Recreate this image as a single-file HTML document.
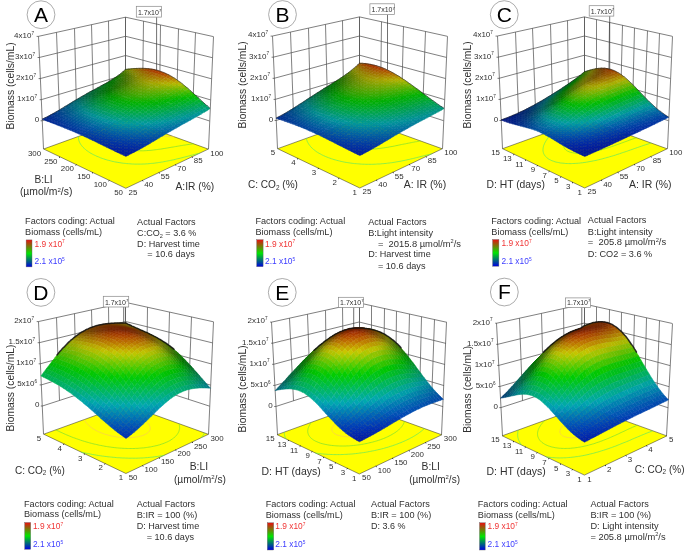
<!DOCTYPE html><html><head><meta charset="utf-8"><style>html,body{margin:0;padding:0;background:#fff;width:685px;height:553px;overflow:hidden}
svg{position:absolute;left:0;top:0;will-change:transform;font-family:"Liberation Sans",sans-serif;fill:#303030}
.s path{fill:currentColor;stroke:currentColor;stroke-width:.5;stroke-linejoin:round}
.g{stroke:#555;stroke-width:.75;fill:none}
.fl{fill:#ff0;stroke:#222;stroke-width:.5}
</style></head><body><svg width="685" height="553" viewBox="0 0 685 553"><defs><linearGradient id="cb" x1="0" y1="0" x2="0" y2="1"><stop offset="0" stop-color="#e81010"/><stop offset=".5" stop-color="#00e600"/><stop offset="1" stop-color="#0000e0"/></linearGradient></defs><path class="g" d="M43.5 149L38.5 36.4M59.5 115.2L56.5 32.4M76.5 109.7L74.5 28.5M93.5 104.3L91.5 24.7M109.5 99L108.5 20.9M125.5 93.8L125.5 17.2M42.2 120.8L125.7 93.8M41.2 99.7L125.7 74.6M40.2 78.6L125.6 55.5M39.2 57.5L125.6 36.3M38.2 36.4L125.5 17.2M208.5 149.1L213.5 36.6M192.5 115.5L195.5 32.7M176.5 110.1L178.5 28.8M159.5 104.7L160.5 25M142.5 99.2L143.5 21.1M125.5 93.8L125.5 17.2M209.6 121L125.7 93.8M210.5 99.9L125.7 74.6M211.5 78.8L125.6 55.5M212.4 57.7L125.6 36.3M213.4 36.6L125.5 17.2"/><path class="fl" d="M125.8 188.3L208.3 149.1L125.8 119.3L43.6 149Z"/><path d="M199.7 153.2 198.3 153.5 197.1 153.8 195.5 154.2 194.4 154.5 192.8 155.0 191.7 155.2 190.0 155.7 188.9 156.0 187.3 156.4 186.1 156.7 184.5 157.1 183.3 157.4 181.8 157.8 180.6 158.1 179.0 158.5 177.9 158.7 176.2 159.1 175.3 159.4 173.4 159.8 172.4 160.0 170.5 160.4 169.5 160.6 168.1 160.9 166.6 161.2 165.6 161.4 163.8 161.7 162.5 162.0 161.5 162.1 159.7 162.4 158.3 162.6 157.2 162.8 156.0 162.9 154.2 163.2 152.8 163.3 151.6 163.4 150.5 163.5 149.1 163.7 147.5 163.8 146.0 163.9 144.5 164.0 143.1 164.0 141.7 164.1 140.4 164.1 139.0 164.1 137.6 164.1 136.2 164.1 134.8 164.1 133.6 164.0 132.3 164.0 131.1 163.9 129.9 163.8 128.4 163.7 126.7 163.6 125.3 163.4 124.2 163.3 123.1 163.2 121.1 162.9 120.0 162.7 119.0 162.6 117.0 162.2 116.0 162.1 114.5 161.8 113.2 161.5 111.8 161.2 110.4 160.8 108.8 160.4 107.8 160.2 106.2 159.7 105.0 159.3 103.7 158.9 102.2 158.4 100.6 157.8 99.2 157.2 98.2 156.8 97.0 156.4 95.7 155.7 94.8 155.3 93.7 154.8 92.4 154.1 91.2 153.4 90.0 152.8 89.3 152.3 88.4 151.7 87.3 150.9 86.8 150.6 85.8 149.8 85.3 149.3 84.4 148.6 84.0 148.2 83.2 147.4 82.8 147.0 82.1 146.2 81.7 145.7 81.4 145.3 80.8 144.5 80.5 143.9 80.2 143.5 79.9 143.0 79.6 142.3 79.3 141.6 79.1 141.1 78.9 140.6 78.8 140.1 78.7 139.6 78.6 139.1 78.5 138.5 78.5 138.0 78.5 137.4 78.5 136.9 78.5 136.4" fill="none" stroke="#5ee860" stroke-width=".7"/><path d="M193.6 143.8 192.4 143.9 190.8 144.2 189.1 144.4 188.0 144.6 186.9 144.7 185.2 145.0 183.7 145.2 182.7 145.4 181.3 145.6 179.5 145.9 178.5 146.1 177.3 146.3 175.4 146.6 174.3 146.8 173.2 147.0 171.2 147.3 170.2 147.5 169.0 147.7 167.2 148.0 166.1 148.2 164.8 148.4 163.0 148.7 162.0 148.9 160.8 149.1 158.8 149.3 157.8 149.5 156.7 149.6 155.1 149.8 153.4 150.0 152.2 150.2 151.1 150.3 149.9 150.4 148.2 150.5 146.7 150.6 145.2 150.7 143.7 150.8 142.4 150.8 141.0 150.8 139.6 150.8 138.3 150.8 137.1 150.7 135.9 150.6 134.8 150.6 133.1 150.4 131.5 150.2 130.5 150.1 128.9 149.8 127.6 149.6 126.2 149.3 124.9 149.0 123.3 148.5 121.8 148.0 120.4 147.4 120.4 147.4 119.1 146.8 117.8 146.2 116.7 145.5 116.1 145.1 115.2 144.4 114.7 143.9 114.0 143.3 113.6 142.8 113.1 142.2 112.7 141.5 112.5 141.1 112.3 140.6 112.1 140.1 111.9 139.5 111.8 138.9 111.7 138.3 111.7 137.7 111.7 137.2 111.7 136.7 111.8 136.2 111.8 135.7 111.9 135.2 112.1 134.7 112.2 134.1 112.4 133.5 112.6 132.9 112.8 132.3 112.9 131.8 113.1 131.4 113.3 130.9 113.5 130.5 113.7 129.9 113.9 129.3 114.1 128.7 114.3 128.2 114.5 127.7 114.6 127.3 114.7 126.8 114.9 126.3 115.0 125.7 115.2 125.2 115.3 124.6 115.4 124.1 115.4 123.6 115.5 123.0" fill="none" stroke="#78e030" stroke-width=".7"/><path d="M174.3 136.8 172.7 136.8 171.3 136.7 170.2 136.7 169.0 136.6 167.4 136.5 165.8 136.4 164.7 136.3 163.5 136.1 161.7 135.9 160.7 135.8 158.9 135.5 157.9 135.3 156.1 135.0 155.3 134.8 153.7 134.4 152.2 133.9 150.8 133.4 149.5 132.9 148.2 132.3 147.1 131.7 146.5 131.4 145.5 130.8 144.8 130.3 144.0 129.8 143.4 129.3 142.7 128.7 142.2 128.3 141.4 127.7 141.0 127.3 140.3 126.6 139.9 126.2 139.4 125.8 138.8 125.1 138.4 124.7 137.9 124.2 137.3 123.6 137.1 123.4" fill="none" stroke="#f8cc50" stroke-width=".7"/><path d="M142.3 180.5l.9 .6M158.8 172.6l.9 .6M175.3 164.8l.9 .6M191.8 156.9l.9 .6M109.4 180.4l-.9 .6M92.9 172.6l-.9 .6M76.5 164.7l-.9 .6M60.0 156.9l-.9 .6" stroke="#111" stroke-width="1"/><g class="s"><path color="#5d8200" d="M125.7 71.7l2.8-2.6-2.8 .3-2.8 2.5z"/><path color="#3e7800" d="M122.9 74l2.8-2.3-2.8 .3-2.8 2.3z"/><path color="#728500" d="M128.5 71.4l2.8-2.6-2.8 .3-2.8 2.6z"/><path color="#287300" d="M120 76.1l2.8-2.1-2.8 .3-2.8 2.1z"/><path color="#517b00" d="M125.7 73.7l2.8-2.3-2.8 .3-2.8 2.3z"/><path color="#888900" d="M131.3 71.2l2.8-2.6-2.8 .2-2.8 2.6z"/><path color="#177300" d="M117.2 78l2.8-1.9-2.8 .2-2.8 1.9z"/><path color="#387300" d="M122.9 75.8l2.8-2.1-2.8 .2-2.8 2.1z"/><path color="#647f00" d="M128.5 73.5l2.8-2.3-2.8 .2-2.8 2.3z"/><path color="#8d7c00" d="M134.2 71l2.8-2.6-2.8 .2-2.8 2.6z"/><path color="#097300" d="M114.4 79.8l2.8-1.8-2.8 .2-2.8 1.8z"/><path color="#277300" d="M120.1 77.8l2.8-2-2.8 .2-2.8 1.9z"/><path color="#487500" d="M125.7 75.7l2.8-2.1-2.8 .2-2.8 2.1z"/><path color="#788300" d="M131.4 73.4l2.8-2.4-2.8 .2-2.8 2.3z"/><path color="#917000" d="M137 71l2.8-2.6-2.9 .1-2.8 2.6z"/><path color="#007203" d="M111.6 81.5l2.8-1.7-2.8 .2-2.8 1.7z"/><path color="#187300" d="M117.2 79.6l2.8-1.8-2.8 .2-2.8 1.8z"/><path color="#367300" d="M122.9 77.6l2.8-2-2.8 .2-2.8 2z"/><path color="#5a7a00" d="M128.5 75.5l2.8-2.1-2.8 .1-2.8 2.1z"/><path color="#888300" d="M134.2 73.3l2.8-2.4-2.8 .1-2.8 2.4z"/><path color="#956400" d="M139.9 71l2.8-2.6-2.9-0-2.8 2.6z"/><path color="#00700c" d="M108.8 83.2l2.8-1.6-2.8 .2-2.8 1.6z"/><path color="#0b7300" d="M114.4 81.3l2.8-1.7-2.8 .2-2.8 1.7z"/><path color="#277300" d="M120.1 79.5l2.8-1.8-2.8 .2-2.8 1.8z"/><path color="#447300" d="M125.7 77.5l2.8-2-2.8 .1-2.8 2z"/><path color="#6d7f00" d="M131.4 75.5l2.8-2.2-2.8 .1-2.8 2.1z"/><path color="#8c7a00" d="M137 73.3l2.8-2.4-2.8-0-2.8 2.4z"/><path color="#995900" d="M142.7 71.1l2.8-2.6-2.9-.1-2.8 2.6z"/><path color="#006f14" d="M106 84.7l2.8-1.6-2.8 .2-2.8 1.6z"/><path color="#007301" d="M111.6 83l2.8-1.7-2.8 .2-2.8 1.6z"/><path color="#1a7300" d="M117.3 81.2l2.8-1.7-2.8 .2-2.8 1.7z"/><path color="#357300" d="M122.9 79.4l2.8-1.8-2.8 .1-2.8 1.8z"/><path color="#547600" d="M128.5 77.5l2.8-2-2.8 .1-2.8 2z"/><path color="#7f8400" d="M134.2 75.5l2.8-2.2-2.8-0-2.8 2.2z"/><path color="#917100" d="M139.9 73.5l2.8-2.4-2.9-.1-2.8 2.4z"/><path color="#9d4f00" d="M145.6 71.3l2.9-2.6-2.9-.2-2.8 2.6z"/><path color="#006d1c" d="M103.2 86.3l2.8-1.6-2.8 .1-2.8 1.5z"/><path color="#007109" d="M108.8 84.6l2.8-1.6-2.8 .1-2.8 1.6z"/><path color="#0e7300" d="M114.4 82.9l2.8-1.7-2.8 .1-2.8 1.7z"/><path color="#287300" d="M120.1 81.1l2.8-1.8-2.8 .1-2.8 1.7z"/><path color="#437300" d="M125.7 79.3l2.8-1.9-2.8 .1-2.8 1.8z"/><path color="#657c00" d="M131.4 77.5l2.8-2-2.8-0-2.8 2z"/><path color="#8a8200" d="M137.1 75.6l2.8-2.2-2.8-.1-2.8 2.2z"/><path color="#966900" d="M142.7 73.7l2.8-2.4-2.9-.2-2.8 2.4z"/><path color="#a14800" d="M148.4 71.7l2.9-2.6-2.9-.4-2.9 2.6z"/><path color="#006c23" d="M100.4 87.8l2.8-1.5-2.8 .1-2.8 1.5z"/><path color="#007011" d="M106 86.2l2.8-1.6-2.8 .1-2.8 1.6z"/><path color="#037300" d="M111.6 84.5l2.8-1.6-2.8 .1-2.8 1.6z"/><path color="#1c7300" d="M117.3 82.8l2.8-1.7-2.8 .1-2.8 1.7z"/><path color="#357300" d="M122.9 81.1l2.8-1.8-2.8 0-2.8 1.8z"/><path color="#507500" d="M128.6 79.4l2.8-1.9-2.8-0-2.8 1.9z"/><path color="#778200" d="M134.2 77.6l2.8-2-2.8-.1-2.8 2z"/><path color="#8f7c00" d="M139.9 75.9l2.8-2.2-2.8-.2-2.8 2.2z"/><path color="#9b6300" d="M145.6 74.1l2.8-2.4-2.9-.4-2.8 2.4z"/><path color="#a54300" d="M151.3 72.2l2.9-2.6-2.9-.5-2.9 2.6z"/><path color="#006b2a" d="M97.6 89.4l2.8-1.5-2.8 .1-2.8 1.5z"/><path color="#006e18" d="M103.2 87.7l2.8-1.6-2.8 .1-2.8 1.5z"/><path color="#007205" d="M108.8 86.1l2.8-1.6-2.8 .1-2.8 1.6z"/><path color="#117300" d="M114.5 84.4l2.8-1.6-2.8 .1-2.8 1.6z"/><path color="#297300" d="M120.1 82.8l2.8-1.7-2.8 0-2.8 1.7z"/><path color="#427300" d="M125.7 81.1l2.8-1.8-2.8-0-2.8 1.8z"/><path color="#617c00" d="M131.4 79.5l2.8-1.9-2.8-.1-2.8 1.9z"/><path color="#878800" d="M137.1 77.9l2.8-2-2.8-.2-2.8 2z"/><path color="#947700" d="M142.7 76.2l2.8-2.2-2.8-.4-2.8 2.2z"/><path color="#9f5f00" d="M148.4 74.6l2.9-2.4-2.9-.5-2.8 2.4z"/><path color="#a94000" d="M154.1 72.9l2.9-2.6-2.9-.7-2.9 2.6z"/><path color="#006931" d="M94.8 90.9l2.8-1.5-2.8 .1-2.8 1.5z"/><path color="#006d1f" d="M100.4 89.3l2.8-1.6-2.8 .1-2.8 1.5z"/><path color="#00700d" d="M106 87.7l2.8-1.6-2.8 .1-2.8 1.6z"/><path color="#077300" d="M111.6 86l2.8-1.6-2.8 .1-2.8 1.6z"/><path color="#1f7300" d="M117.3 84.4l2.8-1.6-2.8 0-2.8 1.6z"/><path color="#367300" d="M122.9 82.8l2.8-1.7-2.8-0-2.8 1.7z"/><path color="#4f7600" d="M128.6 81.3l2.8-1.8-2.8-.1-2.8 1.8z"/><path color="#718300" d="M134.2 79.7l2.8-1.9-2.8-.2-2.8 1.9z"/><path color="#8e8600" d="M139.9 78.2l2.8-2-2.8-.4-2.8 2z"/><path color="#997400" d="M145.6 76.7l2.8-2.1-2.8-.5-2.8 2.2z"/><path color="#a35d00" d="M151.3 75.3l2.9-2.3-2.9-.7-2.9 2.4z"/><path color="#ac4100" d="M157 73.8l2.9-2.6-2.9-.9-2.9 2.6z"/><path color="#006839" d="M92 92.4l2.8-1.6-2.8 0-2.8 1.5z"/><path color="#006b27" d="M97.6 90.9l2.8-1.6-2.8 .1-2.8 1.5z"/><path color="#006f14" d="M103.2 89.2l2.8-1.6-2.8 .1-2.8 1.6z"/><path color="#007202" d="M108.8 87.6l2.8-1.6-2.8 .1-2.8 1.6z"/><path color="#147300" d="M114.5 86l2.8-1.6-2.8 0-2.8 1.6z"/><path color="#2b7300" d="M120.1 84.5l2.8-1.7-2.8-0-2.8 1.6z"/><path color="#417300" d="M125.7 83l2.8-1.7-2.8-.1-2.8 1.7z"/><path color="#5f7e00" d="M131.4 81.5l2.8-1.8-2.8-.2-2.8 1.8z"/><path color="#808900" d="M137.1 80.1l2.8-1.9-2.8-.4-2.8 1.9z"/><path color="#948400" d="M142.8 78.7l2.8-2-2.8-.5-2.8 2z"/><path color="#9e7300" d="M148.4 77.4l2.8-2.1-2.8-.7-2.8 2.1z"/><path color="#a75e00" d="M154.1 76.1l2.9-2.3-2.8-.8-2.9 2.3z"/><path color="#af4500" d="M159.8 74.8l2.9-2.5-2.8-1-2.9 2.6z"/><path color="#006640" d="M89.2 94l2.8-1.6-2.8-0-2.8 1.5z"/><path color="#006a2e" d="M94.8 92.5l2.8-1.6-2.8 0-2.8 1.6z"/><path color="#006d1c" d="M100.4 90.8l2.8-1.6-2.8 0-2.8 1.6z"/><path color="#00710a" d="M106 89.2l2.8-1.6-2.8 0-2.8 1.6z"/><path color="#0a7300" d="M111.7 87.6l2.8-1.6-2.8-0-2.8 1.6z"/><path color="#207300" d="M117.3 86.1l2.8-1.6-2.8-.1-2.8 1.6z"/><path color="#367300" d="M122.9 84.6l2.8-1.7-2.8-.1-2.8 1.7z"/><path color="#507a00" d="M128.6 83.2l2.8-1.7-2.8-.2-2.8 1.7z"/><path color="#6d8500" d="M134.2 81.9l2.8-1.8-2.8-.4-2.8 1.8z"/><path color="#8d9000" d="M139.9 80.6l2.8-1.9-2.8-.5-2.8 1.9z"/><path color="#998400" d="M145.6 79.4l2.8-2-2.8-.7-2.8 2z"/><path color="#a37400" d="M151.3 78.2l2.8-2.1-2.8-.8-2.8 2.1z"/><path color="#ab6200" d="M157 77.1l2.9-2.3-2.8-1-2.9 2.3z"/><path color="#b24c00" d="M162.7 76l2.9-2.5-2.8-1.2-2.9 2.5z"/><path color="#006547" d="M86.5 95.6l2.8-1.6-2.8-0-2.8 1.6z"/><path color="#006836" d="M92 94.1l2.8-1.6-2.8-0-2.8 1.6z"/><path color="#006c24" d="M97.6 92.5l2.8-1.6-2.8 0-2.8 1.6z"/><path color="#006f12" d="M103.2 90.9l2.8-1.6-2.8 0-2.8 1.6z"/><path color="#007300" d="M108.8 89.3l2.8-1.6-2.8-0-2.8 1.6z"/><path color="#167300" d="M114.5 87.7l2.8-1.6-2.8-.1-2.8 1.6z"/><path color="#2c7300" d="M120.1 86.3l2.8-1.6-2.8-.1-2.8 1.6z"/><path color="#437800" d="M125.8 84.9l2.8-1.7-2.8-.2-2.8 1.7z"/><path color="#5e8200" d="M131.4 83.6l2.8-1.7-2.8-.4-2.8 1.7z"/><path color="#7a8c00" d="M137.1 82.3l2.8-1.8-2.8-.5-2.8 1.8z"/><path color="#959200" d="M142.8 81.2l2.8-1.9-2.8-.6-2.8 1.9z"/><path color="#9e8600" d="M148.4 80.2l2.8-2-2.8-.8-2.8 2z"/><path color="#a77800" d="M154.1 79.2l2.9-2.1-2.8-1-2.8 2.1z"/><path color="#ae6900" d="M159.8 78.2l2.9-2.3-2.8-1.2-2.9 2.3z"/><path color="#b45700" d="M165.5 77.3l2.9-2.5-2.8-1.4-2.9 2.5z"/><path color="#00634f" d="M83.7 97.3l2.8-1.6-2.8-.1-2.8 1.6z"/><path color="#00673e" d="M89.3 95.7l2.8-1.7-2.8-0-2.8 1.6z"/><path color="#006a2c" d="M94.8 94.1l2.8-1.7-2.8-0-2.8 1.6z"/><path color="#006e1a" d="M100.4 92.5l2.8-1.7-2.8-0-2.8 1.6z"/><path color="#007108" d="M106 90.9l2.8-1.6-2.8-0-2.8 1.6z"/><path color="#0c7300" d="M111.7 89.4l2.8-1.6-2.8-.1-2.8 1.6z"/><path color="#217300" d="M117.3 87.9l2.8-1.6-2.8-.2-2.8 1.6z"/><path color="#387800" d="M122.9 86.5l2.8-1.6-2.8-.2-2.8 1.6z"/><path color="#508000" d="M128.6 85.2l2.8-1.7-2.8-.4-2.8 1.7z"/><path color="#6a8900" d="M134.3 84.1l2.8-1.7-2.8-.5-2.8 1.7z"/><path color="#859200" d="M139.9 83l2.8-1.8-2.8-.6-2.8 1.8z"/><path color="#9b9500" d="M145.6 82l2.8-1.8-2.8-.8-2.8 1.9z"/><path color="#a38b00" d="M151.3 81.1l2.8-2-2.8-1-2.8 2z"/><path color="#aa8000" d="M157 80.3l2.9-2.1-2.8-1.2-2.9 2.1z"/><path color="#b07300" d="M162.6 79.6l2.9-2.3-2.8-1.4-2.9 2.3z"/><path color="#b66600" d="M168.3 78.8l2.9-2.4-2.8-1.6-2.9 2.5z"/><path color="#006257" d="M80.9 99l2.8-1.7-2.8-.1-2.8 1.6z"/><path color="#006546" d="M86.5 97.4l2.8-1.7-2.8-.1-2.8 1.6z"/><path color="#006934" d="M92 95.8l2.8-1.7-2.8-.1-2.8 1.7z"/><path color="#006c22" d="M97.6 94.2l2.8-1.7-2.8-0-2.8 1.7z"/><path color="#007010" d="M103.2 92.6l2.8-1.7-2.8-.1-2.8 1.7z"/><path color="#027300" d="M108.9 91l2.8-1.7-2.8-.1-2.8 1.6z"/><path color="#177300" d="M114.5 89.6l2.8-1.7-2.8-.2-2.8 1.6z"/><path color="#2d7800" d="M120.1 88.2l2.8-1.7-2.8-.3-2.8 1.6z"/><path color="#448000" d="M125.8 86.9l2.8-1.7-2.8-.4-2.8 1.6z"/><path color="#5c8800" d="M131.4 85.7l2.8-1.7-2.8-.5-2.8 1.7z"/><path color="#759000" d="M137.1 84.7l2.8-1.7-2.8-.6-2.8 1.7z"/><path color="#8d9800" d="M142.8 83.8l2.8-1.8-2.8-.8-2.8 1.8z"/><path color="#a09a00" d="M148.4 83l2.8-1.8-2.8-1-2.8 1.8z"/><path color="#a79200" d="M154.1 82.3l2.8-1.9-2.8-1.1-2.8 2z"/><path color="#ad8a00" d="M159.8 81.6l2.9-2.1-2.8-1.3-2.9 2.1z"/><path color="#b38200" d="M165.5 81.1l2.9-2.2-2.8-1.5-2.9 2.3z"/><path color="#b87900" d="M171.2 80.5l2.9-2.4-2.8-1.7-2.9 2.4z"/><path color="#006464" d="M78.1 100.7l2.8-1.7-2.8-.2-2.8 1.6z"/><path color="#006650" d="M83.7 99.2l2.8-1.7-2.8-.1-2.8 1.7z"/><path color="#00673c" d="M89.3 97.6l2.8-1.7-2.8-.1-2.8 1.7z"/><path color="#006b2a" d="M94.8 96l2.8-1.7-2.8-.1-2.8 1.7z"/><path color="#006e18" d="M100.4 94.3l2.8-1.7-2.8-.1-2.8 1.7z"/><path color="#007107" d="M106.1 92.8l2.8-1.7-2.8-.1-2.8 1.7z"/><path color="#0d7600" d="M111.7 91.2l2.8-1.7-2.8-.2-2.8 1.7z"/><path color="#237a00" d="M117.3 89.8l2.8-1.7-2.8-.3-2.8 1.7z"/><path color="#398000" d="M123 88.5l2.8-1.7-2.8-.4-2.8 1.7z"/><path color="#508700" d="M128.6 87.4l2.8-1.7-2.8-.5-2.8 1.7z"/><path color="#678f00" d="M134.3 86.4l2.8-1.7-2.8-.6-2.8 1.7z"/><path color="#7d9600" d="M139.9 85.5l2.8-1.7-2.8-.8-2.8 1.7z"/><path color="#929d00" d="M145.6 84.7l2.8-1.8-2.8-1-2.8 1.8z"/><path color="#a4a200" d="M151.3 84.1l2.8-1.8-2.8-1.1-2.8 1.8z"/><path color="#aa9d00" d="M156.9 83.6l2.8-1.9-2.8-1.3-2.8 1.9z"/><path color="#b09800" d="M162.6 83.1l2.9-2-2.8-1.5-2.9 2.1z"/><path color="#b59300" d="M168.3 82.7l2.9-2.2-2.8-1.7-2.9 2.2z"/><path color="#b98e00" d="M174 82.4l2.9-2.4-2.8-1.9-2.9 2.4z"/><path color="#00646d" d="M75.4 102.4l2.8-1.7-2.8-.3-2.8 1.7z"/><path color="#00695d" d="M80.9 100.9l2.8-1.8-2.8-.2-2.8 1.7z"/><path color="#006b49" d="M86.5 99.4l2.8-1.8-2.8-.1-2.8 1.7z"/><path color="#006d35" d="M92.1 97.8l2.8-1.8-2.8-.1-2.8 1.7z"/><path color="#007123" d="M97.7 96.1l2.8-1.8-2.8-.1-2.8 1.7z"/><path color="#007510" d="M103.3 94.5l2.8-1.8-2.8-.2-2.8 1.7z"/><path color="#027a00" d="M108.9 93l2.8-1.7-2.8-.2-2.8 1.7z"/><path color="#187e00" d="M114.5 91.6l2.8-1.7-2.8-.3-2.8 1.7z"/><path color="#2e8200" d="M120.1 90.2l2.8-1.7-2.8-.4-2.8 1.7z"/><path color="#448800" d="M125.8 89.1l2.8-1.7-2.8-.5-2.8 1.7z"/><path color="#5a8e00" d="M131.4 88l2.8-1.7-2.8-.6-2.8 1.7z"/><path color="#6f9500" d="M137.1 87.2l2.8-1.7-2.8-.8-2.8 1.7z"/><path color="#829c00" d="M142.8 86.4l2.8-1.7-2.8-1-2.8 1.7z"/><path color="#93a200" d="M148.4 85.8l2.8-1.8-2.8-1.1-2.8 1.8z"/><path color="#a3a800" d="M154.1 85.4l2.8-1.8-2.8-1.3-2.8 1.8z"/><path color="#adaa00" d="M159.8 85l2.8-1.9-2.8-1.5-2.8 1.9z"/><path color="#b2a900" d="M165.5 84.8l2.9-2-2.8-1.7-2.9 2z"/><path color="#b6a800" d="M171.1 84.5l2.9-2.2-2.8-1.8-2.9 2.2z"/><path color="#baa700" d="M176.8 84.4l2.9-2.3-2.8-2-2.9 2.4z"/><path color="#006173" d="M72.6 104.2l2.8-1.8-2.8-.3-2.8 1.7z"/><path color="#006b6c" d="M78.1 102.7l2.8-1.8-2.8-.3-2.8 1.7z"/><path color="#006e57" d="M83.7 101.2l2.8-1.8-2.8-.2-2.8 1.8z"/><path color="#007142" d="M89.3 99.6l2.8-1.8-2.8-.2-2.8 1.8z"/><path color="#00742e" d="M94.9 98l2.8-1.8-2.8-.2-2.8 1.8z"/><path color="#00781b" d="M100.5 96.3l2.8-1.8-2.8-.2-2.8 1.8z"/><path color="#007d09" d="M106.1 94.8l2.8-1.8-2.8-.2-2.8 1.8z"/><path color="#0c8100" d="M111.7 93.3l2.8-1.8-2.8-.3-2.8 1.7z"/><path color="#238500" d="M117.3 92l2.8-1.7-2.8-.4-2.8 1.7z"/><path color="#398a00" d="M123 90.8l2.8-1.7-2.8-.5-2.8 1.7z"/><path color="#4e8f00" d="M128.6 89.7l2.8-1.7-2.8-.6-2.8 1.7z"/><path color="#619500" d="M134.3 88.8l2.8-1.7-2.8-.8-2.8 1.7z"/><path color="#739b00" d="M139.9 88.1l2.8-1.7-2.8-1-2.8 1.7z"/><path color="#83a000" d="M145.6 87.6l2.8-1.7-2.8-1.1-2.8 1.7z"/><path color="#90a600" d="M151.3 87.1l2.8-1.7-2.8-1.3-2.8 1.8z"/><path color="#9bab00" d="M156.9 86.8l2.8-1.8-2.8-1.5-2.8 1.8z"/><path color="#a4b000" d="M162.6 86.7l2.8-1.9-2.8-1.6-2.8 1.9z"/><path color="#aab400" d="M168.3 86.6l2.9-2-2.8-1.8-2.9 2z"/><path color="#afb800" d="M173.9 86.5l2.9-2.1-2.8-2-2.9 2.2z"/><path color="#b3bb00" d="M179.6 86.5l2.9-2.3-2.8-2.2-2.9 2.3z"/><path color="#005c78" d="M69.8 105.9l2.8-1.8-2.8-.4-2.8 1.7z"/><path color="#006a75" d="M75.4 104.6l2.8-1.8-2.8-.3-2.8 1.8z"/><path color="#007066" d="M80.9 103.1l2.8-1.9-2.8-.3-2.8 1.8z"/><path color="#007451" d="M86.5 101.5l2.8-1.9-2.8-.2-2.8 1.8z"/><path color="#00773c" d="M92.1 99.9l2.8-1.9-2.8-.2-2.8 1.8z"/><path color="#007b27" d="M97.7 98.2l2.8-1.9-2.8-.2-2.8 1.8z"/><path color="#008014" d="M103.3 96.6l2.8-1.9-2.8-.3-2.8 1.8z"/><path color="#008501" d="M108.9 95.1l2.8-1.8-2.8-.3-2.8 1.8z"/><path color="#168800" d="M114.5 93.8l2.8-1.8-2.8-.4-2.8 1.8z"/><path color="#2d8c00" d="M120.1 92.5l2.8-1.7-2.8-.5-2.8 1.7z"/><path color="#419100" d="M125.8 91.4l2.8-1.7-2.8-.7-2.8 1.7z"/><path color="#559500" d="M131.4 90.5l2.8-1.7-2.8-.8-2.8 1.7z"/><path color="#669b00" d="M137.1 89.8l2.8-1.7-2.8-1-2.8 1.7z"/><path color="#74a000" d="M142.8 89.2l2.8-1.7-2.8-1.1-2.8 1.7z"/><path color="#80a500" d="M148.4 88.8l2.8-1.7-2.8-1.3-2.8 1.7z"/><path color="#89a900" d="M154.1 88.6l2.8-1.7-2.8-1.5-2.8 1.7z"/><path color="#90ae00" d="M159.8 88.5l2.8-1.8-2.8-1.6-2.8 1.8z"/><path color="#94b200" d="M165.4 88.4l2.8-1.9-2.8-1.8-2.8 1.9z"/><path color="#96b500" d="M171.1 88.5l2.9-2-2.8-2-2.9 2z"/><path color="#96b900" d="M176.7 88.6l2.9-2.1-2.8-2.1-2.9 2.1z"/><path color="#95bb00" d="M182.4 88.7l2.9-2.2-2.8-2.3-2.9 2.3z"/><path color="#00567d" d="M67.1 107.7l2.8-1.8-2.8-.5-2.8 1.7z"/><path color="#00647a" d="M72.6 106.4l2.8-1.8-2.8-.4-2.8 1.8z"/><path color="#007275" d="M78.2 105l2.8-1.9-2.8-.3-2.8 1.8z"/><path color="#007660" d="M83.7 103.4l2.8-1.9-2.8-.3-2.8 1.9z"/><path color="#00794a" d="M89.3 101.8l2.8-1.9-2.8-.3-2.8 1.9z"/><path color="#007e35" d="M94.9 100.2l2.8-1.9-2.8-.3-2.8 1.9z"/><path color="#008220" d="M100.5 98.6l2.8-1.9-2.8-.3-2.8 1.9z"/><path color="#00880c" d="M106.1 97l2.8-1.9-2.8-.4-2.8 1.9z"/><path color="#088c00" d="M111.7 95.6l2.8-1.9-2.8-.4-2.8 1.8z"/><path color="#1f8f00" d="M117.3 94.3l2.8-1.8-2.8-.5-2.8 1.8z"/><path color="#359300" d="M123 93.2l2.8-1.8-2.8-.7-2.8 1.7z"/><path color="#489700" d="M128.6 92.2l2.8-1.7-2.8-.8-2.8 1.7z"/><path color="#589b00" d="M134.3 91.5l2.8-1.7-2.8-1-2.8 1.7z"/><path color="#66a000" d="M139.9 90.9l2.8-1.7-2.8-1.1-2.8 1.7z"/><path color="#72a400" d="M145.6 90.5l2.8-1.7-2.8-1.3-2.8 1.7z"/><path color="#7aa800" d="M151.3 90.3l2.8-1.7-2.8-1.4-2.8 1.7z"/><path color="#7eac00" d="M156.9 90.2l2.8-1.7-2.8-1.6-2.8 1.7z"/><path color="#81b000" d="M162.6 90.2l2.8-1.8-2.8-1.8-2.8 1.8z"/><path color="#80b300" d="M168.2 90.3l2.8-1.9-2.8-1.9-2.8 1.9z"/><path color="#7eb700" d="M173.9 90.5l2.9-2-2.8-2.1-2.9 2z"/><path color="#7ab900" d="M179.5 90.8l2.9-2.1-2.8-2.2-2.9 2.1z"/><path color="#75bc00" d="M185.2 91l2.9-2.2-2.8-2.4-2.9 2.2z"/><path color="#005081" d="M64.3 109.4l2.8-1.7-2.8-.5-2.8 1.7z"/><path color="#005e7f" d="M69.8 108.2l2.8-1.8-2.8-.5-2.8 1.8z"/><path color="#006d7c" d="M75.4 106.9l2.8-1.9-2.8-.4-2.8 1.8z"/><path color="#00776f" d="M80.9 105.4l2.8-2-2.8-.3-2.8 1.9z"/><path color="#007b5a" d="M86.5 103.8l2.8-2-2.8-.3-2.8 1.9z"/><path color="#007f44" d="M92.1 102.2l2.8-2-2.8-.3-2.8 1.9z"/><path color="#00842e" d="M97.7 100.6l2.8-2-2.8-.3-2.8 1.9z"/><path color="#00891a" d="M103.3 99l2.8-2-2.8-.4-2.8 1.9z"/><path color="#008f06" d="M108.9 97.5l2.8-1.9-2.8-.5-2.8 1.9z"/><path color="#119300" d="M114.5 96.2l2.8-1.9-2.8-.6-2.8 1.9z"/><path color="#279500" d="M120.2 95l2.8-1.8-2.8-.7-2.8 1.8z"/><path color="#3a9900" d="M125.8 94l2.8-1.8-2.8-.8-2.8 1.8z"/><path color="#4b9c00" d="M131.5 93.2l2.8-1.7-2.8-1-2.8 1.7z"/><path color="#59a000" d="M137.1 92.6l2.8-1.7-2.8-1.1-2.8 1.7z"/><path color="#64a400" d="M142.8 92.2l2.8-1.7-2.8-1.3-2.8 1.7z"/><path color="#6ba800" d="M148.4 92l2.8-1.7-2.8-1.4-2.8 1.7z"/><path color="#6fab00" d="M154.1 91.9l2.8-1.7-2.8-1.6-2.8 1.7z"/><path color="#70af00" d="M159.7 91.9l2.8-1.7-2.8-1.8-2.8 1.7z"/><path color="#6eb200" d="M165.4 92.1l2.8-1.8-2.8-1.9-2.8 1.8z"/><path color="#69b500" d="M171 92.4l2.8-1.8-2.8-2.1-2.8 1.9z"/><path color="#63b700" d="M176.7 92.7l2.8-1.9-2.8-2.2-2.9 2z"/><path color="#5cba00" d="M182.3 93.1l2.9-2-2.8-2.3-2.9 2.1z"/><path color="#53bc00" d="M188 93.4l2.9-2.1-2.8-2.4-2.9 2.2z"/><path color="#004985" d="M61.5 111.2l2.8-1.7-2.8-.6-2.8 1.6z"/><path color="#005783" d="M67.1 110.1l2.8-1.8-2.8-.5-2.8 1.7z"/><path color="#006681" d="M72.6 108.8l2.8-1.9-2.8-.5-2.8 1.8z"/><path color="#00767e" d="M78.2 107.4l2.8-2-2.8-.4-2.8 1.9z"/><path color="#007c6a" d="M83.7 105.8l2.8-2-2.8-.4-2.8 2z"/><path color="#008154" d="M89.3 104.2l2.8-2-2.8-.4-2.8 2z"/><path color="#00863e" d="M94.9 102.6l2.8-2.1-2.8-.4-2.8 2z"/><path color="#008b28" d="M100.5 101l2.8-2-2.8-.4-2.8 2z"/><path color="#009013" d="M106.1 99.5l2.8-2-2.8-.5-2.8 2z"/><path color="#009600" d="M111.7 98.1l2.8-1.9-2.8-.6-2.8 1.9z"/><path color="#179800" d="M117.3 96.9l2.8-1.9-2.8-.7-2.8 1.9z"/><path color="#2c9b00" d="M123 95.8l2.8-1.8-2.8-.8-2.8 1.8z"/><path color="#3d9e00" d="M128.6 95l2.8-1.8-2.8-1-2.8 1.8z"/><path color="#4ba100" d="M134.3 94.3l2.8-1.7-2.8-1.1-2.8 1.7z"/><path color="#56a500" d="M139.9 93.9l2.8-1.7-2.8-1.3-2.8 1.7z"/><path color="#5da800" d="M145.6 93.6l2.8-1.7-2.8-1.4-2.8 1.7z"/><path color="#60ab00" d="M151.3 93.6l2.8-1.7-2.8-1.6-2.8 1.7z"/><path color="#61ae00" d="M156.9 93.6l2.8-1.7-2.8-1.8-2.8 1.7z"/><path color="#5db100" d="M162.6 93.8l2.8-1.7-2.8-1.9-2.8 1.7z"/><path color="#58b300" d="M168.2 94.1l2.8-1.8-2.8-2-2.8 1.8z"/><path color="#50b600" d="M173.8 94.5l2.8-1.8-2.8-2.2-2.8 1.8z"/><path color="#46b800" d="M179.5 95l2.8-1.9-2.8-2.3-2.8 1.9z"/><path color="#3bba00" d="M185.1 95.4l2.9-2-2.8-2.4-2.9 2z"/><path color="#30bc00" d="M190.7 95.9l2.9-2.1-2.8-2.5-2.9 2.1z"/><path color="#004288" d="M58.8 112.8l2.8-1.7-2.8-.7-2.8 1.6z"/><path color="#004f87" d="M64.3 111.8l2.8-1.8-2.8-.6-2.8 1.7z"/><path color="#005e85" d="M69.9 110.7l2.8-1.9-2.8-.5-2.8 1.8z"/><path color="#006e82" d="M75.4 109.3l2.8-2-2.8-.5-2.8 1.9z"/><path color="#007c7b" d="M81 107.9l2.8-2-2.8-.4-2.8 2z"/><path color="#008165" d="M86.5 106.3l2.8-2.1-2.8-.4-2.8 2z"/><path color="#00864f" d="M92.1 104.7l2.8-2.1-2.8-.4-2.8 2z"/><path color="#008b38" d="M97.7 103.1l2.8-2.1-2.8-.5-2.8 2.1z"/><path color="#009123" d="M103.3 101.6l2.8-2.1-2.8-.5-2.8 2z"/><path color="#00970e" d="M108.9 100.2l2.8-2-2.8-.6-2.8 2z"/><path color="#069b00" d="M114.5 98.9l2.8-2-2.8-.7-2.8 1.9z"/><path color="#1b9e00" d="M120.2 97.8l2.8-1.9-2.8-.8-2.8 1.9z"/><path color="#2ea000" d="M125.8 96.8l2.8-1.8-2.8-1-2.8 1.8z"/><path color="#3da300" d="M131.5 96.1l2.8-1.8-2.8-1.1-2.8 1.8z"/><path color="#48a600" d="M137.1 95.6l2.8-1.7-2.8-1.3-2.8 1.7z"/><path color="#4fa800" d="M142.8 95.3l2.8-1.7-2.8-1.4-2.8 1.7z"/><path color="#53ab00" d="M148.4 95.2l2.8-1.7-2.8-1.6-2.8 1.7z"/><path color="#52ae00" d="M154.1 95.3l2.8-1.7-2.8-1.8-2.8 1.7z"/><path color="#4fb000" d="M159.7 95.5l2.8-1.7-2.8-1.9-2.8 1.7z"/><path color="#48b300" d="M165.4 95.9l2.8-1.7-2.8-2-2.8 1.7z"/><path color="#3fb500" d="M171 96.3l2.8-1.7-2.8-2.1-2.8 1.8z"/><path color="#34b700" d="M176.6 96.8l2.8-1.8-2.8-2.3-2.8 1.8z"/><path color="#27b900" d="M182.3 97.3l2.8-1.9-2.8-2.4-2.8 1.9z"/><path color="#1aba00" d="M187.9 97.8l2.8-2-2.8-2.4-2.9 2z"/><path color="#0cbc00" d="M193.5 98.3l2.9-2-2.8-2.5-2.9 2.1z"/><path color="#003c8b" d="M56 114.5l2.8-1.6-2.8-.8-2.8 1.6z"/><path color="#00488a" d="M61.5 113.6l2.8-1.7-2.8-.7-2.8 1.7z"/><path color="#005688" d="M67.1 112.5l2.8-1.9-2.8-.6-2.8 1.8z"/><path color="#006587" d="M72.6 111.3l2.8-2-2.8-.6-2.8 1.9z"/><path color="#007684" d="M78.2 109.9l2.8-2-2.8-.5-2.8 2z"/><path color="#008177" d="M83.8 108.4l2.8-2.1-2.8-.5-2.8 2z"/><path color="#008660" d="M89.3 106.9l2.8-2.1-2.8-.5-2.8 2.1z"/><path color="#008b4a" d="M94.9 105.3l2.8-2.2-2.8-.5-2.8 2.1z"/><path color="#009133" d="M100.5 103.7l2.8-2.1-2.8-.6-2.8 2.1z"/><path color="#00971e" d="M106.1 102.3l2.8-2.1-2.8-.6-2.8 2.1z"/><path color="#009c0b" d="M111.7 100.9l2.8-2.1-2.8-.7-2.8 2z"/><path color="#09a000" d="M117.4 99.7l2.8-2-2.8-.9-2.8 2z"/><path color="#1da200" d="M123 98.8l2.8-1.9-2.8-1-2.8 1.9z"/><path color="#2da500" d="M128.6 98l2.8-1.9-2.8-1.1-2.8 1.8z"/><path color="#39a700" d="M134.3 97.4l2.8-1.8-2.8-1.3-2.8 1.8z"/><path color="#41a900" d="M139.9 97.1l2.8-1.7-2.8-1.4-2.8 1.7z"/><path color="#45ac00" d="M145.6 96.9l2.8-1.7-2.8-1.6-2.8 1.7z"/><path color="#45ae00" d="M151.2 97l2.8-1.7-2.8-1.7-2.8 1.7z"/><path color="#41b000" d="M156.9 97.2l2.8-1.7-2.8-1.9-2.8 1.7z"/><path color="#3ab200" d="M162.5 97.5l2.8-1.7-2.8-2-2.8 1.7z"/><path color="#30b400" d="M168.2 98l2.8-1.7-2.8-2.1-2.8 1.7z"/><path color="#24b600" d="M173.8 98.5l2.8-1.7-2.8-2.2-2.8 1.7z"/><path color="#16b700" d="M179.4 99.1l2.8-1.8-2.8-2.3-2.8 1.8z"/><path color="#07b900" d="M185 99.7l2.8-1.8-2.8-2.4-2.8 1.9z"/><path color="#00b906" d="M190.7 100.2l2.8-1.9-2.8-2.5-2.8 2z"/><path color="#00b812" d="M196.3 100.8l2.9-2-2.8-2.5-2.9 2z"/><path color="#00358c" d="M53.2 116l2.8-1.6-2.8-.8-2.8 1.5z"/><path color="#00408c" d="M58.8 115.3l2.8-1.7-2.8-.8-2.8 1.6z"/><path color="#004d8b" d="M64.3 114.4l2.8-1.8-2.8-.7-2.8 1.7z"/><path color="#005c8a" d="M69.9 113.2l2.8-1.9-2.8-.6-2.8 1.9z"/><path color="#006d88" d="M75.4 112l2.8-2-2.8-.6-2.8 2z"/><path color="#007e86" d="M81 110.5l2.8-2.1-2.8-.6-2.8 2z"/><path color="#008572" d="M86.6 109l2.8-2.2-2.8-.5-2.8 2.1z"/><path color="#008b5c" d="M92.1 107.5l2.8-2.2-2.8-.6-2.8 2.1z"/><path color="#009145" d="M97.7 105.9l2.8-2.2-2.8-.6-2.8 2.2z"/><path color="#00962f" d="M103.3 104.4l2.8-2.2-2.8-.7-2.8 2.1z"/><path color="#009c1b" d="M108.9 103.1l2.8-2.1-2.8-.8-2.8 2.1z"/><path color="#00a108" d="M114.6 101.8l2.8-2.1-2.8-.9-2.8 2.1z"/><path color="#0aa500" d="M120.2 100.8l2.8-2-2.8-1-2.8 2z"/><path color="#1ca700" d="M125.8 99.9l2.8-1.9-2.8-1.1-2.8 1.9z"/><path color="#29a800" d="M131.5 99.3l2.8-1.9-2.8-1.3-2.8 1.9z"/><path color="#32aa00" d="M137.1 98.9l2.8-1.8-2.8-1.4-2.8 1.8z"/><path color="#36ac00" d="M142.8 98.7l2.8-1.7-2.8-1.6-2.8 1.7z"/><path color="#37ae00" d="M148.4 98.7l2.8-1.7-2.8-1.7-2.8 1.7z"/><path color="#33b000" d="M154.1 98.9l2.8-1.7-2.8-1.9-2.8 1.7z"/><path color="#2cb200" d="M159.7 99.2l2.8-1.7-2.8-2-2.8 1.7z"/><path color="#22b300" d="M165.3 99.6l2.8-1.7-2.8-2.1-2.8 1.7z"/><path color="#15b500" d="M171 100.2l2.8-1.7-2.8-2.2-2.8 1.7z"/><path color="#07b600" d="M176.6 100.8l2.8-1.7-2.8-2.3-2.8 1.7z"/><path color="#00b607" d="M182.2 101.4l2.8-1.8-2.8-2.4-2.8 1.8z"/><path color="#00b514" d="M187.8 102.1l2.8-1.8-2.8-2.4-2.8 1.8z"/><path color="#00b421" d="M193.4 102.7l2.8-1.9-2.8-2.5-2.8 1.9z"/><path color="#00b22e" d="M199 103.3l2.8-1.9-2.8-2.5-2.9 2z"/><path color="#002f8e" d="M50.5 117.5l2.8-1.5-2.8-.9-2.8 1.4z"/><path color="#00398e" d="M56 116.9l2.8-1.6-2.8-.8-2.8 1.6z"/><path color="#00458e" d="M61.6 116.1l2.8-1.8-2.8-.8-2.8 1.7z"/><path color="#00538d" d="M67.1 115.1l2.8-1.9-2.8-.7-2.8 1.8z"/><path color="#00628c" d="M72.7 114l2.8-2-2.8-.7-2.8 1.9z"/><path color="#00748a" d="M78.2 112.6l2.8-2.1-2.8-.6-2.8 2z"/><path color="#008485" d="M83.8 111.2l2.8-2.2-2.8-.6-2.8 2.1z"/><path color="#00896f" d="M89.4 109.7l2.8-2.2-2.8-.6-2.8 2.2z"/><path color="#008f58" d="M94.9 108.2l2.8-2.2-2.8-.7-2.8 2.2z"/><path color="#009542" d="M100.5 106.7l2.8-2.2-2.8-.7-2.8 2.2z"/><path color="#009b2d" d="M106.1 105.3l2.8-2.2-2.8-.8-2.8 2.2z"/><path color="#00a019" d="M111.7 104l2.8-2.2-2.8-.9-2.8 2.1z"/><path color="#00a508" d="M117.4 102.9l2.8-2.1-2.8-1-2.8 2.1z"/><path color="#08a800" d="M123 101.9l2.8-2-2.8-1.2-2.8 2z"/><path color="#17aa00" d="M128.6 101.2l2.8-1.9-2.8-1.3-2.8 1.9z"/><path color="#21ac00" d="M134.3 100.7l2.8-1.9-2.8-1.5-2.8 1.9z"/><path color="#27ad00" d="M139.9 100.5l2.8-1.8-2.8-1.6-2.8 1.8z"/><path color="#28af00" d="M145.6 100.4l2.8-1.7-2.8-1.7-2.8 1.7z"/><path color="#25b000" d="M151.2 100.6l2.8-1.7-2.8-1.9-2.8 1.7z"/><path color="#1fb200" d="M156.9 100.9l2.8-1.7-2.8-2-2.8 1.7z"/><path color="#15b300" d="M162.5 101.3l2.8-1.7-2.8-2.1-2.8 1.7z"/><path color="#08b400" d="M168.1 101.8l2.8-1.7-2.8-2.2-2.8 1.7z"/><path color="#00b405" d="M173.8 102.5l2.8-1.7-2.8-2.3-2.8 1.7z"/><path color="#00b312" d="M179.4 103.1l2.8-1.7-2.8-2.4-2.8 1.7z"/><path color="#00b11f" d="M185 103.8l2.8-1.7-2.8-2.4-2.8 1.8z"/><path color="#00b02d" d="M190.6 104.5l2.8-1.8-2.8-2.4-2.8 1.8z"/><path color="#00ae3b" d="M196.2 105.1l2.8-1.8-2.8-2.5-2.8 1.9z"/><path color="#00ac48" d="M201.8 105.7l2.8-1.9-2.8-2.5-2.8 1.9z"/><path color="#002a8f" d="M47.7 119l2.8-1.4-2.8-.9-2.8 1.4z"/><path color="#00328f" d="M53.3 118.5l2.8-1.6-2.8-.9-2.8 1.5z"/><path color="#003d90" d="M58.8 117.8l2.8-1.7-2.8-.8-2.8 1.6z"/><path color="#004a90" d="M64.4 117l2.8-1.8-2.8-.8-2.8 1.8z"/><path color="#00588f" d="M69.9 115.9l2.8-2-2.8-.7-2.8 1.9z"/><path color="#00698e" d="M75.5 114.7l2.8-2.1-2.8-.7-2.8 2z"/><path color="#007b8c" d="M81 113.4l2.8-2.2-2.8-.7-2.8 2.1z"/><path color="#008882" d="M86.6 111.9l2.8-2.2-2.8-.7-2.8 2.2z"/><path color="#008e6c" d="M92.2 110.5l2.8-2.3-2.8-.7-2.8 2.2z"/><path color="#009356" d="M97.7 109l2.8-2.3-2.8-.7-2.8 2.2z"/><path color="#009940" d="M103.3 107.5l2.8-2.3-2.8-.8-2.8 2.2z"/><path color="#009f2c" d="M108.9 106.2l2.8-2.2-2.8-.9-2.8 2.2z"/><path color="#00a419" d="M114.6 105l2.8-2.2-2.8-1-2.8 2.2z"/><path color="#00a80a" d="M120.2 104l2.8-2.1-2.8-1.2-2.8 2.1z"/><path color="#03ac00" d="M125.8 103.2l2.8-2-2.8-1.3-2.8 2z"/><path color="#0fad00" d="M131.5 102.7l2.8-1.9-2.8-1.5-2.8 1.9z"/><path color="#16ae00" d="M137.1 102.3l2.8-1.9-2.8-1.6-2.8 1.9z"/><path color="#19b000" d="M142.8 102.2l2.8-1.8-2.8-1.7-2.8 1.8z"/><path color="#17b100" d="M148.4 102.3l2.8-1.7-2.8-1.9-2.8 1.7z"/><path color="#11b200" d="M154 102.6l2.8-1.7-2.8-2-2.8 1.7z"/><path color="#08b300" d="M159.7 103l2.8-1.7-2.8-2.1-2.8 1.7z"/><path color="#00b304" d="M165.3 103.5l2.8-1.7-2.8-2.2-2.8 1.7z"/><path color="#00b20f" d="M170.9 104.1l2.8-1.7-2.8-2.3-2.8 1.7z"/><path color="#00b01c" d="M176.5 104.8l2.8-1.7-2.8-2.3-2.8 1.7z"/><path color="#00af29" d="M182.2 105.5l2.8-1.7-2.8-2.4-2.8 1.7z"/><path color="#00ad38" d="M187.8 106.2l2.8-1.7-2.8-2.4-2.8 1.7z"/><path color="#00aa46" d="M193.4 106.9l2.8-1.8-2.8-2.4-2.8 1.8z"/><path color="#00a854" d="M199 107.5l2.8-1.8-2.8-2.4-2.8 1.8z"/><path color="#00a661" d="M204.5 108.1l2.8-1.9-2.8-2.4-2.8 1.9z"/><path color="#00258f" d="M45 120.3l2.8-1.4-2.8-1-2.8 1.3z"/><path color="#002c90" d="M50.5 120l2.8-1.5-2.8-.9-2.8 1.4z"/><path color="#003691" d="M56.1 119.4l2.8-1.6-2.8-.9-2.8 1.6z"/><path color="#004191" d="M61.6 118.7l2.8-1.8-2.8-.8-2.8 1.7z"/><path color="#004e91" d="M67.1 117.8l2.8-1.9-2.8-.8-2.8 1.8z"/><path color="#005e91" d="M72.7 116.7l2.8-2-2.8-.8-2.8 2z"/><path color="#006e90" d="M78.2 115.5l2.8-2.1-2.8-.7-2.8 2.1z"/><path color="#00818e" d="M83.8 114.2l2.8-2.2-2.8-.7-2.8 2.2z"/><path color="#008b80" d="M89.4 112.7l2.8-2.3-2.8-.7-2.8 2.2z"/><path color="#00916a" d="M95 111.3l2.8-2.3-2.8-.8-2.8 2.3z"/><path color="#009754" d="M100.6 109.9l2.8-2.3-2.8-.9-2.8 2.3z"/><path color="#009d3f" d="M106.2 108.5l2.8-2.3-2.8-.9-2.8 2.3z"/><path color="#00a22c" d="M111.8 107.3l2.8-2.3-2.8-1.1-2.8 2.2z"/><path color="#00a71c" d="M117.4 106.2l2.8-2.2-2.8-1.2-2.8 2.2z"/><path color="#00ab0e" d="M123 105.4l2.8-2.1-2.8-1.3-2.8 2.1z"/><path color="#00ae04" d="M128.7 104.7l2.8-2-2.8-1.5-2.8 2z"/><path color="#04b000" d="M134.3 104.3l2.8-1.9-2.8-1.6-2.8 1.9z"/><path color="#08b100" d="M139.9 104.1l2.8-1.9-2.8-1.7-2.8 1.9z"/><path color="#08b200" d="M145.6 104.1l2.8-1.8-2.8-1.9-2.8 1.8z"/><path color="#03b200" d="M151.2 104.3l2.8-1.7-2.8-2-2.8 1.7z"/><path color="#00b204" d="M156.8 104.7l2.8-1.7-2.8-2.1-2.8 1.7z"/><path color="#00b10d" d="M162.5 105.2l2.8-1.7-2.8-2.2-2.8 1.7z"/><path color="#00b019" d="M168.1 105.8l2.8-1.6-2.8-2.3-2.8 1.7z"/><path color="#00ae25" d="M173.7 106.4l2.8-1.6-2.8-2.3-2.8 1.7z"/><path color="#00ac33" d="M179.3 107.1l2.8-1.6-2.8-2.4-2.8 1.7z"/><path color="#00aa41" d="M184.9 107.9l2.8-1.7-2.8-2.4-2.8 1.7z"/><path color="#00a750" d="M190.5 108.6l2.8-1.7-2.8-2.4-2.8 1.7z"/><path color="#00a55e" d="M196.1 109.2l2.8-1.7-2.8-2.4-2.8 1.8z"/><path color="#00a36c" d="M201.7 109.9l2.8-1.8-2.8-2.4-2.8 1.8z"/><path color="#00a079" d="M207.3 110.4l2.8-1.8-2.7-2.4-2.8 1.9z"/><path color="#002791" d="M47.7 121.4l2.8-1.4-2.8-1-2.8 1.4z"/><path color="#002f92" d="M53.3 121l2.8-1.5-2.8-1-2.8 1.5z"/><path color="#003993" d="M58.8 120.4l2.8-1.7-2.8-.9-2.8 1.6z"/><path color="#004593" d="M64.4 119.6l2.8-1.8-2.8-.9-2.8 1.8z"/><path color="#005393" d="M69.9 118.7l2.8-2-2.8-.8-2.8 1.9z"/><path color="#006293" d="M75.5 117.6l2.8-2.1-2.8-.8-2.8 2z"/><path color="#007492" d="M81 116.4l2.8-2.2-2.8-.8-2.8 2.1z"/><path color="#008690" d="M86.6 115l2.8-2.3-2.8-.8-2.8 2.2z"/><path color="#008f7e" d="M92.2 113.6l2.8-2.3-2.8-.8-2.8 2.3z"/><path color="#009469" d="M97.8 112.2l2.8-2.4-2.8-.9-2.8 2.3z"/><path color="#009a54" d="M103.4 110.9l2.8-2.3-2.8-1-2.8 2.3z"/><path color="#00a040" d="M109 109.6l2.8-2.3-2.8-1.1-2.8 2.3z"/><path color="#00a42f" d="M114.6 108.5l2.8-2.3-2.8-1.2-2.8 2.3z"/><path color="#00a920" d="M120.2 107.5l2.8-2.2-2.8-1.3-2.8 2.2z"/><path color="#00ac14" d="M125.8 106.8l2.8-2.1-2.8-1.5-2.8 2.1z"/><path color="#00af0c" d="M131.5 106.3l2.8-2-2.8-1.6-2.8 2z"/><path color="#00b008" d="M137.1 106l2.8-1.9-2.8-1.7-2.8 1.9z"/><path color="#00b107" d="M142.8 105.9l2.8-1.9-2.8-1.9-2.8 1.9z"/><path color="#00b109" d="M148.4 106.1l2.8-1.8-2.8-2-2.8 1.8z"/><path color="#00b10f" d="M154 106.4l2.8-1.7-2.8-2.1-2.8 1.7z"/><path color="#00b017" d="M159.6 106.8l2.8-1.7-2.8-2.2-2.8 1.7z"/><path color="#00ae22" d="M165.3 107.4l2.8-1.7-2.8-2.3-2.8 1.7z"/><path color="#00ac2e" d="M170.9 108.1l2.8-1.6-2.8-2.3-2.8 1.6z"/><path color="#00aa3c" d="M176.5 108.8l2.8-1.6-2.8-2.3-2.8 1.6z"/><path color="#00a74a" d="M182.1 109.5l2.8-1.6-2.8-2.4-2.8 1.6z"/><path color="#00a558" d="M187.7 110.2l2.8-1.6-2.8-2.4-2.8 1.7z"/><path color="#00a267" d="M193.3 110.9l2.8-1.7-2.8-2.4-2.8 1.7z"/><path color="#00a075" d="M198.9 111.6l2.8-1.7-2.8-2.4-2.8 1.7z"/><path color="#009d83" d="M204.5 112.2l2.8-1.7-2.8-2.3-2.8 1.8z"/><path color="#002992" d="M50.5 122.4l2.8-1.5-2.8-1-2.8 1.4z"/><path color="#003193" d="M56.1 122l2.8-1.6-2.8-1-2.8 1.5z"/><path color="#003c94" d="M61.6 121.4l2.8-1.7-2.8-.9-2.8 1.7z"/><path color="#004895" d="M67.2 120.6l2.8-1.9-2.8-.9-2.8 1.8z"/><path color="#005795" d="M72.7 119.6l2.8-2-2.8-.9-2.8 2z"/><path color="#006794" d="M78.3 118.5l2.8-2.1-2.8-.8-2.8 2.1z"/><path color="#007993" d="M83.8 117.3l2.8-2.2-2.8-.8-2.8 2.2z"/><path color="#008b92" d="M89.4 115.9l2.8-2.3-2.8-.9-2.8 2.3z"/><path color="#00917e" d="M95 114.6l2.8-2.4-2.8-.9-2.8 2.3z"/><path color="#009769" d="M100.6 113.2l2.8-2.4-2.8-1-2.8 2.4z"/><path color="#009d55" d="M106.2 112l2.8-2.4-2.8-1.1-2.8 2.3z"/><path color="#00a243" d="M111.8 110.8l2.8-2.3-2.8-1.2-2.8 2.3z"/><path color="#00a633" d="M117.4 109.8l2.8-2.3-2.8-1.3-2.8 2.3z"/><path color="#00aa26" d="M123 109l2.8-2.2-2.8-1.5-2.8 2.2z"/><path color="#00ac1d" d="M128.7 108.4l2.8-2.1-2.8-1.6-2.8 2.1z"/><path color="#00ae17" d="M134.3 108l2.8-2-2.8-1.7-2.8 2z"/><path color="#00af15" d="M139.9 107.9l2.8-1.9-2.8-1.9-2.8 1.9z"/><path color="#00b016" d="M145.6 107.9l2.8-1.8-2.8-2-2.8 1.9z"/><path color="#00af1a" d="M151.2 108.2l2.8-1.8-2.8-2.1-2.8 1.8z"/><path color="#00ae22" d="M156.8 108.6l2.8-1.7-2.8-2.2-2.8 1.7z"/><path color="#00ac2c" d="M162.4 109.1l2.8-1.7-2.8-2.3-2.8 1.7z"/><path color="#00aa37" d="M168.1 109.7l2.8-1.6-2.8-2.3-2.8 1.7z"/><path color="#00a844" d="M173.7 110.4l2.8-1.6-2.8-2.3-2.8 1.6z"/><path color="#00a552" d="M179.3 111.1l2.8-1.6-2.8-2.4-2.8 1.6z"/><path color="#00a360" d="M184.9 111.8l2.8-1.6-2.8-2.4-2.8 1.6z"/><path color="#00a06f" d="M190.5 112.5l2.8-1.6-2.8-2.3-2.8 1.6z"/><path color="#009d7d" d="M196.1 113.2l2.8-1.6-2.8-2.3-2.8 1.7z"/><path color="#009a8b" d="M201.6 113.8l2.8-1.7-2.8-2.3-2.8 1.7z"/><path color="#002b94" d="M53.3 123.5l2.8-1.5-2.8-1-2.8 1.5z"/><path color="#003495" d="M58.9 123l2.8-1.6-2.8-1-2.8 1.6z"/><path color="#003f96" d="M64.4 122.4l2.8-1.8-2.8-.9-2.8 1.7z"/><path color="#004c97" d="M70 121.5l2.8-1.9-2.8-.9-2.8 1.9z"/><path color="#005b97" d="M75.5 120.6l2.8-2.1-2.8-.9-2.8 2z"/><path color="#006b96" d="M81.1 119.4l2.8-2.2-2.8-.9-2.8 2.1z"/><path color="#007d95" d="M86.6 118.2l2.8-2.3-2.8-.9-2.8 2.2z"/><path color="#008e92" d="M92.2 116.9l2.8-2.3-2.8-1-2.8 2.3z"/><path color="#00947e" d="M97.8 115.6l2.8-2.4-2.8-1-2.8 2.4z"/><path color="#00996a" d="M103.4 114.4l2.8-2.4-2.8-1.1-2.8 2.4z"/><path color="#009e58" d="M109 113.2l2.8-2.4-2.8-1.2-2.8 2.4z"/><path color="#00a347" d="M114.6 112.1l2.8-2.3-2.8-1.3-2.8 2.3z"/><path color="#00a739" d="M120.2 111.3l2.8-2.3-2.8-1.5-2.8 2.3z"/><path color="#00aa2f" d="M125.8 110.6l2.8-2.2-2.8-1.6-2.8 2.2z"/><path color="#00ac27" d="M131.5 110.1l2.8-2.1-2.8-1.7-2.8 2.1z"/><path color="#00ad24" d="M137.1 109.9l2.8-2-2.8-1.9-2.8 2z"/><path color="#00ae23" d="M142.7 109.8l2.8-1.9-2.8-2-2.8 1.9z"/><path color="#00ad27" d="M148.4 110l2.8-1.8-2.8-2.1-2.8 1.8z"/><path color="#00ac2d" d="M154 110.3l2.8-1.8-2.8-2.2-2.8 1.8z"/><path color="#00ab36" d="M159.6 110.8l2.8-1.7-2.8-2.2-2.8 1.7z"/><path color="#00a940" d="M165.2 111.4l2.8-1.7-2.8-2.3-2.8 1.7z"/><path color="#00a64d" d="M170.8 112l2.8-1.6-2.8-2.3-2.8 1.6z"/><path color="#00a45a" d="M176.4 112.7l2.8-1.6-2.8-2.3-2.8 1.6z"/><path color="#00a168" d="M182 113.4l2.8-1.6-2.8-2.3-2.8 1.6z"/><path color="#009e76" d="M187.6 114.1l2.8-1.6-2.8-2.3-2.8 1.6z"/><path color="#009b85" d="M193.2 114.8l2.8-1.6-2.8-2.3-2.8 1.6z"/><path color="#009892" d="M198.8 115.5l2.8-1.6-2.8-2.3-2.8 1.6z"/><path color="#002d95" d="M56.1 124.6l2.8-1.6-2.8-1-2.8 1.5z"/><path color="#003697" d="M61.6 124.1l2.8-1.7-2.8-1-2.8 1.6z"/><path color="#004298" d="M67.2 123.4l2.8-1.8-2.8-1-2.8 1.8z"/><path color="#004f98" d="M72.8 122.5l2.8-2-2.8-.9-2.8 1.9z"/><path color="#005e98" d="M78.3 121.5l2.8-2.1-2.8-.9-2.8 2.1z"/><path color="#006e98" d="M83.9 120.4l2.8-2.2-2.8-1-2.8 2.2z"/><path color="#008097" d="M89.4 119.2l2.8-2.3-2.8-1-2.8 2.3z"/><path color="#009093" d="M95 118l2.8-2.4-2.8-1.1-2.8 2.3z"/><path color="#009680" d="M100.6 116.8l2.8-2.4-2.8-1.1-2.8 2.4z"/><path color="#009b6d" d="M106.2 115.6l2.8-2.4-2.8-1.2-2.8 2.4z"/><path color="#00a05c" d="M111.8 114.5l2.8-2.4-2.8-1.3-2.8 2.4z"/><path color="#00a44e" d="M117.4 113.6l2.8-2.3-2.8-1.5-2.8 2.3z"/><path color="#00a742" d="M123 112.8l2.8-2.3-2.8-1.6-2.8 2.3z"/><path color="#00a939" d="M128.7 112.3l2.8-2.2-2.8-1.7-2.8 2.2z"/><path color="#00ab34" d="M134.3 112l2.8-2.1-2.8-1.8-2.8 2.1z"/><path color="#00ac32" d="M139.9 111.8l2.8-2-2.8-2-2.8 2z"/><path color="#00ac34" d="M145.5 111.9l2.8-1.9-2.8-2.1-2.8 1.9z"/><path color="#00ab39" d="M151.2 112.1l2.8-1.8-2.8-2.2-2.8 1.8z"/><path color="#00a940" d="M156.8 112.5l2.8-1.7-2.8-2.2-2.8 1.8z"/><path color="#00a74a" d="M162.4 113l2.8-1.7-2.8-2.3-2.8 1.7z"/><path color="#00a556" d="M168 113.7l2.8-1.6-2.8-2.3-2.8 1.7z"/><path color="#00a262" d="M173.6 114.3l2.8-1.6-2.8-2.3-2.8 1.6z"/><path color="#009f70" d="M179.2 115l2.8-1.6-2.8-2.3-2.8 1.6z"/><path color="#009c7e" d="M184.8 115.7l2.8-1.6-2.8-2.3-2.8 1.6z"/><path color="#00998b" d="M190.4 116.4l2.8-1.6-2.8-2.3-2.8 1.6z"/><path color="#009699" d="M196 117l2.8-1.6-2.8-2.2-2.8 1.6z"/><path color="#002f97" d="M58.9 125.7l2.8-1.6-2.8-1-2.8 1.6z"/><path color="#003998" d="M64.4 125.1l2.8-1.7-2.8-1-2.8 1.7z"/><path color="#004499" d="M70 124.4l2.8-1.9-2.8-1-2.8 1.8z"/><path color="#00529a" d="M75.5 123.6l2.8-2-2.8-1-2.8 2z"/><path color="#00619a" d="M81.1 122.6l2.8-2.1-2.8-1-2.8 2.1z"/><path color="#007199" d="M86.7 121.5l2.8-2.3-2.8-1-2.8 2.2z"/><path color="#008299" d="M92.2 120.3l2.8-2.3-2.8-1.1-2.8 2.3z"/><path color="#009295" d="M97.8 119.2l2.8-2.4-2.8-1.1-2.8 2.4z"/><path color="#009783" d="M103.4 118l2.8-2.4-2.8-1.2-2.8 2.4z"/><path color="#009c72" d="M109 116.9l2.8-2.4-2.8-1.3-2.8 2.4z"/><path color="#00a063" d="M114.6 116l2.8-2.4-2.8-1.4-2.8 2.4z"/><path color="#00a456" d="M120.2 115.2l2.8-2.3-2.8-1.6-2.8 2.3z"/><path color="#00a64c" d="M125.9 114.5l2.8-2.2-2.8-1.7-2.8 2.3z"/><path color="#00a845" d="M131.5 114.1l2.8-2.1-2.8-1.8-2.8 2.2z"/><path color="#00a942" d="M137.1 113.9l2.8-2.1-2.8-1.9-2.8 2.1z"/><path color="#00a942" d="M142.7 113.9l2.8-2-2.8-2.1-2.8 2z"/><path color="#00a945" d="M148.4 114l2.8-1.9-2.8-2.1-2.8 1.9z"/><path color="#00a74c" d="M154 114.3l2.8-1.8-2.8-2.2-2.8 1.8z"/><path color="#00a654" d="M159.6 114.8l2.8-1.7-2.8-2.3-2.8 1.7z"/><path color="#00a35f" d="M165.2 115.3l2.8-1.7-2.8-2.3-2.8 1.7z"/><path color="#00a06b" d="M170.8 116l2.8-1.6-2.8-2.3-2.8 1.6z"/><path color="#009e77" d="M176.4 116.6l2.8-1.6-2.8-2.3-2.8 1.6z"/><path color="#009a85" d="M182 117.3l2.8-1.6-2.8-2.3-2.8 1.6z"/><path color="#009792" d="M187.6 118l2.8-1.6-2.8-2.3-2.8 1.6z"/><path color="#00929c" d="M193.2 118.6l2.8-1.6-2.8-2.2-2.8 1.6z"/><path color="#003198" d="M61.7 126.8l2.8-1.6-2.8-1.1-2.8 1.6z"/><path color="#003b9a" d="M67.2 126.2l2.8-1.8-2.8-1-2.8 1.7z"/><path color="#00469b" d="M72.8 125.5l2.8-1.9-2.8-1-2.8 1.9z"/><path color="#00549b" d="M78.3 124.6l2.8-2.1-2.8-1-2.8 2z"/><path color="#00639b" d="M83.9 123.7l2.8-2.2-2.8-1.1-2.8 2.1z"/><path color="#00739b" d="M89.5 122.6l2.8-2.3-2.8-1.1-2.8 2.3z"/><path color="#00839a" d="M95 121.5l2.8-2.4-2.8-1.2-2.8 2.3z"/><path color="#009398" d="M100.6 120.4l2.8-2.4-2.8-1.2-2.8 2.4z"/><path color="#009887" d="M106.2 119.3l2.8-2.4-2.8-1.3-2.8 2.4z"/><path color="#009c78" d="M111.8 118.4l2.8-2.4-2.8-1.4-2.8 2.4z"/><path color="#00a06a" d="M117.4 117.5l2.8-2.4-2.8-1.6-2.8 2.4z"/><path color="#00a35f" d="M123 116.8l2.8-2.3-2.8-1.7-2.8 2.3z"/><path color="#00a557" d="M128.7 116.3l2.8-2.2-2.8-1.8-2.8 2.2z"/><path color="#00a653" d="M134.3 116l2.8-2.1-2.8-1.9-2.8 2.1z"/><path color="#00a751" d="M139.9 115.9l2.8-2-2.8-2-2.8 2.1z"/><path color="#00a753" d="M145.5 115.9l2.8-1.9-2.8-2.1-2.8 2z"/><path color="#00a558" d="M151.2 116.2l2.8-1.9-2.8-2.2-2.8 1.9z"/><path color="#00a45f" d="M156.8 116.6l2.8-1.8-2.8-2.2-2.8 1.8z"/><path color="#00a268" d="M162.4 117l2.8-1.7-2.8-2.3-2.8 1.7z"/><path color="#009f73" d="M168 117.6l2.8-1.7-2.8-2.3-2.8 1.7z"/><path color="#009c7f" d="M173.6 118.2l2.8-1.6-2.8-2.3-2.8 1.6z"/><path color="#00998c" d="M179.2 118.9l2.8-1.6-2.8-2.3-2.8 1.6z"/><path color="#009698" d="M184.8 119.5l2.8-1.6-2.8-2.2-2.8 1.6z"/><path color="#008d9d" d="M190.4 120.2l2.8-1.6-2.8-2.2-2.8 1.6z"/><path color="#003299" d="M64.5 127.9l2.8-1.7-2.8-1.1-2.8 1.6z"/><path color="#003c9b" d="M70 127.3l2.8-1.8-2.8-1.1-2.8 1.8z"/><path color="#00489c" d="M75.6 126.6l2.8-2-2.8-1.1-2.8 1.9z"/><path color="#00559d" d="M81.1 125.8l2.8-2.1-2.8-1.1-2.8 2.1z"/><path color="#00649d" d="M86.7 124.8l2.8-2.2-2.8-1.1-2.8 2.2z"/><path color="#00739c" d="M92.3 123.8l2.8-2.3-2.8-1.2-2.8 2.3z"/><path color="#00839c" d="M97.8 122.8l2.8-2.4-2.8-1.2-2.8 2.4z"/><path color="#00929b" d="M103.4 121.7l2.8-2.4-2.8-1.3-2.8 2.4z"/><path color="#00988d" d="M109 120.8l2.8-2.4-2.8-1.4-2.8 2.4z"/><path color="#009c7f" d="M114.6 119.9l2.8-2.4-2.8-1.5-2.8 2.4z"/><path color="#009f73" d="M120.2 119.1l2.8-2.3-2.8-1.7-2.8 2.4z"/><path color="#00a26a" d="M125.9 118.6l2.8-2.3-2.8-1.8-2.8 2.3z"/><path color="#00a364" d="M131.5 118.2l2.8-2.2-2.8-1.9-2.8 2.2z"/><path color="#00a461" d="M137.1 118l2.8-2.1-2.8-2-2.8 2.1z"/><path color="#00a462" d="M142.7 117.9l2.8-2-2.8-2.1-2.8 2z"/><path color="#00a365" d="M148.3 118.1l2.8-1.9-2.8-2.2-2.8 1.9z"/><path color="#00a26b" d="M153.9 118.4l2.8-1.8-2.8-2.2-2.8 1.9z"/><path color="#00a073" d="M159.6 118.8l2.8-1.8-2.8-2.3-2.8 1.8z"/><path color="#009d7c" d="M165.2 119.3l2.8-1.7-2.8-2.3-2.8 1.7z"/><path color="#009b87" d="M170.8 119.9l2.8-1.6-2.8-2.3-2.8 1.7z"/><path color="#009793" d="M176.4 120.5l2.8-1.6-2.8-2.3-2.8 1.6z"/><path color="#00939c" d="M182 121.1l2.8-1.6-2.8-2.2-2.8 1.6z"/><path color="#00889d" d="M187.5 121.7l2.8-1.5-2.8-2.2-2.8 1.6z"/><path color="#00339b" d="M67.2 129l2.8-1.7-2.8-1.1-2.8 1.7z"/><path color="#003e9c" d="M72.8 128.4l2.8-1.8-2.8-1.1-2.8 1.8z"/><path color="#00499d" d="M78.4 127.7l2.8-2-2.8-1.1-2.8 2z"/><path color="#00569e" d="M83.9 126.9l2.8-2.1-2.8-1.1-2.8 2.1z"/><path color="#00659e" d="M89.5 126l2.8-2.2-2.8-1.2-2.8 2.2z"/><path color="#00739e" d="M95.1 125.1l2.8-2.3-2.8-1.2-2.8 2.3z"/><path color="#00829d" d="M100.7 124.1l2.8-2.4-2.8-1.3-2.8 2.4z"/><path color="#00909d" d="M106.2 123.1l2.8-2.4-2.8-1.4-2.8 2.4z"/><path color="#009894" d="M111.8 122.3l2.8-2.4-2.8-1.5-2.8 2.4z"/><path color="#009b88" d="M117.4 121.5l2.8-2.3-2.8-1.6-2.8 2.4z"/><path color="#009e7e" d="M123.1 120.9l2.8-2.3-2.8-1.8-2.8 2.3z"/><path color="#00a077" d="M128.7 120.4l2.8-2.2-2.8-1.9-2.8 2.3z"/><path color="#00a172" d="M134.3 120.1l2.8-2.1-2.8-2-2.8 2.2z"/><path color="#00a171" d="M139.9 120l2.8-2.1-2.8-2.1-2.8 2.1z"/><path color="#00a173" d="M145.5 120l2.8-2-2.8-2.1-2.8 2z"/><path color="#00a077" d="M151.1 120.3l2.8-1.9-2.8-2.2-2.8 1.9z"/><path color="#009e7e" d="M156.7 120.6l2.8-1.8-2.8-2.2-2.8 1.8z"/><path color="#009c86" d="M162.3 121l2.8-1.7-2.8-2.3-2.8 1.8z"/><path color="#009990" d="M167.9 121.5l2.8-1.7-2.8-2.3-2.8 1.7z"/><path color="#00969a" d="M173.5 122.1l2.8-1.6-2.8-2.2-2.8 1.6z"/><path color="#008d9d" d="M179.1 122.7l2.8-1.6-2.8-2.2-2.8 1.6z"/><path color="#00839e" d="M184.7 123.3l2.8-1.5-2.8-2.2-2.8 1.6z"/><path color="#00359c" d="M70 130.2l2.8-1.7-2.8-1.1-2.8 1.7z"/><path color="#003f9e" d="M75.6 129.6l2.8-1.9-2.8-1.1-2.8 1.8z"/><path color="#004a9f" d="M81.2 128.9l2.8-2-2.8-1.2-2.8 2z"/><path color="#00579f" d="M86.7 128.1l2.8-2.1-2.8-1.2-2.8 2.1z"/><path color="#0064a0" d="M92.3 127.3l2.8-2.2-2.8-1.2-2.8 2.2z"/><path color="#00729f" d="M97.9 126.4l2.8-2.3-2.8-1.3-2.8 2.3z"/><path color="#00809f" d="M103.5 125.5l2.8-2.3-2.8-1.4-2.8 2.4z"/><path color="#008c9e" d="M109.1 124.6l2.8-2.4-2.8-1.5-2.8 2.4z"/><path color="#00979c" d="M114.6 123.8l2.8-2.3-2.8-1.6-2.8 2.4z"/><path color="#009a91" d="M120.3 123.2l2.8-2.3-2.8-1.7-2.8 2.3z"/><path color="#009c89" d="M125.9 122.6l2.8-2.3-2.8-1.8-2.8 2.3z"/><path color="#009e84" d="M131.5 122.3l2.8-2.2-2.8-1.9-2.8 2.2z"/><path color="#009e81" d="M137.1 122.1l2.8-2.1-2.8-2-2.8 2.1z"/><path color="#009e81" d="M142.7 122.1l2.8-2-2.8-2.1-2.8 2.1z"/><path color="#009d84" d="M148.3 122.2l2.8-1.9-2.8-2.2-2.8 2z"/><path color="#009c89" d="M153.9 122.4l2.8-1.8-2.8-2.2-2.8 1.9z"/><path color="#009a90" d="M159.5 122.8l2.8-1.8-2.8-2.2-2.8 1.8z"/><path color="#009799" d="M165.1 123.2l2.8-1.7-2.8-2.2-2.8 1.7z"/><path color="#00919e" d="M170.7 123.7l2.8-1.6-2.8-2.2-2.8 1.7z"/><path color="#00889e" d="M176.3 124.3l2.8-1.6-2.8-2.2-2.8 1.6z"/><path color="#007e9f" d="M181.9 124.8l2.8-1.6-2.8-2.2-2.8 1.6z"/><path color="#00359d" d="M72.8 131.3l2.8-1.7-2.8-1.2-2.8 1.7z"/><path color="#003f9f" d="M78.4 130.8l2.8-1.9-2.8-1.2-2.8 1.9z"/><path color="#004aa0" d="M84 130.1l2.8-2-2.8-1.2-2.8 2z"/><path color="#0056a1" d="M89.5 129.4l2.8-2.1-2.8-1.3-2.8 2.1z"/><path color="#0063a1" d="M95.1 128.6l2.8-2.2-2.8-1.3-2.8 2.2z"/><path color="#0070a1" d="M100.7 127.7l2.8-2.3-2.8-1.4-2.8 2.3z"/><path color="#007ca0" d="M106.3 126.9l2.8-2.3-2.8-1.5-2.8 2.3z"/><path color="#0088a0" d="M111.9 126.2l2.8-2.3-2.8-1.6-2.8 2.4z"/><path color="#00929f" d="M117.5 125.5l2.8-2.3-2.8-1.7-2.8 2.3z"/><path color="#00989c" d="M123.1 124.9l2.8-2.3-2.8-1.8-2.8 2.3z"/><path color="#009a95" d="M128.7 124.5l2.8-2.2-2.8-1.9-2.8 2.3z"/><path color="#009b92" d="M134.3 124.2l2.8-2.1-2.8-2-2.8 2.2z"/><path color="#009b90" d="M139.9 124.1l2.8-2-2.8-2.1-2.8 2.1z"/><path color="#009b92" d="M145.5 124.1l2.8-2-2.8-2.1-2.8 2z"/><path color="#009a95" d="M151.1 124.3l2.8-1.9-2.8-2.2-2.8 1.9z"/><path color="#00989b" d="M156.7 124.6l2.8-1.8-2.8-2.2-2.8 1.8z"/><path color="#00939e" d="M162.3 125l2.8-1.7-2.8-2.2-2.8 1.8z"/><path color="#008b9f" d="M167.9 125.4l2.8-1.7-2.8-2.2-2.8 1.7z"/><path color="#00839f" d="M173.5 125.9l2.8-1.6-2.8-2.2-2.8 1.6z"/><path color="#0079a0" d="M179.1 126.4l2.8-1.6-2.8-2.1-2.8 1.6z"/><path color="#00369e" d="M75.6 132.6l2.8-1.8-2.8-1.2-2.8 1.7z"/><path color="#003fa0" d="M81.2 132l2.8-1.9-2.8-1.2-2.8 1.9z"/><path color="#004aa1" d="M86.7 131.4l2.8-2-2.8-1.3-2.8 2z"/><path color="#0055a2" d="M92.3 130.7l2.8-2.1-2.8-1.3-2.8 2.1z"/><path color="#0061a2" d="M97.9 129.9l2.8-2.2-2.8-1.4-2.8 2.2z"/><path color="#006da2" d="M103.5 129.2l2.8-2.2-2.8-1.5-2.8 2.3z"/><path color="#0078a2" d="M109.1 128.4l2.8-2.3-2.8-1.5-2.8 2.3z"/><path color="#0082a1" d="M114.7 127.8l2.8-2.3-2.8-1.6-2.8 2.3z"/><path color="#008ba1" d="M120.3 127.2l2.8-2.3-2.8-1.7-2.8 2.3z"/><path color="#0091a0" d="M125.9 126.7l2.8-2.2-2.8-1.8-2.8 2.3z"/><path color="#0096a0" d="M131.5 126.4l2.8-2.2-2.8-1.9-2.8 2.2z"/><path color="#00989f" d="M137.1 126.2l2.8-2.1-2.8-2-2.8 2.1z"/><path color="#00989f" d="M142.7 126.1l2.8-2-2.8-2.1-2.8 2z"/><path color="#00969f" d="M148.3 126.2l2.8-1.9-2.8-2.1-2.8 2z"/><path color="#00919f" d="M153.9 126.4l2.8-1.8-2.8-2.2-2.8 1.9z"/><path color="#008ca0" d="M159.5 126.7l2.8-1.8-2.8-2.2-2.8 1.8z"/><path color="#0085a0" d="M165.1 127.1l2.8-1.7-2.8-2.2-2.8 1.7z"/><path color="#007da0" d="M170.7 127.5l2.8-1.6-2.8-2.1-2.8 1.7z"/><path color="#0074a1" d="M176.3 128l2.8-1.6-2.8-2.1-2.8 1.6z"/><path color="#00369f" d="M78.4 133.8l2.8-1.8-2.8-1.2-2.8 1.8z"/><path color="#003fa1" d="M84 133.3l2.8-1.9-2.8-1.3-2.8 1.9z"/><path color="#0049a2" d="M89.5 132.7l2.8-2-2.8-1.3-2.8 2z"/><path color="#0054a3" d="M95.1 132l2.8-2.1-2.8-1.4-2.8 2.1z"/><path color="#005fa3" d="M100.7 131.3l2.8-2.2-2.8-1.4-2.8 2.2z"/><path color="#0069a3" d="M106.3 130.6l2.8-2.2-2.8-1.5-2.8 2.2z"/><path color="#0073a3" d="M111.9 130l2.8-2.2-2.8-1.6-2.8 2.3z"/><path color="#007ca2" d="M117.5 129.4l2.8-2.2-2.8-1.7-2.8 2.3z"/><path color="#0083a2" d="M123.1 128.9l2.8-2.2-2.8-1.8-2.8 2.3z"/><path color="#0088a2" d="M128.7 128.5l2.8-2.2-2.8-1.9-2.8 2.2z"/><path color="#008ba1" d="M134.3 128.3l2.8-2.1-2.8-2-2.8 2.2z"/><path color="#008ca1" d="M139.9 128.2l2.8-2-2.8-2-2.8 2.1z"/><path color="#008ba1" d="M145.5 128.2l2.8-1.9-2.8-2.1-2.8 2z"/><path color="#0088a1" d="M151.1 128.3l2.8-1.9-2.8-2.1-2.8 1.9z"/><path color="#0084a1" d="M156.7 128.5l2.8-1.8-2.8-2.1-2.8 1.8z"/><path color="#007ea1" d="M162.3 128.8l2.8-1.7-2.8-2.1-2.8 1.8z"/><path color="#0077a1" d="M167.9 129.2l2.8-1.7-2.8-2.1-2.8 1.7z"/><path color="#006fa2" d="M173.5 129.6l2.8-1.6-2.8-2.1-2.8 1.6z"/><path color="#0035a0" d="M81.2 135l2.8-1.8-2.8-1.3-2.8 1.8z"/><path color="#003ea2" d="M86.8 134.6l2.8-1.9-2.8-1.3-2.8 1.9z"/><path color="#0047a3" d="M92.3 134l2.8-2-2.8-1.3-2.8 2z"/><path color="#0051a4" d="M97.9 133.4l2.8-2.1-2.8-1.4-2.8 2.1z"/><path color="#005ba4" d="M103.5 132.8l2.8-2.1-2.8-1.5-2.8 2.2z"/><path color="#0065a4" d="M109.1 132.2l2.8-2.2-2.8-1.6-2.8 2.2z"/><path color="#006ea4" d="M114.7 131.6l2.8-2.2-2.8-1.6-2.8 2.2z"/><path color="#0075a4" d="M120.3 131.1l2.8-2.2-2.8-1.7-2.8 2.2z"/><path color="#007ba3" d="M125.9 130.7l2.8-2.1-2.8-1.8-2.8 2.2z"/><path color="#007fa3" d="M131.5 130.4l2.8-2.1-2.8-1.9-2.8 2.2z"/><path color="#0081a3" d="M137.1 130.2l2.8-2-2.8-2-2.8 2.1z"/><path color="#0081a3" d="M142.7 130.1l2.8-2-2.8-2-2.8 2z"/><path color="#007fa3" d="M148.3 130.2l2.8-1.9-2.8-2.1-2.8 1.9z"/><path color="#007ba2" d="M153.9 130.3l2.8-1.8-2.8-2.1-2.8 1.9z"/><path color="#0076a2" d="M159.5 130.6l2.8-1.7-2.8-2.1-2.8 1.8z"/><path color="#0070a3" d="M165.1 130.9l2.8-1.7-2.8-2.1-2.8 1.7z"/><path color="#006aa2" d="M170.7 131.2l2.8-1.6-2.8-2.1-2.8 1.7z"/><path color="#0035a1" d="M84 136.3l2.8-1.8-2.8-1.3-2.8 1.8z"/><path color="#003da2" d="M89.6 135.9l2.8-1.9-2.8-1.3-2.8 1.9z"/><path color="#0045a3" d="M95.1 135.3l2.8-2-2.8-1.4-2.8 2z"/><path color="#004fa4" d="M100.7 134.8l2.8-2-2.8-1.4-2.8 2.1z"/><path color="#0057a5" d="M106.3 134.2l2.8-2.1-2.8-1.5-2.8 2.1z"/><path color="#0060a5" d="M111.9 133.7l2.8-2.1-2.8-1.6-2.8 2.2z"/><path color="#0067a5" d="M117.5 133.2l2.8-2.1-2.8-1.7-2.8 2.2z"/><path color="#006da5" d="M123.1 132.8l2.8-2.1-2.8-1.8-2.8 2.2z"/><path color="#0072a5" d="M128.7 132.5l2.8-2.1-2.8-1.8-2.8 2.1z"/><path color="#0075a4" d="M134.3 132.2l2.8-2-2.8-1.9-2.8 2.1z"/><path color="#0076a4" d="M139.9 132.1l2.8-2-2.8-2-2.8 2z"/><path color="#0075a4" d="M145.5 132.1l2.8-1.9-2.8-2-2.8 2z"/><path color="#0073a4" d="M151.1 132.2l2.8-1.8-2.8-2-2.8 1.9z"/><path color="#006fa4" d="M156.7 132.3l2.8-1.8-2.8-2-2.8 1.8z"/><path color="#006aa3" d="M162.3 132.6l2.8-1.7-2.8-2-2.8 1.7z"/><path color="#0064a3" d="M167.8 132.8l2.8-1.6-2.8-2-2.8 1.7z"/><path color="#0034a1" d="M86.8 137.6l2.8-1.7-2.8-1.3-2.8 1.8z"/><path color="#003ba3" d="M92.4 137.2l2.8-1.8-2.8-1.4-2.8 1.9z"/><path color="#0043a4" d="M97.9 136.7l2.8-1.9-2.8-1.4-2.8 2z"/><path color="#004ba5" d="M103.5 136.2l2.8-2-2.8-1.5-2.8 2z"/><path color="#0053a5" d="M109.1 135.7l2.8-2-2.8-1.5-2.8 2.1z"/><path color="#005aa6" d="M114.7 135.3l2.8-2.1-2.8-1.6-2.8 2.1z"/><path color="#0061a6" d="M120.3 134.9l2.8-2.1-2.8-1.7-2.8 2.1z"/><path color="#0066a6" d="M125.9 134.5l2.8-2.1-2.8-1.8-2.8 2.1z"/><path color="#0069a5" d="M131.5 134.2l2.8-2-2.8-1.9-2.8 2.1z"/><path color="#006ba5" d="M137.1 134.1l2.8-2-2.8-1.9-2.8 2z"/><path color="#006ba5" d="M142.7 134l2.8-1.9-2.8-2-2.8 2z"/><path color="#006aa5" d="M148.3 134l2.8-1.8-2.8-2-2.8 1.9z"/><path color="#0067a5" d="M153.9 134.1l2.8-1.8-2.8-2-2.8 1.8z"/><path color="#0063a4" d="M159.4 134.3l2.8-1.7-2.8-2-2.8 1.8z"/><path color="#005ea4" d="M165 134.5l2.8-1.7-2.8-2-2.8 1.7z"/><path color="#0032a2" d="M89.6 138.9l2.8-1.7-2.8-1.3-2.8 1.7z"/><path color="#0039a3" d="M95.2 138.6l2.8-1.8-2.8-1.4-2.8 1.8z"/><path color="#0040a4" d="M100.7 138.1l2.8-1.9-2.8-1.4-2.8 1.9z"/><path color="#0048a5" d="M106.3 137.7l2.8-2-2.8-1.5-2.8 2z"/><path color="#004ea6" d="M111.9 137.3l2.8-2-2.8-1.6-2.8 2z"/><path color="#0055a6" d="M117.5 136.9l2.8-2-2.8-1.6-2.8 2.1z"/><path color="#005aa6" d="M123.1 136.5l2.8-2-2.8-1.7-2.8 2.1z"/><path color="#005ea6" d="M128.7 136.2l2.8-2-2.8-1.8-2.8 2.1z"/><path color="#0060a6" d="M134.3 136l2.8-2-2.8-1.8-2.8 2z"/><path color="#0061a6" d="M139.9 135.9l2.8-1.9-2.8-1.9-2.8 2z"/><path color="#0061a6" d="M145.5 135.9l2.8-1.8-2.8-1.9-2.8 1.9z"/><path color="#005fa5" d="M151 135.9l2.8-1.8-2.8-1.9-2.8 1.8z"/><path color="#005ca5" d="M156.6 136l2.8-1.7-2.8-1.9-2.8 1.8z"/><path color="#0058a5" d="M162.2 136.2l2.8-1.7-2.8-1.9-2.8 1.7z"/><path color="#0031a2" d="M92.4 140.3l2.8-1.7-2.8-1.4-2.8 1.7z"/><path color="#0037a4" d="M97.9 139.9l2.8-1.8-2.8-1.4-2.8 1.8z"/><path color="#003da5" d="M103.5 139.6l2.8-1.9-2.8-1.5-2.8 1.9z"/><path color="#0044a6" d="M109.1 139.2l2.8-1.9-2.8-1.5-2.8 2z"/><path color="#004aa6" d="M114.7 138.8l2.8-1.9-2.8-1.6-2.8 2z"/><path color="#004fa7" d="M120.3 138.5l2.8-1.9-2.8-1.7-2.8 2z"/><path color="#0053a7" d="M125.9 138.2l2.8-1.9-2.8-1.7-2.8 2z"/><path color="#0056a7" d="M131.5 137.9l2.8-1.9-2.8-1.8-2.8 2z"/><path color="#0058a7" d="M137.1 137.8l2.8-1.9-2.8-1.8-2.8 2z"/><path color="#0058a6" d="M142.6 137.7l2.8-1.8-2.8-1.9-2.8 1.9z"/><path color="#0057a6" d="M148.2 137.7l2.8-1.8-2.8-1.9-2.8 1.8z"/><path color="#0055a6" d="M153.8 137.7l2.8-1.7-2.8-1.9-2.8 1.8z"/><path color="#0052a5" d="M159.4 137.8l2.8-1.7-2.8-1.9-2.8 1.7z"/><path color="#002fa2" d="M95.2 141.6l2.8-1.7-2.8-1.4-2.8 1.7z"/><path color="#0034a4" d="M100.7 141.3l2.8-1.8-2.8-1.4-2.8 1.8z"/><path color="#003aa5" d="M106.3 141l2.8-1.8-2.8-1.5-2.8 1.9z"/><path color="#0040a6" d="M111.9 140.7l2.8-1.9-2.8-1.5-2.8 1.9z"/><path color="#0045a6" d="M117.5 140.3l2.8-1.9-2.8-1.6-2.8 1.9z"/><path color="#0049a7" d="M123.1 140.1l2.8-1.9-2.8-1.7-2.8 1.9z"/><path color="#004ca7" d="M128.7 139.8l2.8-1.9-2.8-1.7-2.8 1.9z"/><path color="#004ea7" d="M134.3 139.6l2.8-1.9-2.8-1.8-2.8 1.9z"/><path color="#004fa7" d="M139.8 139.5l2.8-1.8-2.8-1.8-2.8 1.9z"/><path color="#004fa7" d="M145.4 139.5l2.8-1.8-2.8-1.8-2.8 1.8z"/><path color="#004ea6" d="M151 139.5l2.8-1.7-2.8-1.8-2.8 1.8z"/><path color="#004ca6" d="M156.6 139.5l2.8-1.7-2.8-1.8-2.8 1.7z"/><path color="#002da2" d="M98 143l2.8-1.7-2.8-1.4-2.8 1.7z"/><path color="#0032a4" d="M103.5 142.7l2.8-1.7-2.8-1.4-2.8 1.8z"/><path color="#0037a5" d="M109.1 142.4l2.8-1.8-2.8-1.5-2.8 1.8z"/><path color="#003ba6" d="M114.7 142.1l2.8-1.8-2.8-1.5-2.8 1.9z"/><path color="#003fa6" d="M120.3 141.9l2.8-1.8-2.8-1.6-2.8 1.9z"/><path color="#0043a7" d="M125.9 141.6l2.8-1.8-2.8-1.6-2.8 1.9z"/><path color="#0045a7" d="M131.5 141.5l2.8-1.8-2.8-1.7-2.8 1.9z"/><path color="#0047a7" d="M137 141.3l2.8-1.8-2.8-1.7-2.8 1.9z"/><path color="#0047a7" d="M142.6 141.2l2.8-1.8-2.8-1.8-2.8 1.8z"/><path color="#0047a6" d="M148.2 141.2l2.8-1.7-2.8-1.8-2.8 1.8z"/><path color="#0045a6" d="M153.8 141.2l2.8-1.7-2.8-1.8-2.8 1.7z"/><path color="#002ba2" d="M100.7 144.3l2.8-1.6-2.8-1.4-2.8 1.7z"/><path color="#002fa3" d="M106.3 144.1l2.8-1.7-2.8-1.4-2.8 1.7z"/><path color="#0033a5" d="M111.9 143.9l2.8-1.7-2.8-1.5-2.8 1.8z"/><path color="#0037a5" d="M117.5 143.6l2.8-1.7-2.8-1.5-2.8 1.8z"/><path color="#003aa6" d="M123.1 143.4l2.8-1.8-2.8-1.6-2.8 1.8z"/><path color="#003da6" d="M128.7 143.2l2.8-1.8-2.8-1.6-2.8 1.8z"/><path color="#003fa7" d="M134.2 143.1l2.8-1.8-2.8-1.7-2.8 1.8z"/><path color="#0040a6" d="M139.8 142.9l2.8-1.7-2.8-1.7-2.8 1.8z"/><path color="#0040a6" d="M145.4 142.9l2.8-1.7-2.8-1.7-2.8 1.8z"/><path color="#003fa6" d="M151 142.8l2.8-1.7-2.8-1.7-2.8 1.7z"/><path color="#0029a2" d="M103.5 145.7l2.8-1.6-2.8-1.4-2.8 1.6z"/><path color="#002ca3" d="M109.1 145.5l2.8-1.6-2.8-1.4-2.8 1.7z"/><path color="#0030a4" d="M114.7 145.3l2.8-1.7-2.8-1.5-2.8 1.7z"/><path color="#0033a5" d="M120.3 145.1l2.8-1.7-2.8-1.5-2.8 1.7z"/><path color="#0036a6" d="M125.9 144.9l2.8-1.7-2.8-1.6-2.8 1.8z"/><path color="#0038a6" d="M131.5 144.8l2.8-1.7-2.8-1.6-2.8 1.8z"/><path color="#0039a6" d="M137 144.6l2.8-1.7-2.8-1.6-2.8 1.8z"/><path color="#003aa6" d="M142.6 144.5l2.8-1.7-2.8-1.7-2.8 1.7z"/><path color="#0039a6" d="M148.2 144.5l2.8-1.6-2.8-1.7-2.8 1.7z"/><path color="#0026a1" d="M106.3 147.1l2.8-1.6-2.8-1.4-2.8 1.6z"/><path color="#002aa3" d="M111.9 146.9l2.8-1.6-2.8-1.4-2.8 1.6z"/><path color="#002ca4" d="M117.5 146.7l2.8-1.6-2.8-1.5-2.8 1.7z"/><path color="#002fa4" d="M123.1 146.6l2.8-1.6-2.8-1.5-2.8 1.7z"/><path color="#0031a5" d="M128.7 146.4l2.8-1.7-2.8-1.5-2.8 1.7z"/><path color="#0033a5" d="M134.2 146.3l2.8-1.6-2.8-1.6-2.8 1.7z"/><path color="#0034a5" d="M139.8 146.2l2.8-1.6-2.8-1.6-2.8 1.7z"/><path color="#0034a5" d="M145.4 146.1l2.8-1.6-2.8-1.6-2.8 1.7z"/><path color="#0024a1" d="M109.1 148.4l2.8-1.5-2.8-1.4-2.8 1.6z"/><path color="#0027a2" d="M114.7 148.3l2.8-1.6-2.8-1.4-2.8 1.6z"/><path color="#0029a3" d="M120.3 148.1l2.8-1.6-2.8-1.5-2.8 1.6z"/><path color="#002ba4" d="M125.9 148l2.8-1.6-2.8-1.5-2.8 1.6z"/><path color="#002da4" d="M131.4 147.9l2.8-1.6-2.8-1.5-2.8 1.7z"/><path color="#002ea4" d="M137 147.8l2.8-1.6-2.8-1.5-2.8 1.6z"/><path color="#002fa4" d="M142.6 147.7l2.8-1.6-2.8-1.6-2.8 1.6z"/><path color="#0022a0" d="M111.9 149.8l2.8-1.5-2.8-1.4-2.8 1.5z"/><path color="#0024a1" d="M117.5 149.7l2.8-1.5-2.8-1.4-2.8 1.6z"/><path color="#0026a2" d="M123.1 149.5l2.8-1.5-2.8-1.4-2.8 1.6z"/><path color="#0028a3" d="M128.7 149.4l2.8-1.5-2.8-1.5-2.8 1.6z"/><path color="#0029a3" d="M134.2 149.3l2.8-1.6-2.8-1.5-2.8 1.6z"/><path color="#002aa3" d="M139.8 149.2l2.8-1.5-2.8-1.5-2.8 1.6z"/><path color="#00209f" d="M114.7 151.1l2.8-1.5-2.8-1.4-2.8 1.5z"/><path color="#0022a0" d="M120.3 151l2.8-1.5-2.8-1.4-2.8 1.5z"/><path color="#0023a1" d="M125.9 150.9l2.8-1.5-2.8-1.4-2.8 1.5z"/><path color="#0025a2" d="M131.4 150.8l2.8-1.5-2.8-1.4-2.8 1.5z"/><path color="#0026a2" d="M137 150.7l2.8-1.5-2.8-1.5-2.8 1.6z"/><path color="#001e9f" d="M117.5 152.5l2.8-1.4-2.8-1.4-2.8 1.5z"/><path color="#0020a0" d="M123.1 152.4l2.8-1.4-2.8-1.4-2.8 1.5z"/><path color="#0021a0" d="M128.6 152.3l2.8-1.5-2.8-1.4-2.8 1.5z"/><path color="#0022a1" d="M134.2 152.2l2.8-1.5-2.8-1.4-2.8 1.5z"/><path color="#001d9e" d="M120.3 153.8l2.8-1.4-2.8-1.4-2.8 1.4z"/><path color="#001e9f" d="M125.9 153.7l2.8-1.4-2.8-1.4-2.8 1.4z"/><path color="#001f9f" d="M131.4 153.6l2.8-1.4-2.8-1.4-2.8 1.5z"/><path color="#001b9d" d="M123.1 155.1l2.8-1.4-2.8-1.3-2.8 1.4z"/><path color="#001c9e" d="M128.6 155l2.8-1.4-2.8-1.3-2.8 1.4z"/><path color="#001a9c" d="M125.9 156.4l2.8-1.4-2.8-1.3-2.8 1.4z"/></g><path d="M42.5 119.0 43.5 118.5 44.5 118.0 45.5 117.5 46.5 117.1 47.5 116.6 48.5 116.1 49.5 115.5 50.5 115.0 51.5 114.4 52.5 113.8 53.5 113.3 54.5 112.7 55.5 112.1 56.5 111.7 57.5 111.1 58.5 110.5 59.5 109.9 60.5 109.2 61.5 108.6 62.5 108.0 63.5 107.4 64.5 106.7 65.5 106.1 66.5 105.7 67.5 105.1 68.5 104.4 69.5 103.8 70.5 103.2 71.5 102.5 72.5 101.9 73.5 101.3 74.5 100.6 75.5 100.2 76.5 99.6 77.5 99.0 78.5 98.4 79.5 97.8 80.5 97.2 81.5 96.6 82.5 96.0 83.5 95.6 84.5 95.0 85.5 94.4 86.5 93.8 87.5 93.2 88.5 92.6 89.5 92.1 90.5 91.5 91.5 91.1 92.5 90.5 93.5 90.0 94.5 89.4 95.5 88.9 96.5 88.3 97.5 87.7 98.5 87.3 99.5 86.8 100.5 86.2 101.5 85.6 102.5 85.1 103.5 84.5 104.5 83.9 105.5 83.5 106.5 82.9 107.5 82.3 108.5 81.7 109.5 81.1 110.5 80.4 111.5 79.8 112.5 79.3 113.5 78.7 114.5 78.0 115.5 77.3 116.5 76.6 117.5 75.8 118.5 75.0 119.5 74.5 120.5 73.7 121.5 72.8 122.5 72.0 123.5 71.0 124.5 70.1 125.5 69.4 126.5 69.3 127.5 69.2 128.5 69.1 129.5 69.0 130.5 68.9 131.5 68.8 132.5 68.7 133.5 68.6 134.5 68.5 135.5 68.5 136.5 68.4 137.5 68.4 138.5 68.3 139.5 68.3 140.5 68.3 141.5 68.3 142.5 68.3 143.5 68.3 144.5 68.4 145.5 68.4 146.5 68.5 147.5 68.6 148.5 68.7 149.5 68.8 150.5 68.9 151.5 69.1 152.5 69.2 153.5 69.4 154.5 69.6 155.5 69.9 156.5 70.1 157.5 70.3 158.5 70.6 159.5 71.0 160.5 71.3 161.5 71.7 162.5 72.1 163.5 72.4 164.5 72.8 165.5 73.3 166.5 73.8 167.5 74.3 168.5 74.7 169.5 75.2 170.5 75.8 171.5 76.4 172.5 77.0 173.5 77.7 174.5 78.1 175.5 78.8 176.5 79.5 177.5 80.3 178.5 81.0 179.5 81.8 180.5 82.3 181.5 83.1 182.5 83.9 183.5 84.8 184.5 85.6 185.5 86.5 186.5 87.3 187.5 87.9 188.5 88.8 189.5 89.7 190.5 90.7 191.5 91.6 192.5 92.5 193.5 93.4 194.5 94.4 195.5 95.3 196.5 96.0 197.5 96.9 198.5 97.9 199.5 98.8 200.5 99.8 201.5 100.7 202.5 101.6 203.5 102.6 204.5 103.5 205.5 104.4 206.5 105.0 207.5 106.0 208.5 106.9 209.5 107.8" fill="none" stroke="#111" stroke-width="0.70" stroke-linejoin="round" stroke-linecap="round" opacity=".85"/><text x="39.2" y="121.8" font-size="8.00" text-anchor="end">0</text><path d="M42.2 120.8h-1.6" stroke="#222" stroke-width=".6"/><text x="37.0" y="101.0" font-size="8.00" text-anchor="end">1x10<tspan font-size="4.60" dy="-3.20">7</tspan></text><path d="M41.2 99.7h-1.6" stroke="#222" stroke-width=".6"/><text x="36.0" y="79.9" font-size="8.00" text-anchor="end">2x10<tspan font-size="4.60" dy="-3.20">7</tspan></text><path d="M40.2 78.6h-1.6" stroke="#222" stroke-width=".6"/><text x="35.0" y="58.8" font-size="8.00" text-anchor="end">3x10<tspan font-size="4.60" dy="-3.20">7</tspan></text><path d="M39.2 57.5h-1.6" stroke="#222" stroke-width=".6"/><text x="34.0" y="37.7" font-size="8.00" text-anchor="end">4x10<tspan font-size="4.60" dy="-3.20">7</tspan></text><path d="M38.2 36.4h-1.6" stroke="#222" stroke-width=".6"/><text x="128.6" y="194.7" font-size="7.90">25</text><text x="144.3" y="186.9" font-size="7.90">40</text><text x="160.8" y="179.0" font-size="7.90">55</text><text x="177.3" y="171.2" font-size="7.90">70</text><text x="193.8" y="163.3" font-size="7.90">85</text><text x="210.3" y="155.5" font-size="7.90">100</text><text x="123.0" y="194.9" font-size="7.90" text-anchor="end">50</text><text x="106.9" y="187.0" font-size="7.90" text-anchor="end">100</text><text x="90.4" y="179.2" font-size="7.90" text-anchor="end">150</text><text x="74.0" y="171.3" font-size="7.90" text-anchor="end">200</text><text x="57.5" y="163.5" font-size="7.90" text-anchor="end">250</text><text x="41.1" y="155.6" font-size="7.90" text-anchor="end">300</text><path class="g" d="M277.5 148.7L272.5 36.1M293.5 114.9L290.5 32.1M310.5 109.4L308.5 28.2M327.5 104L325.5 24.4M343.5 98.7L342.5 20.6M359.5 93.5L359.5 16.9M276.2 120.5L359.7 93.5M275.2 99.4L359.7 74.3M274.2 78.3L359.6 55.2M273.2 57.2L359.6 36M272.2 36.1L359.5 16.9M442.5 148.8L447.5 36.3M422.5 113.9L425.5 31.5M401.5 107.1L403.5 26.6M380.5 100.3L381.5 21.7M359.5 93.5L359.5 16.9M443.6 120.7L359.7 93.5M444.5 99.6L359.7 74.3M445.5 78.5L359.6 55.2M446.4 57.4L359.6 36M447.4 36.3L359.5 16.9"/><path class="fl" d="M359.8 188L442.3 148.8L359.8 119L277.6 148.7Z"/><path d="M431.8 153.8 430.2 154.2 429.2 154.5 427.4 154.9 426.5 155.1 424.6 155.6 423.7 155.8 421.9 156.3 421.0 156.5 419.1 157.0 418.2 157.2 416.3 157.7 415.4 157.9 413.5 158.4 412.6 158.6 410.7 159.0 409.8 159.3 408.1 159.6 406.9 159.9 405.7 160.2 404.0 160.5 403.0 160.7 401.2 161.1 400.0 161.3 399.0 161.5 397.0 161.8 395.9 162.0 394.9 162.2 392.9 162.5 391.7 162.7 390.6 162.8 389.2 163.0 387.4 163.2 386.1 163.4 385.0 163.5 383.8 163.6 382.3 163.7 380.7 163.9 379.1 164.0 377.8 164.0 376.6 164.1 375.3 164.2 374.0 164.2 372.7 164.3 371.4 164.3 370.0 164.3 368.6 164.3 367.2 164.3 365.8 164.3 364.3 164.2 362.8 164.2 361.3 164.1 360.0 164.0 358.9 163.9 357.7 163.8 356.3 163.7 354.5 163.6 353.2 163.4 352.1 163.3 350.8 163.1 348.9 162.8 347.9 162.7 346.8 162.5 344.9 162.2 343.9 162.0 342.1 161.6 341.1 161.4 339.5 161.0 338.3 160.7 336.6 160.3 335.7 160.0 334.0 159.6 332.7 159.1 331.6 158.8 330.0 158.2 328.5 157.7 327.0 157.1 325.7 156.6 324.9 156.2 323.5 155.6 322.8 155.3 321.5 154.6 320.3 153.9 319.1 153.3 317.9 152.6 317.3 152.2 316.2 151.5 315.2 150.7 314.7 150.3 313.7 149.6 313.3 149.2 312.4 148.4 311.9 148.0 311.1 147.1 310.7 146.7 310.2 146.1 309.7 145.4 309.3 145.0 308.9 144.4 308.4 143.6 308.2 143.2 307.9 142.7 307.6 142.2 307.3 141.5 307.0 140.8 306.9 140.3 306.7 139.8 306.6 139.3 306.5 138.8 306.4 138.3" fill="none" stroke="#5ee860" stroke-width=".7"/><path d="M420.5 140.9 419.5 141.1 417.8 141.4 416.4 141.7 415.4 141.8 413.6 142.2 412.4 142.4 411.4 142.6 409.4 143.0 408.4 143.2 406.7 143.5 405.5 143.8 404.3 144.0 402.6 144.3 401.7 144.5 399.8 144.9 398.8 145.1 397.0 145.5 395.9 145.7 394.6 146.0 393.1 146.3 392.1 146.5 390.1 146.8 389.1 147.0 387.8 147.3 386.1 147.5 385.1 147.7 383.6 147.9 381.9 148.1 380.9 148.3 379.8 148.4 378.0 148.6 376.4 148.8 375.2 148.9 374.0 148.9 372.8 149.0 371.5 149.1 370.1 149.1 368.7 149.1 367.3 149.1 366.0 149.1 364.6 149.1 363.0 149.0 361.3 148.9 360.1 148.7 359.0 148.6 357.5 148.4 356.0 148.2 355.0 148.0 353.2 147.6 352.3 147.4 350.6 146.9 349.1 146.5 347.6 145.9 346.2 145.3 344.9 144.7 343.7 144.1 342.6 143.4 342.1 143.1 341.1 142.3 340.6 141.9 339.8 141.2 339.4 140.8 338.8 140.1 338.4 139.5 338.1 139.1 337.7 138.5 337.3 137.8 337.1 137.3 336.9 136.8 336.7 136.3 336.6 135.9 336.4 135.3 336.3 134.7 336.2 134.1 336.1 133.6 336.1 133.0 336.1 132.5 336.0 131.9 336.0 131.4 336.1 130.9 336.1 130.4 336.1 129.9 336.2 129.4 336.2 128.8 336.2 128.3 336.3 127.8 336.3 127.5" fill="none" stroke="#78e030" stroke-width=".7"/><path d="M396.1 132.1 394.5 132.1 393.0 132.0 391.4 132.0 390.2 132.0 389.1 131.9 387.9 131.8 386.3 131.7 384.6 131.6 383.6 131.5 382.4 131.3 380.6 131.1 379.6 130.9 377.8 130.6 376.9 130.4 375.3 130.0 373.7 129.6 372.2 129.1 370.8 128.6 369.5 128.1 368.3 127.5 367.2 126.9 366.3 126.4 365.5 126.0 364.5 125.3 364.0 125.0 363.1 124.3 362.6 124.0 361.7 123.3 361.3 123.0 360.5 122.3 360.0 121.9 359.3 121.3 358.8 120.9 358.4 120.5 357.6 119.8" fill="none" stroke="#f8cc50" stroke-width=".7"/><path d="M376.3 180.2l.9 .6M392.8 172.3l.9 .6M409.3 164.5l.9 .6M425.8 156.6l.9 .6M339.2 178.2l-.9 .6M318.7 168.3l-.9 .6M298.1 158.5l-.9 .6" stroke="#111" stroke-width="1"/><g class="s"><path color="#995a00" d="M359.7 66l2.8-2.7-2.8-.1-2.8 2.7z"/><path color="#917500" d="M356.8 68.5l2.8-2.4-2.8-.1-2.8 2.5z"/><path color="#9d5000" d="M362.5 66.2l2.8-2.6-2.8-.2-2.8 2.7z"/><path color="#898900" d="M354 70.7l2.8-2.3-2.8-0-2.8 2.3z"/><path color="#956b00" d="M359.7 68.6l2.8-2.4-2.8-.2-2.8 2.4z"/><path color="#9f4700" d="M365.3 66.5l2.8-2.6-2.9-.4-2.8 2.6z"/><path color="#6c8200" d="M351.2 72.8l2.8-2.1-2.8-0-2.8 2.1z"/><path color="#8e8000" d="M356.8 70.8l2.8-2.2-2.8-.2-2.8 2.3z"/><path color="#986300" d="M362.5 68.9l2.8-2.4-2.8-.3-2.8 2.4z"/><path color="#a24100" d="M368.2 67l2.8-2.5-2.9-.5-2.8 2.6z"/><path color="#537b00" d="M348.4 74.8l2.8-2-2.8 0-2.8 2z"/><path color="#7d8600" d="M354 72.9l2.8-2.1-2.8-.1-2.8 2.1z"/><path color="#917800" d="M359.7 71.1l2.8-2.2-2.8-.3-2.8 2.2z"/><path color="#9c5c00" d="M365.4 69.3l2.8-2.3-2.8-.5-2.8 2.4z"/><path color="#a53d00" d="M371 67.6l2.8-2.4-2.9-.7-2.8 2.5z"/><path color="#3e7400" d="M345.6 76.8l2.8-1.9-2.8 0-2.8 1.9z"/><path color="#648000" d="M351.2 74.9l2.8-2-2.8-.1-2.8 2z"/><path color="#8b8800" d="M356.9 73.1l2.8-2.1-2.8-.2-2.8 2.1z"/><path color="#957200" d="M362.5 71.4l2.8-2.1-2.8-.4-2.8 2.2z"/><path color="#9f5800" d="M368.2 69.8l2.8-2.2-2.8-.6-2.8 2.3z"/><path color="#a73b00" d="M373.9 68.3l2.8-2.4-2.9-.8-2.8 2.4z"/><path color="#2e7300" d="M342.8 78.6l2.8-1.9-2.8 0-2.8 1.9z"/><path color="#4e7a00" d="M348.4 76.8l2.8-1.9-2.8-.1-2.8 1.9z"/><path color="#748500" d="M354 75.1l2.8-2-2.8-.2-2.8 2z"/><path color="#8f8300" d="M359.7 73.4l2.8-2-2.8-.4-2.8 2.1z"/><path color="#996d00" d="M365.4 71.9l2.8-2.1-2.8-.5-2.8 2.1z"/><path color="#a15600" d="M371.1 70.5l2.8-2.2-2.8-.7-2.8 2.2z"/><path color="#a93d00" d="M376.7 69.2l2.8-2.3-2.9-.9-2.8 2.4z"/><path color="#207300" d="M340 80.4l2.8-1.8-2.8 .1-2.8 1.8z"/><path color="#3c7400" d="M345.6 78.6l2.8-1.8-2.8-0-2.8 1.9z"/><path color="#5e7f00" d="M351.2 77l2.8-1.9-2.8-.2-2.8 1.9z"/><path color="#828900" d="M356.9 75.4l2.8-1.9-2.8-.3-2.8 2z"/><path color="#937f00" d="M362.5 73.9l2.8-2-2.8-.5-2.8 2z"/><path color="#9c6b00" d="M368.2 72.5l2.8-2-2.8-.7-2.8 2.1z"/><path color="#a45600" d="M373.9 71.3l2.8-2.1-2.8-.9-2.8 2.2z"/><path color="#ab4100" d="M379.6 70.2l2.9-2.2-2.8-1.1-2.8 2.3z"/><path color="#137300" d="M337.2 82.2l2.8-1.8-2.8 .1-2.8 1.8z"/><path color="#2d7300" d="M342.8 80.4l2.8-1.8-2.8-0-2.8 1.8z"/><path color="#4b7a00" d="M348.4 78.8l2.8-1.8-2.8-.1-2.8 1.8z"/><path color="#6c8400" d="M354.1 77.2l2.8-1.8-2.8-.3-2.8 1.9z"/><path color="#8e8d00" d="M359.7 75.8l2.8-1.9-2.8-.4-2.8 1.9z"/><path color="#977c00" d="M365.4 74.5l2.8-1.9-2.8-.6-2.8 2z"/><path color="#9f6b00" d="M371.1 73.3l2.8-2-2.8-.8-2.8 2z"/><path color="#a65900" d="M376.7 72.3l2.8-2.1-2.8-1-2.8 2.1z"/><path color="#ac4700" d="M382.4 71.3l2.9-2.2-2.8-1.2-2.9 2.2z"/><path color="#067300" d="M334.4 84l2.8-1.8-2.8 .1-2.8 1.8z"/><path color="#207300" d="M340 82.2l2.8-1.8-2.8-0-2.8 1.8z"/><path color="#3b7600" d="M345.6 80.5l2.8-1.8-2.8-.1-2.8 1.8z"/><path color="#598000" d="M351.2 79l2.8-1.8-2.8-.3-2.8 1.8z"/><path color="#7a8900" d="M356.9 77.6l2.8-1.8-2.8-.4-2.8 1.8z"/><path color="#928b00" d="M362.6 76.3l2.8-1.8-2.8-.6-2.8 1.9z"/><path color="#9a7c00" d="M368.2 75.2l2.8-1.9-2.8-.8-2.8 1.9z"/><path color="#a26d00" d="M373.9 74.2l2.8-1.9-2.8-.9-2.8 2z"/><path color="#a85f00" d="M379.6 73.3l2.8-2-2.8-1.1-2.8 2.1z"/><path color="#ae5100" d="M385.3 72.6l2.9-2.1-2.8-1.3-2.9 2.2z"/><path color="#007205" d="M331.6 85.7l2.8-1.8-2.8 .1-2.8 1.7z"/><path color="#137300" d="M337.2 84l2.8-1.8-2.8-0-2.8 1.8z"/><path color="#2d7400" d="M342.8 82.3l2.8-1.8-2.8-.1-2.8 1.8z"/><path color="#497c00" d="M348.4 80.8l2.8-1.8-2.8-.2-2.8 1.8z"/><path color="#678500" d="M354.1 79.3l2.8-1.8-2.8-.4-2.8 1.8z"/><path color="#858e00" d="M359.7 78.1l2.8-1.8-2.8-.5-2.8 1.8z"/><path color="#968a00" d="M365.4 77l2.8-1.8-2.8-.7-2.8 1.8z"/><path color="#9d7e00" d="M371.1 76l2.8-1.8-2.8-.9-2.8 1.9z"/><path color="#a47200" d="M376.8 75.2l2.8-1.9-2.8-1.1-2.8 1.9z"/><path color="#aa6700" d="M382.4 74.5l2.8-2-2.8-1.3-2.8 2z"/><path color="#af5c00" d="M388.1 74l2.9-2.1-2.8-1.4-2.9 2.1z"/><path color="#00700f" d="M328.8 87.5l2.8-1.8-2.8 .1-2.8 1.7z"/><path color="#077300" d="M334.4 85.7l2.8-1.8-2.8-0-2.8 1.8z"/><path color="#1f7300" d="M340 84l2.8-1.7-2.8-.1-2.8 1.8z"/><path color="#3a7a00" d="M345.6 82.5l2.8-1.7-2.8-.2-2.8 1.8z"/><path color="#568200" d="M351.3 81.1l2.8-1.7-2.8-.3-2.8 1.8z"/><path color="#728b00" d="M356.9 79.8l2.8-1.7-2.8-.5-2.8 1.8z"/><path color="#8e9200" d="M362.6 78.7l2.8-1.7-2.8-.7-2.8 1.8z"/><path color="#9a8c00" d="M368.2 77.8l2.8-1.8-2.8-.8-2.8 1.8z"/><path color="#a08200" d="M373.9 77l2.8-1.8-2.8-1-2.8 1.8z"/><path color="#a67900" d="M379.6 76.4l2.8-1.8-2.8-1.2-2.8 1.9z"/><path color="#ab7100" d="M385.3 75.9l2.8-1.9-2.8-1.4-2.8 2z"/><path color="#b06b00" d="M391 75.5l2.9-2-2.8-1.6-2.9 2.1z"/><path color="#006e18" d="M326 89.2l2.8-1.8-2.8 0-2.8 1.7z"/><path color="#007205" d="M331.6 87.5l2.8-1.8-2.8-0-2.8 1.8z"/><path color="#137300" d="M337.2 85.8l2.8-1.8-2.8-.1-2.8 1.8z"/><path color="#2d7900" d="M342.8 84.2l2.8-1.7-2.8-.2-2.8 1.7z"/><path color="#478000" d="M348.4 82.8l2.8-1.7-2.8-.3-2.8 1.7z"/><path color="#628800" d="M354.1 81.5l2.8-1.7-2.8-.5-2.8 1.7z"/><path color="#7c8f00" d="M359.7 80.4l2.8-1.7-2.8-.6-2.8 1.7z"/><path color="#959600" d="M365.4 79.5l2.8-1.7-2.8-.8-2.8 1.7z"/><path color="#9d9000" d="M371.1 78.7l2.8-1.7-2.8-1-2.8 1.8z"/><path color="#a38800" d="M376.8 78.1l2.8-1.8-2.8-1.2-2.8 1.8z"/><path color="#a88200" d="M382.4 77.7l2.8-1.8-2.8-1.3-2.8 1.8z"/><path color="#ad7e00" d="M388.1 77.3l2.8-1.9-2.8-1.5-2.8 1.9z"/><path color="#b17b00" d="M393.8 77.1l2.9-1.9-2.8-1.7-2.9 2z"/><path color="#006c22" d="M323.2 91l2.8-1.8-2.8 0-2.8 1.8z"/><path color="#00700e" d="M328.8 89.3l2.8-1.8-2.8-0-2.8 1.8z"/><path color="#077300" d="M334.4 87.6l2.8-1.8-2.8-.1-2.8 1.8z"/><path color="#207900" d="M340 86l2.8-1.7-2.8-.2-2.8 1.8z"/><path color="#397f00" d="M345.6 84.5l2.8-1.7-2.8-.3-2.8 1.7z"/><path color="#538600" d="M351.3 83.2l2.8-1.7-2.8-.4-2.8 1.7z"/><path color="#6c8d00" d="M356.9 82.1l2.8-1.7-2.8-.6-2.8 1.7z"/><path color="#839400" d="M362.6 81.2l2.8-1.7-2.8-.8-2.8 1.7z"/><path color="#989a00" d="M368.2 80.4l2.8-1.7-2.8-.9-2.8 1.7z"/><path color="#a09500" d="M373.9 79.8l2.8-1.7-2.8-1.1-2.8 1.7z"/><path color="#a59100" d="M379.6 79.4l2.8-1.7-2.8-1.3-2.8 1.8z"/><path color="#aa8e00" d="M385.3 79.1l2.8-1.8-2.8-1.4-2.8 1.8z"/><path color="#ae8d00" d="M390.9 78.9l2.8-1.8-2.8-1.6-2.8 1.9z"/><path color="#b18d00" d="M396.6 78.7l2.9-1.9-2.8-1.7-2.9 1.9z"/><path color="#006a2c" d="M320.4 92.8l2.8-1.8-2.8-0-2.8 1.8z"/><path color="#006e18" d="M326 91.1l2.8-1.8-2.8-0-2.8 1.8z"/><path color="#007405" d="M331.6 89.4l2.8-1.8-2.8-.1-2.8 1.8z"/><path color="#137900" d="M337.2 87.7l2.8-1.8-2.8-.2-2.8 1.8z"/><path color="#2c7f00" d="M342.8 86.3l2.8-1.7-2.8-.3-2.8 1.7z"/><path color="#458500" d="M348.5 84.9l2.8-1.7-2.8-.4-2.8 1.7z"/><path color="#5d8c00" d="M354.1 83.8l2.8-1.7-2.8-.6-2.8 1.7z"/><path color="#749200" d="M359.8 82.8l2.8-1.7-2.8-.7-2.8 1.7z"/><path color="#889800" d="M365.4 82l2.8-1.6-2.8-.9-2.8 1.7z"/><path color="#999d00" d="M371.1 81.4l2.8-1.6-2.8-1.1-2.8 1.7z"/><path color="#a29e00" d="M376.8 81l2.8-1.6-2.8-1.2-2.8 1.7z"/><path color="#a79c00" d="M382.4 80.7l2.8-1.7-2.8-1.4-2.8 1.7z"/><path color="#ab9c00" d="M388.1 80.6l2.8-1.7-2.8-1.6-2.8 1.8z"/><path color="#af9e00" d="M393.8 80.5l2.8-1.8-2.8-1.7-2.8 1.8z"/><path color="#b2a100" d="M399.4 80.5l2.8-1.9-2.8-1.8-2.9 1.9z"/><path color="#006836" d="M317.6 94.6l2.8-1.8-2.8-0-2.8 1.8z"/><path color="#006e22" d="M323.2 92.9l2.8-1.8-2.8-.1-2.8 1.8z"/><path color="#00740f" d="M328.8 91.2l2.8-1.8-2.8-.1-2.8 1.8z"/><path color="#067b00" d="M334.4 89.5l2.8-1.8-2.8-.2-2.8 1.8z"/><path color="#1f8000" d="M340 88l2.8-1.8-2.8-.3-2.8 1.8z"/><path color="#388500" d="M345.6 86.7l2.8-1.7-2.8-.4-2.8 1.7z"/><path color="#4f8b00" d="M351.3 85.5l2.8-1.7-2.8-.6-2.8 1.7z"/><path color="#659100" d="M356.9 84.5l2.8-1.7-2.8-.7-2.8 1.7z"/><path color="#799600" d="M362.6 83.7l2.8-1.6-2.8-.9-2.8 1.7z"/><path color="#8a9b00" d="M368.3 83.1l2.8-1.6-2.8-1-2.8 1.6z"/><path color="#97a000" d="M373.9 82.6l2.8-1.6-2.8-1.2-2.8 1.6z"/><path color="#a1a500" d="M379.6 82.4l2.8-1.6-2.8-1.4-2.8 1.6z"/><path color="#a8a900" d="M385.3 82.2l2.8-1.6-2.8-1.5-2.8 1.7z"/><path color="#acac00" d="M390.9 82.2l2.8-1.7-2.8-1.7-2.8 1.7z"/><path color="#aeaf00" d="M396.6 82.3l2.8-1.7-2.8-1.8-2.8 1.8z"/><path color="#aeb200" d="M402.3 82.4l2.8-1.8-2.8-1.9-2.8 1.9z"/><path color="#006a42" d="M314.8 96.5l2.8-1.8-2.8-.1-2.8 1.8z"/><path color="#006f2e" d="M320.4 94.7l2.8-1.9-2.8-.1-2.8 1.8z"/><path color="#00751a" d="M326 93l2.8-1.8-2.8-.1-2.8 1.8z"/><path color="#007c06" d="M331.6 91.4l2.8-1.8-2.8-.2-2.8 1.8z"/><path color="#118100" d="M337.2 89.8l2.8-1.8-2.8-.3-2.8 1.8z"/><path color="#2a8600" d="M342.8 88.4l2.8-1.8-2.8-.4-2.8 1.8z"/><path color="#428b00" d="M348.5 87.2l2.8-1.7-2.8-.5-2.8 1.7z"/><path color="#589000" d="M354.1 86.1l2.8-1.7-2.8-.7-2.8 1.7z"/><path color="#6b9500" d="M359.8 85.3l2.8-1.6-2.8-.8-2.8 1.7z"/><path color="#7b9a00" d="M365.4 84.6l2.8-1.6-2.8-1-2.8 1.6z"/><path color="#889f00" d="M371.1 84.2l2.8-1.6-2.8-1.2-2.8 1.6z"/><path color="#92a300" d="M376.8 83.9l2.8-1.6-2.8-1.3-2.8 1.6z"/><path color="#98a700" d="M382.4 83.8l2.8-1.6-2.8-1.5-2.8 1.6z"/><path color="#9baa00" d="M388.1 83.8l2.8-1.6-2.8-1.6-2.8 1.6z"/><path color="#9cad00" d="M393.8 83.9l2.8-1.6-2.8-1.7-2.8 1.7z"/><path color="#9ab000" d="M399.4 84.1l2.8-1.7-2.8-1.9-2.8 1.7z"/><path color="#97b300" d="M405.1 84.3l2.8-1.8-2.8-1.9-2.8 1.8z"/><path color="#006b4f" d="M312.1 98.3l2.8-1.9-2.8-.1-2.8 1.8z"/><path color="#00703a" d="M317.6 96.6l2.8-1.9-2.8-.1-2.8 1.8z"/><path color="#007626" d="M323.2 94.9l2.8-1.9-2.8-.1-2.8 1.9z"/><path color="#007c12" d="M328.8 93.2l2.8-1.9-2.8-.2-2.8 1.8z"/><path color="#038300" d="M334.4 91.6l2.8-1.8-2.8-.3-2.8 1.8z"/><path color="#1c8700" d="M340 90.2l2.8-1.8-2.8-.4-2.8 1.8z"/><path color="#348c00" d="M345.7 88.9l2.8-1.7-2.8-.5-2.8 1.8z"/><path color="#4a9000" d="M351.3 87.8l2.8-1.7-2.8-.7-2.8 1.7z"/><path color="#5e9500" d="M356.9 86.9l2.8-1.6-2.8-.8-2.8 1.7z"/><path color="#6e9900" d="M362.6 86.3l2.8-1.6-2.8-1-2.8 1.6z"/><path color="#7b9e00" d="M368.3 85.8l2.8-1.6-2.8-1.1-2.8 1.6z"/><path color="#84a200" d="M373.9 85.5l2.8-1.5-2.8-1.3-2.8 1.6z"/><path color="#8aa500" d="M379.6 85.4l2.8-1.5-2.8-1.5-2.8 1.6z"/><path color="#8da800" d="M385.3 85.4l2.8-1.6-2.8-1.6-2.8 1.6z"/><path color="#8cab00" d="M390.9 85.5l2.8-1.6-2.8-1.7-2.8 1.6z"/><path color="#89ae00" d="M396.6 85.7l2.8-1.6-2.8-1.8-2.8 1.6z"/><path color="#85b000" d="M402.2 86l2.8-1.7-2.8-1.9-2.8 1.7z"/><path color="#7fb300" d="M407.9 86.3l2.8-1.7-2.8-2-2.8 1.8z"/><path color="#006d5c" d="M309.3 100.2l2.8-1.9-2.8-.2-2.8 1.8z"/><path color="#007147" d="M314.9 98.5l2.8-1.9-2.8-.2-2.8 1.9z"/><path color="#007733" d="M320.4 96.8l2.8-1.9-2.8-.2-2.8 1.9z"/><path color="#007d1e" d="M326 95.1l2.8-1.9-2.8-.2-2.8 1.9z"/><path color="#008409" d="M331.6 93.5l2.8-1.9-2.8-.3-2.8 1.9z"/><path color="#0d8900" d="M337.2 92l2.8-1.8-2.8-.4-2.8 1.8z"/><path color="#268d00" d="M342.8 90.7l2.8-1.8-2.8-.5-2.8 1.8z"/><path color="#3c9100" d="M348.5 89.6l2.8-1.7-2.8-.7-2.8 1.7z"/><path color="#509500" d="M354.1 88.6l2.8-1.7-2.8-.8-2.8 1.7z"/><path color="#619900" d="M359.8 87.9l2.8-1.6-2.8-1-2.8 1.6z"/><path color="#6e9d00" d="M365.4 87.3l2.8-1.6-2.8-1.1-2.8 1.6z"/><path color="#77a100" d="M371.1 87l2.8-1.5-2.8-1.3-2.8 1.6z"/><path color="#7da400" d="M376.8 86.9l2.8-1.5-2.8-1.4-2.8 1.5z"/><path color="#7fa700" d="M382.4 86.9l2.8-1.5-2.8-1.6-2.8 1.5z"/><path color="#7faa00" d="M388.1 87l2.8-1.5-2.8-1.7-2.8 1.6z"/><path color="#7bac00" d="M393.7 87.3l2.8-1.6-2.8-1.8-2.8 1.6z"/><path color="#75af00" d="M399.4 87.6l2.8-1.6-2.8-1.9-2.8 1.6z"/><path color="#6eb100" d="M405 87.9l2.8-1.6-2.8-2-2.8 1.7z"/><path color="#66b300" d="M410.7 88.3l2.8-1.7-2.8-2-2.8 1.7z"/><path color="#006d6a" d="M306.5 102l2.8-1.9-2.8-.2-2.8 1.8z"/><path color="#007255" d="M312.1 100.4l2.8-1.9-2.8-.2-2.8 1.9z"/><path color="#007840" d="M317.6 98.8l2.8-1.9-2.8-.2-2.8 1.9z"/><path color="#007e2b" d="M323.2 97.1l2.8-1.9-2.8-.2-2.8 1.9z"/><path color="#008416" d="M328.8 95.4l2.8-1.9-2.8-.3-2.8 1.9z"/><path color="#008b02" d="M334.4 93.9l2.8-1.9-2.8-.4-2.8 1.9z"/><path color="#178f00" d="M340 92.5l2.8-1.8-2.8-.5-2.8 1.8z"/><path color="#2e9200" d="M345.7 91.3l2.8-1.8-2.8-.6-2.8 1.8z"/><path color="#429600" d="M351.3 90.3l2.8-1.7-2.8-.8-2.8 1.7z"/><path color="#549a00" d="M357 89.5l2.8-1.7-2.8-.9-2.8 1.7z"/><path color="#619d00" d="M362.6 89l2.8-1.6-2.8-1.1-2.8 1.6z"/><path color="#6ba000" d="M368.3 88.6l2.8-1.6-2.8-1.3-2.8 1.6z"/><path color="#71a300" d="M373.9 88.4l2.8-1.5-2.8-1.4-2.8 1.5z"/><path color="#73a600" d="M379.6 88.4l2.8-1.5-2.8-1.5-2.8 1.5z"/><path color="#72a900" d="M385.2 88.5l2.8-1.5-2.8-1.7-2.8 1.5z"/><path color="#6eab00" d="M390.9 88.8l2.8-1.5-2.8-1.8-2.8 1.5z"/><path color="#68ad00" d="M396.6 89.1l2.8-1.5-2.8-1.9-2.8 1.6z"/><path color="#60af00" d="M402.2 89.5l2.8-1.6-2.8-1.9-2.8 1.6z"/><path color="#57b100" d="M407.8 89.9l2.8-1.6-2.8-2-2.8 1.6z"/><path color="#4db300" d="M413.5 90.3l2.8-1.7-2.8-2.1-2.8 1.7z"/><path color="#006b75" d="M303.8 103.9l2.8-1.9-2.8-.3-2.8 1.8z"/><path color="#007364" d="M309.3 102.4l2.8-1.9-2.8-.3-2.8 1.9z"/><path color="#00784f" d="M314.9 100.7l2.8-2-2.8-.2-2.8 1.9z"/><path color="#007e39" d="M320.4 99.1l2.8-2-2.8-.3-2.8 1.9z"/><path color="#008424" d="M326 97.4l2.8-2-2.8-.3-2.8 1.9z"/><path color="#008b0f" d="M331.6 95.9l2.8-1.9-2.8-.4-2.8 1.9z"/><path color="#079100" d="M337.2 94.4l2.8-1.9-2.8-.5-2.8 1.9z"/><path color="#1f9400" d="M342.9 93.2l2.8-1.8-2.8-.6-2.8 1.8z"/><path color="#349700" d="M348.5 92.1l2.8-1.8-2.8-.8-2.8 1.8z"/><path color="#469b00" d="M354.1 91.2l2.8-1.7-2.8-.9-2.8 1.7z"/><path color="#549e00" d="M359.8 90.6l2.8-1.6-2.8-1.1-2.8 1.7z"/><path color="#5fa000" d="M365.4 90.2l2.8-1.6-2.8-1.2-2.8 1.6z"/><path color="#65a300" d="M371.1 89.9l2.8-1.5-2.8-1.4-2.8 1.6z"/><path color="#68a600" d="M376.8 89.9l2.8-1.5-2.8-1.5-2.8 1.5z"/><path color="#67a800" d="M382.4 90l2.8-1.5-2.8-1.6-2.8 1.5z"/><path color="#63aa00" d="M388.1 90.3l2.8-1.5-2.8-1.7-2.8 1.5z"/><path color="#5cac00" d="M393.7 90.6l2.8-1.5-2.8-1.8-2.8 1.5z"/><path color="#54ae00" d="M399.4 91l2.8-1.5-2.8-1.9-2.8 1.5z"/><path color="#49b000" d="M405 91.4l2.8-1.6-2.8-2-2.8 1.6z"/><path color="#3fb100" d="M410.6 91.9l2.8-1.6-2.8-2-2.8 1.6z"/><path color="#33b300" d="M416.3 92.3l2.8-1.7-2.8-2.1-2.8 1.7z"/><path color="#006579" d="M301 105.8l2.8-1.9-2.8-.4-2.8 1.8z"/><path color="#007373" d="M306.5 104.3l2.8-1.9-2.8-.3-2.8 1.9z"/><path color="#00785e" d="M312.1 102.7l2.8-2-2.8-.3-2.8 1.9z"/><path color="#007e48" d="M317.7 101.1l2.8-2-2.8-.3-2.8 2z"/><path color="#008432" d="M323.2 99.4l2.8-2-2.8-.3-2.8 2z"/><path color="#008b1d" d="M328.8 97.9l2.8-2-2.8-.4-2.8 2z"/><path color="#009208" d="M334.4 96.4l2.8-2-2.8-.5-2.8 1.9z"/><path color="#0e9600" d="M340.1 95.1l2.8-1.9-2.8-.6-2.8 1.9z"/><path color="#249900" d="M345.7 93.9l2.8-1.8-2.8-.8-2.8 1.8z"/><path color="#379c00" d="M351.3 93l2.8-1.8-2.8-.9-2.8 1.8z"/><path color="#479e00" d="M357 92.3l2.8-1.7-2.8-1.1-2.8 1.7z"/><path color="#52a100" d="M362.6 91.8l2.8-1.6-2.8-1.2-2.8 1.6z"/><path color="#59a300" d="M368.3 91.5l2.8-1.6-2.8-1.4-2.8 1.6z"/><path color="#5da600" d="M373.9 91.4l2.8-1.5-2.8-1.5-2.8 1.5z"/><path color="#5ca800" d="M379.6 91.5l2.8-1.5-2.8-1.6-2.8 1.5z"/><path color="#58aa00" d="M385.2 91.7l2.8-1.5-2.8-1.7-2.8 1.5z"/><path color="#51ab00" d="M390.9 92.1l2.8-1.5-2.8-1.8-2.8 1.5z"/><path color="#49ad00" d="M396.5 92.5l2.8-1.5-2.8-1.9-2.8 1.5z"/><path color="#3eae00" d="M402.2 93l2.8-1.5-2.8-2-2.8 1.5z"/><path color="#32b000" d="M407.8 93.4l2.8-1.5-2.8-2-2.8 1.6z"/><path color="#26b100" d="M413.4 93.9l2.8-1.6-2.8-2-2.8 1.6z"/><path color="#1ab200" d="M419.1 94.4l2.8-1.7-2.8-2.1-2.8 1.7z"/><path color="#005e7d" d="M298.2 107.6l2.8-1.8-2.8-.4-2.8 1.8z"/><path color="#006e7b" d="M303.8 106.2l2.8-1.9-2.8-.4-2.8 1.9z"/><path color="#00786d" d="M309.3 104.7l2.8-2-2.8-.3-2.8 1.9z"/><path color="#007e58" d="M314.9 103.1l2.8-2-2.8-.3-2.8 2z"/><path color="#008442" d="M320.5 101.5l2.8-2-2.8-.4-2.8 2z"/><path color="#008a2c" d="M326 99.9l2.8-2-2.8-.4-2.8 2z"/><path color="#009117" d="M331.6 98.4l2.8-2-2.8-.5-2.8 2z"/><path color="#009703" d="M337.3 97l2.8-2-2.8-.6-2.8 2z"/><path color="#149b00" d="M342.9 95.8l2.8-1.9-2.8-.8-2.8 1.9z"/><path color="#289d00" d="M348.5 94.8l2.8-1.8-2.8-.9-2.8 1.8z"/><path color="#38a000" d="M354.2 94l2.8-1.7-2.8-1-2.8 1.8z"/><path color="#45a200" d="M359.8 93.5l2.8-1.7-2.8-1.2-2.8 1.7z"/><path color="#4da400" d="M365.5 93.1l2.8-1.6-2.8-1.3-2.8 1.6z"/><path color="#51a600" d="M371.1 93l2.8-1.6-2.8-1.5-2.8 1.6z"/><path color="#51a800" d="M376.8 93l2.8-1.5-2.8-1.6-2.8 1.5z"/><path color="#4ea900" d="M382.4 93.2l2.8-1.5-2.8-1.7-2.8 1.5z"/><path color="#47ab00" d="M388.1 93.5l2.8-1.5-2.8-1.8-2.8 1.5z"/><path color="#3eac00" d="M393.7 93.9l2.8-1.5-2.8-1.9-2.8 1.5z"/><path color="#34ae00" d="M399.3 94.4l2.8-1.5-2.8-2-2.8 1.5z"/><path color="#27af00" d="M405 94.9l2.8-1.5-2.8-2-2.8 1.5z"/><path color="#1ab000" d="M410.6 95.5l2.8-1.5-2.8-2-2.8 1.5z"/><path color="#0db100" d="M416.2 96l2.8-1.6-2.8-2.1-2.8 1.6z"/><path color="#00b200" d="M421.9 96.5l2.8-1.6-2.8-2.1-2.8 1.7z"/><path color="#005681" d="M295.5 109.4l2.8-1.8-2.8-.5-2.8 1.7z"/><path color="#00667f" d="M301 108.1l2.8-1.9-2.8-.4-2.8 1.8z"/><path color="#00787d" d="M306.6 106.7l2.8-2-2.8-.4-2.8 1.9z"/><path color="#007d68" d="M312.1 105.1l2.8-2-2.8-.4-2.8 2z"/><path color="#008352" d="M317.7 103.5l2.8-2.1-2.8-.4-2.8 2z"/><path color="#008a3c" d="M323.3 102l2.8-2.1-2.8-.5-2.8 2z"/><path color="#009026" d="M328.9 100.4l2.8-2.1-2.8-.5-2.8 2z"/><path color="#009712" d="M334.5 99l2.8-2-2.8-.6-2.8 2z"/><path color="#019c00" d="M340.1 97.8l2.8-2-2.8-.8-2.8 2z"/><path color="#179f00" d="M345.7 96.7l2.8-1.9-2.8-.9-2.8 1.9z"/><path color="#29a100" d="M351.3 95.8l2.8-1.8-2.8-1-2.8 1.8z"/><path color="#37a300" d="M357 95.2l2.8-1.7-2.8-1.2-2.8 1.7z"/><path color="#40a500" d="M362.6 94.8l2.8-1.7-2.8-1.3-2.8 1.7z"/><path color="#45a700" d="M368.3 94.6l2.8-1.6-2.8-1.5-2.8 1.6z"/><path color="#46a800" d="M373.9 94.5l2.8-1.5-2.8-1.6-2.8 1.6z"/><path color="#44a900" d="M379.6 94.7l2.8-1.5-2.8-1.7-2.8 1.5z"/><path color="#3eab00" d="M385.2 95l2.8-1.5-2.8-1.8-2.8 1.5z"/><path color="#35ac00" d="M390.9 95.4l2.8-1.5-2.8-1.9-2.8 1.5z"/><path color="#2aad00" d="M396.5 95.9l2.8-1.5-2.8-1.9-2.8 1.5z"/><path color="#1eae00" d="M402.1 96.4l2.8-1.5-2.8-2-2.8 1.5z"/><path color="#10af00" d="M407.8 97l2.8-1.5-2.8-2-2.8 1.5z"/><path color="#02b000" d="M413.4 97.5l2.8-1.5-2.8-2-2.8 1.5z"/><path color="#00af09" d="M419 98l2.8-1.6-2.8-2.1-2.8 1.6z"/><path color="#00ae13" d="M424.6 98.5l2.8-1.6-2.8-2.1-2.8 1.6z"/><path color="#004f84" d="M292.7 111.2l2.8-1.8-2.8-.6-2.8 1.7z"/><path color="#005e82" d="M298.3 110l2.8-1.9-2.8-.5-2.8 1.8z"/><path color="#006f81" d="M303.8 108.6l2.8-2-2.8-.5-2.8 1.9z"/><path color="#007c78" d="M309.4 107.2l2.8-2-2.8-.4-2.8 2z"/><path color="#008262" d="M314.9 105.6l2.8-2.1-2.8-.5-2.8 2z"/><path color="#00894c" d="M320.5 104.1l2.8-2.1-2.8-.5-2.8 2.1z"/><path color="#008f37" d="M326.1 102.6l2.8-2.1-2.8-.6-2.8 2.1z"/><path color="#009522" d="M331.7 101.1l2.8-2.1-2.8-.6-2.8 2.1z"/><path color="#009c0e" d="M337.3 99.8l2.8-2-2.8-.8-2.8 2z"/><path color="#05a000" d="M342.9 98.7l2.8-2-2.8-.9-2.8 2z"/><path color="#18a200" d="M348.5 97.7l2.8-1.9-2.8-1-2.8 1.9z"/><path color="#27a400" d="M354.2 97l2.8-1.8-2.8-1.2-2.8 1.8z"/><path color="#32a600" d="M359.8 96.5l2.8-1.7-2.8-1.3-2.8 1.7z"/><path color="#38a700" d="M365.5 96.2l2.8-1.6-2.8-1.5-2.8 1.7z"/><path color="#3ba900" d="M371.1 96.1l2.8-1.6-2.8-1.6-2.8 1.6z"/><path color="#39aa00" d="M376.8 96.2l2.8-1.5-2.8-1.7-2.8 1.5z"/><path color="#34ab00" d="M382.4 96.5l2.8-1.5-2.8-1.8-2.8 1.5z"/><path color="#2cac00" d="M388 96.9l2.8-1.5-2.8-1.9-2.8 1.5z"/><path color="#21ad00" d="M393.7 97.3l2.8-1.4-2.8-1.9-2.8 1.5z"/><path color="#15ae00" d="M399.3 97.9l2.8-1.4-2.8-2-2.8 1.5z"/><path color="#07ae00" d="M404.9 98.4l2.8-1.5-2.8-2-2.8 1.5z"/><path color="#00ae06" d="M410.6 99l2.8-1.5-2.8-2-2.8 1.5z"/><path color="#00ad11" d="M416.2 99.5l2.8-1.5-2.8-2-2.8 1.5z"/><path color="#00ab1c" d="M421.8 100.1l2.8-1.6-2.8-2-2.8 1.6z"/><path color="#00aa26" d="M427.4 100.5l2.8-1.6-2.8-2-2.8 1.6z"/><path color="#004787" d="M290 112.9l2.8-1.7-2.8-.6-2.8 1.6z"/><path color="#005686" d="M295.5 111.8l2.8-1.8-2.8-.6-2.8 1.8z"/><path color="#006684" d="M301 110.6l2.8-1.9-2.8-.5-2.8 1.9z"/><path color="#007883" d="M306.6 109.2l2.8-2-2.8-.5-2.8 2z"/><path color="#008173" d="M312.1 107.7l2.8-2.1-2.8-.5-2.8 2z"/><path color="#00875e" d="M317.7 106.2l2.8-2.1-2.8-.5-2.8 2.1z"/><path color="#008e48" d="M323.3 104.7l2.8-2.1-2.8-.6-2.8 2.1z"/><path color="#009432" d="M328.9 103.2l2.8-2.1-2.8-.7-2.8 2.1z"/><path color="#009a1e" d="M334.5 101.9l2.8-2.1-2.8-.8-2.8 2.1z"/><path color="#00a00c" d="M340.1 100.7l2.8-2-2.8-.9-2.8 2z"/><path color="#05a400" d="M345.7 99.7l2.8-2-2.8-1-2.8 2z"/><path color="#16a600" d="M351.4 98.9l2.8-1.9-2.8-1.2-2.8 1.9z"/><path color="#23a700" d="M357 98.3l2.8-1.8-2.8-1.3-2.8 1.8z"/><path color="#2ba800" d="M362.6 97.9l2.8-1.7-2.8-1.4-2.8 1.7z"/><path color="#2eaa00" d="M368.3 97.8l2.8-1.6-2.8-1.6-2.8 1.6z"/><path color="#2eab00" d="M373.9 97.8l2.8-1.6-2.8-1.7-2.8 1.6z"/><path color="#29ab00" d="M379.6 98l2.8-1.5-2.8-1.8-2.8 1.5z"/><path color="#22ac00" d="M385.2 98.3l2.8-1.5-2.8-1.9-2.8 1.5z"/><path color="#18ad00" d="M390.9 98.8l2.8-1.5-2.8-1.9-2.8 1.5z"/><path color="#0cad00" d="M396.5 99.3l2.8-1.4-2.8-2-2.8 1.4z"/><path color="#00ae01" d="M402.1 99.9l2.8-1.4-2.8-2-2.8 1.4z"/><path color="#00ac0c" d="M407.7 100.5l2.8-1.5-2.8-2-2.8 1.5z"/><path color="#00ab18" d="M413.4 101l2.8-1.5-2.8-2-2.8 1.5z"/><path color="#00a923" d="M419 101.6l2.8-1.5-2.8-2-2.8 1.5z"/><path color="#00a72e" d="M424.6 102.1l2.8-1.6-2.8-2-2.8 1.6z"/><path color="#00a638" d="M430.2 102.5l2.8-1.6-2.8-2-2.8 1.6z"/><path color="#004089" d="M287.2 114.6l2.8-1.7-2.8-.7-2.8 1.6z"/><path color="#004d88" d="M292.7 113.6l2.8-1.8-2.8-.6-2.8 1.7z"/><path color="#005d88" d="M298.3 112.5l2.8-1.9-2.8-.6-2.8 1.8z"/><path color="#006e86" d="M303.8 111.2l2.8-2-2.8-.6-2.8 1.9z"/><path color="#007f84" d="M309.4 109.8l2.8-2.1-2.8-.6-2.8 2z"/><path color="#00866f" d="M314.9 108.3l2.8-2.1-2.8-.6-2.8 2.1z"/><path color="#008c59" d="M320.5 106.9l2.8-2.2-2.8-.6-2.8 2.1z"/><path color="#009244" d="M326.1 105.4l2.8-2.2-2.8-.7-2.8 2.1z"/><path color="#00982f" d="M331.7 104l2.8-2.1-2.8-.8-2.8 2.1z"/><path color="#009e1c" d="M337.3 102.8l2.8-2.1-2.8-.9-2.8 2.1z"/><path color="#00a30b" d="M342.9 101.7l2.8-2-2.8-1-2.8 2z"/><path color="#03a700" d="M348.5 100.8l2.8-2-2.8-1.2-2.8 2z"/><path color="#12a800" d="M354.2 100.2l2.8-1.9-2.8-1.3-2.8 1.9z"/><path color="#1baa00" d="M359.8 99.7l2.8-1.8-2.8-1.4-2.8 1.8z"/><path color="#21ab00" d="M365.5 99.5l2.8-1.7-2.8-1.6-2.8 1.7z"/><path color="#21ab00" d="M371.1 99.4l2.8-1.6-2.8-1.7-2.8 1.6z"/><path color="#1fac00" d="M376.8 99.6l2.8-1.6-2.8-1.8-2.8 1.6z"/><path color="#18ad00" d="M382.4 99.8l2.8-1.5-2.8-1.9-2.8 1.5z"/><path color="#0fad00" d="M388 100.3l2.8-1.5-2.8-1.9-2.8 1.5z"/><path color="#03ae00" d="M393.7 100.8l2.8-1.5-2.8-2-2.8 1.5z"/><path color="#00ad08" d="M399.3 101.3l2.8-1.4-2.8-2-2.8 1.4z"/><path color="#00ab13" d="M404.9 101.9l2.8-1.4-2.8-2-2.8 1.4z"/><path color="#00a91e" d="M410.5 102.5l2.8-1.5-2.8-2-2.8 1.5z"/><path color="#00a72a" d="M416.1 103.1l2.8-1.5-2.8-2-2.8 1.5z"/><path color="#00a535" d="M421.8 103.6l2.8-1.5-2.8-2-2.8 1.5z"/><path color="#00a440" d="M427.4 104.1l2.8-1.6-2.8-2-2.8 1.6z"/><path color="#00a24a" d="M433 104.5l2.8-1.6-2.8-2-2.8 1.6z"/><path color="#00398b" d="M284.4 116.2l2.8-1.6-2.8-.8-2.8 1.5z"/><path color="#00458b" d="M290 115.3l2.8-1.7-2.8-.7-2.8 1.7z"/><path color="#00548a" d="M295.5 114.3l2.8-1.9-2.8-.7-2.8 1.8z"/><path color="#00648a" d="M301.1 113.2l2.8-2-2.8-.6-2.8 1.9z"/><path color="#007588" d="M306.6 111.9l2.8-2.1-2.8-.6-2.8 2z"/><path color="#008481" d="M312.2 110.5l2.8-2.1-2.8-.6-2.8 2.1z"/><path color="#008a6b" d="M317.7 109l2.8-2.2-2.8-.7-2.8 2.1z"/><path color="#009056" d="M323.3 107.6l2.8-2.2-2.8-.7-2.8 2.2z"/><path color="#009641" d="M328.9 106.2l2.8-2.2-2.8-.8-2.8 2.2z"/><path color="#009c2e" d="M334.5 104.9l2.8-2.2-2.8-.9-2.8 2.1z"/><path color="#00a11c" d="M340.1 103.8l2.8-2.1-2.8-1-2.8 2.1z"/><path color="#00a60d" d="M345.7 102.9l2.8-2-2.8-1.1-2.8 2z"/><path color="#00aa01" d="M351.4 102.1l2.8-1.9-2.8-1.3-2.8 2z"/><path color="#0bab00" d="M357 101.6l2.8-1.9-2.8-1.4-2.8 1.9z"/><path color="#12ac00" d="M362.6 101.2l2.8-1.8-2.8-1.5-2.8 1.8z"/><path color="#14ac00" d="M368.3 101.1l2.8-1.7-2.8-1.7-2.8 1.7z"/><path color="#13ad00" d="M373.9 101.2l2.8-1.6-2.8-1.8-2.8 1.6z"/><path color="#0dad00" d="M379.6 101.4l2.8-1.6-2.8-1.8-2.8 1.6z"/><path color="#05ae00" d="M385.2 101.8l2.8-1.5-2.8-1.9-2.8 1.5z"/><path color="#00ad04" d="M390.8 102.2l2.8-1.5-2.8-2-2.8 1.5z"/><path color="#00ab0e" d="M396.5 102.8l2.8-1.5-2.8-2-2.8 1.5z"/><path color="#00aa19" d="M402.1 103.3l2.8-1.4-2.8-2-2.8 1.4z"/><path color="#00a824" d="M407.7 103.9l2.8-1.4-2.8-2-2.8 1.4z"/><path color="#00a530" d="M413.3 104.5l2.8-1.5-2.8-2-2.8 1.5z"/><path color="#00a33b" d="M418.9 105.1l2.8-1.5-2.8-2-2.8 1.5z"/><path color="#00a146" d="M424.5 105.6l2.8-1.5-2.8-2-2.8 1.5z"/><path color="#00a051" d="M430.1 106.1l2.8-1.6-2.8-2-2.8 1.6z"/><path color="#009e5b" d="M435.7 106.5l2.8-1.6-2.8-1.9-2.8 1.6z"/><path color="#00338c" d="M281.7 117.7l2.8-1.5-2.8-.8-2.8 1.5z"/><path color="#003e8d" d="M287.2 117l2.8-1.7-2.8-.8-2.8 1.6z"/><path color="#004b8d" d="M292.8 116.1l2.8-1.8-2.8-.7-2.8 1.7z"/><path color="#005a8c" d="M298.3 115.1l2.8-1.9-2.8-.7-2.8 1.9z"/><path color="#006a8b" d="M303.8 113.9l2.8-2-2.8-.7-2.8 2z"/><path color="#007c8a" d="M309.4 112.6l2.8-2.1-2.8-.7-2.8 2.1z"/><path color="#00887e" d="M315 111.2l2.8-2.2-2.8-.7-2.8 2.1z"/><path color="#008e69" d="M320.5 109.8l2.8-2.2-2.8-.7-2.8 2.2z"/><path color="#009454" d="M326.1 108.4l2.8-2.2-2.8-.8-2.8 2.2z"/><path color="#009a40" d="M331.7 107.1l2.8-2.2-2.8-.9-2.8 2.2z"/><path color="#009f2e" d="M337.3 106l2.8-2.2-2.8-1-2.8 2.2z"/><path color="#00a41d" d="M342.9 104.9l2.8-2.1-2.8-1.1-2.8 2.1z"/><path color="#00a810" d="M348.6 104.1l2.8-2-2.8-1.3-2.8 2z"/><path color="#00ab06" d="M354.2 103.5l2.8-1.9-2.8-1.4-2.8 1.9z"/><path color="#01ad00" d="M359.8 103.1l2.8-1.8-2.8-1.5-2.8 1.9z"/><path color="#05ad00" d="M365.5 102.9l2.8-1.8-2.8-1.6-2.8 1.8z"/><path color="#05ae00" d="M371.1 102.9l2.8-1.7-2.8-1.8-2.8 1.7z"/><path color="#02ae00" d="M376.8 103l2.8-1.6-2.8-1.8-2.8 1.6z"/><path color="#00ae04" d="M382.4 103.3l2.8-1.6-2.8-1.9-2.8 1.6z"/><path color="#00ac0b" d="M388 103.7l2.8-1.5-2.8-2-2.8 1.5z"/><path color="#00aa15" d="M393.6 104.2l2.8-1.5-2.8-2-2.8 1.5z"/><path color="#00a91f" d="M399.3 104.8l2.8-1.5-2.8-2-2.8 1.5z"/><path color="#00a62a" d="M404.9 105.4l2.8-1.4-2.8-2-2.8 1.4z"/><path color="#00a436" d="M410.5 106l2.8-1.5-2.8-2-2.8 1.4z"/><path color="#00a241" d="M416.1 106.6l2.8-1.5-2.8-2-2.8 1.5z"/><path color="#00a04c" d="M421.7 107.1l2.8-1.5-2.8-2-2.8 1.5z"/><path color="#009e57" d="M427.3 107.6l2.8-1.5-2.8-2-2.8 1.5z"/><path color="#009c61" d="M432.9 108l2.8-1.6-2.8-1.9-2.8 1.6z"/><path color="#009a6b" d="M438.5 108.4l2.8-1.6-2.8-1.9-2.8 1.6z"/><path color="#002d8d" d="M278.9 119.2l2.8-1.5-2.8-.9-2.8 1.4z"/><path color="#00378e" d="M284.5 118.6l2.8-1.6-2.8-.8-2.8 1.5z"/><path color="#00438e" d="M290 117.9l2.8-1.7-2.8-.8-2.8 1.7z"/><path color="#00508e" d="M295.5 117l2.8-1.9-2.8-.8-2.8 1.8z"/><path color="#00608e" d="M301.1 115.9l2.8-2-2.8-.7-2.8 1.9z"/><path color="#00718d" d="M306.6 114.7l2.8-2.1-2.8-.7-2.8 2z"/><path color="#00838c" d="M312.2 113.4l2.8-2.2-2.8-.7-2.8 2.1z"/><path color="#008b7b" d="M317.8 112l2.8-2.2-2.8-.8-2.8 2.2z"/><path color="#009167" d="M323.3 110.7l2.8-2.2-2.8-.8-2.8 2.2z"/><path color="#009753" d="M328.9 109.4l2.8-2.2-2.8-.9-2.8 2.2z"/><path color="#009d40" d="M334.5 108.2l2.8-2.2-2.8-1-2.8 2.2z"/><path color="#00a22f" d="M340.1 107.1l2.8-2.2-2.8-1.1-2.8 2.2z"/><path color="#00a621" d="M345.8 106.2l2.8-2.1-2.8-1.3-2.8 2.1z"/><path color="#00a915" d="M351.4 105.5l2.8-2-2.8-1.4-2.8 2z"/><path color="#00ab0d" d="M357 105l2.8-1.9-2.8-1.5-2.8 1.9z"/><path color="#00ad08" d="M362.7 104.7l2.8-1.8-2.8-1.6-2.8 1.8z"/><path color="#00ad07" d="M368.3 104.6l2.8-1.7-2.8-1.7-2.8 1.8z"/><path color="#00ad08" d="M373.9 104.7l2.8-1.7-2.8-1.8-2.8 1.7z"/><path color="#00ad0d" d="M379.6 104.9l2.8-1.6-2.8-1.9-2.8 1.6z"/><path color="#00ab13" d="M385.2 105.3l2.8-1.5-2.8-2-2.8 1.6z"/><path color="#00aa1c" d="M390.8 105.7l2.8-1.5-2.8-2-2.8 1.5z"/><path color="#00a825" d="M396.4 106.3l2.8-1.5-2.8-2-2.8 1.5z"/><path color="#00a530" d="M402.1 106.8l2.8-1.5-2.8-2-2.8 1.5z"/><path color="#00a33b" d="M407.7 107.4l2.8-1.4-2.8-2-2.8 1.4z"/><path color="#00a147" d="M413.3 108l2.8-1.5-2.8-2-2.8 1.5z"/><path color="#009e52" d="M418.9 108.6l2.8-1.5-2.8-2-2.8 1.5z"/><path color="#009c5d" d="M424.5 109.1l2.8-1.5-2.8-2-2.8 1.5z"/><path color="#009a67" d="M430.1 109.5l2.8-1.5-2.8-1.9-2.8 1.5z"/><path color="#009871" d="M435.7 109.9l2.8-1.6-2.8-1.9-2.8 1.6z"/><path color="#00977a" d="M441.3 110.2l2.8-1.6-2.8-1.9-2.8 1.6z"/><path color="#00318f" d="M281.7 120.1l2.8-1.5-2.8-.9-2.8 1.5z"/><path color="#003b90" d="M287.2 119.5l2.8-1.7-2.8-.9-2.8 1.6z"/><path color="#004790" d="M292.8 118.7l2.8-1.8-2.8-.8-2.8 1.7z"/><path color="#005590" d="M298.3 117.8l2.8-1.9-2.8-.8-2.8 1.9z"/><path color="#006590" d="M303.9 116.7l2.8-2-2.8-.8-2.8 2z"/><path color="#00768f" d="M309.4 115.5l2.8-2.1-2.8-.8-2.8 2.1z"/><path color="#00888d" d="M315 114.2l2.8-2.2-2.8-.8-2.8 2.2z"/><path color="#008e7a" d="M320.6 112.9l2.8-2.2-2.8-.9-2.8 2.2z"/><path color="#009466" d="M326.2 111.6l2.8-2.3-2.8-.9-2.8 2.2z"/><path color="#009a53" d="M331.7 110.4l2.8-2.2-2.8-1-2.8 2.2z"/><path color="#009f42" d="M337.3 109.3l2.8-2.2-2.8-1.1-2.8 2.2z"/><path color="#00a332" d="M343 108.4l2.8-2.2-2.8-1.3-2.8 2.2z"/><path color="#00a726" d="M348.6 107.6l2.8-2.1-2.8-1.4-2.8 2.1z"/><path color="#00a91c" d="M354.2 107l2.8-2-2.8-1.5-2.8 2z"/><path color="#00ab16" d="M359.8 106.6l2.8-1.9-2.8-1.6-2.8 1.9z"/><path color="#00ac13" d="M365.5 106.4l2.8-1.8-2.8-1.7-2.8 1.8z"/><path color="#00ac13" d="M371.1 106.4l2.8-1.7-2.8-1.8-2.8 1.7z"/><path color="#00ac16" d="M376.7 106.6l2.8-1.7-2.8-1.9-2.8 1.7z"/><path color="#00aa1c" d="M382.4 106.9l2.8-1.6-2.8-2-2.8 1.6z"/><path color="#00a923" d="M388 107.3l2.8-1.5-2.8-2-2.8 1.5z"/><path color="#00a72c" d="M393.6 107.8l2.8-1.5-2.8-2-2.8 1.5z"/><path color="#00a536" d="M399.2 108.3l2.8-1.5-2.8-2-2.8 1.5z"/><path color="#00a241" d="M404.9 108.9l2.8-1.5-2.8-2-2.8 1.5z"/><path color="#00a04c" d="M410.5 109.5l2.8-1.5-2.8-2-2.8 1.4z"/><path color="#009d58" d="M416.1 110l2.8-1.5-2.8-2-2.8 1.5z"/><path color="#009b62" d="M421.7 110.6l2.8-1.5-2.8-2-2.8 1.5z"/><path color="#00996d" d="M427.3 111l2.8-1.5-2.8-1.9-2.8 1.5z"/><path color="#009777" d="M432.9 111.4l2.8-1.5-2.8-1.9-2.8 1.5z"/><path color="#009580" d="M438.5 111.8l2.8-1.6-2.8-1.9-2.8 1.6z"/><path color="#003491" d="M284.5 121.1l2.8-1.6-2.8-.9-2.8 1.5z"/><path color="#003f91" d="M290 120.5l2.8-1.7-2.8-.9-2.8 1.7z"/><path color="#004b92" d="M295.6 119.6l2.8-1.8-2.8-.8-2.8 1.8z"/><path color="#005a92" d="M301.1 118.7l2.8-2-2.8-.8-2.8 1.9z"/><path color="#006a92" d="M306.7 117.6l2.8-2.1-2.8-.8-2.8 2z"/><path color="#007c91" d="M312.2 116.4l2.8-2.2-2.8-.8-2.8 2.1z"/><path color="#008b8c" d="M317.8 115.1l2.8-2.2-2.8-.9-2.8 2.2z"/><path color="#009179" d="M323.4 113.9l2.8-2.3-2.8-1-2.8 2.2z"/><path color="#009766" d="M329 112.7l2.8-2.3-2.8-1-2.8 2.3z"/><path color="#009c55" d="M334.6 111.6l2.8-2.2-2.8-1.1-2.8 2.2z"/><path color="#00a045" d="M340.2 110.6l2.8-2.2-2.8-1.3-2.8 2.2z"/><path color="#00a437" d="M345.8 109.7l2.8-2.1-2.8-1.4-2.8 2.2z"/><path color="#00a72c" d="M351.4 109.1l2.8-2.1-2.8-1.5-2.8 2.1z"/><path color="#00a925" d="M357 108.6l2.8-2-2.8-1.6-2.8 2z"/><path color="#00aa20" d="M362.7 108.3l2.8-1.9-2.8-1.7-2.8 1.9z"/><path color="#00ab1f" d="M368.3 108.2l2.8-1.8-2.8-1.8-2.8 1.8z"/><path color="#00aa21" d="M373.9 108.3l2.8-1.7-2.8-1.9-2.8 1.7z"/><path color="#00a925" d="M379.6 108.5l2.8-1.7-2.8-2-2.8 1.7z"/><path color="#00a82c" d="M385.2 108.9l2.8-1.6-2.8-2-2.8 1.6z"/><path color="#00a634" d="M390.8 109.3l2.8-1.5-2.8-2-2.8 1.5z"/><path color="#00a43d" d="M396.4 109.8l2.8-1.5-2.8-2-2.8 1.5z"/><path color="#00a147" d="M402 110.4l2.8-1.5-2.8-2-2.8 1.5z"/><path color="#009f52" d="M407.6 110.9l2.8-1.5-2.8-2-2.8 1.5z"/><path color="#009c5d" d="M413.3 111.5l2.8-1.5-2.8-2-2.8 1.5z"/><path color="#009a68" d="M418.9 112l2.8-1.5-2.8-2-2.8 1.5z"/><path color="#009772" d="M424.5 112.5l2.8-1.5-2.8-1.9-2.8 1.5z"/><path color="#00957c" d="M430.1 112.9l2.8-1.5-2.8-1.9-2.8 1.5z"/><path color="#009385" d="M435.6 113.3l2.8-1.5-2.8-1.9-2.8 1.5z"/><path color="#003792" d="M287.3 122.1l2.8-1.6-2.8-.9-2.8 1.6z"/><path color="#004293" d="M292.8 121.4l2.8-1.8-2.8-.9-2.8 1.7z"/><path color="#005094" d="M298.4 120.6l2.8-1.9-2.8-.9-2.8 1.8z"/><path color="#005e94" d="M303.9 119.6l2.8-2-2.8-.9-2.8 2z"/><path color="#006f93" d="M309.5 118.5l2.8-2.1-2.8-.9-2.8 2.1z"/><path color="#008093" d="M315 117.3l2.8-2.2-2.8-.9-2.8 2.2z"/><path color="#008e8c" d="M320.6 116.1l2.8-2.2-2.8-1-2.8 2.2z"/><path color="#00937a" d="M326.2 115l2.8-2.3-2.8-1.1-2.8 2.3z"/><path color="#009868" d="M331.8 113.8l2.8-2.3-2.8-1.1-2.8 2.3z"/><path color="#009d58" d="M337.4 112.8l2.8-2.2-2.8-1.3-2.8 2.2z"/><path color="#00a149" d="M343 111.9l2.8-2.2-2.8-1.4-2.8 2.2z"/><path color="#00a43e" d="M348.6 111.2l2.8-2.1-2.8-1.5-2.8 2.1z"/><path color="#00a735" d="M354.2 110.6l2.8-2-2.8-1.6-2.8 2.1z"/><path color="#00a82f" d="M359.8 110.3l2.8-2-2.8-1.7-2.8 2z"/><path color="#00a92c" d="M365.5 110.1l2.8-1.9-2.8-1.8-2.8 1.9z"/><path color="#00a92c" d="M371.1 110.1l2.8-1.8-2.8-1.9-2.8 1.8z"/><path color="#00a82f" d="M376.7 110.2l2.8-1.7-2.8-1.9-2.8 1.7z"/><path color="#00a735" d="M382.4 110.5l2.8-1.6-2.8-2-2.8 1.7z"/><path color="#00a53c" d="M388 110.9l2.8-1.6-2.8-2-2.8 1.6z"/><path color="#00a344" d="M393.6 111.4l2.8-1.5-2.8-2-2.8 1.5z"/><path color="#00a14e" d="M399.2 111.9l2.8-1.5-2.8-2.1-2.8 1.5z"/><path color="#009e58" d="M404.8 112.4l2.8-1.5-2.8-2-2.8 1.5z"/><path color="#009b63" d="M410.4 113l2.8-1.5-2.8-2-2.8 1.5z"/><path color="#00996d" d="M416 113.5l2.8-1.5-2.8-2-2.8 1.5z"/><path color="#009677" d="M421.6 114l2.8-1.5-2.8-2-2.8 1.5z"/><path color="#009481" d="M427.2 114.4l2.8-1.5-2.8-1.9-2.8 1.5z"/><path color="#00928a" d="M432.8 114.8l2.8-1.5-2.8-1.9-2.8 1.5z"/><path color="#003a94" d="M290 123.1l2.8-1.7-2.8-.9-2.8 1.6z"/><path color="#004695" d="M295.6 122.4l2.8-1.8-2.8-.9-2.8 1.8z"/><path color="#005395" d="M301.1 121.5l2.8-1.9-2.8-.9-2.8 1.9z"/><path color="#006295" d="M306.7 120.5l2.8-2.1-2.8-.9-2.8 2z"/><path color="#007295" d="M312.3 119.5l2.8-2.1-2.8-1-2.8 2.1z"/><path color="#008395" d="M317.8 118.4l2.8-2.2-2.8-1-2.8 2.2z"/><path color="#00908d" d="M323.4 117.2l2.8-2.3-2.8-1.1-2.8 2.2z"/><path color="#00957c" d="M329 116.1l2.8-2.3-2.8-1.2-2.8 2.3z"/><path color="#009a6b" d="M334.6 115.1l2.8-2.3-2.8-1.2-2.8 2.3z"/><path color="#009e5c" d="M340.2 114.2l2.8-2.2-2.8-1.4-2.8 2.2z"/><path color="#00a150" d="M345.8 113.4l2.8-2.2-2.8-1.5-2.8 2.2z"/><path color="#00a446" d="M351.4 112.8l2.8-2.1-2.8-1.6-2.8 2.1z"/><path color="#00a63e" d="M357 112.3l2.8-2-2.8-1.7-2.8 2z"/><path color="#00a73a" d="M362.7 112l2.8-1.9-2.8-1.8-2.8 2z"/><path color="#00a739" d="M368.3 112l2.8-1.9-2.8-1.9-2.8 1.9z"/><path color="#00a73b" d="M373.9 112l2.8-1.8-2.8-1.9-2.8 1.8z"/><path color="#00a63f" d="M379.5 112.2l2.8-1.7-2.8-2-2.8 1.7z"/><path color="#00a445" d="M385.2 112.5l2.8-1.6-2.8-2-2.8 1.6z"/><path color="#00a24c" d="M390.8 112.9l2.8-1.6-2.8-2-2.8 1.6z"/><path color="#00a055" d="M396.4 113.4l2.8-1.5-2.8-2.1-2.8 1.5z"/><path color="#009d5e" d="M402 113.9l2.8-1.5-2.8-2-2.8 1.5z"/><path color="#009b68" d="M407.6 114.4l2.8-1.5-2.8-2-2.8 1.5z"/><path color="#009873" d="M413.2 115l2.8-1.5-2.8-2-2.8 1.5z"/><path color="#00957c" d="M418.8 115.4l2.8-1.5-2.8-2-2.8 1.5z"/><path color="#009386" d="M424.4 115.9l2.8-1.5-2.8-1.9-2.8 1.5z"/><path color="#00908f" d="M430 116.3l2.8-1.5-2.8-1.9-2.8 1.5z"/><path color="#003d96" d="M292.8 124.1l2.8-1.7-2.8-1-2.8 1.7z"/><path color="#004997" d="M298.4 123.4l2.8-1.9-2.8-1-2.8 1.8z"/><path color="#005697" d="M303.9 122.5l2.8-2-2.8-1-2.8 1.9z"/><path color="#006597" d="M309.5 121.6l2.8-2.1-2.8-1-2.8 2.1z"/><path color="#007597" d="M315.1 120.5l2.8-2.2-2.8-1-2.8 2.1z"/><path color="#008596" d="M320.6 119.4l2.8-2.2-2.8-1.1-2.8 2.2z"/><path color="#00918f" d="M326.2 118.4l2.8-2.3-2.8-1.2-2.8 2.3z"/><path color="#00967f" d="M331.8 117.4l2.8-2.3-2.8-1.2-2.8 2.3z"/><path color="#009a70" d="M337.4 116.4l2.8-2.3-2.8-1.3-2.8 2.3z"/><path color="#009e62" d="M343 115.6l2.8-2.2-2.8-1.5-2.8 2.2z"/><path color="#00a157" d="M348.6 114.9l2.8-2.2-2.8-1.6-2.8 2.2z"/><path color="#00a34f" d="M354.2 114.4l2.8-2.1-2.8-1.7-2.8 2.1z"/><path color="#00a549" d="M359.9 114.1l2.8-2-2.8-1.8-2.8 2z"/><path color="#00a547" d="M365.5 113.9l2.8-1.9-2.8-1.9-2.8 1.9z"/><path color="#00a547" d="M371.1 113.9l2.8-1.8-2.8-1.9-2.8 1.9z"/><path color="#00a449" d="M376.7 114l2.8-1.8-2.8-2-2.8 1.8z"/><path color="#00a34e" d="M382.3 114.2l2.8-1.7-2.8-2-2.8 1.7z"/><path color="#00a155" d="M388 114.6l2.8-1.6-2.8-2-2.8 1.6z"/><path color="#009f5c" d="M393.6 115l2.8-1.6-2.8-2.1-2.8 1.6z"/><path color="#009c65" d="M399.2 115.5l2.8-1.5-2.8-2-2.8 1.5z"/><path color="#009a6f" d="M404.8 115.9l2.8-1.5-2.8-2-2.8 1.5z"/><path color="#009778" d="M410.4 116.4l2.8-1.5-2.8-2-2.8 1.5z"/><path color="#009582" d="M416 116.9l2.8-1.5-2.8-2-2.8 1.5z"/><path color="#00928b" d="M421.6 117.4l2.8-1.5-2.8-1.9-2.8 1.5z"/><path color="#009094" d="M427.2 117.8l2.8-1.5-2.8-1.9-2.8 1.5z"/><path color="#004097" d="M295.6 125.1l2.8-1.8-2.8-1-2.8 1.7z"/><path color="#004c98" d="M301.2 124.4l2.8-1.9-2.8-1-2.8 1.9z"/><path color="#005999" d="M306.7 123.6l2.8-2-2.8-1-2.8 2z"/><path color="#006899" d="M312.3 122.6l2.8-2.1-2.8-1-2.8 2.1z"/><path color="#007798" d="M317.9 121.6l2.8-2.2-2.8-1.1-2.8 2.2z"/><path color="#008798" d="M323.4 120.6l2.8-2.2-2.8-1.2-2.8 2.2z"/><path color="#009292" d="M329 119.6l2.8-2.3-2.8-1.2-2.8 2.3z"/><path color="#009783" d="M334.6 118.7l2.8-2.3-2.8-1.3-2.8 2.3z"/><path color="#009b75" d="M340.2 117.8l2.8-2.2-2.8-1.4-2.8 2.3z"/><path color="#009e6a" d="M345.8 117.1l2.8-2.2-2.8-1.5-2.8 2.2z"/><path color="#00a060" d="M351.4 116.5l2.8-2.1-2.8-1.6-2.8 2.2z"/><path color="#00a259" d="M357 116.1l2.8-2.1-2.8-1.7-2.8 2.1z"/><path color="#00a355" d="M362.7 115.9l2.8-2-2.8-1.8-2.8 2z"/><path color="#00a354" d="M368.3 115.8l2.8-1.9-2.8-1.9-2.8 1.9z"/><path color="#00a355" d="M373.9 115.8l2.8-1.8-2.8-2-2.8 1.8z"/><path color="#00a259" d="M379.5 116l2.8-1.7-2.8-2-2.8 1.8z"/><path color="#00a05e" d="M385.1 116.3l2.8-1.7-2.8-2-2.8 1.7z"/><path color="#009e65" d="M390.8 116.6l2.8-1.6-2.8-2-2.8 1.6z"/><path color="#009c6d" d="M396.4 117l2.8-1.6-2.8-2-2.8 1.6z"/><path color="#009975" d="M402 117.5l2.8-1.5-2.8-2-2.8 1.5z"/><path color="#00967e" d="M407.6 117.9l2.8-1.5-2.8-2-2.8 1.5z"/><path color="#009487" d="M413.2 118.4l2.8-1.5-2.8-2-2.8 1.5z"/><path color="#009190" d="M418.8 118.8l2.8-1.5-2.8-1.9-2.8 1.5z"/><path color="#008d96" d="M424.4 119.3l2.8-1.5-2.8-1.9-2.8 1.5z"/><path color="#004299" d="M298.4 126.2l2.8-1.8-2.8-1-2.8 1.8z"/><path color="#004e9a" d="M304 125.5l2.8-1.9-2.8-1-2.8 1.9z"/><path color="#005b9a" d="M309.5 124.7l2.8-2-2.8-1.1-2.8 2z"/><path color="#00699a" d="M315.1 123.8l2.8-2.1-2.8-1.1-2.8 2.1z"/><path color="#00789a" d="M320.7 122.8l2.8-2.2-2.8-1.2-2.8 2.2z"/><path color="#008799" d="M326.2 121.9l2.8-2.2-2.8-1.2-2.8 2.2z"/><path color="#009396" d="M331.8 120.9l2.8-2.3-2.8-1.3-2.8 2.3z"/><path color="#009788" d="M337.4 120.1l2.8-2.3-2.8-1.4-2.8 2.3z"/><path color="#009a7c" d="M343 119.3l2.8-2.2-2.8-1.5-2.8 2.2z"/><path color="#009d72" d="M348.6 118.7l2.8-2.2-2.8-1.6-2.8 2.2z"/><path color="#009f6a" d="M354.2 118.2l2.8-2.1-2.8-1.7-2.8 2.1z"/><path color="#00a065" d="M359.9 117.9l2.8-2-2.8-1.8-2.8 2.1z"/><path color="#00a162" d="M365.5 117.7l2.8-2-2.8-1.9-2.8 2z"/><path color="#00a162" d="M371.1 117.7l2.8-1.9-2.8-1.9-2.8 1.9z"/><path color="#00a064" d="M376.7 117.8l2.8-1.8-2.8-2-2.8 1.8z"/><path color="#009f68" d="M382.3 118l2.8-1.7-2.8-2-2.8 1.7z"/><path color="#009d6e" d="M387.9 118.3l2.8-1.7-2.8-2-2.8 1.7z"/><path color="#009b75" d="M393.6 118.6l2.8-1.6-2.8-2-2.8 1.6z"/><path color="#00987c" d="M399.2 119l2.8-1.6-2.8-2-2.8 1.6z"/><path color="#009685" d="M404.8 119.5l2.8-1.5-2.8-2-2.8 1.5z"/><path color="#00938d" d="M410.4 119.9l2.8-1.5-2.8-2-2.8 1.5z"/><path color="#009096" d="M416 120.3l2.8-1.5-2.8-1.9-2.8 1.5z"/><path color="#008997" d="M421.6 120.7l2.8-1.5-2.8-1.9-2.8 1.5z"/><path color="#00449a" d="M301.2 127.3l2.8-1.8-2.8-1.1-2.8 1.8z"/><path color="#00509b" d="M306.8 126.6l2.8-1.9-2.8-1.1-2.8 1.9z"/><path color="#005d9c" d="M312.3 125.8l2.8-2-2.8-1.1-2.8 2z"/><path color="#006a9c" d="M317.9 124.9l2.8-2.1-2.8-1.2-2.8 2.1z"/><path color="#00789b" d="M323.5 124.1l2.8-2.2-2.8-1.2-2.8 2.2z"/><path color="#00869b" d="M329 123.2l2.8-2.2-2.8-1.3-2.8 2.2z"/><path color="#00929a" d="M334.6 122.3l2.8-2.2-2.8-1.4-2.8 2.3z"/><path color="#00978e" d="M340.2 121.6l2.8-2.2-2.8-1.5-2.8 2.3z"/><path color="#009a84" d="M345.8 120.9l2.8-2.2-2.8-1.6-2.8 2.2z"/><path color="#009c7b" d="M351.4 120.4l2.8-2.1-2.8-1.7-2.8 2.2z"/><path color="#009e75" d="M357.1 120l2.8-2.1-2.8-1.8-2.8 2.1z"/><path color="#009e71" d="M362.7 119.7l2.8-2-2.8-1.9-2.8 2z"/><path color="#009f6f" d="M368.3 119.6l2.8-1.9-2.8-1.9-2.8 2z"/><path color="#009e70" d="M373.9 119.6l2.8-1.9-2.8-2-2.8 1.9z"/><path color="#009d73" d="M379.5 119.8l2.8-1.8-2.8-2-2.8 1.8z"/><path color="#009b77" d="M385.1 120l2.8-1.7-2.8-2-2.8 1.7z"/><path color="#00997d" d="M390.7 120.3l2.8-1.7-2.8-2-2.8 1.7z"/><path color="#009784" d="M396.3 120.7l2.8-1.6-2.8-2-2.8 1.6z"/><path color="#00958b" d="M402 121l2.8-1.6-2.8-2-2.8 1.6z"/><path color="#009293" d="M407.6 121.4l2.8-1.5-2.8-2-2.8 1.5z"/><path color="#008d98" d="M413.2 121.8l2.8-1.5-2.8-1.9-2.8 1.5z"/><path color="#008698" d="M418.7 122.2l2.8-1.5-2.8-1.9-2.8 1.5z"/><path color="#00459c" d="M304 128.5l2.8-1.9-2.8-1.1-2.8 1.8z"/><path color="#00519c" d="M309.6 127.8l2.8-2-2.8-1.1-2.8 1.9z"/><path color="#005d9d" d="M315.1 127l2.8-2.1-2.8-1.2-2.8 2z"/><path color="#006a9d" d="M320.7 126.2l2.8-2.1-2.8-1.2-2.8 2.1z"/><path color="#00779d" d="M326.3 125.4l2.8-2.2-2.8-1.3-2.8 2.2z"/><path color="#00849c" d="M331.9 124.6l2.8-2.2-2.8-1.4-2.8 2.2z"/><path color="#008f9c" d="M337.4 123.8l2.8-2.2-2.8-1.5-2.8 2.2z"/><path color="#009696" d="M343 123.1l2.8-2.2-2.8-1.6-2.8 2.2z"/><path color="#00988c" d="M348.6 122.5l2.8-2.2-2.8-1.7-2.8 2.2z"/><path color="#009a85" d="M354.3 122.1l2.8-2.1-2.8-1.8-2.8 2.1z"/><path color="#009c80" d="M359.9 121.8l2.8-2.1-2.8-1.8-2.8 2.1z"/><path color="#009c7e" d="M365.5 121.6l2.8-2-2.8-1.9-2.8 2z"/><path color="#009c7d" d="M371.1 121.5l2.8-1.9-2.8-1.9-2.8 1.9z"/><path color="#009b7e" d="M376.7 121.6l2.8-1.8-2.8-2-2.8 1.9z"/><path color="#009a82" d="M382.3 121.8l2.8-1.8-2.8-2-2.8 1.8z"/><path color="#009886" d="M387.9 122l2.8-1.7-2.8-2-2.8 1.7z"/><path color="#00968c" d="M393.5 122.3l2.8-1.6-2.8-2-2.8 1.7z"/><path color="#009493" d="M399.1 122.6l2.8-1.6-2.8-2-2.8 1.6z"/><path color="#009199" d="M404.7 123l2.8-1.6-2.8-2-2.8 1.6z"/><path color="#008999" d="M410.3 123.4l2.8-1.5-2.8-1.9-2.8 1.5z"/><path color="#008299" d="M415.9 123.7l2.8-1.5-2.8-1.9-2.8 1.5z"/><path color="#00469d" d="M306.8 129.6l2.8-1.9-2.8-1.2-2.8 1.9z"/><path color="#00519e" d="M312.3 129l2.8-2-2.8-1.2-2.8 2z"/><path color="#005d9e" d="M317.9 128.2l2.8-2.1-2.8-1.2-2.8 2.1z"/><path color="#00699e" d="M323.5 127.5l2.8-2.1-2.8-1.3-2.8 2.1z"/><path color="#00759e" d="M329.1 126.7l2.8-2.2-2.8-1.4-2.8 2.2z"/><path color="#00819e" d="M334.7 126l2.8-2.2-2.8-1.5-2.8 2.2z"/><path color="#008b9d" d="M340.3 125.3l2.8-2.2-2.8-1.5-2.8 2.2z"/><path color="#00949c" d="M345.8 124.7l2.8-2.2-2.8-1.6-2.8 2.2z"/><path color="#009796" d="M351.5 124.2l2.8-2.1-2.8-1.7-2.8 2.2z"/><path color="#009890" d="M357.1 123.9l2.8-2.1-2.8-1.8-2.8 2.1z"/><path color="#00998c" d="M362.7 123.6l2.8-2-2.8-1.9-2.8 2.1z"/><path color="#00998a" d="M368.3 123.5l2.8-1.9-2.8-1.9-2.8 2z"/><path color="#00998b" d="M373.9 123.5l2.8-1.9-2.8-2-2.8 1.9z"/><path color="#00988d" d="M379.5 123.6l2.8-1.8-2.8-2-2.8 1.8z"/><path color="#009790" d="M385.1 123.7l2.8-1.7-2.8-2-2.8 1.8z"/><path color="#009595" d="M390.7 124l2.8-1.7-2.8-2-2.8 1.7z"/><path color="#00929a" d="M396.3 124.3l2.8-1.6-2.8-2-2.8 1.6z"/><path color="#008c9a" d="M401.9 124.6l2.8-1.6-2.8-2-2.8 1.6z"/><path color="#00859a" d="M407.5 124.9l2.8-1.6-2.8-1.9-2.8 1.6z"/><path color="#007e9a" d="M413.1 125.3l2.8-1.5-2.8-1.9-2.8 1.5z"/><path color="#00469e" d="M309.6 130.9l2.8-1.9-2.8-1.2-2.8 1.9z"/><path color="#00519f" d="M315.1 130.2l2.8-2-2.8-1.2-2.8 2z"/><path color="#005c9f" d="M320.7 129.5l2.8-2.1-2.8-1.3-2.8 2.1z"/><path color="#00689f" d="M326.3 128.8l2.8-2.1-2.8-1.4-2.8 2.1z"/><path color="#00739f" d="M331.9 128.1l2.8-2.2-2.8-1.4-2.8 2.2z"/><path color="#007d9f" d="M337.5 127.5l2.8-2.2-2.8-1.5-2.8 2.2z"/><path color="#00869e" d="M343.1 126.9l2.8-2.2-2.8-1.6-2.8 2.2z"/><path color="#008e9e" d="M348.7 126.4l2.8-2.1-2.8-1.7-2.8 2.2z"/><path color="#00939d" d="M354.3 126l2.8-2.1-2.8-1.8-2.8 2.1z"/><path color="#00969b" d="M359.9 125.7l2.8-2-2.8-1.8-2.8 2.1z"/><path color="#009798" d="M365.5 125.5l2.8-2-2.8-1.9-2.8 2z"/><path color="#009797" d="M371.1 125.4l2.8-1.9-2.8-1.9-2.8 1.9z"/><path color="#009698" d="M376.7 125.4l2.8-1.8-2.8-2-2.8 1.9z"/><path color="#00959a" d="M382.3 125.5l2.8-1.8-2.8-2-2.8 1.8z"/><path color="#00929b" d="M387.9 125.7l2.8-1.7-2.8-2-2.8 1.7z"/><path color="#008d9b" d="M393.5 125.9l2.8-1.7-2.8-2-2.8 1.7z"/><path color="#00879b" d="M399.1 126.2l2.8-1.6-2.8-2-2.8 1.6z"/><path color="#00819b" d="M404.7 126.5l2.8-1.6-2.8-1.9-2.8 1.6z"/><path color="#007a9b" d="M410.3 126.8l2.8-1.5-2.8-1.9-2.8 1.6z"/><path color="#00469f" d="M312.4 132.1l2.8-1.9-2.8-1.2-2.8 1.9z"/><path color="#0050a0" d="M317.9 131.5l2.8-2-2.8-1.3-2.8 2z"/><path color="#005ba0" d="M323.5 130.9l2.8-2-2.8-1.3-2.8 2.1z"/><path color="#0065a0" d="M329.1 130.2l2.8-2.1-2.8-1.4-2.8 2.1z"/><path color="#006fa0" d="M334.7 129.6l2.8-2.1-2.8-1.5-2.8 2.2z"/><path color="#0078a0" d="M340.3 129l2.8-2.1-2.8-1.6-2.8 2.2z"/><path color="#0080a0" d="M345.9 128.5l2.8-2.1-2.8-1.6-2.8 2.2z"/><path color="#00879f" d="M351.5 128.1l2.8-2.1-2.8-1.7-2.8 2.1z"/><path color="#008b9f" d="M357.1 127.7l2.8-2.1-2.8-1.8-2.8 2.1z"/><path color="#008e9e" d="M362.7 127.5l2.8-2-2.8-1.9-2.8 2z"/><path color="#00909e" d="M368.3 127.3l2.8-1.9-2.8-1.9-2.8 2z"/><path color="#008f9d" d="M373.9 127.3l2.8-1.9-2.8-1.9-2.8 1.9z"/><path color="#008e9d" d="M379.5 127.3l2.8-1.8-2.8-2-2.8 1.8z"/><path color="#008a9d" d="M385.1 127.5l2.8-1.8-2.8-2-2.8 1.8z"/><path color="#00869d" d="M390.7 127.6l2.8-1.7-2.8-2-2.8 1.7z"/><path color="#00819d" d="M396.3 127.9l2.8-1.6-2.8-1.9-2.8 1.7z"/><path color="#007c9d" d="M401.9 128.1l2.8-1.6-2.8-1.9-2.8 1.6z"/><path color="#00769d" d="M407.5 128.4l2.8-1.6-2.8-1.9-2.8 1.6z"/><path color="#0046a0" d="M315.2 133.4l2.8-1.9-2.8-1.3-2.8 1.9z"/><path color="#004fa1" d="M320.7 132.8l2.8-2-2.8-1.3-2.8 2z"/><path color="#0059a1" d="M326.3 132.3l2.8-2-2.8-1.4-2.8 2z"/><path color="#0062a1" d="M331.9 131.7l2.8-2.1-2.8-1.5-2.8 2.1z"/><path color="#006ba1" d="M337.5 131.1l2.8-2.1-2.8-1.5-2.8 2.1z"/><path color="#0073a1" d="M343.1 130.6l2.8-2.1-2.8-1.6-2.8 2.1z"/><path color="#007aa1" d="M348.7 130.1l2.8-2.1-2.8-1.7-2.8 2.1z"/><path color="#007fa0" d="M354.3 129.8l2.8-2.1-2.8-1.8-2.8 2.1z"/><path color="#0083a0" d="M359.9 129.5l2.8-2-2.8-1.8-2.8 2.1z"/><path color="#00859f" d="M365.5 129.3l2.8-2-2.8-1.9-2.8 2z"/><path color="#00869f" d="M371.1 129.2l2.8-1.9-2.8-1.9-2.8 1.9z"/><path color="#00859f" d="M376.7 129.2l2.8-1.8-2.8-1.9-2.8 1.9z"/><path color="#00839f" d="M382.3 129.2l2.8-1.8-2.8-1.9-2.8 1.8z"/><path color="#007f9e" d="M387.9 129.4l2.8-1.7-2.8-1.9-2.8 1.8z"/><path color="#007b9e" d="M393.5 129.5l2.8-1.7-2.8-1.9-2.8 1.7z"/><path color="#00769e" d="M399.1 129.7l2.8-1.6-2.8-1.9-2.8 1.6z"/><path color="#00719e" d="M404.7 130l2.8-1.6-2.8-1.9-2.8 1.6z"/><path color="#0045a1" d="M318 134.7l2.8-1.9-2.8-1.3-2.8 1.9z"/><path color="#004da2" d="M323.5 134.2l2.8-1.9-2.8-1.4-2.8 2z"/><path color="#0056a2" d="M329.1 133.7l2.8-2-2.8-1.4-2.8 2z"/><path color="#005fa2" d="M334.7 133.1l2.8-2-2.8-1.5-2.8 2.1z"/><path color="#0067a2" d="M340.3 132.6l2.8-2.1-2.8-1.6-2.8 2.1z"/><path color="#006ea2" d="M345.9 132.2l2.8-2.1-2.8-1.6-2.8 2.1z"/><path color="#0073a2" d="M351.5 131.8l2.8-2-2.8-1.7-2.8 2.1z"/><path color="#0078a1" d="M357.1 131.5l2.8-2-2.8-1.8-2.8 2.1z"/><path color="#007ba1" d="M362.7 131.3l2.8-2-2.8-1.8-2.8 2z"/><path color="#007ca1" d="M368.3 131.1l2.8-1.9-2.8-1.9-2.8 2z"/><path color="#007ca0" d="M373.9 131l2.8-1.9-2.8-1.9-2.8 1.9z"/><path color="#007ba0" d="M379.5 131l2.8-1.8-2.8-1.9-2.8 1.8z"/><path color="#0078a0" d="M385.1 131.1l2.8-1.8-2.8-1.9-2.8 1.8z"/><path color="#00759f" d="M390.7 131.2l2.8-1.7-2.8-1.9-2.8 1.7z"/><path color="#00719f" d="M396.3 131.4l2.8-1.7-2.8-1.9-2.8 1.7z"/><path color="#006c9f" d="M401.9 131.6l2.8-1.6-2.8-1.9-2.8 1.6z"/><path color="#0043a1" d="M320.8 136l2.8-1.9-2.8-1.4-2.8 1.9z"/><path color="#004ba2" d="M326.3 135.6l2.8-1.9-2.8-1.4-2.8 1.9z"/><path color="#0053a3" d="M331.9 135.1l2.8-2-2.8-1.5-2.8 2z"/><path color="#005ba3" d="M337.5 134.6l2.8-2-2.8-1.5-2.8 2z"/><path color="#0062a3" d="M343.1 134.2l2.8-2-2.8-1.6-2.8 2.1z"/><path color="#0068a3" d="M348.7 133.8l2.8-2-2.8-1.7-2.8 2.1z"/><path color="#006ca3" d="M354.3 133.5l2.8-2-2.8-1.7-2.8 2z"/><path color="#0070a2" d="M359.9 133.2l2.8-2-2.8-1.8-2.8 2z"/><path color="#0072a2" d="M365.5 133l2.8-1.9-2.8-1.8-2.8 2z"/><path color="#0073a2" d="M371.1 132.9l2.8-1.9-2.8-1.9-2.8 1.9z"/><path color="#0072a1" d="M376.7 132.9l2.8-1.8-2.8-1.9-2.8 1.9z"/><path color="#0071a1" d="M382.3 132.9l2.8-1.8-2.8-1.9-2.8 1.8z"/><path color="#006ea1" d="M387.9 133l2.8-1.7-2.8-1.9-2.8 1.8z"/><path color="#006ba0" d="M393.5 133.1l2.8-1.7-2.8-1.9-2.8 1.7z"/><path color="#0067a0" d="M399.1 133.2l2.8-1.6-2.8-1.8-2.8 1.7z"/><path color="#0041a2" d="M323.6 137.4l2.8-1.8-2.8-1.4-2.8 1.9z"/><path color="#0048a3" d="M329.1 137l2.8-1.9-2.8-1.4-2.8 1.9z"/><path color="#0050a3" d="M334.7 136.6l2.8-1.9-2.8-1.5-2.8 2z"/><path color="#0056a4" d="M340.3 136.2l2.8-2-2.8-1.6-2.8 2z"/><path color="#005ca4" d="M345.9 135.8l2.8-2-2.8-1.6-2.8 2z"/><path color="#0061a4" d="M351.5 135.4l2.8-2-2.8-1.7-2.8 2z"/><path color="#0065a3" d="M357.1 135.2l2.8-1.9-2.8-1.7-2.8 2z"/><path color="#0068a3" d="M362.7 134.9l2.8-1.9-2.8-1.8-2.8 2z"/><path color="#006aa3" d="M368.3 134.8l2.8-1.9-2.8-1.8-2.8 1.9z"/><path color="#006aa2" d="M373.9 134.7l2.8-1.8-2.8-1.8-2.8 1.9z"/><path color="#0069a2" d="M379.5 134.7l2.8-1.8-2.8-1.8-2.8 1.8z"/><path color="#0067a2" d="M385.1 134.7l2.8-1.7-2.8-1.8-2.8 1.8z"/><path color="#0065a1" d="M390.7 134.8l2.8-1.7-2.8-1.8-2.8 1.7z"/><path color="#0061a1" d="M396.2 134.9l2.8-1.7-2.8-1.8-2.8 1.7z"/><path color="#003fa3" d="M326.4 138.8l2.8-1.8-2.8-1.4-2.8 1.8z"/><path color="#0045a3" d="M331.9 138.4l2.8-1.9-2.8-1.5-2.8 1.9z"/><path color="#004ca4" d="M337.5 138.1l2.8-1.9-2.8-1.5-2.8 1.9z"/><path color="#0052a4" d="M343.1 137.7l2.8-1.9-2.8-1.6-2.8 2z"/><path color="#0057a4" d="M348.7 137.4l2.8-1.9-2.8-1.6-2.8 2z"/><path color="#005ba4" d="M354.3 137.1l2.8-1.9-2.8-1.7-2.8 2z"/><path color="#005ea4" d="M359.9 136.8l2.8-1.9-2.8-1.7-2.8 1.9z"/><path color="#0060a4" d="M365.5 136.7l2.8-1.9-2.8-1.8-2.8 1.9z"/><path color="#0061a3" d="M371.1 136.5l2.8-1.8-2.8-1.8-2.8 1.9z"/><path color="#0061a3" d="M376.7 136.5l2.8-1.8-2.8-1.8-2.8 1.8z"/><path color="#0060a3" d="M382.3 136.4l2.8-1.7-2.8-1.8-2.8 1.8z"/><path color="#005ea2" d="M387.8 136.5l2.8-1.7-2.8-1.8-2.8 1.7z"/><path color="#005ca2" d="M393.4 136.5l2.8-1.7-2.8-1.8-2.8 1.7z"/><path color="#003ca3" d="M329.1 140.2l2.8-1.8-2.8-1.4-2.8 1.8z"/><path color="#0042a4" d="M334.7 139.9l2.8-1.8-2.8-1.5-2.8 1.9z"/><path color="#0048a4" d="M340.3 139.5l2.8-1.9-2.8-1.5-2.8 1.9z"/><path color="#004da4" d="M345.9 139.2l2.8-1.9-2.8-1.6-2.8 1.9z"/><path color="#0051a5" d="M351.5 139l2.8-1.9-2.8-1.6-2.8 1.9z"/><path color="#0055a5" d="M357.1 138.7l2.8-1.9-2.8-1.7-2.8 1.9z"/><path color="#0057a4" d="M362.7 138.5l2.8-1.8-2.8-1.7-2.8 1.9z"/><path color="#0059a4" d="M368.3 138.4l2.8-1.8-2.8-1.7-2.8 1.9z"/><path color="#0059a4" d="M373.9 138.3l2.8-1.8-2.8-1.8-2.8 1.8z"/><path color="#0059a3" d="M379.4 138.2l2.8-1.8-2.8-1.8-2.8 1.8z"/><path color="#0058a3" d="M385 138.2l2.8-1.7-2.8-1.8-2.8 1.7z"/><path color="#0056a3" d="M390.6 138.2l2.8-1.7-2.8-1.8-2.8 1.7z"/><path color="#003aa3" d="M331.9 141.6l2.8-1.7-2.8-1.4-2.8 1.8z"/><path color="#003fa4" d="M337.5 141.3l2.8-1.8-2.8-1.5-2.8 1.8z"/><path color="#0044a4" d="M343.1 141l2.8-1.8-2.8-1.5-2.8 1.9z"/><path color="#0048a5" d="M348.7 140.8l2.8-1.8-2.8-1.6-2.8 1.9z"/><path color="#004ca5" d="M354.3 140.5l2.8-1.8-2.8-1.6-2.8 1.9z"/><path color="#004ea5" d="M359.9 140.3l2.8-1.8-2.8-1.7-2.8 1.9z"/><path color="#0050a5" d="M365.5 140.2l2.8-1.8-2.8-1.7-2.8 1.8z"/><path color="#0051a4" d="M371.1 140l2.8-1.8-2.8-1.7-2.8 1.8z"/><path color="#0052a4" d="M376.6 139.9l2.8-1.7-2.8-1.7-2.8 1.8z"/><path color="#0051a4" d="M382.2 139.9l2.8-1.7-2.8-1.7-2.8 1.8z"/><path color="#0050a3" d="M387.8 139.9l2.8-1.7-2.8-1.7-2.8 1.7z"/><path color="#0037a3" d="M334.7 143l2.8-1.7-2.8-1.5-2.8 1.7z"/><path color="#003ba4" d="M340.3 142.8l2.8-1.7-2.8-1.5-2.8 1.8z"/><path color="#003fa4" d="M345.9 142.5l2.8-1.8-2.8-1.5-2.8 1.8z"/><path color="#0043a5" d="M351.5 142.3l2.8-1.8-2.8-1.6-2.8 1.8z"/><path color="#0046a5" d="M357.1 142.1l2.8-1.8-2.8-1.6-2.8 1.8z"/><path color="#0048a5" d="M362.7 141.9l2.8-1.8-2.8-1.7-2.8 1.8z"/><path color="#004aa5" d="M368.3 141.8l2.8-1.8-2.8-1.7-2.8 1.8z"/><path color="#004ba4" d="M373.8 141.7l2.8-1.7-2.8-1.7-2.8 1.8z"/><path color="#004ba4" d="M379.4 141.6l2.8-1.7-2.8-1.7-2.8 1.7z"/><path color="#004aa4" d="M385 141.6l2.8-1.7-2.8-1.7-2.8 1.7z"/><path color="#0034a3" d="M337.5 144.5l2.8-1.7-2.8-1.5-2.8 1.7z"/><path color="#0038a4" d="M343.1 144.3l2.8-1.7-2.8-1.5-2.8 1.7z"/><path color="#003ba4" d="M348.7 144l2.8-1.7-2.8-1.5-2.8 1.8z"/><path color="#003ea5" d="M354.3 143.8l2.8-1.7-2.8-1.6-2.8 1.8z"/><path color="#0041a5" d="M359.9 143.7l2.8-1.7-2.8-1.6-2.8 1.8z"/><path color="#0043a5" d="M365.5 143.5l2.8-1.7-2.8-1.6-2.8 1.8z"/><path color="#0044a5" d="M371 143.4l2.8-1.7-2.8-1.6-2.8 1.8z"/><path color="#0044a4" d="M376.6 143.3l2.8-1.7-2.8-1.7-2.8 1.7z"/><path color="#0044a4" d="M382.2 143.2l2.8-1.7-2.8-1.7-2.8 1.7z"/><path color="#0031a3" d="M340.3 145.9l2.8-1.6-2.8-1.5-2.8 1.7z"/><path color="#0034a4" d="M345.9 145.7l2.8-1.7-2.8-1.5-2.8 1.7z"/><path color="#0037a4" d="M351.5 145.5l2.8-1.7-2.8-1.5-2.8 1.7z"/><path color="#003aa4" d="M357.1 145.4l2.8-1.7-2.8-1.6-2.8 1.7z"/><path color="#003ca4" d="M362.7 145.2l2.8-1.7-2.8-1.6-2.8 1.7z"/><path color="#003da4" d="M368.2 145.1l2.8-1.7-2.8-1.6-2.8 1.7z"/><path color="#003ea4" d="M373.8 145l2.8-1.7-2.8-1.6-2.8 1.7z"/><path color="#003ea4" d="M379.4 144.9l2.8-1.7-2.8-1.6-2.8 1.7z"/><path color="#002ea3" d="M343.1 147.3l2.8-1.6-2.8-1.5-2.8 1.6z"/><path color="#0031a3" d="M348.7 147.2l2.8-1.6-2.8-1.5-2.8 1.7z"/><path color="#0033a4" d="M354.3 147l2.8-1.6-2.8-1.5-2.8 1.7z"/><path color="#0035a4" d="M359.9 146.9l2.8-1.7-2.8-1.5-2.8 1.7z"/><path color="#0037a4" d="M365.4 146.7l2.8-1.7-2.8-1.6-2.8 1.7z"/><path color="#0038a4" d="M371 146.6l2.8-1.6-2.8-1.6-2.8 1.7z"/><path color="#0039a4" d="M376.6 146.5l2.8-1.6-2.8-1.6-2.8 1.7z"/><path color="#002ba2" d="M345.9 148.7l2.8-1.6-2.8-1.4-2.8 1.6z"/><path color="#002ea3" d="M351.5 148.6l2.8-1.6-2.8-1.5-2.8 1.6z"/><path color="#0030a3" d="M357.1 148.5l2.8-1.6-2.8-1.5-2.8 1.6z"/><path color="#0031a3" d="M362.7 148.3l2.8-1.6-2.8-1.5-2.8 1.7z"/><path color="#0033a3" d="M368.2 148.2l2.8-1.6-2.8-1.5-2.8 1.7z"/><path color="#0033a3" d="M373.8 148.1l2.8-1.6-2.8-1.5-2.8 1.6z"/><path color="#0029a2" d="M348.7 150.1l2.8-1.5-2.8-1.4-2.8 1.6z"/><path color="#002ba2" d="M354.3 150l2.8-1.6-2.8-1.5-2.8 1.6z"/><path color="#002ca3" d="M359.9 149.9l2.8-1.6-2.8-1.5-2.8 1.6z"/><path color="#002ea3" d="M365.4 149.8l2.8-1.6-2.8-1.5-2.8 1.6z"/><path color="#002fa3" d="M371 149.7l2.8-1.6-2.8-1.5-2.8 1.6z"/><path color="#0026a1" d="M351.5 151.5l2.8-1.5-2.8-1.4-2.8 1.5z"/><path color="#0028a2" d="M357.1 151.4l2.8-1.5-2.8-1.4-2.8 1.6z"/><path color="#0029a2" d="M362.6 151.3l2.8-1.5-2.8-1.5-2.8 1.6z"/><path color="#002aa2" d="M368.2 151.2l2.8-1.5-2.8-1.5-2.8 1.6z"/><path color="#0024a0" d="M354.3 152.9l2.8-1.5-2.8-1.4-2.8 1.5z"/><path color="#0025a1" d="M359.9 152.8l2.8-1.5-2.8-1.4-2.8 1.5z"/><path color="#0026a1" d="M365.4 152.7l2.8-1.5-2.8-1.4-2.8 1.5z"/><path color="#0021a0" d="M357.1 154.3l2.8-1.5-2.8-1.4-2.8 1.5z"/><path color="#0023a0" d="M362.6 154.2l2.8-1.5-2.8-1.4-2.8 1.5z"/><path color="#001f9f" d="M359.9 155.6l2.8-1.4-2.8-1.4-2.8 1.5z"/></g><path d="M276.5 117.9 277.5 117.3 278.5 116.8 279.5 116.3 280.5 115.7 281.5 115.3 282.5 114.8 283.5 114.2 284.5 113.6 285.5 113.0 286.5 112.4 287.5 111.8 288.5 111.2 289.5 110.5 290.5 109.9 291.5 109.5 292.5 108.9 293.5 108.2 294.5 107.6 295.5 106.9 296.5 106.2 297.5 105.6 298.5 104.9 299.5 104.2 300.5 103.6 301.5 103.1 302.5 102.4 303.5 101.8 304.5 101.1 305.5 100.4 306.5 99.7 307.5 99.0 308.5 98.4 309.5 97.7 310.5 97.2 311.5 96.6 312.5 95.9 313.5 95.2 314.5 94.5 315.5 93.9 316.5 93.2 317.5 92.5 318.5 92.1 319.5 91.4 320.5 90.8 321.5 90.1 322.5 89.5 323.5 88.8 324.5 88.2 325.5 87.5 326.5 87.1 327.5 86.4 328.5 85.8 329.5 85.1 330.5 84.5 331.5 83.8 332.5 83.1 333.5 82.5 334.5 82.0 335.5 81.4 336.5 80.7 337.5 80.0 338.5 79.4 339.5 78.7 340.5 78.0 341.5 77.5 342.5 76.8 343.5 76.1 344.5 75.4 345.5 74.6 346.5 73.9 347.5 73.4 348.5 72.6 349.5 71.8 350.5 71.0 351.5 70.1 352.5 69.3 353.5 68.4 354.5 67.8 355.5 66.9 356.5 65.9 357.5 65.0 358.5 63.9 359.5 63.2 360.5 63.3 361.5 63.3 362.5 63.3 363.5 63.4 364.5 63.5 365.5 63.6 366.5 63.7 367.5 63.8 368.5 64.0 369.5 64.2 370.5 64.3 371.5 64.5 372.5 64.7 373.5 65.0 374.5 65.2 375.5 65.5 376.5 65.7 377.5 66.0 378.5 66.4 379.5 66.7 380.5 67.1 381.5 67.4 382.5 67.8 383.5 68.2 384.5 68.7 385.5 69.1 386.5 69.6 387.5 69.9 388.5 70.5 389.5 71.0 390.5 71.5 391.5 72.1 392.5 72.5 393.5 73.1 394.5 73.7 395.5 74.3 396.5 74.9 397.5 75.5 398.5 76.0 399.5 76.6 400.5 77.3 401.5 78.0 402.5 78.7 403.5 79.4 404.5 79.8 405.5 80.6 406.5 81.3 407.5 82.0 408.5 82.8 409.5 83.5 410.5 84.0 411.5 84.8 412.5 85.5 413.5 86.3 414.5 87.1 415.5 87.8 416.5 88.6 417.5 89.1 418.5 89.9 419.5 90.7 420.5 91.4 421.5 92.2 422.5 93.0 423.5 93.8 424.5 94.6 425.5 95.1 426.5 95.8 427.5 96.6 428.5 97.4 429.5 98.2 430.5 98.9 431.5 99.7 432.5 100.4 433.5 100.9 434.5 101.7 435.5 102.4 436.5 103.2 437.5 103.9 438.5 104.6 439.5 105.3 440.5 106.1 441.5 106.5 442.5 107.2 443.5 107.9" fill="none" stroke="#111" stroke-width="0.70" stroke-linejoin="round" stroke-linecap="round" opacity=".85"/><text x="273.2" y="121.5" font-size="8.00" text-anchor="end">0</text><path d="M276.2 120.5h-1.6" stroke="#222" stroke-width=".6"/><text x="271.0" y="100.7" font-size="8.00" text-anchor="end">1x10<tspan font-size="4.60" dy="-3.20">7</tspan></text><path d="M275.2 99.4h-1.6" stroke="#222" stroke-width=".6"/><text x="270.0" y="79.6" font-size="8.00" text-anchor="end">2x10<tspan font-size="4.60" dy="-3.20">7</tspan></text><path d="M274.2 78.3h-1.6" stroke="#222" stroke-width=".6"/><text x="269.0" y="58.5" font-size="8.00" text-anchor="end">3x10<tspan font-size="4.60" dy="-3.20">7</tspan></text><path d="M273.2 57.2h-1.6" stroke="#222" stroke-width=".6"/><text x="268.0" y="37.4" font-size="8.00" text-anchor="end">4x10<tspan font-size="4.60" dy="-3.20">7</tspan></text><path d="M272.2 36.1h-1.6" stroke="#222" stroke-width=".6"/><text x="362.6" y="194.4" font-size="7.90">25</text><text x="378.3" y="186.6" font-size="7.90">40</text><text x="394.8" y="178.7" font-size="7.90">55</text><text x="411.3" y="170.9" font-size="7.90">70</text><text x="427.8" y="163.0" font-size="7.90">85</text><text x="444.3" y="155.2" font-size="7.90">100</text><text x="357.0" y="194.6" font-size="7.90" text-anchor="end">1</text><text x="336.8" y="184.8" font-size="7.90" text-anchor="end">2</text><text x="316.2" y="174.9" font-size="7.90" text-anchor="end">3</text><text x="295.6" y="165.1" font-size="7.90" text-anchor="end">4</text><text x="275.1" y="155.3" font-size="7.90" text-anchor="end">5</text><path class="g" d="M502.5 148.7L497.5 36.1M518.5 114.9L515.5 32.1M535.5 109.4L532.5 28.2M552.5 104L550.5 24.4M568.5 98.7L567.5 20.6M584.5 93.5L584.5 16.9M501.1 120.5L584.6 93.5M500.1 99.4L584.6 74.3M499.1 78.3L584.5 55.2M498.1 57.2L584.5 36M497.1 36.1L584.4 16.9M667.5 148.8L672.5 36.3M656.5 116.8L659.5 33.5M644.5 112.9L647.5 30.8M632.5 109L634.5 28M620.5 105.1L622.5 25.2M608.5 101.2L609.5 22.4M596.5 97.4L596.5 19.7M584.5 93.5L584.5 16.9M668.5 120.7L584.6 93.5M669.4 99.6L584.6 74.3M670.4 78.5L584.5 55.2M671.3 57.4L584.5 36M672.3 36.3L584.4 16.9"/><path class="fl" d="M584.7 188L667.2 148.8L584.7 119L502.5 148.7Z"/><path d="M651.2 143.0 649.5 143.5 648.5 143.9 647.0 144.3 645.4 144.8 643.9 145.3 643.0 145.6 641.4 146.2 639.8 146.7 638.8 147.1 637.5 147.5 635.9 148.1 634.3 148.6 633.2 149.0 632.0 149.5 630.4 150.0 628.9 150.5 627.6 151.0 626.5 151.4 625.0 151.9 623.4 152.4 622.2 152.8 621.0 153.2 619.4 153.8 617.8 154.3 617.0 154.5 615.4 155.1 613.8 155.6 612.8 155.9 611.3 156.3 609.6 156.8 608.8 157.1 607.1 157.5 605.4 158.0 604.6 158.2 602.8 158.7 601.8 159.0 600.2 159.4 598.8 159.7 597.5 160.0 596.0 160.4 594.8 160.6 593.3 160.9 591.9 161.2 590.9 161.4 589.0 161.7 588.0 161.9 586.4 162.2 585.0 162.4 584.0 162.5 582.3 162.8 580.8 162.9 579.7 163.1 578.6 163.2 576.9 163.3 575.2 163.4 573.9 163.5 572.6 163.5 571.4 163.6 570.1 163.6 568.7 163.6 567.3 163.5 565.8 163.5 564.2 163.3 563.0 163.2 561.9 163.1 560.7 163.0 558.7 162.6 557.7 162.4 556.1 162.1 555.0 161.8 553.4 161.2 551.9 160.7 550.5 160.0 549.2 159.4 548.1 158.7 547.1 157.9 546.6 157.5 545.8 156.7 545.3 156.2 545.0 155.8 544.4 154.9 544.1 154.4 543.9 153.9 543.6 153.4 543.4 152.7 543.2 152.1 543.1 151.4 543.0 150.8 543.0 150.2 543.0 149.6 543.0 149.1 543.1 148.5 543.1 148.0 543.2 147.5 543.3 147.0 543.5 146.4 543.6 145.9 543.8 145.3 544.1 144.6 544.3 144.0 544.5 143.6 544.8 143.1 545.0 142.6 545.4 141.9 545.7 141.3 546.0 140.8 546.3 140.4 546.7 139.8 547.1 139.1 547.4 138.7 547.7 138.3 548.3 137.5 548.6 137.0 549.0 136.6 549.4 136.0 549.9 135.4 550.2 135.0 550.7 134.5 551.2 133.8 551.6 133.4 552.0 132.9 552.6 132.3 552.9 131.9 553.4 131.4 554.0 130.7 554.3 130.3 554.7 129.8" fill="none" stroke="#5ee860" stroke-width=".7"/><path d="M636.5 137.7 635.0 138.2 634.2 138.5 632.6 139.0 631.1 139.6 629.6 140.1 628.1 140.7 627.2 141.0 625.9 141.5 624.4 142.0 622.9 142.6 621.4 143.1 619.9 143.7 618.6 144.2 617.6 144.5 616.1 145.0 614.6 145.6 613.1 146.1 611.6 146.6 610.8 146.9 609.2 147.4 607.7 147.9 606.1 148.4 605.3 148.7 603.6 149.1 602.0 149.6 601.2 149.9 599.5 150.3 598.2 150.6 596.8 151.0 595.1 151.3 594.1 151.6 592.5 151.9 591.3 152.1 590.1 152.3 588.3 152.6 587.3 152.8 586.0 152.9 584.2 153.1 582.9 153.2 581.6 153.3 580.4 153.3 579.1 153.3 577.7 153.3 576.1 153.2 574.5 153.1 573.5 152.9 572.3 152.7 570.7 152.4 569.1 151.8 567.7 151.2 566.6 150.6 565.7 149.9 565.2 149.4 564.8 148.9 564.3 148.2 564.0 147.6 563.9 147.1 563.7 146.6 563.7 146.1 563.6 145.5 563.6 144.9 563.7 144.4 563.8 143.7 564.0 143.1 564.2 142.5 564.4 142.0 564.6 141.5 564.8 141.1 565.1 140.5 565.5 139.8 565.8 139.3 566.1 138.9 566.4 138.3 566.9 137.6 567.3 137.2 567.6 136.8 568.1 136.0 568.5 135.5 568.9 135.1 569.4 134.5 569.9 133.9 570.2 133.5 570.8 132.9 571.3 132.4 571.6 132.0 572.3 131.3 572.7 130.8 573.0 130.4 573.7 129.7 574.1 129.3 574.4 128.9 575.0 128.1 575.4 127.7 575.7 127.3 576.3 126.6 576.7 126.1 577.0 125.7 577.4 125.2 577.9 124.5 578.2 124.1 578.4 123.7 578.8 123.2 579.1 122.5 579.4 122.0 579.6 121.6 579.8 121.2 580.1 120.7" fill="none" stroke="#78e030" stroke-width=".7"/><path d="M620.9 132.1 619.2 132.5 618.3 132.7 616.6 133.2 615.4 133.5 614.0 133.8 612.2 134.2 611.4 134.4 609.6 134.9 608.7 135.1 606.9 135.4 605.9 135.6 604.1 135.9 602.8 136.1 601.6 136.2 600.3 136.2 598.5 136.0 597.7 135.8 597.0 135.4 596.2 134.8 596.0 134.3 595.8 133.9 595.7 133.4 595.7 132.8 595.7 132.3 595.8 131.7 595.9 131.2 596.1 130.6 596.2 130.0 596.4 129.4 596.5 128.9 596.6 128.4 596.7 128.0 596.8 127.5 597.0 127.0 597.0 126.5 597.1 126.0 597.2 125.5 597.3 124.9 597.3 124.4 597.3 123.9 597.4 123.6" fill="none" stroke="#f8cc50" stroke-width=".7"/><path d="M601.2 180.2l.9 .6M617.7 172.3l.9 .6M634.2 164.5l.9 .6M650.7 156.6l.9 .6M573.0 182.4l-.9 .6M561.2 176.8l-.9 .6M549.5 171.2l-.9 .6M537.7 165.5l-.9 .6M526.0 159.9l-.9 .6M514.2 154.3l-.9 .6" stroke="#111" stroke-width="1"/><g class="s"><path color="#317300" d="M584.6 73.2l2.8-2.3-2.8 .9-2.8 2.3z"/><path color="#1c7300" d="M581.8 75.4l2.8-2.2-2.8 1-2.8 2.2z"/><path color="#4a7300" d="M587.4 72.3l2.8-2.2-2.8 .9-2.8 2.3z"/><path color="#097300" d="M579 77.5l2.8-2.1-2.8 1-2.8 2.1z"/><path color="#367300" d="M584.6 74.4l2.8-2.1-2.8 .9-2.8 2.2z"/><path color="#627300" d="M590.2 71.5l2.8-2.1-2.8 .7-2.8 2.2z"/><path color="#007206" d="M576.1 79.5l2.8-2-2.8 1-2.8 2z"/><path color="#247300" d="M581.8 76.5l2.8-2.1-2.8 1-2.8 2.1z"/><path color="#4f7300" d="M587.4 73.5l2.8-2.1-2.8 .8-2.8 2.1z"/><path color="#736e00" d="M593.1 70.8l2.8-2-2.8 .6-2.8 2.1z"/><path color="#006f13" d="M573.3 81.5l2.8-2-2.8 1-2.8 2z"/><path color="#137300" d="M579 78.5l2.8-2-2.8 1-2.8 2z"/><path color="#3e7300" d="M584.6 75.5l2.8-2-2.8 .9-2.8 2.1z"/><path color="#677300" d="M590.3 72.8l2.8-2-2.8 .7-2.8 2.1z"/><path color="#735b00" d="M595.9 70.3l2.8-1.9-2.9 .4-2.8 2z"/><path color="#006d1f" d="M570.5 83.4l2.8-1.9-2.8 1-2.8 1.9z"/><path color="#037300" d="M576.2 80.4l2.8-2-2.8 1.1-2.8 2z"/><path color="#2e7300" d="M581.8 77.5l2.8-1.9-2.8 1-2.8 2z"/><path color="#577300" d="M587.4 74.7l2.8-1.9-2.8 .8-2.8 2z"/><path color="#736a00" d="M593.1 72.2l2.8-1.9-2.8 .5-2.8 2z"/><path color="#734b00" d="M598.8 70l2.8-1.8-2.9 .2-2.8 1.9z"/><path color="#006b2a" d="M567.7 85.3l2.8-1.9-2.8 1-2.8 1.9z"/><path color="#00710a" d="M573.3 82.4l2.8-1.9-2.8 1.1-2.8 1.9z"/><path color="#1e7300" d="M579 79.4l2.8-1.9-2.8 1-2.8 2z"/><path color="#477300" d="M584.6 76.5l2.8-1.9-2.8 .9-2.8 1.9z"/><path color="#6d7300" d="M590.3 74l2.8-1.8-2.8 .6-2.8 1.9z"/><path color="#735800" d="M595.9 71.8l2.8-1.8-2.9 .3-2.8 1.9z"/><path color="#733e00" d="M601.6 70l2.8-1.7-2.9-.1-2.8 1.8z"/><path color="#006835" d="M565 87.2l2.8-1.9-2.8 1-2.8 1.8z"/><path color="#006f15" d="M570.5 84.2l2.8-1.9-2.8 1.1-2.8 1.9z"/><path color="#0f7300" d="M576.2 81.3l2.8-1.9-2.8 1.1-2.8 1.9z"/><path color="#397300" d="M581.8 78.4l2.8-1.8-2.8 .9-2.8 1.9z"/><path color="#5f7300" d="M587.4 75.8l2.8-1.8-2.8 .7-2.8 1.9z"/><path color="#736500" d="M593.1 73.5l2.8-1.7-2.8 .4-2.8 1.8z"/><path color="#734a00" d="M598.8 71.6l2.8-1.7-2.9 0-2.8 1.8z"/><path color="#7d3a00" d="M604.5 70.2l2.8-1.6-2.9-.4-2.8 1.7z"/><path color="#006640" d="M562.2 89.1l2.8-1.8-2.8 1-2.8 1.8z"/><path color="#006d20" d="M567.7 86.1l2.8-1.9-2.8 1.1-2.8 1.9z"/><path color="#017300" d="M573.4 83.1l2.8-1.9-2.8 1.1-2.8 1.9z"/><path color="#2b7300" d="M579 80.2l2.8-1.8-2.8 1-2.8 1.9z"/><path color="#527300" d="M584.6 77.5l2.8-1.8-2.8 .8-2.8 1.8z"/><path color="#737100" d="M590.3 75.2l2.8-1.7-2.8 .5-2.8 1.8z"/><path color="#735600" d="M596 73.2l2.8-1.6-2.9 .1-2.8 1.7z"/><path color="#734000" d="M601.7 71.8l2.8-1.5-2.9-.3-2.8 1.7z"/><path color="#893a00" d="M607.3 70.8l2.8-1.5-2.9-.7-2.8 1.6z"/><path color="#00644a" d="M559.4 90.9l2.8-1.8-2.8 .9-2.8 1.8z"/><path color="#006a2b" d="M565 88l2.8-1.9-2.8 1.1-2.8 1.8z"/><path color="#00710a" d="M570.5 85l2.8-1.9-2.8 1.1-2.8 1.9z"/><path color="#1d7300" d="M576.2 82.1l2.8-1.8-2.8 1-2.8 1.9z"/><path color="#447300" d="M581.8 79.3l2.8-1.8-2.8 .9-2.8 1.8z"/><path color="#687300" d="M587.5 76.9l2.8-1.7-2.8 .6-2.8 1.8z"/><path color="#736000" d="M593.1 74.8l2.8-1.6-2.8 .2-2.8 1.7z"/><path color="#734a00" d="M598.8 73.3l2.8-1.5-2.9-.2-2.8 1.6z"/><path color="#814100" d="M604.5 72.2l2.8-1.4-2.9-.6-2.8 1.5z"/><path color="#933e00" d="M610.2 71.7l2.8-1.4-2.8-1-2.8 1.5z"/><path color="#006254" d="M556.6 92.7l2.8-1.8-2.8 .9-2.8 1.7z"/><path color="#006835" d="M562.2 89.9l2.8-1.9-2.8 1.1-2.8 1.8z"/><path color="#006f15" d="M567.7 86.9l2.8-1.9-2.8 1.1-2.8 1.9z"/><path color="#0f7300" d="M573.4 83.9l2.8-1.8-2.8 1.1-2.8 1.9z"/><path color="#377300" d="M579 81.1l2.8-1.8-2.8 .9-2.8 1.8z"/><path color="#5c7300" d="M584.6 78.5l2.8-1.7-2.8 .7-2.8 1.8z"/><path color="#736b00" d="M590.3 76.4l2.8-1.6-2.8 .3-2.8 1.7z"/><path color="#735300" d="M596 74.8l2.8-1.5-2.8-.1-2.8 1.6z"/><path color="#784500" d="M601.7 73.7l2.8-1.4-2.9-.5-2.8 1.5z"/><path color="#8d4500" d="M607.3 73.1l2.8-1.4-2.8-.9-2.8 1.4z"/><path color="#9c4700" d="M613 72.9l2.8-1.3-2.8-1.3-2.8 1.4z"/><path color="#00615e" d="M553.8 94.5l2.8-1.8-2.8 .8-2.8 1.7z"/><path color="#006640" d="M559.4 91.7l2.8-1.9-2.8 1-2.8 1.8z"/><path color="#006d20" d="M564.9 88.8l2.8-1.9-2.8 1.1-2.8 1.9z"/><path color="#017300" d="M570.5 85.8l2.8-1.9-2.8 1.1-2.8 1.9z"/><path color="#2a7300" d="M576.2 82.9l2.8-1.8-2.8 1-2.8 1.8z"/><path color="#507300" d="M581.8 80.2l2.8-1.7-2.8 .8-2.8 1.8z"/><path color="#707300" d="M587.5 78l2.8-1.6-2.8 .4-2.8 1.7z"/><path color="#735c00" d="M593.1 76.3l2.8-1.5-2.8 0-2.8 1.6z"/><path color="#734a00" d="M598.8 75.1l2.8-1.4-2.8-.4-2.8 1.5z"/><path color="#884a00" d="M604.5 74.4l2.8-1.3-2.8-.8-2.8 1.4z"/><path color="#974d00" d="M610.2 74.2l2.8-1.3-2.8-1.2-2.8 1.4z"/><path color="#a25600" d="M615.9 74.5l2.8-1.3-2.8-1.6-2.8 1.3z"/><path color="#005d64" d="M551 96.3l2.8-1.8-2.8 .8-2.8 1.7z"/><path color="#00644a" d="M556.6 93.6l2.8-1.9-2.8 1-2.8 1.8z"/><path color="#006b2a" d="M562.2 90.6l2.8-1.9-2.8 1.1-2.8 1.9z"/><path color="#00710a" d="M567.7 87.6l2.8-1.9-2.8 1.1-2.8 1.9z"/><path color="#1d7300" d="M573.4 84.7l2.8-1.8-2.8 1-2.8 1.9z"/><path color="#447300" d="M579 82l2.8-1.7-2.8 .8-2.8 1.8z"/><path color="#657300" d="M584.6 79.6l2.8-1.6-2.8 .5-2.8 1.7z"/><path color="#736500" d="M590.3 77.8l2.8-1.5-2.8 .1-2.8 1.6z"/><path color="#735100" d="M596 76.5l2.8-1.4-2.8-.3-2.8 1.5z"/><path color="#824f00" d="M601.7 75.7l2.8-1.3-2.8-.7-2.8 1.4z"/><path color="#945300" d="M607.4 75.5l2.8-1.3-2.8-1.2-2.8 1.3z"/><path color="#a05c00" d="M613 75.7l2.8-1.2-2.8-1.5-2.8 1.3z"/><path color="#a86b00" d="M618.7 76.3l2.8-1.2-2.8-1.9-2.8 1.3z"/><path color="#005666" d="M548.2 98l2.8-1.8-2.8 .7-2.8 1.7z"/><path color="#006354" d="M553.8 95.4l2.8-1.9-2.8 .9-2.8 1.8z"/><path color="#006835" d="M559.4 92.5l2.8-1.9-2.8 1.1-2.8 1.9z"/><path color="#006f15" d="M564.9 89.5l2.8-1.9-2.8 1.1-2.8 1.9z"/><path color="#0f7300" d="M570.5 86.5l2.8-1.9-2.8 1.1-2.8 1.9z"/><path color="#377300" d="M576.2 83.7l2.8-1.8-2.8 .9-2.8 1.8z"/><path color="#5a7300" d="M581.8 81.3l2.8-1.7-2.8 .6-2.8 1.7z"/><path color="#736e00" d="M587.5 79.3l2.8-1.5-2.8 .2-2.8 1.6z"/><path color="#735900" d="M593.2 77.9l2.8-1.4-2.8-.2-2.8 1.5z"/><path color="#7d5300" d="M598.8 77l2.8-1.3-2.8-.6-2.8 1.4z"/><path color="#905700" d="M604.5 76.7l2.8-1.2-2.8-1.1-2.8 1.3z"/><path color="#9d6000" d="M610.2 76.9l2.8-1.2-2.8-1.5-2.8 1.3z"/><path color="#a67000" d="M615.9 77.5l2.8-1.2-2.8-1.9-2.8 1.2z"/><path color="#ac8600" d="M621.5 78.4l2.8-1.2-2.8-2.2-2.8 1.2z"/><path color="#004f67" d="M545.5 99.8l2.8-1.7-2.8 .6-2.8 1.6z"/><path color="#00615e" d="M551 97.3l2.8-1.8-2.8 .8-2.8 1.8z"/><path color="#006640" d="M556.6 94.5l2.8-1.9-2.8 1-2.8 1.9z"/><path color="#006d1f" d="M562.1 91.5l2.8-1.9-2.8 1.1-2.8 1.9z"/><path color="#017300" d="M567.7 88.4l2.8-1.9-2.8 1.1-2.8 1.9z"/><path color="#2a7300" d="M573.4 85.6l2.8-1.8-2.8 .9-2.8 1.9z"/><path color="#4f7300" d="M579 83l2.8-1.7-2.8 .7-2.8 1.8z"/><path color="#6d7300" d="M584.7 80.9l2.8-1.6-2.8 .3-2.8 1.7z"/><path color="#736100" d="M590.3 79.3l2.8-1.5-2.8-.1-2.8 1.5z"/><path color="#795700" d="M596 78.4l2.8-1.3-2.8-.6-2.8 1.4z"/><path color="#8d5c00" d="M601.7 77.9l2.8-1.2-2.8-1-2.8 1.3z"/><path color="#9b6500" d="M607.4 78.1l2.8-1.2-2.8-1.4-2.8 1.2z"/><path color="#a47400" d="M613 78.7l2.8-1.2-2.8-1.8-2.8 1.2z"/><path color="#ab8a00" d="M618.7 79.6l2.8-1.2-2.8-2.1-2.8 1.2z"/><path color="#b0a600" d="M624.3 80.8l2.8-1.2-2.8-2.4-2.8 1.2z"/><path color="#004968" d="M542.7 101.5l2.8-1.7-2.8 .5-2.8 1.6z"/><path color="#005d64" d="M548.2 99.1l2.8-1.8-2.8 .8-2.8 1.7z"/><path color="#00644a" d="M553.8 96.4l2.8-1.9-2.8 1-2.8 1.8z"/><path color="#006b2a" d="M559.4 93.4l2.8-1.9-2.8 1.1-2.8 1.9z"/><path color="#00710a" d="M564.9 90.4l2.8-1.9-2.8 1.1-2.8 1.9z"/><path color="#1d7300" d="M570.6 87.4l2.8-1.9-2.8 1-2.8 1.9z"/><path color="#437300" d="M576.2 84.8l2.8-1.8-2.8 .7-2.8 1.8z"/><path color="#637300" d="M581.8 82.5l2.8-1.6-2.8 .4-2.8 1.7z"/><path color="#736a00" d="M587.5 80.8l2.8-1.5-2.8-0-2.8 1.6z"/><path color="#765b00" d="M593.2 79.7l2.8-1.4-2.8-.5-2.8 1.5z"/><path color="#8b6100" d="M598.8 79.2l2.8-1.3-2.8-.9-2.8 1.3z"/><path color="#996900" d="M604.5 79.3l2.8-1.2-2.8-1.4-2.8 1.2z"/><path color="#a37800" d="M610.2 79.8l2.8-1.1-2.8-1.8-2.8 1.2z"/><path color="#aa8e00" d="M615.8 80.8l2.8-1.1-2.8-2.1-2.8 1.2z"/><path color="#afaa00" d="M621.5 82l2.8-1.2-2.8-2.4-2.8 1.2z"/><path color="#99b200" d="M627.1 83.4l2.8-1.2-2.8-2.6-2.8 1.2z"/><path color="#004369" d="M539.9 103.2l2.8-1.7-2.8 .4-2.8 1.6z"/><path color="#005666" d="M545.5 100.9l2.8-1.8-2.8 .7-2.8 1.7z"/><path color="#006254" d="M551 98.3l2.8-1.9-2.8 .9-2.8 1.8z"/><path color="#006835" d="M556.6 95.4l2.8-2-2.8 1-2.8 1.9z"/><path color="#006f15" d="M562.1 92.3l2.8-2-2.8 1.1-2.8 1.9z"/><path color="#0f7300" d="M567.7 89.4l2.8-1.9-2.8 1-2.8 1.9z"/><path color="#367300" d="M573.4 86.6l2.8-1.8-2.8 .8-2.8 1.9z"/><path color="#587300" d="M579 84.2l2.8-1.7-2.8 .5-2.8 1.8z"/><path color="#737300" d="M584.7 82.4l2.8-1.6-2.8 .1-2.8 1.6z"/><path color="#736000" d="M590.3 81.1l2.8-1.4-2.8-.4-2.8 1.5z"/><path color="#896600" d="M596 80.5l2.8-1.3-2.8-.9-2.8 1.4z"/><path color="#986e00" d="M601.7 80.5l2.8-1.2-2.8-1.3-2.8 1.3z"/><path color="#a27c00" d="M607.4 81l2.8-1.1-2.8-1.7-2.8 1.2z"/><path color="#a99200" d="M613 81.9l2.8-1.1-2.8-2.1-2.8 1.1z"/><path color="#aeae00" d="M618.7 83.1l2.8-1.1-2.8-2.4-2.8 1.1z"/><path color="#93b200" d="M624.3 84.6l2.8-1.2-2.8-2.6-2.8 1.2z"/><path color="#73b400" d="M629.9 86.2l2.8-1.2-2.8-2.7-2.8 1.2z"/><path color="#003d6b" d="M537.2 104.8l2.8-1.7-2.8 .3-2.8 1.5z"/><path color="#004f67" d="M542.7 102.7l2.8-1.8-2.8 .6-2.8 1.7z"/><path color="#00605f" d="M548.2 100.2l2.8-1.9-2.8 .8-2.8 1.8z"/><path color="#006640" d="M553.8 97.4l2.8-2-2.8 1-2.8 1.9z"/><path color="#006d20" d="M559.4 94.3l2.8-2-2.8 1.1-2.8 2z"/><path color="#007300" d="M564.9 91.3l2.8-2-2.8 1-2.8 2z"/><path color="#287300" d="M570.6 88.5l2.8-1.9-2.8 .8-2.8 1.9z"/><path color="#4c7300" d="M576.2 86l2.8-1.8-2.8 .5-2.8 1.8z"/><path color="#697300" d="M581.8 84l2.8-1.6-2.8 .1-2.8 1.7z"/><path color="#736800" d="M587.5 82.6l2.8-1.5-2.8-.3-2.8 1.6z"/><path color="#886d00" d="M593.2 81.9l2.8-1.4-2.8-.8-2.8 1.4z"/><path color="#977300" d="M598.9 81.7l2.8-1.2-2.8-1.3-2.8 1.3z"/><path color="#a28100" d="M604.5 82.1l2.8-1.2-2.8-1.7-2.8 1.2z"/><path color="#a99500" d="M610.2 83l2.8-1.1-2.8-2.1-2.8 1.1z"/><path color="#aaae00" d="M615.8 84.2l2.8-1.1-2.8-2.4-2.8 1.1z"/><path color="#8fb100" d="M621.5 85.7l2.8-1.1-2.8-2.6-2.8 1.1z"/><path color="#6eb400" d="M627.1 87.3l2.8-1.2-2.8-2.7-2.8 1.2z"/><path color="#4ab600" d="M632.7 89l2.8-1.3-2.8-2.8-2.8 1.2z"/><path color="#00376c" d="M534.4 106.4l2.8-1.6-2.8 .2-2.8 1.5z"/><path color="#004868" d="M539.9 104.5l2.8-1.8-2.8 .5-2.8 1.7z"/><path color="#005c65" d="M545.5 102.1l2.8-1.9-2.8 .7-2.8 1.8z"/><path color="#00644b" d="M551 99.4l2.8-2-2.8 .9-2.8 1.9z"/><path color="#006a2c" d="M556.6 96.4l2.8-2-2.8 1-2.8 2z"/><path color="#00710b" d="M562.1 93.4l2.8-2-2.8 1-2.8 2z"/><path color="#1a7300" d="M567.7 90.5l2.8-2-2.8 .9-2.8 2z"/><path color="#3f7300" d="M573.4 87.9l2.8-1.9-2.8 .6-2.8 1.9z"/><path color="#5e7300" d="M579 85.7l2.8-1.7-2.8 .2-2.8 1.8z"/><path color="#737100" d="M584.7 84.2l2.8-1.6-2.8-.2-2.8 1.6z"/><path color="#877400" d="M590.3 83.3l2.8-1.4-2.8-.7-2.8 1.5z"/><path color="#977a00" d="M596 83l2.8-1.3-2.8-1.2-2.8 1.4z"/><path color="#a18600" d="M601.7 83.3l2.8-1.2-2.8-1.7-2.8 1.2z"/><path color="#a99900" d="M607.4 84.1l2.8-1.1-2.8-2-2.8 1.2z"/><path color="#a7ae00" d="M613 85.4l2.8-1.1-2.8-2.4-2.8 1.1z"/><path color="#8bb100" d="M618.6 86.9l2.8-1.1-2.8-2.6-2.8 1.1z"/><path color="#6ab400" d="M624.3 88.5l2.8-1.2-2.8-2.8-2.8 1.1z"/><path color="#44b600" d="M629.9 90.2l2.8-1.2-2.8-2.9-2.8 1.2z"/><path color="#1eb700" d="M635.5 91.9l2.8-1.3-2.8-2.9-2.8 1.3z"/><path color="#00326d" d="M531.6 108l2.8-1.6-2.8 0-2.8 1.5z"/><path color="#00416a" d="M537.1 106.2l2.8-1.7-2.8 .3-2.8 1.6z"/><path color="#005466" d="M542.7 104l2.8-1.9-2.8 .6-2.8 1.8z"/><path color="#006256" d="M548.2 101.4l2.8-2-2.8 .8-2.8 1.9z"/><path color="#006837" d="M553.8 98.5l2.8-2.1-2.8 1-2.8 2z"/><path color="#006e17" d="M559.3 95.4l2.8-2.1-2.8 1-2.8 2z"/><path color="#0b7300" d="M564.9 92.5l2.8-2-2.8 .9-2.8 2z"/><path color="#317300" d="M570.6 89.8l2.8-1.9-2.8 .6-2.8 2z"/><path color="#527300" d="M576.2 87.6l2.8-1.8-2.8 .3-2.8 1.9z"/><path color="#6b7300" d="M581.8 85.9l2.8-1.7-2.8-.2-2.8 1.7z"/><path color="#887e00" d="M587.5 84.8l2.8-1.5-2.8-.7-2.8 1.6z"/><path color="#978200" d="M593.2 84.4l2.8-1.4-2.8-1.1-2.8 1.4z"/><path color="#a28c00" d="M598.9 84.6l2.8-1.3-2.8-1.6-2.8 1.3z"/><path color="#a99e00" d="M604.5 85.3l2.8-1.2-2.8-2-2.8 1.2z"/><path color="#a3ae00" d="M610.2 86.5l2.8-1.1-2.8-2.4-2.8 1.1z"/><path color="#88b100" d="M615.8 88l2.8-1.1-2.8-2.6-2.8 1.1z"/><path color="#66b400" d="M621.4 89.7l2.8-1.1-2.8-2.8-2.8 1.1z"/><path color="#40b600" d="M627.1 91.4l2.8-1.2-2.8-2.9-2.8 1.2z"/><path color="#18b700" d="M632.7 93.2l2.8-1.3-2.8-2.9-2.8 1.2z"/><path color="#00b50c" d="M638.2 94.9l2.8-1.3-2.8-2.9-2.8 1.3z"/><path color="#002d6e" d="M528.8 109.5l2.8-1.5-2.8-.1-2.8 1.4z"/><path color="#003b6b" d="M534.4 107.9l2.8-1.7-2.8 .2-2.8 1.6z"/><path color="#004d67" d="M539.9 105.8l2.8-1.9-2.8 .5-2.8 1.7z"/><path color="#006061" d="M545.4 103.4l2.8-2-2.8 .7-2.8 1.9z"/><path color="#006643" d="M551 100.5l2.8-2.1-2.8 .9-2.8 2z"/><path color="#006c23" d="M556.6 97.6l2.8-2.1-2.8 .9-2.8 2.1z"/><path color="#007204" d="M562.1 94.6l2.8-2.1-2.8 .9-2.8 2.1z"/><path color="#227300" d="M567.7 91.8l2.8-2-2.8 .7-2.8 2z"/><path color="#447300" d="M573.4 89.4l2.8-1.9-2.8 .3-2.8 1.9z"/><path color="#607300" d="M579 87.6l2.8-1.7-2.8-.1-2.8 1.8z"/><path color="#888900" d="M584.7 86.4l2.8-1.6-2.8-.6-2.8 1.7z"/><path color="#988c00" d="M590.4 85.8l2.8-1.4-2.8-1.1-2.8 1.5z"/><path color="#a29400" d="M596 85.9l2.8-1.3-2.8-1.6-2.8 1.4z"/><path color="#a9a400" d="M601.7 86.5l2.8-1.2-2.8-2-2.8 1.3z"/><path color="#9fae00" d="M607.3 87.7l2.8-1.2-2.8-2.3-2.8 1.2z"/><path color="#85b200" d="M613 89.1l2.8-1.1-2.8-2.6-2.8 1.1z"/><path color="#63b400" d="M618.6 90.8l2.8-1.1-2.8-2.8-2.8 1.1z"/><path color="#3cb600" d="M624.2 92.6l2.8-1.2-2.8-2.9-2.8 1.1z"/><path color="#14b700" d="M629.8 94.4l2.8-1.2-2.8-3-2.8 1.2z"/><path color="#00b410" d="M635.4 96.2l2.8-1.3-2.8-2.9-2.8 1.3z"/><path color="#00af2e" d="M641 97.8l2.8-1.4-2.8-2.9-2.8 1.3z"/><path color="#00296e" d="M526.1 111l2.8-1.5-2.8-.2-2.8 1.4z"/><path color="#00366c" d="M531.6 109.6l2.8-1.7-2.8 .1-2.8 1.5z"/><path color="#004669" d="M537.1 107.7l2.8-1.8-2.8 .4-2.8 1.7z"/><path color="#005965" d="M542.7 105.3l2.8-2-2.8 .6-2.8 1.9z"/><path color="#00634f" d="M548.2 102.6l2.8-2.1-2.8 .8-2.8 2z"/><path color="#006930" d="M553.8 99.7l2.8-2.2-2.8 .9-2.8 2.1z"/><path color="#007010" d="M559.3 96.8l2.8-2.2-2.8 .8-2.8 2.1z"/><path color="#137300" d="M564.9 93.9l2.8-2.1-2.8 .7-2.8 2.1z"/><path color="#367300" d="M570.6 91.4l2.8-2-2.8 .4-2.8 2z"/><path color="#557600" d="M576.2 89.5l2.8-1.9-2.8-.1-2.8 1.9z"/><path color="#7d8a00" d="M581.9 88.1l2.8-1.7-2.8-.5-2.8 1.7z"/><path color="#999700" d="M587.5 87.4l2.8-1.5-2.8-1-2.8 1.6z"/><path color="#a39d00" d="M593.2 87.3l2.8-1.4-2.8-1.5-2.8 1.4z"/><path color="#a9aa00" d="M598.9 87.8l2.8-1.3-2.8-2-2.8 1.3z"/><path color="#9baf00" d="M604.5 88.9l2.8-1.2-2.8-2.3-2.8 1.2z"/><path color="#81b200" d="M610.2 90.3l2.8-1.2-2.8-2.6-2.8 1.2z"/><path color="#5fb400" d="M615.8 92l2.8-1.2-2.8-2.8-2.8 1.1z"/><path color="#39b600" d="M621.4 93.8l2.8-1.2-2.8-2.9-2.8 1.1z"/><path color="#10b700" d="M627 95.6l2.8-1.2-2.8-3-2.8 1.2z"/><path color="#00b414" d="M632.6 97.4l2.8-1.3-2.8-3-2.8 1.2z"/><path color="#00ae32" d="M638.2 99.1l2.8-1.3-2.8-2.9-2.8 1.3z"/><path color="#00a84f" d="M643.8 100.7l2.8-1.4-2.8-2.8-2.8 1.4z"/><path color="#00256f" d="M523.3 112.5l2.8-1.4-2.8-.3-2.8 1.3z"/><path color="#00306d" d="M528.8 111.2l2.8-1.6-2.8-0-2.8 1.5z"/><path color="#003f6a" d="M534.4 109.5l2.8-1.8-2.8 .2-2.8 1.7z"/><path color="#005167" d="M539.9 107.3l2.8-2-2.8 .5-2.8 1.8z"/><path color="#00615b" d="M545.4 104.7l2.8-2.1-2.8 .7-2.8 2z"/><path color="#00673c" d="M551 101.9l2.8-2.2-2.8 .8-2.8 2.1z"/><path color="#006d1d" d="M556.6 99l2.8-2.2-2.8 .8-2.8 2.2z"/><path color="#027300" d="M562.1 96.1l2.8-2.2-2.8 .7-2.8 2.2z"/><path color="#277300" d="M567.8 93.5l2.8-2.1-2.8 .4-2.8 2.1z"/><path color="#497800" d="M573.4 91.4l2.8-2-2.8-0-2.8 2z"/><path color="#718c00" d="M579 89.9l2.8-1.8-2.8-.5-2.8 1.9z"/><path color="#909a00" d="M584.7 89l2.8-1.6-2.8-1-2.8 1.7z"/><path color="#a0a400" d="M590.4 88.8l2.8-1.5-2.8-1.5-2.8 1.5z"/><path color="#a2ab00" d="M596 89.2l2.8-1.4-2.8-1.9-2.8 1.4z"/><path color="#95b000" d="M601.7 90.1l2.8-1.3-2.8-2.3-2.8 1.3z"/><path color="#7db300" d="M607.3 91.5l2.8-1.2-2.8-2.6-2.8 1.2z"/><path color="#5cb500" d="M613 93.1l2.8-1.2-2.8-2.8-2.8 1.2z"/><path color="#35b600" d="M618.6 95l2.8-1.2-2.8-3-2.8 1.2z"/><path color="#0cb700" d="M624.2 96.8l2.8-1.2-2.8-3-2.8 1.2z"/><path color="#00b317" d="M629.8 98.7l2.8-1.3-2.8-3-2.8 1.2z"/><path color="#00ad37" d="M635.4 100.4l2.8-1.3-2.8-3-2.8 1.3z"/><path color="#00a754" d="M640.9 102l2.8-1.4-2.8-2.9-2.8 1.3z"/><path color="#00a16e" d="M646.5 103.4l2.8-1.4-2.8-2.7-2.8 1.4z"/><path color="#002170" d="M520.5 113.8l2.8-1.4-2.8-.4-2.8 1.3z"/><path color="#002b6e" d="M526.1 112.7l2.8-1.6-2.8-.2-2.8 1.4z"/><path color="#00396b" d="M531.6 111.2l2.8-1.7-2.8 .1-2.8 1.6z"/><path color="#004a68" d="M537.1 109.2l2.8-1.9-2.8 .4-2.8 1.8z"/><path color="#005e64" d="M542.7 106.8l2.8-2.1-2.8 .6-2.8 2z"/><path color="#006549" d="M548.2 104.1l2.8-2.2-2.8 .7-2.8 2.1z"/><path color="#006b2a" d="M553.8 101.2l2.8-2.2-2.8 .8-2.8 2.2z"/><path color="#00710c" d="M559.4 98.3l2.8-2.2-2.8 .6-2.8 2.2z"/><path color="#167300" d="M565 95.7l2.8-2.2-2.8 .4-2.8 2.2z"/><path color="#3b7c00" d="M570.6 93.5l2.8-2.1-2.8 0-2.8 2.1z"/><path color="#628e00" d="M576.2 91.8l2.8-1.9-2.8-.4-2.8 2z"/><path color="#829c00" d="M581.9 90.7l2.8-1.7-2.8-.9-2.8 1.8z"/><path color="#95a600" d="M587.5 90.4l2.8-1.6-2.8-1.4-2.8 1.6z"/><path color="#99ac00" d="M593.2 90.6l2.8-1.5-2.8-1.9-2.8 1.5z"/><path color="#8eb100" d="M598.9 91.5l2.8-1.3-2.8-2.3-2.8 1.4z"/><path color="#78b400" d="M604.5 92.8l2.8-1.3-2.8-2.6-2.8 1.3z"/><path color="#58b600" d="M610.1 94.4l2.8-1.2-2.8-2.9-2.8 1.2z"/><path color="#31b700" d="M615.8 96.2l2.8-1.2-2.8-3-2.8 1.2z"/><path color="#08b800" d="M621.4 98.1l2.8-1.2-2.8-3.1-2.8 1.2z"/><path color="#00b31b" d="M627 99.9l2.8-1.2-2.8-3.1-2.8 1.2z"/><path color="#00ac3a" d="M632.6 101.7l2.8-1.3-2.8-3-2.8 1.3z"/><path color="#00a658" d="M638.1 103.3l2.8-1.3-2.8-2.9-2.8 1.3z"/><path color="#00a073" d="M643.7 104.8l2.8-1.4-2.8-2.8-2.8 1.4z"/><path color="#009b8b" d="M649.3 106l2.8-1.4-2.8-2.6-2.8 1.4z"/><path color="#001f75" d="M517.8 115.2l2.8-1.3-2.8-.5-2.8 1.2z"/><path color="#00276f" d="M523.3 114.2l2.8-1.5-2.8-.3-2.8 1.4z"/><path color="#00336c" d="M528.8 112.9l2.8-1.7-2.8-0-2.8 1.6z"/><path color="#004269" d="M534.4 111.1l2.8-1.9-2.8 .2-2.8 1.7z"/><path color="#005566" d="M539.9 108.9l2.8-2.1-2.8 .5-2.8 1.9z"/><path color="#006256" d="M545.4 106.3l2.8-2.2-2.8 .6-2.8 2.1z"/><path color="#006838" d="M551 103.5l2.8-2.3-2.8 .7-2.8 2.2z"/><path color="#006e19" d="M556.6 100.6l2.8-2.3-2.8 .6-2.8 2.2z"/><path color="#057300" d="M562.2 98l2.8-2.3-2.8 .4-2.8 2.2z"/><path color="#2b7f00" d="M567.8 95.6l2.8-2.2-2.8 .1-2.8 2.2z"/><path color="#529000" d="M573.4 93.8l2.8-2-2.8-.4-2.8 2.1z"/><path color="#739d00" d="M579.1 92.6l2.8-1.9-2.8-.9-2.8 1.9z"/><path color="#88a700" d="M584.7 92.1l2.8-1.7-2.8-1.4-2.8 1.7z"/><path color="#8ead00" d="M590.4 92.2l2.8-1.5-2.8-1.9-2.8 1.6z"/><path color="#86b200" d="M596 92.9l2.8-1.4-2.8-2.3-2.8 1.5z"/><path color="#71b500" d="M601.7 94.1l2.8-1.3-2.8-2.6-2.8 1.3z"/><path color="#52b700" d="M607.3 95.6l2.8-1.3-2.8-2.9-2.8 1.3z"/><path color="#2db800" d="M612.9 97.4l2.8-1.2-2.8-3-2.8 1.2z"/><path color="#03b800" d="M618.5 99.3l2.8-1.2-2.8-3.1-2.8 1.2z"/><path color="#00b21e" d="M624.1 101.2l2.8-1.3-2.8-3.1-2.8 1.2z"/><path color="#00ac3e" d="M629.7 103l2.8-1.3-2.8-3-2.8 1.2z"/><path color="#00a65c" d="M635.3 104.7l2.8-1.3-2.8-2.9-2.8 1.3z"/><path color="#009f78" d="M640.9 106.1l2.8-1.4-2.8-2.8-2.8 1.3z"/><path color="#009a90" d="M646.5 107.4l2.8-1.4-2.8-2.6-2.8 1.4z"/><path color="#00909e" d="M652 108.5l2.8-1.4-2.8-2.5-2.8 1.4z"/><path color="#001d79" d="M515 116.4l2.8-1.3-2.8-.6-2.8 1.2z"/><path color="#002473" d="M520.5 115.7l2.8-1.4-2.8-.4-2.8 1.3z"/><path color="#002e6d" d="M526.1 114.5l2.8-1.6-2.8-.2-2.8 1.5z"/><path color="#003b6b" d="M531.6 112.9l2.8-1.8-2.8 .1-2.8 1.7z"/><path color="#004d67" d="M537.1 110.9l2.8-2-2.8 .4-2.8 1.9z"/><path color="#006062" d="M542.7 108.5l2.8-2.2-2.8 .5-2.8 2.1z"/><path color="#006545" d="M548.2 105.8l2.8-2.3-2.8 .6-2.8 2.2z"/><path color="#006b27" d="M553.8 103l2.8-2.3-2.8 .6-2.8 2.3z"/><path color="#00710a" d="M559.4 100.3l2.8-2.3-2.8 .4-2.8 2.3z"/><path color="#188300" d="M565 97.9l2.8-2.3-2.8 .1-2.8 2.3z"/><path color="#409200" d="M570.6 95.9l2.8-2.1-2.8-.3-2.8 2.2z"/><path color="#629f00" d="M576.2 94.6l2.8-2-2.8-.8-2.8 2z"/><path color="#79a800" d="M581.9 93.9l2.8-1.8-2.8-1.3-2.8 1.9z"/><path color="#82af00" d="M587.5 93.9l2.8-1.7-2.8-1.8-2.8 1.7z"/><path color="#7cb300" d="M593.2 94.4l2.8-1.5-2.8-2.3-2.8 1.5z"/><path color="#69b600" d="M598.9 95.5l2.8-1.4-2.8-2.6-2.8 1.4z"/><path color="#4cb700" d="M604.5 97l2.8-1.3-2.8-2.9-2.8 1.3z"/><path color="#27b800" d="M610.1 98.7l2.8-1.3-2.8-3-2.8 1.3z"/><path color="#00b901" d="M615.7 100.6l2.8-1.3-2.8-3.1-2.8 1.2z"/><path color="#00b222" d="M621.3 102.5l2.8-1.3-2.8-3.1-2.8 1.2z"/><path color="#00ac42" d="M626.9 104.3l2.8-1.3-2.8-3.1-2.8 1.3z"/><path color="#00a560" d="M632.5 106l2.8-1.3-2.8-2.9-2.8 1.3z"/><path color="#009f7c" d="M638.1 107.5l2.8-1.3-2.8-2.8-2.8 1.3z"/><path color="#009995" d="M643.6 108.8l2.8-1.4-2.8-2.7-2.8 1.4z"/><path color="#008c9f" d="M649.2 110l2.8-1.4-2.8-2.5-2.8 1.4z"/><path color="#007ba0" d="M654.8 110.9l2.8-1.4-2.8-2.3-2.8 1.4z"/><path color="#001b7c" d="M512.2 117.7l2.8-1.2-2.8-.7-2.8 1.1z"/><path color="#002177" d="M517.8 117.1l2.8-1.4-2.8-.5-2.8 1.3z"/><path color="#002970" d="M523.3 116.1l2.8-1.6-2.8-.3-2.8 1.4z"/><path color="#00356c" d="M528.8 114.7l2.8-1.8-2.8-0-2.8 1.6z"/><path color="#004569" d="M534.4 112.8l2.8-2-2.8 .2-2.8 1.8z"/><path color="#005865" d="M539.9 110.6l2.8-2.1-2.8 .4-2.8 2z"/><path color="#006352" d="M545.4 108.1l2.8-2.3-2.8 .5-2.8 2.2z"/><path color="#006835" d="M551 105.4l2.8-2.4-2.8 .5-2.8 2.3z"/><path color="#007319" d="M556.6 102.7l2.8-2.4-2.8 .4-2.8 2.3z"/><path color="#048600" d="M562.2 100.2l2.8-2.3-2.8 .1-2.8 2.3z"/><path color="#2b9500" d="M567.8 98.2l2.8-2.2-2.8-.3-2.8 2.3z"/><path color="#4ea100" d="M573.4 96.7l2.8-2.1-2.8-.8-2.8 2.1z"/><path color="#67aa00" d="M579.1 95.8l2.8-1.9-2.8-1.3-2.8 2z"/><path color="#72b000" d="M584.7 95.6l2.8-1.8-2.8-1.8-2.8 1.8z"/><path color="#6fb400" d="M590.4 96l2.8-1.6-2.8-2.2-2.8 1.7z"/><path color="#5fb700" d="M596 97l2.8-1.5-2.8-2.6-2.8 1.5z"/><path color="#44b800" d="M601.7 98.4l2.8-1.4-2.8-2.9-2.8 1.4z"/><path color="#21b900" d="M607.3 100l2.8-1.3-2.8-3.1-2.8 1.3z"/><path color="#00b806" d="M612.9 101.9l2.8-1.3-2.8-3.1-2.8 1.3z"/><path color="#00b226" d="M618.5 103.7l2.8-1.3-2.8-3.2-2.8 1.3z"/><path color="#00ab46" d="M624.1 105.6l2.8-1.3-2.8-3.1-2.8 1.3z"/><path color="#00a564" d="M629.7 107.3l2.8-1.3-2.8-3-2.8 1.3z"/><path color="#009e80" d="M635.3 108.8l2.8-1.3-2.8-2.8-2.8 1.3z"/><path color="#009899" d="M640.8 110.2l2.8-1.4-2.8-2.7-2.8 1.3z"/><path color="#00889f" d="M646.4 111.3l2.8-1.4-2.8-2.5-2.8 1.4z"/><path color="#0077a1" d="M652 112.3l2.8-1.4-2.8-2.3-2.8 1.4z"/><path color="#0069a2" d="M657.5 113.1l2.8-1.4-2.8-2.2-2.8 1.4z"/><path color="#00197f" d="M509.5 118.9l2.8-1.2-2.8-.8-2.8 1.1z"/><path color="#001f7b" d="M515 118.4l2.8-1.3-2.8-.6-2.8 1.2z"/><path color="#002676" d="M520.5 117.6l2.8-1.5-2.8-.4-2.8 1.4z"/><path color="#00306f" d="M526.1 116.4l2.8-1.7-2.8-.2-2.8 1.6z"/><path color="#003e6a" d="M531.6 114.7l2.8-1.9-2.8 .1-2.8 1.8z"/><path color="#004f67" d="M537.1 112.7l2.8-2.1-2.8 .3-2.8 2z"/><path color="#00605f" d="M542.7 110.3l2.8-2.3-2.8 .4-2.8 2.1z"/><path color="#006643" d="M548.2 107.7l2.8-2.4-2.8 .4-2.8 2.3z"/><path color="#00742a" d="M553.8 105.1l2.8-2.4-2.8 .3-2.8 2.4z"/><path color="#00870e" d="M559.4 102.6l2.8-2.4-2.8 .1-2.8 2.4z"/><path color="#149700" d="M565 100.5l2.8-2.3-2.8-.3-2.8 2.3z"/><path color="#37a200" d="M570.6 98.9l2.8-2.2-2.8-.7-2.8 2.2z"/><path color="#52ab00" d="M576.2 97.9l2.8-2.1-2.8-1.2-2.8 2.1z"/><path color="#61b100" d="M581.9 97.5l2.8-1.9-2.8-1.7-2.8 1.9z"/><path color="#61b500" d="M587.6 97.8l2.8-1.7-2.8-2.2-2.8 1.8z"/><path color="#53b800" d="M593.2 98.6l2.8-1.6-2.8-2.6-2.8 1.6z"/><path color="#3ab900" d="M598.8 99.9l2.8-1.5-2.8-2.9-2.8 1.5z"/><path color="#19ba00" d="M604.5 101.4l2.8-1.4-2.8-3.1-2.8 1.4z"/><path color="#00b80b" d="M610.1 103.2l2.8-1.4-2.8-3.2-2.8 1.3z"/><path color="#00b22a" d="M615.7 105.1l2.8-1.3-2.8-3.2-2.8 1.3z"/><path color="#00ab4a" d="M621.3 106.9l2.8-1.3-2.8-3.1-2.8 1.3z"/><path color="#00a469" d="M626.9 108.6l2.8-1.3-2.8-3-2.8 1.3z"/><path color="#009d85" d="M632.5 110.2l2.8-1.3-2.8-2.9-2.8 1.3z"/><path color="#00979d" d="M638 111.6l2.8-1.4-2.8-2.7-2.8 1.3z"/><path color="#0084a0" d="M643.6 112.7l2.8-1.4-2.8-2.5-2.8 1.4z"/><path color="#0074a1" d="M649.2 113.7l2.8-1.4-2.8-2.3-2.8 1.4z"/><path color="#0065a2" d="M654.7 114.5l2.8-1.4-2.8-2.2-2.8 1.4z"/><path color="#0059a2" d="M660.3 115.1l2.8-1.4-2.8-2-2.8 1.4z"/><path color="#001881" d="M506.7 120l2.8-1.1-2.8-.9-2.8 1.1z"/><path color="#001d7e" d="M512.2 119.7l2.8-1.3-2.8-.7-2.8 1.2z"/><path color="#00237a" d="M517.8 119l2.8-1.4-2.8-.5-2.8 1.3z"/><path color="#002c75" d="M523.3 118l2.8-1.6-2.8-.3-2.8 1.5z"/><path color="#00386f" d="M528.8 116.6l2.8-1.8-2.8-.1-2.8 1.7z"/><path color="#004769" d="M534.4 114.7l2.8-2-2.8 .1-2.8 1.9z"/><path color="#005a66" d="M539.9 112.5l2.8-2.2-2.8 .3-2.8 2.1z"/><path color="#006855" d="M545.4 110.1l2.8-2.4-2.8 .3-2.8 2.3z"/><path color="#00763d" d="M551 107.6l2.8-2.4-2.8 .3-2.8 2.4z"/><path color="#008621" d="M556.6 105.1l2.8-2.5-2.8 0-2.8 2.4z"/><path color="#009804" d="M562.2 102.9l2.8-2.4-2.8-.3-2.8 2.4z"/><path color="#1fa300" d="M567.8 101.2l2.8-2.3-2.8-.7-2.8 2.3z"/><path color="#3cac00" d="M573.4 100l2.8-2.2-2.8-1.2-2.8 2.2z"/><path color="#4cb200" d="M579.1 99.5l2.8-2-2.8-1.7-2.8 2.1z"/><path color="#50b600" d="M584.7 99.6l2.8-1.8-2.8-2.1-2.8 1.9z"/><path color="#45b900" d="M590.4 100.3l2.8-1.7-2.8-2.5-2.8 1.7z"/><path color="#2fba00" d="M596 101.4l2.8-1.6-2.8-2.9-2.8 1.6z"/><path color="#10bb00" d="M601.7 102.9l2.8-1.5-2.8-3.1-2.8 1.5z"/><path color="#00b811" d="M607.3 104.6l2.8-1.4-2.8-3.2-2.8 1.4z"/><path color="#00b12f" d="M612.9 106.4l2.8-1.4-2.8-3.2-2.8 1.4z"/><path color="#00ab4f" d="M618.5 108.2l2.8-1.3-2.8-3.1-2.8 1.3z"/><path color="#00a46d" d="M624.1 110l2.8-1.3-2.8-3-2.8 1.3z"/><path color="#009d89" d="M629.6 111.5l2.8-1.3-2.8-2.9-2.8 1.3z"/><path color="#00959f" d="M635.2 112.9l2.8-1.4-2.8-2.7-2.8 1.3z"/><path color="#0081a1" d="M640.8 114.1l2.8-1.4-2.8-2.5-2.8 1.4z"/><path color="#0070a2" d="M646.4 115.1l2.8-1.4-2.8-2.4-2.8 1.4z"/><path color="#0062a2" d="M651.9 115.9l2.8-1.4-2.8-2.2-2.8 1.4z"/><path color="#0056a2" d="M657.5 116.5l2.8-1.4-2.8-2-2.8 1.4z"/><path color="#004ca2" d="M663.1 117l2.8-1.4-2.8-1.9-2.8 1.4z"/><path color="#001683" d="M503.9 121.1l2.8-1.1-2.8-1-2.8 1z"/><path color="#001a81" d="M509.5 120.9l2.8-1.2-2.8-.8-2.8 1.1z"/><path color="#00207e" d="M515 120.4l2.8-1.4-2.8-.6-2.8 1.3z"/><path color="#002979" d="M520.5 119.6l2.8-1.6-2.8-.4-2.8 1.4z"/><path color="#003475" d="M526.1 118.3l2.8-1.8-2.8-.2-2.8 1.6z"/><path color="#004270" d="M531.6 116.7l2.8-2-2.8 0-2.8 1.8z"/><path color="#00556d" d="M537.1 114.7l2.8-2.2-2.8 .2-2.8 2z"/><path color="#006a68" d="M542.7 112.4l2.8-2.3-2.8 .2-2.8 2.2z"/><path color="#007650" d="M548.2 110l2.8-2.4-2.8 .2-2.8 2.4z"/><path color="#008535" d="M553.8 107.6l2.8-2.5-2.8 0-2.8 2.4z"/><path color="#009618" d="M559.4 105.4l2.8-2.5-2.8-.3-2.8 2.5z"/><path color="#04a500" d="M565 103.6l2.8-2.4-2.8-.7-2.8 2.4z"/><path color="#22ad00" d="M570.6 102.3l2.8-2.3-2.8-1.2-2.8 2.3z"/><path color="#36b300" d="M576.3 101.6l2.8-2.1-2.8-1.6-2.8 2.2z"/><path color="#3cb700" d="M581.9 101.6l2.8-2-2.8-2.1-2.8 2z"/><path color="#35b900" d="M587.6 102.1l2.8-1.8-2.8-2.5-2.8 1.8z"/><path color="#21bb00" d="M593.2 103.1l2.8-1.7-2.8-2.8-2.8 1.7z"/><path color="#05bb00" d="M598.8 104.5l2.8-1.5-2.8-3.1-2.8 1.6z"/><path color="#00b717" d="M604.5 106.1l2.8-1.5-2.8-3.2-2.8 1.5z"/><path color="#00b135" d="M610.1 107.8l2.8-1.4-2.8-3.2-2.8 1.4z"/><path color="#00aa54" d="M615.7 109.6l2.8-1.4-2.8-3.2-2.8 1.4z"/><path color="#00a372" d="M621.3 111.3l2.8-1.4-2.8-3.1-2.8 1.3z"/><path color="#009c8d" d="M626.8 112.9l2.8-1.4-2.8-2.9-2.8 1.3z"/><path color="#0092a0" d="M632.4 114.3l2.8-1.4-2.8-2.7-2.8 1.3z"/><path color="#007ea1" d="M638 115.5l2.8-1.4-2.8-2.5-2.8 1.4z"/><path color="#006da2" d="M643.5 116.5l2.8-1.4-2.8-2.4-2.8 1.4z"/><path color="#005fa3" d="M649.1 117.3l2.8-1.4-2.8-2.2-2.8 1.4z"/><path color="#0053a3" d="M654.7 117.9l2.8-1.4-2.8-2-2.8 1.4z"/><path color="#0048a2" d="M660.3 118.4l2.8-1.4-2.8-1.9-2.8 1.4z"/><path color="#0040a1" d="M665.8 118.7l2.8-1.4-2.8-1.7-2.8 1.4z"/><path color="#001983" d="M506.7 122.1l2.8-1.2-2.8-.9-2.8 1.1z"/><path color="#001e81" d="M512.2 121.7l2.8-1.3-2.8-.7-2.8 1.2z"/><path color="#00257d" d="M517.8 121l2.8-1.5-2.8-.5-2.8 1.4z"/><path color="#002f7a" d="M523.3 120l2.8-1.7-2.8-.3-2.8 1.6z"/><path color="#003d76" d="M528.8 118.6l2.8-1.9-2.8-.1-2.8 1.8z"/><path color="#004f74" d="M534.4 116.8l2.8-2.1-2.8 0-2.8 2z"/><path color="#006573" d="M539.9 114.7l2.8-2.3-2.8 .1-2.8 2.2z"/><path color="#007663" d="M545.5 112.4l2.8-2.4-2.8 .1-2.8 2.3z"/><path color="#008449" d="M551 110.1l2.8-2.5-2.8-0-2.8 2.4z"/><path color="#00932e" d="M556.6 107.9l2.8-2.5-2.8-.3-2.8 2.5z"/><path color="#00a212" d="M562.2 106.1l2.8-2.5-2.8-.7-2.8 2.5z"/><path color="#07ae00" d="M567.8 104.7l2.8-2.4-2.8-1.1-2.8 2.4z"/><path color="#1db300" d="M573.5 103.9l2.8-2.2-2.8-1.6-2.8 2.3z"/><path color="#26b700" d="M579.1 103.6l2.8-2.1-2.8-2.1-2.8 2.1z"/><path color="#22ba00" d="M584.7 104l2.8-1.9-2.8-2.5-2.8 2z"/><path color="#12bb00" d="M590.4 104.8l2.8-1.8-2.8-2.8-2.8 1.8z"/><path color="#00bb06" d="M596 106.1l2.8-1.6-2.8-3-2.8 1.7z"/><path color="#00b620" d="M601.6 107.6l2.8-1.5-2.8-3.2-2.8 1.5z"/><path color="#00b03c" d="M607.2 109.3l2.8-1.5-2.8-3.2-2.8 1.5z"/><path color="#00a95a" d="M612.8 111l2.8-1.4-2.8-3.2-2.8 1.4z"/><path color="#00a377" d="M618.4 112.7l2.8-1.4-2.8-3.1-2.8 1.4z"/><path color="#009c92" d="M624 114.2l2.8-1.4-2.8-2.9-2.8 1.4z"/><path color="#008fa0" d="M629.6 115.6l2.8-1.4-2.8-2.7-2.8 1.4z"/><path color="#007ba2" d="M635.2 116.8l2.8-1.4-2.8-2.6-2.8 1.4z"/><path color="#006aa3" d="M640.7 117.8l2.8-1.4-2.8-2.4-2.8 1.4z"/><path color="#005ca3" d="M646.3 118.7l2.8-1.4-2.8-2.2-2.8 1.4z"/><path color="#0050a3" d="M651.9 119.3l2.8-1.4-2.8-2-2.8 1.4z"/><path color="#0045a2" d="M657.4 119.8l2.8-1.4-2.8-1.9-2.8 1.4z"/><path color="#003da1" d="M663 120.1l2.8-1.4-2.8-1.7-2.8 1.4z"/><path color="#001b83" d="M509.5 123l2.8-1.3-2.8-.8-2.8 1.2z"/><path color="#002281" d="M515 122.5l2.8-1.4-2.8-.7-2.8 1.3z"/><path color="#002b7e" d="M520.5 121.6l2.8-1.6-2.8-.5-2.8 1.5z"/><path color="#00377b" d="M526.1 120.4l2.8-1.8-2.8-.3-2.8 1.7z"/><path color="#004879" d="M531.6 118.9l2.8-2-2.8-.1-2.8 1.9z"/><path color="#005d78" d="M537.1 117l2.8-2.2-2.8-0-2.8 2.1z"/><path color="#007577" d="M542.7 114.8l2.8-2.4-2.8 0-2.8 2.3z"/><path color="#00825e" d="M548.2 112.6l2.8-2.5-2.8-.1-2.8 2.4z"/><path color="#009143" d="M553.8 110.5l2.8-2.5-2.8-.3-2.8 2.5z"/><path color="#009f28" d="M559.4 108.6l2.8-2.5-2.8-.7-2.8 2.5z"/><path color="#00ab11" d="M565 107.1l2.8-2.4-2.8-1.1-2.8 2.5z"/><path color="#02b400" d="M570.6 106.2l2.8-2.3-2.8-1.5-2.8 2.4z"/><path color="#0db800" d="M576.3 105.8l2.8-2.2-2.8-2-2.8 2.2z"/><path color="#0dbb00" d="M581.9 106l2.8-2-2.8-2.4-2.8 2.1z"/><path color="#00bc00" d="M587.6 106.7l2.8-1.9-2.8-2.8-2.8 1.9z"/><path color="#00b912" d="M593.2 107.8l2.8-1.7-2.8-3-2.8 1.8z"/><path color="#00b529" d="M598.8 109.2l2.8-1.6-2.8-3.2-2.8 1.6z"/><path color="#00af44" d="M604.4 110.8l2.8-1.5-2.8-3.2-2.8 1.5z"/><path color="#00a960" d="M610 112.5l2.8-1.5-2.8-3.2-2.8 1.5z"/><path color="#00a27d" d="M615.6 114.1l2.8-1.4-2.8-3.1-2.8 1.4z"/><path color="#009b97" d="M621.2 115.6l2.8-1.4-2.8-2.9-2.8 1.4z"/><path color="#008ba1" d="M626.8 117l2.8-1.4-2.8-2.8-2.8 1.4z"/><path color="#0078a3" d="M632.4 118.2l2.8-1.4-2.8-2.6-2.8 1.4z"/><path color="#0067a3" d="M637.9 119.2l2.8-1.4-2.8-2.4-2.8 1.4z"/><path color="#0059a3" d="M643.5 120l2.8-1.4-2.8-2.2-2.8 1.4z"/><path color="#004da3" d="M649.1 120.7l2.8-1.4-2.8-2-2.8 1.4z"/><path color="#0043a2" d="M654.6 121.1l2.8-1.4-2.8-1.9-2.8 1.4z"/><path color="#003aa1" d="M660.2 121.5l2.8-1.4-2.8-1.7-2.8 1.4z"/><path color="#001f83" d="M512.2 123.8l2.8-1.3-2.8-.8-2.8 1.3z"/><path color="#002781" d="M517.8 123.1l2.8-1.5-2.8-.6-2.8 1.4z"/><path color="#00327f" d="M523.3 122.2l2.8-1.7-2.8-.4-2.8 1.6z"/><path color="#00417e" d="M528.8 120.8l2.8-1.9-2.8-.2-2.8 1.8z"/><path color="#00547d" d="M534.4 119.1l2.8-2.2-2.8-.1-2.8 2z"/><path color="#006c7e" d="M539.9 117.2l2.8-2.3-2.8-.1-2.8 2.2z"/><path color="#008073" d="M545.5 115.1l2.8-2.5-2.8-.2-2.8 2.4z"/><path color="#008d59" d="M551 113l2.8-2.5-2.8-.4-2.8 2.5z"/><path color="#009b3f" d="M556.6 111.1l2.8-2.6-2.8-.7-2.8 2.5z"/><path color="#00a727" d="M562.2 109.6l2.8-2.5-2.8-1.1-2.8 2.5z"/><path color="#00b015" d="M567.8 108.6l2.8-2.4-2.8-1.5-2.8 2.4z"/><path color="#00b60a" d="M573.5 108l2.8-2.3-2.8-1.9-2.8 2.3z"/><path color="#00b908" d="M579.1 108.1l2.8-2.1-2.8-2.4-2.8 2.2z"/><path color="#00ba0f" d="M584.7 108.6l2.8-1.9-2.8-2.7-2.8 2z"/><path color="#00b71e" d="M590.4 109.6l2.8-1.8-2.8-3-2.8 1.9z"/><path color="#00b333" d="M596 110.9l2.8-1.7-2.8-3.1-2.8 1.7z"/><path color="#00ae4d" d="M601.6 112.4l2.8-1.6-2.8-3.2-2.8 1.6z"/><path color="#00a868" d="M607.2 114l2.8-1.5-2.8-3.2-2.8 1.5z"/><path color="#00a183" d="M612.8 115.6l2.8-1.5-2.8-3.1-2.8 1.5z"/><path color="#009b9c" d="M618.4 117.1l2.8-1.4-2.8-2.9-2.8 1.4z"/><path color="#0088a2" d="M624 118.4l2.8-1.4-2.8-2.8-2.8 1.4z"/><path color="#0075a3" d="M629.6 119.6l2.8-1.4-2.8-2.6-2.8 1.4z"/><path color="#0065a4" d="M635.1 120.6l2.8-1.4-2.8-2.4-2.8 1.4z"/><path color="#0056a4" d="M640.7 121.4l2.8-1.4-2.8-2.2-2.8 1.4z"/><path color="#004aa3" d="M646.3 122l2.8-1.4-2.8-2-2.8 1.4z"/><path color="#0040a2" d="M651.8 122.5l2.8-1.4-2.8-1.8-2.8 1.4z"/><path color="#0038a1" d="M657.4 122.8l2.8-1.4-2.8-1.7-2.8 1.4z"/><path color="#002384" d="M515 124.6l2.8-1.4-2.8-.7-2.8 1.3z"/><path color="#002d83" d="M520.5 123.8l2.8-1.6-2.8-.5-2.8 1.5z"/><path color="#003a82" d="M526.1 122.6l2.8-1.8-2.8-.4-2.8 1.7z"/><path color="#004b82" d="M531.6 121.2l2.8-2.1-2.8-.3-2.8 1.9z"/><path color="#006183" d="M537.2 119.4l2.8-2.3-2.8-.2-2.8 2.2z"/><path color="#007c84" d="M542.7 117.5l2.8-2.4-2.8-.2-2.8 2.3z"/><path color="#008a6f" d="M548.3 115.5l2.8-2.5-2.8-.4-2.8 2.5z"/><path color="#009756" d="M553.8 113.7l2.8-2.6-2.8-.7-2.8 2.5z"/><path color="#00a23f" d="M559.4 112.1l2.8-2.5-2.8-1-2.8 2.6z"/><path color="#00ac2c" d="M565.1 111l2.8-2.5-2.8-1.4-2.8 2.5z"/><path color="#00b21f" d="M570.7 110.4l2.8-2.3-2.8-1.9-2.8 2.4z"/><path color="#00b61b" d="M576.3 110.3l2.8-2.2-2.8-2.3-2.8 2.3z"/><path color="#00b720" d="M581.9 110.7l2.8-2-2.8-2.6-2.8 2.1z"/><path color="#00b52c" d="M587.6 111.5l2.8-1.9-2.8-2.9-2.8 1.9z"/><path color="#00b13f" d="M593.2 112.7l2.8-1.8-2.8-3.1-2.8 1.8z"/><path color="#00ac56" d="M598.8 114l2.8-1.6-2.8-3.2-2.8 1.7z"/><path color="#00a770" d="M604.4 115.5l2.8-1.6-2.8-3.2-2.8 1.6z"/><path color="#00a08a" d="M610 117l2.8-1.5-2.8-3.1-2.8 1.5z"/><path color="#0099a1" d="M615.6 118.5l2.8-1.4-2.8-2.9-2.8 1.5z"/><path color="#0085a3" d="M621.2 119.8l2.8-1.4-2.8-2.8-2.8 1.4z"/><path color="#0072a4" d="M626.8 121l2.8-1.4-2.8-2.6-2.8 1.4z"/><path color="#0062a5" d="M632.3 122l2.8-1.4-2.8-2.4-2.8 1.4z"/><path color="#0054a4" d="M637.9 122.8l2.8-1.4-2.8-2.2-2.8 1.4z"/><path color="#0048a4" d="M643.5 123.4l2.8-1.4-2.8-2-2.8 1.4z"/><path color="#003ea2" d="M649 123.9l2.8-1.4-2.8-1.8-2.8 1.4z"/><path color="#0036a1" d="M654.6 124.2l2.8-1.4-2.8-1.7-2.8 1.4z"/><path color="#002886" d="M517.8 125.3l2.8-1.5-2.8-.6-2.8 1.4z"/><path color="#003385" d="M523.3 124.4l2.8-1.8-2.8-.5-2.8 1.6z"/><path color="#004385" d="M528.9 123.1l2.8-2-2.8-.4-2.8 1.8z"/><path color="#005786" d="M534.4 121.6l2.8-2.2-2.8-.3-2.8 2.1z"/><path color="#006f88" d="M539.9 119.8l2.8-2.3-2.8-.3-2.8 2.3z"/><path color="#008684" d="M545.5 118l2.8-2.5-2.8-.5-2.8 2.4z"/><path color="#00926d" d="M551.1 116.2l2.8-2.5-2.8-.7-2.8 2.5z"/><path color="#009e57" d="M556.7 114.7l2.8-2.5-2.8-1-2.8 2.6z"/><path color="#00a743" d="M562.3 113.5l2.8-2.5-2.8-1.4-2.8 2.5z"/><path color="#00ae36" d="M567.9 112.8l2.8-2.4-2.8-1.8-2.8 2.5z"/><path color="#00b230" d="M573.5 112.5l2.8-2.3-2.8-2.2-2.8 2.3z"/><path color="#00b332" d="M579.1 112.8l2.8-2.1-2.8-2.6-2.8 2.2z"/><path color="#00b23c" d="M584.8 113.5l2.8-2-2.8-2.9-2.8 2z"/><path color="#00af4c" d="M590.4 114.5l2.8-1.8-2.8-3-2.8 1.9z"/><path color="#00ab61" d="M596 115.7l2.8-1.7-2.8-3.1-2.8 1.8z"/><path color="#00a579" d="M601.6 117.1l2.8-1.6-2.8-3.1-2.8 1.6z"/><path color="#009f91" d="M607.2 118.6l2.8-1.5-2.8-3.1-2.8 1.6z"/><path color="#0095a2" d="M612.8 120l2.8-1.5-2.8-2.9-2.8 1.5z"/><path color="#0081a4" d="M618.4 121.2l2.8-1.4-2.8-2.8-2.8 1.4z"/><path color="#006fa5" d="M623.9 122.4l2.8-1.4-2.8-2.6-2.8 1.4z"/><path color="#005fa5" d="M629.5 123.3l2.8-1.4-2.8-2.4-2.8 1.4z"/><path color="#0051a5" d="M635.1 124.1l2.8-1.4-2.8-2.2-2.8 1.4z"/><path color="#0045a4" d="M640.7 124.7l2.8-1.4-2.8-2-2.8 1.4z"/><path color="#003ba2" d="M646.2 125.2l2.8-1.3-2.8-1.8-2.8 1.4z"/><path color="#0033a1" d="M651.8 125.5l2.8-1.3-2.8-1.7-2.8 1.4z"/><path color="#002e88" d="M520.6 126l2.8-1.7-2.8-.6-2.8 1.5z"/><path color="#003b88" d="M526.1 125l2.8-1.9-2.8-.5-2.8 1.8z"/><path color="#004d89" d="M531.6 123.7l2.8-2.1-2.8-.4-2.8 2z"/><path color="#00628b" d="M537.2 122.1l2.8-2.3-2.8-.4-2.8 2.2z"/><path color="#007b8d" d="M542.7 120.4l2.8-2.4-2.8-.5-2.8 2.3z"/><path color="#008e83" d="M548.3 118.7l2.8-2.5-2.8-.7-2.8 2.5z"/><path color="#00996e" d="M553.9 117.2l2.8-2.5-2.8-1-2.8 2.5z"/><path color="#00a25b" d="M559.5 116l2.8-2.5-2.8-1.4-2.8 2.5z"/><path color="#00a94c" d="M565.1 115.2l2.8-2.4-2.8-1.8-2.8 2.5z"/><path color="#00ae45" d="M570.7 114.8l2.8-2.3-2.8-2.2-2.8 2.4z"/><path color="#00af45" d="M576.3 115l2.8-2.2-2.8-2.5-2.8 2.3z"/><path color="#00af4c" d="M581.9 115.5l2.8-2-2.8-2.8-2.8 2.1z"/><path color="#00ad5a" d="M587.6 116.4l2.8-1.9-2.8-3-2.8 2z"/><path color="#00a96d" d="M593.2 117.5l2.8-1.8-2.8-3.1-2.8 1.8z"/><path color="#00a382" d="M598.8 118.8l2.8-1.7-2.8-3.1-2.8 1.7z"/><path color="#009e99" d="M604.4 120.1l2.8-1.6-2.8-3-2.8 1.6z"/><path color="#0090a4" d="M610 121.5l2.8-1.5-2.8-2.9-2.8 1.5z"/><path color="#007da5" d="M615.6 122.7l2.8-1.4-2.8-2.7-2.8 1.5z"/><path color="#006ba6" d="M621.1 123.8l2.8-1.4-2.8-2.6-2.8 1.4z"/><path color="#005ca6" d="M626.7 124.7l2.8-1.4-2.8-2.4-2.8 1.4z"/><path color="#004ea5" d="M632.3 125.5l2.8-1.4-2.8-2.2-2.8 1.4z"/><path color="#0043a4" d="M637.9 126.1l2.8-1.4-2.8-2-2.8 1.4z"/><path color="#0039a2" d="M643.4 126.5l2.8-1.3-2.8-1.8-2.8 1.4z"/><path color="#0032a1" d="M649 126.9l2.8-1.3-2.8-1.7-2.8 1.3z"/><path color="#00348a" d="M523.3 126.8l2.8-1.8-2.8-.6-2.8 1.7z"/><path color="#00438c" d="M528.9 125.6l2.8-2-2.8-.5-2.8 1.9z"/><path color="#00568e" d="M534.4 124.3l2.8-2.2-2.8-.5-2.8 2.1z"/><path color="#006d90" d="M540 122.7l2.8-2.3-2.8-.6-2.8 2.3z"/><path color="#008692" d="M545.5 121.2l2.8-2.4-2.8-.7-2.8 2.4z"/><path color="#009484" d="M551.1 119.7l2.8-2.5-2.8-1-2.8 2.5z"/><path color="#009d72" d="M556.7 118.5l2.8-2.5-2.8-1.3-2.8 2.5z"/><path color="#00a463" d="M562.3 117.7l2.8-2.5-2.8-1.7-2.8 2.5z"/><path color="#00a95b" d="M567.9 117.2l2.8-2.4-2.8-2.1-2.8 2.4z"/><path color="#00ab59" d="M573.5 117.2l2.8-2.2-2.8-2.4-2.8 2.3z"/><path color="#00ab5e" d="M579.1 117.6l2.8-2.1-2.8-2.7-2.8 2.2z"/><path color="#00aa69" d="M584.8 118.3l2.8-1.9-2.8-2.9-2.8 2z"/><path color="#00a679" d="M590.4 119.3l2.8-1.8-2.8-3-2.8 1.9z"/><path color="#00a18d" d="M596 120.5l2.8-1.7-2.8-3-2.8 1.8z"/><path color="#009ca2" d="M601.6 121.7l2.8-1.6-2.8-3-2.8 1.7z"/><path color="#008aa5" d="M607.2 123l2.8-1.5-2.8-2.9-2.8 1.6z"/><path color="#0078a6" d="M612.8 124.2l2.8-1.5-2.8-2.7-2.8 1.5z"/><path color="#0068a6" d="M618.3 125.2l2.8-1.4-2.8-2.5-2.8 1.4z"/><path color="#0059a6" d="M623.9 126.1l2.8-1.4-2.8-2.3-2.8 1.4z"/><path color="#004ba6" d="M629.5 126.9l2.8-1.4-2.8-2.2-2.8 1.4z"/><path color="#0040a4" d="M635.1 127.4l2.8-1.4-2.8-2-2.8 1.4z"/><path color="#0037a3" d="M640.6 127.9l2.8-1.3-2.8-1.8-2.8 1.4z"/><path color="#0030a1" d="M646.2 128.2l2.8-1.3-2.8-1.7-2.8 1.3z"/><path color="#003a8e" d="M526.1 127.5l2.8-1.9-2.8-.6-2.8 1.8z"/><path color="#004b90" d="M531.7 126.3l2.8-2.1-2.8-.6-2.8 2z"/><path color="#005f92" d="M537.2 125l2.8-2.2-2.8-.6-2.8 2.2z"/><path color="#007695" d="M542.8 123.6l2.8-2.4-2.8-.8-2.8 2.3z"/><path color="#008d97" d="M548.3 122.2l2.8-2.5-2.8-1-2.8 2.4z"/><path color="#009888" d="M553.9 121l2.8-2.5-2.8-1.3-2.8 2.5z"/><path color="#009f7a" d="M559.5 120.1l2.8-2.5-2.8-1.6-2.8 2.5z"/><path color="#00a470" d="M565.1 119.6l2.8-2.4-2.8-2-2.8 2.5z"/><path color="#00a76d" d="M570.7 119.4l2.8-2.3-2.8-2.3-2.8 2.4z"/><path color="#00a870" d="M576.3 119.7l2.8-2.1-2.8-2.6-2.8 2.2z"/><path color="#00a679" d="M582 120.3l2.8-2-2.8-2.8-2.8 2.1z"/><path color="#00a387" d="M587.6 121.2l2.8-1.9-2.8-3-2.8 1.9z"/><path color="#009f98" d="M593.2 122.2l2.8-1.7-2.8-3-2.8 1.8z"/><path color="#0096a4" d="M598.8 123.4l2.8-1.6-2.8-2.9-2.8 1.7z"/><path color="#0085a6" d="M604.4 124.5l2.8-1.6-2.8-2.8-2.8 1.6z"/><path color="#0074a7" d="M610 125.6l2.8-1.5-2.8-2.7-2.8 1.5z"/><path color="#0064a7" d="M615.5 126.6l2.8-1.4-2.8-2.5-2.8 1.5z"/><path color="#0055a7" d="M621.1 127.5l2.8-1.4-2.8-2.3-2.8 1.4z"/><path color="#0049a6" d="M626.7 128.2l2.8-1.4-2.8-2.1-2.8 1.4z"/><path color="#003ea4" d="M632.3 128.8l2.8-1.4-2.8-2-2.8 1.4z"/><path color="#0035a3" d="M637.8 129.2l2.8-1.3-2.8-1.8-2.8 1.4z"/><path color="#002ea0" d="M643.4 129.5l2.8-1.3-2.8-1.7-2.8 1.3z"/><path color="#004191" d="M528.9 128.3l2.8-1.9-2.8-.7-2.8 1.9z"/><path color="#005394" d="M534.4 127.1l2.8-2.1-2.8-.7-2.8 2.1z"/><path color="#006797" d="M540 125.8l2.8-2.3-2.8-.8-2.8 2.2z"/><path color="#007c99" d="M545.6 124.6l2.8-2.4-2.8-1-2.8 2.4z"/><path color="#00909b" d="M551.1 123.4l2.8-2.4-2.8-1.3-2.8 2.5z"/><path color="#009a90" d="M556.7 122.5l2.8-2.4-2.8-1.6-2.8 2.5z"/><path color="#009f86" d="M562.3 122l2.8-2.4-2.8-1.9-2.8 2.5z"/><path color="#00a281" d="M567.9 121.7l2.8-2.3-2.8-2.2-2.8 2.4z"/><path color="#00a482" d="M573.5 121.9l2.8-2.2-2.8-2.5-2.8 2.3z"/><path color="#00a389" d="M579.2 122.3l2.8-2-2.8-2.7-2.8 2.1z"/><path color="#00a094" d="M584.8 123.1l2.8-1.9-2.8-2.9-2.8 2z"/><path color="#009da3" d="M590.4 124l2.8-1.8-2.8-2.9-2.8 1.9z"/><path color="#008ea6" d="M596 125.1l2.8-1.7-2.8-2.9-2.8 1.7z"/><path color="#007ea7" d="M601.6 126.1l2.8-1.6-2.8-2.8-2.8 1.6z"/><path color="#006fa7" d="M607.2 127.1l2.8-1.5-2.8-2.7-2.8 1.6z"/><path color="#0060a8" d="M612.7 128.1l2.8-1.5-2.8-2.5-2.8 1.5z"/><path color="#0052a7" d="M618.3 128.9l2.8-1.4-2.8-2.3-2.8 1.4z"/><path color="#0046a6" d="M623.9 129.6l2.8-1.4-2.8-2.1-2.8 1.4z"/><path color="#003ca5" d="M629.5 130.1l2.8-1.4-2.8-1.9-2.8 1.4z"/><path color="#0033a3" d="M635 130.6l2.8-1.3-2.8-1.8-2.8 1.4z"/><path color="#002ca0" d="M640.6 130.8l2.8-1.3-2.8-1.6-2.8 1.3z"/><path color="#004895" d="M531.7 129.1l2.8-2-2.8-.8-2.8 1.9z"/><path color="#005998" d="M537.2 128l2.8-2.2-2.8-.9-2.8 2.1z"/><path color="#006c9b" d="M542.8 126.9l2.8-2.3-2.8-1-2.8 2.3z"/><path color="#007f9d" d="M548.4 125.8l2.8-2.4-2.8-1.2-2.8 2.4z"/><path color="#00909e" d="M553.9 124.9l2.8-2.4-2.8-1.5-2.8 2.4z"/><path color="#009a9b" d="M559.5 124.3l2.8-2.4-2.8-1.8-2.8 2.4z"/><path color="#009e95" d="M565.1 124l2.8-2.3-2.8-2.1-2.8 2.4z"/><path color="#009f95" d="M570.7 124l2.8-2.2-2.8-2.4-2.8 2.3z"/><path color="#009f99" d="M576.4 124.4l2.8-2.1-2.8-2.6-2.8 2.2z"/><path color="#009da3" d="M582 125l2.8-1.9-2.8-2.8-2.8 2z"/><path color="#0093a5" d="M587.6 125.8l2.8-1.8-2.8-2.8-2.8 1.9z"/><path color="#0086a7" d="M593.2 126.7l2.8-1.7-2.8-2.8-2.8 1.8z"/><path color="#0078a8" d="M598.8 127.7l2.8-1.6-2.8-2.7-2.8 1.7z"/><path color="#0069a8" d="M604.4 128.7l2.8-1.5-2.8-2.6-2.8 1.6z"/><path color="#005ba8" d="M609.9 129.6l2.8-1.5-2.8-2.4-2.8 1.5z"/><path color="#004ea8" d="M615.5 130.3l2.8-1.4-2.8-2.3-2.8 1.5z"/><path color="#0043a6" d="M621.1 131l2.8-1.4-2.8-2.1-2.8 1.4z"/><path color="#0039a5" d="M626.7 131.5l2.8-1.4-2.8-1.9-2.8 1.4z"/><path color="#0031a3" d="M632.2 131.9l2.8-1.3-2.8-1.8-2.8 1.4z"/><path color="#002ba0" d="M637.8 132.2l2.8-1.3-2.8-1.6-2.8 1.3z"/><path color="#004d99" d="M534.5 130.1l2.8-2.1-2.8-.9-2.8 2z"/><path color="#005e9c" d="M540 129.1l2.8-2.2-2.8-1-2.8 2.2z"/><path color="#006f9e" d="M545.6 128.1l2.8-2.3-2.8-1.2-2.8 2.3z"/><path color="#007fa0" d="M551.2 127.2l2.8-2.3-2.8-1.5-2.8 2.4z"/><path color="#008ca1" d="M556.8 126.6l2.8-2.3-2.8-1.8-2.8 2.4z"/><path color="#0095a2" d="M562.3 126.3l2.8-2.3-2.8-2.1-2.8 2.4z"/><path color="#0099a3" d="M568 126.2l2.8-2.2-2.8-2.3-2.8 2.3z"/><path color="#0098a4" d="M573.6 126.5l2.8-2.1-2.8-2.5-2.8 2.2z"/><path color="#0092a6" d="M579.2 127l2.8-1.9-2.8-2.7-2.8 2.1z"/><path color="#0089a7" d="M584.8 127.6l2.8-1.8-2.8-2.7-2.8 1.9z"/><path color="#007ea8" d="M590.4 128.5l2.8-1.7-2.8-2.7-2.8 1.8z"/><path color="#0071a9" d="M596 129.3l2.8-1.6-2.8-2.7-2.8 1.7z"/><path color="#0064a9" d="M601.5 130.2l2.8-1.5-2.8-2.6-2.8 1.6z"/><path color="#0057a9" d="M607.1 131l2.8-1.5-2.8-2.4-2.8 1.5z"/><path color="#004ba8" d="M612.7 131.7l2.8-1.4-2.8-2.2-2.8 1.5z"/><path color="#0040a7" d="M618.3 132.4l2.8-1.4-2.8-2.1-2.8 1.4z"/><path color="#0037a5" d="M623.9 132.9l2.8-1.4-2.8-1.9-2.8 1.4z"/><path color="#002fa3" d="M629.4 133.2l2.8-1.3-2.8-1.7-2.8 1.4z"/><path color="#0029a0" d="M635 133.5l2.8-1.3-2.8-1.6-2.8 1.3z"/><path color="#00519c" d="M537.3 131.1l2.8-2.1-2.8-1.1-2.8 2.1z"/><path color="#00609f" d="M542.8 130.3l2.8-2.2-2.8-1.2-2.8 2.2z"/><path color="#006fa1" d="M548.4 129.5l2.8-2.2-2.8-1.4-2.8 2.3z"/><path color="#007ba3" d="M554 128.9l2.8-2.3-2.8-1.7-2.8 2.3z"/><path color="#0085a4" d="M559.6 128.5l2.8-2.2-2.8-2-2.8 2.3z"/><path color="#0089a5" d="M565.2 128.4l2.8-2.2-2.8-2.2-2.8 2.3z"/><path color="#008aa6" d="M570.8 128.5l2.8-2.1-2.8-2.4-2.8 2.2z"/><path color="#0086a7" d="M576.4 128.9l2.8-2-2.8-2.6-2.8 2.1z"/><path color="#007fa8" d="M582 129.5l2.8-1.8-2.8-2.6-2.8 1.9z"/><path color="#0075a9" d="M587.6 130.2l2.8-1.7-2.8-2.6-2.8 1.8z"/><path color="#006aa9" d="M593.2 131l2.8-1.6-2.8-2.6-2.8 1.7z"/><path color="#005ea9" d="M598.7 131.8l2.8-1.6-2.8-2.5-2.8 1.6z"/><path color="#0052a9" d="M604.3 132.5l2.8-1.5-2.8-2.4-2.8 1.5z"/><path color="#0047a8" d="M609.9 133.2l2.8-1.4-2.8-2.2-2.8 1.5z"/><path color="#003da7" d="M615.5 133.7l2.8-1.4-2.8-2-2.8 1.4z"/><path color="#0034a5" d="M621.1 134.2l2.8-1.4-2.8-1.9-2.8 1.4z"/><path color="#002da2" d="M626.7 134.6l2.8-1.3-2.8-1.7-2.8 1.4z"/><path color="#0027a0" d="M632.2 134.8l2.8-1.3-2.8-1.6-2.8 1.3z"/><path color="#0053a0" d="M540 132.3l2.8-2.1-2.8-1.2-2.8 2.1z"/><path color="#0060a2" d="M545.6 131.6l2.8-2.1-2.8-1.4-2.8 2.2z"/><path color="#006ca4" d="M551.2 131.1l2.8-2.2-2.8-1.6-2.8 2.2z"/><path color="#0075a5" d="M556.8 130.7l2.8-2.2-2.8-1.9-2.8 2.3z"/><path color="#007ba6" d="M562.4 130.5l2.8-2.1-2.8-2.1-2.8 2.2z"/><path color="#007ca7" d="M568 130.6l2.8-2-2.8-2.3-2.8 2.2z"/><path color="#007aa8" d="M573.6 130.8l2.8-1.9-2.8-2.4-2.8 2.1z"/><path color="#0074a9" d="M579.2 131.3l2.8-1.8-2.8-2.5-2.8 2z"/><path color="#006caa" d="M584.8 131.9l2.8-1.7-2.8-2.6-2.8 1.8z"/><path color="#0062aa" d="M590.4 132.6l2.8-1.6-2.8-2.5-2.8 1.7z"/><path color="#0058aa" d="M596 133.3l2.8-1.6-2.8-2.4-2.8 1.6z"/><path color="#004da9" d="M601.5 134l2.8-1.5-2.8-2.3-2.8 1.6z"/><path color="#0043a8" d="M607.1 134.6l2.8-1.4-2.8-2.2-2.8 1.5z"/><path color="#003aa7" d="M612.7 135.1l2.8-1.4-2.8-2-2.8 1.4z"/><path color="#0032a5" d="M618.3 135.6l2.8-1.4-2.8-1.8-2.8 1.4z"/><path color="#002ba2" d="M623.9 135.9l2.8-1.3-2.8-1.7-2.8 1.4z"/><path color="#0026a0" d="M629.4 136.1l2.8-1.3-2.8-1.6-2.8 1.3z"/><path color="#0053a2" d="M542.8 133.7l2.8-2-2.8-1.4-2.8 2.1z"/><path color="#005ea4" d="M548.4 133.1l2.8-2.1-2.8-1.6-2.8 2.1z"/><path color="#0067a6" d="M554 132.8l2.8-2.1-2.8-1.8-2.8 2.2z"/><path color="#006da7" d="M559.6 132.6l2.8-2.1-2.8-2-2.8 2.2z"/><path color="#006fa8" d="M565.2 132.6l2.8-2-2.8-2.2-2.8 2.1z"/><path color="#006ea9" d="M570.8 132.8l2.8-1.9-2.8-2.3-2.8 2z"/><path color="#006aaa" d="M576.4 133.2l2.8-1.8-2.8-2.4-2.8 1.9z"/><path color="#0063aa" d="M582 133.7l2.8-1.7-2.8-2.4-2.8 1.8z"/><path color="#005baa" d="M587.6 134.3l2.8-1.6-2.8-2.4-2.8 1.7z"/><path color="#0052aa" d="M593.2 134.9l2.8-1.6-2.8-2.3-2.8 1.6z"/><path color="#0048a9" d="M598.7 135.5l2.8-1.5-2.8-2.2-2.8 1.6z"/><path color="#003fa8" d="M604.3 136l2.8-1.4-2.8-2.1-2.8 1.5z"/><path color="#0037a6" d="M609.9 136.5l2.8-1.4-2.8-2-2.8 1.4z"/><path color="#0030a4" d="M615.5 136.9l2.8-1.4-2.8-1.8-2.8 1.4z"/><path color="#0029a2" d="M621.1 137.2l2.8-1.3-2.8-1.7-2.8 1.4z"/><path color="#00249f" d="M626.6 137.4l2.8-1.3-2.8-1.6-2.8 1.3z"/><path color="#0051a4" d="M545.6 135.1l2.8-2-2.8-1.5-2.8 2z"/><path color="#0059a6" d="M551.2 134.8l2.8-2-2.8-1.7-2.8 2.1z"/><path color="#005fa8" d="M556.8 134.6l2.8-2-2.8-1.9-2.8 2.1z"/><path color="#0063a9" d="M562.4 134.5l2.8-2-2.8-2.1-2.8 2.1z"/><path color="#0063aa" d="M568 134.7l2.8-1.9-2.8-2.2-2.8 2z"/><path color="#0060aa" d="M573.6 135l2.8-1.8-2.8-2.3-2.8 1.9z"/><path color="#005aab" d="M579.2 135.4l2.8-1.7-2.8-2.3-2.8 1.8z"/><path color="#0054ab" d="M584.8 135.9l2.8-1.6-2.8-2.3-2.8 1.7z"/><path color="#004caa" d="M590.4 136.4l2.8-1.6-2.8-2.3-2.8 1.6z"/><path color="#0043a9" d="M595.9 137l2.8-1.5-2.8-2.2-2.8 1.6z"/><path color="#003ba8" d="M601.5 137.5l2.8-1.4-2.8-2-2.8 1.5z"/><path color="#0034a6" d="M607.1 137.9l2.8-1.4-2.8-1.9-2.8 1.4z"/><path color="#002da4" d="M612.7 138.3l2.8-1.4-2.8-1.8-2.8 1.4z"/><path color="#0027a2" d="M618.3 138.5l2.8-1.3-2.8-1.7-2.8 1.4z"/><path color="#00239f" d="M623.8 138.7l2.8-1.3-2.8-1.5-2.8 1.3z"/><path color="#004da6" d="M548.4 136.7l2.8-1.9-2.8-1.6-2.8 2z"/><path color="#0053a8" d="M554 136.5l2.8-1.9-2.8-1.8-2.8 2z"/><path color="#0057a9" d="M559.6 136.4l2.8-1.9-2.8-2-2.8 2z"/><path color="#0058aa" d="M565.2 136.5l2.8-1.9-2.8-2.1-2.8 2z"/><path color="#0056aa" d="M570.8 136.7l2.8-1.8-2.8-2.2-2.8 1.9z"/><path color="#0052ab" d="M576.4 137.1l2.8-1.7-2.8-2.2-2.8 1.8z"/><path color="#004cab" d="M582 137.5l2.8-1.6-2.8-2.2-2.8 1.7z"/><path color="#0046aa" d="M587.6 138l2.8-1.5-2.8-2.2-2.8 1.6z"/><path color="#003ea9" d="M593.1 138.5l2.8-1.5-2.8-2.1-2.8 1.6z"/><path color="#0037a8" d="M598.7 138.9l2.8-1.4-2.8-2-2.8 1.5z"/><path color="#0031a6" d="M604.3 139.3l2.8-1.4-2.8-1.9-2.8 1.4z"/><path color="#002ba4" d="M609.9 139.6l2.8-1.3-2.8-1.7-2.8 1.4z"/><path color="#0026a1" d="M615.5 139.9l2.8-1.3-2.8-1.6-2.8 1.4z"/><path color="#00219f" d="M621.1 140l2.8-1.3-2.8-1.5-2.8 1.3z"/><path color="#0048a7" d="M551.2 138.3l2.8-1.9-2.8-1.7-2.8 1.9z"/><path color="#004ca9" d="M556.8 138.3l2.8-1.8-2.8-1.9-2.8 1.9z"/><path color="#004daa" d="M562.4 138.3l2.8-1.8-2.8-2-2.8 1.9z"/><path color="#004daa" d="M568 138.5l2.8-1.7-2.8-2.1-2.8 1.9z"/><path color="#004aaa" d="M573.6 138.8l2.8-1.7-2.8-2.1-2.8 1.8z"/><path color="#0045aa" d="M579.2 139.1l2.8-1.6-2.8-2.1-2.8 1.7z"/><path color="#0040aa" d="M584.8 139.5l2.8-1.5-2.8-2.1-2.8 1.6z"/><path color="#003aa9" d="M590.4 139.9l2.8-1.5-2.8-2-2.8 1.5z"/><path color="#0034a7" d="M595.9 140.3l2.8-1.4-2.8-1.9-2.8 1.5z"/><path color="#002ea5" d="M601.5 140.7l2.8-1.4-2.8-1.8-2.8 1.4z"/><path color="#0028a3" d="M607.1 140.9l2.8-1.3-2.8-1.7-2.8 1.4z"/><path color="#0024a1" d="M612.7 141.2l2.8-1.3-2.8-1.6-2.8 1.3z"/><path color="#00209e" d="M618.3 141.3l2.8-1.3-2.8-1.5-2.8 1.3z"/><path color="#0042a8" d="M554 140l2.8-1.8-2.8-1.8-2.8 1.9z"/><path color="#0044a9" d="M559.6 140.1l2.8-1.7-2.8-1.9-2.8 1.8z"/><path color="#0044aa" d="M565.2 140.2l2.8-1.7-2.8-2-2.8 1.8z"/><path color="#0042aa" d="M570.8 140.4l2.8-1.6-2.8-2-2.8 1.7z"/><path color="#003faa" d="M576.4 140.7l2.8-1.6-2.8-2-2.8 1.7z"/><path color="#003aa9" d="M582 141l2.8-1.5-2.8-2-2.8 1.6z"/><path color="#0035a8" d="M587.6 141.4l2.8-1.5-2.8-1.9-2.8 1.5z"/><path color="#0030a7" d="M593.1 141.7l2.8-1.4-2.8-1.9-2.8 1.5z"/><path color="#002ba5" d="M598.7 142l2.8-1.4-2.8-1.8-2.8 1.4z"/><path color="#0026a2" d="M604.3 142.3l2.8-1.3-2.8-1.7-2.8 1.4z"/><path color="#0022a0" d="M609.9 142.5l2.8-1.3-2.8-1.6-2.8 1.3z"/><path color="#001f9e" d="M615.5 142.6l2.8-1.3-2.8-1.5-2.8 1.3z"/><path color="#003ca8" d="M556.8 141.7l2.8-1.7-2.8-1.8-2.8 1.8z"/><path color="#003ca9" d="M562.4 141.8l2.8-1.6-2.8-1.9-2.8 1.7z"/><path color="#003ba9" d="M568 142l2.8-1.6-2.8-1.9-2.8 1.7z"/><path color="#0038a9" d="M573.6 142.3l2.8-1.6-2.8-1.9-2.8 1.6z"/><path color="#0035a8" d="M579.2 142.5l2.8-1.5-2.8-1.9-2.8 1.6z"/><path color="#0031a7" d="M584.8 142.8l2.8-1.4-2.8-1.9-2.8 1.5z"/><path color="#002ca6" d="M590.3 143.1l2.8-1.4-2.8-1.8-2.8 1.5z"/><path color="#0028a4" d="M595.9 143.4l2.8-1.4-2.8-1.7-2.8 1.4z"/><path color="#0024a2" d="M601.5 143.6l2.8-1.3-2.8-1.6-2.8 1.4z"/><path color="#00209f" d="M607.1 143.8l2.8-1.3-2.8-1.5-2.8 1.3z"/><path color="#001d9d" d="M612.7 143.9l2.8-1.3-2.8-1.4-2.8 1.3z"/><path color="#0035a8" d="M559.6 143.4l2.8-1.6-2.8-1.8-2.8 1.7z"/><path color="#0034a8" d="M565.2 143.6l2.8-1.6-2.8-1.8-2.8 1.6z"/><path color="#0033a8" d="M570.8 143.8l2.8-1.5-2.8-1.8-2.8 1.6z"/><path color="#0030a7" d="M576.4 144l2.8-1.5-2.8-1.8-2.8 1.6z"/><path color="#002da6" d="M582 144.3l2.8-1.4-2.8-1.8-2.8 1.5z"/><path color="#0029a5" d="M587.6 144.5l2.8-1.4-2.8-1.7-2.8 1.4z"/><path color="#0025a3" d="M593.1 144.7l2.8-1.3-2.8-1.7-2.8 1.4z"/><path color="#0022a1" d="M598.7 144.9l2.8-1.3-2.8-1.6-2.8 1.4z"/><path color="#001f9f" d="M604.3 145.1l2.8-1.3-2.8-1.5-2.8 1.3z"/><path color="#001c9d" d="M609.9 145.2l2.8-1.3-2.8-1.4-2.8 1.3z"/><path color="#002fa7" d="M562.4 145.1l2.8-1.5-2.8-1.7-2.8 1.6z"/><path color="#002da6" d="M568 145.3l2.8-1.5-2.8-1.8-2.8 1.6z"/><path color="#002ba6" d="M573.6 145.5l2.8-1.4-2.8-1.8-2.8 1.5z"/><path color="#0029a5" d="M579.2 145.7l2.8-1.4-2.8-1.7-2.8 1.5z"/><path color="#0026a4" d="M584.8 145.9l2.8-1.4-2.8-1.7-2.8 1.4z"/><path color="#0023a2" d="M590.3 146.1l2.8-1.3-2.8-1.6-2.8 1.4z"/><path color="#0020a0" d="M595.9 146.2l2.8-1.3-2.8-1.5-2.8 1.3z"/><path color="#001d9e" d="M601.5 146.4l2.8-1.3-2.8-1.5-2.8 1.3z"/><path color="#001b9c" d="M607.1 146.5l2.8-1.3-2.8-1.4-2.8 1.3z"/><path color="#0029a5" d="M565.2 146.7l2.8-1.4-2.8-1.7-2.8 1.5z"/><path color="#0027a5" d="M570.8 146.9l2.8-1.4-2.8-1.7-2.8 1.5z"/><path color="#0025a4" d="M576.4 147.1l2.8-1.4-2.8-1.7-2.8 1.4z"/><path color="#0023a2" d="M582 147.2l2.8-1.4-2.8-1.6-2.8 1.4z"/><path color="#0020a1" d="M587.6 147.4l2.8-1.3-2.8-1.6-2.8 1.4z"/><path color="#001e9f" d="M593.1 147.5l2.8-1.3-2.8-1.5-2.8 1.3z"/><path color="#001c9d" d="M598.7 147.7l2.8-1.3-2.8-1.4-2.8 1.3z"/><path color="#001a9b" d="M604.3 147.7l2.8-1.3-2.8-1.4-2.8 1.3z"/><path color="#0024a3" d="M568 148.3l2.8-1.4-2.8-1.6-2.8 1.4z"/><path color="#0022a2" d="M573.6 148.4l2.8-1.4-2.8-1.6-2.8 1.4z"/><path color="#0020a1" d="M579.2 148.6l2.8-1.3-2.8-1.6-2.8 1.4z"/><path color="#001ea0" d="M584.8 148.7l2.8-1.3-2.8-1.5-2.8 1.4z"/><path color="#001c9e" d="M590.3 148.8l2.8-1.3-2.8-1.5-2.8 1.3z"/><path color="#001a9c" d="M595.9 148.9l2.8-1.3-2.8-1.4-2.8 1.3z"/><path color="#00199b" d="M601.5 149l2.8-1.3-2.8-1.4-2.8 1.3z"/><path color="#001fa1" d="M570.8 149.7l2.8-1.3-2.8-1.5-2.8 1.4z"/><path color="#001ea0" d="M576.4 149.9l2.8-1.3-2.8-1.5-2.8 1.4z"/><path color="#001c9e" d="M582 150l2.8-1.3-2.8-1.5-2.8 1.3z"/><path color="#001b9d" d="M587.5 150.1l2.8-1.3-2.8-1.4-2.8 1.3z"/><path color="#00199c" d="M593.1 150.2l2.8-1.3-2.8-1.4-2.8 1.3z"/><path color="#00189a" d="M598.7 150.3l2.8-1.3-2.8-1.3-2.8 1.3z"/><path color="#001c9e" d="M573.6 151.2l2.8-1.3-2.8-1.5-2.8 1.3z"/><path color="#001b9d" d="M579.2 151.3l2.8-1.3-2.8-1.4-2.8 1.3z"/><path color="#00199c" d="M584.8 151.4l2.8-1.3-2.8-1.4-2.8 1.3z"/><path color="#00189b" d="M590.3 151.5l2.8-1.3-2.8-1.4-2.8 1.3z"/><path color="#001899" d="M595.9 151.5l2.8-1.3-2.8-1.3-2.8 1.3z"/><path color="#00199c" d="M576.4 152.6l2.8-1.3-2.8-1.4-2.8 1.3z"/><path color="#00189b" d="M582 152.6l2.8-1.3-2.8-1.4-2.8 1.3z"/><path color="#00189a" d="M587.5 152.7l2.8-1.3-2.8-1.3-2.8 1.3z"/><path color="#001898" d="M593.1 152.8l2.8-1.2-2.8-1.3-2.8 1.3z"/><path color="#00189a" d="M579.2 153.9l2.8-1.2-2.8-1.4-2.8 1.3z"/><path color="#001899" d="M584.8 154l2.8-1.2-2.8-1.3-2.8 1.3z"/><path color="#001898" d="M590.3 154l2.8-1.2-2.8-1.3-2.8 1.3z"/><path color="#001898" d="M582 155.2l2.8-1.2-2.8-1.3-2.8 1.2z"/><path color="#001897" d="M587.5 155.2l2.8-1.2-2.8-1.3-2.8 1.2z"/><path color="#001897" d="M584.8 156.5l2.8-1.2-2.8-1.3-2.8 1.2z"/></g><path d="M501.5 119.8 502.5 119.4 503.5 119.0 504.5 118.6 505.5 118.2 506.5 118.0 507.5 117.6 508.5 117.1 509.5 116.7 510.5 116.3 511.5 115.9 512.5 115.4 513.5 115.0 514.5 114.7 515.5 114.2 516.5 113.8 517.5 113.3 518.5 112.8 519.5 112.3 520.5 111.9 521.5 111.4 522.5 110.9 523.5 110.5 524.5 110.0 525.5 109.5 526.5 109.0 527.5 108.5 528.5 107.9 529.5 107.4 530.5 106.8 531.5 106.3 532.5 105.9 533.5 105.4 534.5 104.8 535.5 104.2 536.5 103.6 537.5 103.0 538.5 102.5 539.5 101.9 540.5 101.3 541.5 100.9 542.5 100.3 543.5 99.6 544.5 99.0 545.5 98.4 546.5 97.8 547.5 97.2 548.5 96.5 549.5 95.9 550.5 95.5 551.5 94.8 552.5 94.2 553.5 93.5 554.5 92.9 555.5 92.2 556.5 91.6 557.5 90.9 558.5 90.4 559.5 89.8 560.5 89.1 561.5 88.4 562.5 87.7 563.5 87.0 564.5 86.4 565.5 85.9 566.5 85.2 567.5 84.5 568.5 83.8 569.5 83.0 570.5 82.3 571.5 81.6 572.5 80.8 573.5 80.3 574.5 79.6 575.5 78.8 576.5 78.0 577.5 77.2 578.5 76.4 579.5 75.6 580.5 75.0 581.5 74.2 582.5 73.3 583.5 72.5 584.5 71.7 585.5 71.4 586.5 71.2 587.5 70.8 588.5 70.5 589.5 70.2 590.5 69.9 591.5 69.7 592.5 69.4 593.5 69.2 594.5 69.0 595.5 68.8 596.5 68.6 597.5 68.5 598.5 68.3 599.5 68.3 600.5 68.2 601.5 68.2 602.5 68.2 603.5 68.2 604.5 68.2 605.5 68.3 606.5 68.5 607.5 68.6 608.5 68.8 609.5 69.0 610.5 69.3 611.5 69.6 612.5 70.0 613.5 70.3 614.5 70.7 615.5 71.2 616.5 71.8 617.5 72.3 618.5 72.8 619.5 73.4 620.5 74.1 621.5 74.8 622.5 75.6 623.5 76.4 624.5 76.9 625.5 77.8 626.5 78.7 627.5 79.6 628.5 80.6 629.5 81.5 630.5 82.5 631.5 83.2 632.5 84.2 633.5 85.3 634.5 86.3 635.5 87.4 636.5 88.5 637.5 89.6 638.5 90.6 639.5 91.7 640.5 92.5 641.5 93.6 642.5 94.6 643.5 95.7 644.5 96.8 645.5 97.9 646.5 98.9 647.5 100.0 648.5 101.0 649.5 102.0 650.5 102.7 651.5 103.6 652.5 104.6 653.5 105.6 654.5 106.5 655.5 107.4 656.5 108.3 657.5 109.1 658.5 110.0 659.5 110.8 660.5 111.3 661.5 112.1 662.5 112.9 663.5 113.6 664.5 114.4 665.5 115.1 666.5 115.7 667.5 116.4 668.5 117.0" fill="none" stroke="#111" stroke-width="0.70" stroke-linejoin="round" stroke-linecap="round" opacity=".85"/><text x="498.1" y="121.5" font-size="8.00" text-anchor="end">0</text><path d="M501.1 120.5h-1.6" stroke="#222" stroke-width=".6"/><text x="495.9" y="100.7" font-size="8.00" text-anchor="end">1x10<tspan font-size="4.60" dy="-3.20">7</tspan></text><path d="M500.1 99.4h-1.6" stroke="#222" stroke-width=".6"/><text x="494.9" y="79.6" font-size="8.00" text-anchor="end">2x10<tspan font-size="4.60" dy="-3.20">7</tspan></text><path d="M499.1 78.3h-1.6" stroke="#222" stroke-width=".6"/><text x="493.9" y="58.5" font-size="8.00" text-anchor="end">3x10<tspan font-size="4.60" dy="-3.20">7</tspan></text><path d="M498.1 57.2h-1.6" stroke="#222" stroke-width=".6"/><text x="492.9" y="37.4" font-size="8.00" text-anchor="end">4x10<tspan font-size="4.60" dy="-3.20">7</tspan></text><path d="M497.1 36.1h-1.6" stroke="#222" stroke-width=".6"/><text x="587.5" y="194.4" font-size="7.90">25</text><text x="603.2" y="186.6" font-size="7.90">40</text><text x="619.7" y="178.7" font-size="7.90">55</text><text x="636.2" y="170.9" font-size="7.90">70</text><text x="652.7" y="163.0" font-size="7.90">85</text><text x="669.2" y="155.2" font-size="7.90">100</text><text x="581.9" y="194.6" font-size="7.90" text-anchor="end">1</text><text x="570.5" y="189.0" font-size="7.90" text-anchor="end">3</text><text x="558.7" y="183.4" font-size="7.90" text-anchor="end">5</text><text x="547.0" y="177.8" font-size="7.90" text-anchor="end">7</text><text x="535.2" y="172.1" font-size="7.90" text-anchor="end">9</text><text x="523.5" y="166.5" font-size="7.90" text-anchor="end">11</text><text x="511.7" y="160.9" font-size="7.90" text-anchor="end">13</text><text x="500.0" y="155.3" font-size="7.90" text-anchor="end">15</text><path class="g" d="M43.5 434.2L38.5 321.6M59.5 400.4L56.5 317.6M76.5 394.9L74.5 313.7M93.5 389.5L91.5 309.9M109.5 384.2L108.5 306.1M125.5 379L125.5 302.4M42.4 406L125.8 379M41.3 384.9L125.8 359.8M40.3 363.8L125.7 340.7M39.3 342.7L125.7 321.5M38.3 321.6L125.6 302.4M208.5 434.3L213.5 321.8M188.5 399.4L191.5 316.9M167.5 392.6L169.5 312.1M146.5 385.8L147.5 307.2M125.5 379L125.5 302.4M209.7 406.2L125.8 379M210.6 385.1L125.8 359.8M211.6 364L125.7 340.7M212.5 342.9L125.7 321.5M213.5 321.8L125.6 302.4"/><path class="fl" d="M125.9 473.5L208.4 434.3L125.9 404.5L43.7 434.2Z"/><path d="M164.3 455.3 162.4 455.6 161.4 455.8 160.0 456.0 158.3 456.3 157.2 456.5 156.1 456.6 154.3 456.9 152.8 457.1 151.7 457.2 150.5 457.3 149.1 457.4 147.5 457.6 145.9 457.7 144.6 457.8 143.4 457.9 142.1 458.0 140.8 458.0 139.6 458.1 138.3 458.1 136.9 458.2 135.5 458.2 134.1 458.2 132.7 458.2 131.4 458.2 130.0 458.2 128.7 458.2 127.2 458.1 125.8 458.1 124.3 458.0 122.8 458.0 121.2 457.9 119.9 457.8 118.6 457.7 117.4 457.7 116.3 457.6 114.8 457.4 113.2 457.3 111.6 457.1 110.4 457.0 109.3 456.9 108.0 456.8 106.2 456.5 104.9 456.4 103.8 456.2 102.5 456.1 100.6 455.8 99.5 455.6 98.4 455.5 96.7 455.2 95.3 454.9 94.3 454.8 92.5 454.5 91.2 454.2 90.2 454.0 88.2 453.6 87.3 453.4 85.9 453.2 84.3 452.8 83.4 452.6 81.4 452.2 81.2 452.1" fill="none" stroke="#5ee860" stroke-width=".7"/><path d="M204.5 432.9 204.2 433.4 203.8 434.2 203.4 434.8 203.1 435.3 202.7 435.8 202.1 436.6 201.8 437.1 201.3 437.7" fill="none" stroke="#5ee860" stroke-width=".7"/><path d="M179.0 423.7 179.2 424.3 179.3 424.9 179.4 425.5 179.5 426.1 179.6 426.6 179.6 427.2 179.6 427.7 179.6 428.3 179.5 428.8 179.4 429.4 179.3 429.9 179.2 430.4 179.0 430.9 178.9 431.4 178.6 432.1 178.2 432.8 177.9 433.3 177.6 433.8 177.2 434.4 176.6 435.1 176.3 435.6 175.6 436.3 175.0 436.8 174.3 437.4 173.7 438.0 172.6 438.8 172.1 439.1 171.0 439.9 169.8 440.6 168.7 441.2 167.9 441.6 166.6 442.2 165.1 442.8 164.4 443.1 162.9 443.7 161.3 444.2 159.7 444.8 158.8 445.0 157.1 445.5 156.1 445.7 154.4 446.1 153.4 446.3 151.5 446.7 150.5 446.9 149.0 447.1 147.4 447.4 146.3 447.5 145.2 447.7 143.4 447.9 141.8 448.0 140.6 448.1 139.4 448.2 138.2 448.3 136.9 448.4 135.5 448.4 134.0 448.5 132.6 448.5 131.2 448.5 129.8 448.5 128.5 448.5 127.2 448.5 125.9 448.4 124.6 448.4 123.0 448.3 121.4 448.2 119.8 448.1 118.6 448.0 117.4 447.9 116.3 447.8 114.7 447.6 112.9 447.4 111.9 447.3 110.8 447.1 109.1 446.9 107.6 446.7 106.6 446.5 105.0 446.3 103.6 446.0 102.6 445.8 100.6 445.4 99.6 445.3 98.1 444.9 96.8 444.6 95.5 444.3 94.0 444.0 92.8 443.7 91.3 443.3 89.7 442.9 88.7 442.6 87.0 442.1 86.1 441.9 84.5 441.4 82.8 440.9 82.0 440.6 80.4 440.1 78.8 439.5 77.9 439.2 76.4 438.7 74.9 438.1 73.3 437.6 71.8 437.0 71.1 436.7 69.6 436.1 68.2 435.5 66.7 434.9 65.3 434.3 63.9 433.7 62.5 433.0 61.1 432.4 59.8 431.8 58.4 431.1 57.0 430.5 55.7 429.9" fill="none" stroke="#78e030" stroke-width=".7"/><path d="M120.2 406.6 120.4 407.0 121.0 407.7 121.5 408.1 122.1 408.6 122.9 409.1 123.9 409.8 124.5 410.1 125.6 410.7 126.8 411.2 128.1 411.8 128.7 412.1 129.9 412.7 131.1 413.2 132.4 413.8 133.6 414.4 134.8 414.9 135.5 415.2 136.7 415.8 137.8 416.4 139.0 417.0 139.6 417.3 140.7 417.9 141.8 418.5 142.3 418.9 143.3 419.5 143.9 419.9 144.8 420.5 145.5 421.0 146.2 421.6 146.6 422.0 147.4 422.7 147.8 423.1 148.3 423.7 148.8 424.3 149.1 424.8 149.4 425.2 149.7 425.9 150.0 426.6 150.1 427.1 150.2 427.6 150.3 428.1 150.2 428.7 150.1 429.3 150.0 429.9 149.8 430.4 149.5 430.8 149.1 431.4 148.5 432.1 148.1 432.5 147.1 433.3 146.6 433.6 145.4 434.3 144.1 434.9 142.6 435.5 141.1 436.0 140.2 436.2 138.4 436.6 137.5 436.8 135.8 437.1 134.4 437.3 133.3 437.4 132.1 437.5 130.5 437.6 129.0 437.6 127.6 437.7 126.3 437.7 125.0 437.6 123.7 437.6 122.5 437.5 120.9 437.4 119.1 437.2 118.0 437.1 117.0 436.9 115.1 436.6 114.0 436.4 112.7 436.2 111.2 435.9 110.0 435.6 108.5 435.2 106.8 434.7 106.0 434.5 104.4 434.0 102.9 433.5 101.4 432.9 100.0 432.4 98.6 431.8 97.3 431.1 96.0 430.5 94.8 429.8 93.7 429.2 93.1 428.8 92.1 428.1 91.3 427.5 90.6 427.0 89.7 426.3 89.2 425.9 88.5 425.3 88.0 424.7 87.6 424.3 86.8 423.5 86.5 423.1 86.1 422.6 85.6 421.8 85.2 421.3 85.0 420.9 84.6 420.3 84.2 419.6 84.2 419.6" fill="none" stroke="#f8cc50" stroke-width=".7"/><path d="M142.4 465.7l.9 .6M158.9 457.8l.9 .6M175.4 450.0l.9 .6M191.9 442.1l.9 .6M105.3 463.7l-.9 .6M84.8 453.9l-.9 .6M64.2 444.0l-.9 .6" stroke="#111" stroke-width="1"/><g class="s"><path color="#735b00" d="M125.7 324.3l2.9 .2-2.9-1.5-2.9-0z"/><path color="#735500" d="M122.8 324.2l2.9 .1-2.9-1.3-2.9 0z"/><path color="#735f00" d="M128.6 325.6l2.9 .3-2.9-1.4-2.9-.2z"/><path color="#735000" d="M119.9 324.1l2.9 .1-2.9-1.2-2.9 .1z"/><path color="#735900" d="M125.7 325.3l2.9 .3-2.9-1.2-2.9-.1z"/><path color="#736300" d="M131.5 326.8l2.9 .5-2.9-1.3-2.9-.3z"/><path color="#734b00" d="M117 324.1l2.9 0-2.9-1-2.9 .1z"/><path color="#735300" d="M122.8 325.1l2.9 .2-2.9-1.1-2.9-.1z"/><path color="#735c00" d="M128.6 326.3l2.9 .4-2.9-1.2-2.9-.3z"/><path color="#736700" d="M134.4 327.9l2.9 .6-2.9-1.3-2.9-.5z"/><path color="#734700" d="M114.1 324.1l2.9-0-2.9-.9-2.9 .2z"/><path color="#734d00" d="M119.9 324.9l2.9 .2-2.9-1-2.9-0z"/><path color="#735400" d="M125.7 326l2.9 .4-2.9-1.1-2.9-.2z"/><path color="#735e00" d="M131.5 327.4l2.9 .6-2.9-1.2-2.9-.4z"/><path color="#736b00" d="M137.2 329.1l2.9 .7-2.9-1.3-2.9-.6z"/><path color="#734300" d="M111.3 324.2l2.9-.1-2.9-.8-2.9 .3z"/><path color="#734700" d="M117 324.8l2.9 .1-2.9-.8-2.9 0z"/><path color="#734e00" d="M122.8 325.7l2.9 .3-2.9-.9-2.9-.2z"/><path color="#735600" d="M128.6 326.9l2.9 .5-2.9-1-2.9-.4z"/><path color="#736100" d="M134.4 328.4l2.9 .7-2.9-1.2-2.9-.6z"/><path color="#736e00" d="M140.1 330.2l2.9 .9-2.9-1.3-2.9-.7z"/><path color="#734000" d="M108.4 324.5l2.9-.2-2.9-.6-2.9 .3z"/><path color="#734300" d="M114.2 324.8l2.9-0-2.9-.7-2.9 .1z"/><path color="#734700" d="M119.9 325.5l2.9 .2-2.9-.8-2.9-.1z"/><path color="#734e00" d="M125.7 326.5l2.9 .4-2.9-.9-2.9-.3z"/><path color="#735800" d="M131.5 327.8l2.9 .6-2.9-1-2.9-.5z"/><path color="#736300" d="M137.3 329.4l2.9 .8-2.9-1.2-2.9-.7z"/><path color="#737100" d="M143 331.4l2.9 1-2.9-1.3-2.9-.9z"/><path color="#733e00" d="M105.5 324.8l2.9-.4-2.9-.5-2.9 .5z"/><path color="#733f00" d="M111.3 325l2.9-.1-2.9-.6-2.9 .2z"/><path color="#734200" d="M117.1 325.4l2.9 .1-2.9-.7-2.9 0z"/><path color="#734700" d="M122.8 326.1l2.9 .3-2.9-.8-2.9-.2z"/><path color="#734f00" d="M128.6 327.2l2.9 .5-2.9-.9-2.9-.4z"/><path color="#735900" d="M134.4 328.7l2.9 .7-2.9-1-2.9-.6z"/><path color="#736600" d="M140.2 330.5l2.9 .9-2.9-1.2-2.9-.8z"/><path color="#707300" d="M145.9 332.7l2.9 1.1-2.9-1.3-2.9-1z"/><path color="#733c00" d="M102.6 325.3l2.9-.5-2.9-.4-2.9 .6z"/><path color="#733b00" d="M108.4 325.2l2.9-.3-2.9-.5-2.9 .4z"/><path color="#733d00" d="M114.2 325.4l2.9-0-2.9-.6-2.9 .1z"/><path color="#734100" d="M120 325.9l2.9 .2-2.9-.7-2.9-.1z"/><path color="#734700" d="M125.7 326.8l2.9 .4-2.9-.8-2.9-.3z"/><path color="#735000" d="M131.5 328l2.9 .7-2.9-.9-2.9-.5z"/><path color="#735b00" d="M137.3 329.6l2.9 .9-2.9-1.1-2.9-.7z"/><path color="#736900" d="M143 331.6l2.9 1-2.9-1.2-2.9-.9z"/><path color="#6c7300" d="M148.8 333.9l2.8 1.2-2.9-1.4-2.9-1.1z"/><path color="#733b00" d="M99.7 326l2.9-.7-2.9-.3-2.9 .7z"/><path color="#733900" d="M105.5 325.6l2.9-.4-2.9-.4-2.9 .5z"/><path color="#733900" d="M111.3 325.6l2.9-.2-2.9-.5-2.9 .3z"/><path color="#733b00" d="M117.1 325.9l2.9 .1-2.9-.5-2.9 0z"/><path color="#734000" d="M122.9 326.5l2.9 .3-2.9-.7-2.9-.2z"/><path color="#734700" d="M128.6 327.5l2.9 .5-2.9-.8-2.9-.4z"/><path color="#735100" d="M134.4 328.9l2.9 .8-2.9-1-2.9-.7z"/><path color="#735d00" d="M140.2 330.7l2.9 1-2.9-1.1-2.9-.9z"/><path color="#736c00" d="M145.9 332.8l2.9 1.1-2.9-1.3-2.9-1z"/><path color="#687300" d="M151.7 335.3l2.8 1.3-2.9-1.5-2.8-1.2z"/><path color="#733c00" d="M96.8 326.8l2.9-.8-2.9-.3-2.9 .9z"/><path color="#733800" d="M102.6 326.2l2.9-.6-2.9-.3-2.9 .7z"/><path color="#733600" d="M108.4 325.9l2.9-.3-2.9-.4-2.9 .4z"/><path color="#733700" d="M114.2 326l2.9-.1-2.9-.4-2.9 .2z"/><path color="#733a00" d="M120 326.3l2.9 .2-2.9-.6-2.9-.1z"/><path color="#733f00" d="M125.8 327.1l2.9 .4-2.9-.7-2.9-.3z"/><path color="#734700" d="M131.5 328.2l2.9 .6-2.9-.8-2.9-.5z"/><path color="#735200" d="M137.3 329.8l2.9 .9-2.9-1-2.9-.8z"/><path color="#736000" d="M143.1 331.7l2.9 1.1-2.9-1.2-2.9-1z"/><path color="#737000" d="M148.8 334.1l2.8 1.2-2.9-1.4-2.9-1.1z"/><path color="#637300" d="M154.5 336.8l2.8 1.4-2.9-1.5-2.8-1.3z"/><path color="#733e00" d="M94 327.8l2.9-1-2.9-.2-2.9 1z"/><path color="#733800" d="M99.7 327l2.9-.8-2.9-.2-2.9 .8z"/><path color="#733500" d="M105.5 326.5l2.9-.5-2.9-.3-2.9 .6z"/><path color="#733300" d="M111.3 326.2l2.9-.3-2.9-.4-2.9 .3z"/><path color="#733400" d="M117.1 326.3l2.9-0-2.9-.5-2.9 .1z"/><path color="#733800" d="M122.9 326.8l2.9 .3-2.9-.6-2.9-.2z"/><path color="#733e00" d="M128.7 327.7l2.9 .5-2.9-.7-2.9-.4z"/><path color="#734800" d="M134.4 329l2.9 .7-2.9-.9-2.9-.6z"/><path color="#735400" d="M140.2 330.8l2.9 1-2.9-1.1-2.9-.9z"/><path color="#736300" d="M146 332.9l2.9 1.2-2.9-1.3-2.9-1.1z"/><path color="#717300" d="M151.7 335.5l2.8 1.3-2.9-1.5-2.8-1.2z"/><path color="#5d7300" d="M157.4 338.4l2.8 1.4-2.9-1.6-2.8-1.4z"/><path color="#734000" d="M91.1 329l2.9-1.2-2.9-.2-2.9 1.2z"/><path color="#733900" d="M96.8 328l2.9-1-2.9-.2-2.9 1z"/><path color="#733400" d="M102.6 327.2l2.9-.7-2.9-.2-2.9 .8z"/><path color="#733100" d="M108.4 326.7l2.9-.5-2.9-.3-2.9 .5z"/><path color="#733000" d="M114.2 326.5l2.9-.2-2.9-.4-2.9 .3z"/><path color="#733200" d="M120 326.8l2.9 .1-2.9-.5-2.9 0z"/><path color="#733700" d="M125.8 327.4l2.9 .3-2.9-.6-2.9-.3z"/><path color="#733e00" d="M131.6 328.4l2.9 .6-2.9-.8-2.9-.5z"/><path color="#734900" d="M137.3 329.9l2.9 .8-2.9-1-2.9-.7z"/><path color="#735600" d="M143.1 331.9l2.9 1-2.9-1.2-2.9-1z"/><path color="#736600" d="M148.8 334.2l2.9 1.2-2.9-1.4-2.9-1.2z"/><path color="#6c7300" d="M154.6 337l2.8 1.4-2.9-1.6-2.8-1.3z"/><path color="#577300" d="M160.3 340.1l2.8 1.5-2.9-1.8-2.8-1.4z"/><path color="#734500" d="M88.2 330.4l2.9-1.4-2.9-.1-2.9 1.4z"/><path color="#733c00" d="M94 329.1l2.9-1.2-2.9-.1-2.9 1.2z"/><path color="#733500" d="M99.7 328.1l2.9-.9-2.9-.2-2.9 1z"/><path color="#733000" d="M105.5 327.4l2.9-.7-2.9-.2-2.9 .7z"/><path color="#732e00" d="M111.3 326.9l2.9-.4-2.9-.3-2.9 .5z"/><path color="#732e00" d="M117.1 326.9l2.9-.1-2.9-.4-2.9 .2z"/><path color="#733100" d="M122.9 327.2l2.9 .1-2.9-.6-2.9-.1z"/><path color="#733600" d="M128.7 328l2.9 .4-2.9-.7-2.9-.3z"/><path color="#733f00" d="M134.5 329.3l2.9 .7-2.9-.9-2.9-.6z"/><path color="#734b00" d="M140.2 331l2.9 .9-2.9-1.1-2.9-.8z"/><path color="#735900" d="M146 333.1l2.9 1.1-2.9-1.3-2.9-1z"/><path color="#736b00" d="M151.7 335.7l2.8 1.3-2.9-1.5-2.9-1.2z"/><path color="#667300" d="M157.4 338.6l2.8 1.4-2.9-1.7-2.8-1.4z"/><path color="#4f7300" d="M163.1 341.9l2.8 1.5-2.9-1.9-2.8-1.5z"/><path color="#734a00" d="M85.4 332l2.9-1.6-2.9-.1-2.9 1.6z"/><path color="#734000" d="M91.1 330.5l2.9-1.4-2.9-.1-2.9 1.4z"/><path color="#733800" d="M96.9 329.3l2.9-1.2-2.9-.1-2.9 1.2z"/><path color="#733100" d="M102.6 328.3l2.9-.9-2.9-.2-2.9 .9z"/><path color="#732d00" d="M108.4 327.6l2.9-.6-2.9-.3-2.9 .7z"/><path color="#732b00" d="M114.2 327.2l2.9-.4-2.9-.4-2.9 .4z"/><path color="#732c00" d="M120 327.3l2.9-.1-2.9-.5-2.9 .1z"/><path color="#732f00" d="M125.8 327.8l2.9 .2-2.9-.6-2.9-.1z"/><path color="#733600" d="M131.6 328.8l2.9 .5-2.9-.8-2.9-.4z"/><path color="#734000" d="M137.4 330.2l2.9 .7-2.9-1-2.9-.7z"/><path color="#734d00" d="M143.1 332.1l2.9 1-2.9-1.2-2.9-.9z"/><path color="#735d00" d="M148.9 334.5l2.9 1.2-2.9-1.4-2.9-1.1z"/><path color="#737000" d="M154.6 337.3l2.8 1.4-2.9-1.6-2.8-1.3z"/><path color="#5f7300" d="M160.3 340.4l2.8 1.5-2.9-1.8-2.8-1.4z"/><path color="#477300" d="M166 343.9l2.8 1.6-2.8-2-2.8-1.5z"/><path color="#7b5700" d="M82.5 333.9l2.9-1.8-2.9-.1-2.8 1.8z"/><path color="#734500" d="M88.2 332.2l2.9-1.6-2.9-.1-2.9 1.6z"/><path color="#733b00" d="M94 330.7l2.9-1.4-2.9-.1-2.9 1.4z"/><path color="#733300" d="M99.7 329.4l2.9-1.1-2.9-.1-2.9 1.2z"/><path color="#732d00" d="M105.5 328.4l2.9-.9-2.9-.2-2.9 .9z"/><path color="#732900" d="M111.3 327.8l2.9-.6-2.9-.3-2.9 .6z"/><path color="#732800" d="M117.1 327.6l2.9-.3-2.9-.4-2.9 .4z"/><path color="#732a00" d="M122.9 327.8l2.9-0-2.9-.6-2.9 .1z"/><path color="#732f00" d="M128.7 328.5l2.9 .3-2.9-.8-2.9-.2z"/><path color="#733700" d="M134.5 329.7l2.9 .6-2.9-1-2.9-.5z"/><path color="#734200" d="M140.3 331.3l2.9 .8-2.9-1.2-2.9-.7z"/><path color="#735100" d="M146 333.5l2.9 1-2.9-1.4-2.9-1z"/><path color="#736200" d="M151.8 336l2.8 1.2-2.9-1.6-2.9-1.2z"/><path color="#6f7300" d="M157.5 339l2.8 1.4-2.9-1.8-2.8-1.4z"/><path color="#587300" d="M163.2 342.4l2.8 1.5-2.9-2-2.8-1.5z"/><path color="#3e7300" d="M168.8 346l2.8 1.6-2.8-2.1-2.8-1.6z"/><path color="#876900" d="M79.7 335.9l2.8-2-2.9-.2-2.8 2z"/><path color="#7c5200" d="M85.4 334l2.9-1.9-2.9-.1-2.9 1.8z"/><path color="#734100" d="M91.1 332.3l2.9-1.6-2.9-.1-2.9 1.6z"/><path color="#733700" d="M96.9 330.8l2.9-1.4-2.9-.1-2.9 1.4z"/><path color="#732f00" d="M102.6 329.6l2.9-1.1-2.9-.2-2.9 1.1z"/><path color="#732900" d="M108.4 328.7l2.9-.9-2.9-.3-2.9 .9z"/><path color="#732600" d="M114.2 328.2l2.9-.6-2.9-.4-2.9 .6z"/><path color="#732600" d="M120 328.1l2.9-.3-2.9-.5-2.9 .3z"/><path color="#732900" d="M125.8 328.5l2.9 0-2.9-.7-2.9 0z"/><path color="#732f00" d="M131.6 329.4l2.9 .3-2.9-.9-2.9-.3z"/><path color="#733800" d="M137.4 330.7l2.9 .6-2.9-1.1-2.9-.6z"/><path color="#734500" d="M143.1 332.6l2.9 .9-2.9-1.3-2.9-.8z"/><path color="#735500" d="M148.9 335l2.9 1.1-2.9-1.5-2.9-1z"/><path color="#736800" d="M154.6 337.8l2.8 1.3-2.9-1.8-2.8-1.2z"/><path color="#677300" d="M160.3 341l2.8 1.4-2.9-2-2.8-1.4z"/><path color="#4f7300" d="M166 344.5l2.8 1.5-2.8-2.1-2.8-1.5z"/><path color="#347300" d="M171.7 348.3l2.8 1.6-2.8-2.3-2.8-1.6z"/><path color="#917c00" d="M76.8 338.2l2.8-2.3-2.9-.2-2.8 2.2z"/><path color="#896400" d="M82.5 336.1l2.8-2.1-2.9-.2-2.8 2z"/><path color="#7e4e00" d="M88.3 334.2l2.9-1.9-2.9-.1-2.9 1.9z"/><path color="#733c00" d="M94 332.5l2.9-1.7-2.9-.1-2.9 1.6z"/><path color="#733200" d="M99.8 331l2.9-1.4-2.9-.2-2.9 1.4z"/><path color="#732b00" d="M105.5 329.8l2.9-1.1-2.9-.2-2.9 1.1z"/><path color="#732600" d="M111.3 329l2.9-.8-2.9-.4-2.9 .9z"/><path color="#732400" d="M117.1 328.6l2.9-.5-2.9-.5-2.9 .6z"/><path color="#732500" d="M122.9 328.7l2.9-.2-2.9-.6-2.9 .3z"/><path color="#732900" d="M128.7 329.3l2.9 .1-2.9-.8-2.9-0z"/><path color="#733000" d="M134.5 330.4l2.9 .4-2.9-1-2.9-.3z"/><path color="#733b00" d="M140.3 331.9l2.9 .6-2.9-1.3-2.9-.6z"/><path color="#734900" d="M146 334.1l2.9 .9-2.9-1.5-2.9-.9z"/><path color="#735b00" d="M151.8 336.6l2.9 1.1-2.9-1.7-2.9-1.1z"/><path color="#736f00" d="M157.5 339.7l2.8 1.3-2.9-1.9-2.8-1.3z"/><path color="#5f7300" d="M163.2 343.1l2.8 1.4-2.9-2.1-2.8-1.4z"/><path color="#457300" d="M168.9 346.8l2.8 1.5-2.8-2.3-2.8-1.5z"/><path color="#297300" d="M174.5 350.8l2.8 1.5-2.8-2.4-2.8-1.6z"/><path color="#9a9200" d="M74 340.6l2.8-2.5-2.9-.2-2.8 2.4z"/><path color="#937800" d="M79.7 338.4l2.8-2.3-2.9-.2-2.8 2.3z"/><path color="#8b6100" d="M85.4 336.3l2.8-2.1-2.9-.2-2.8 2.1z"/><path color="#814c00" d="M91.1 334.4l2.9-1.9-2.9-.2-2.9 1.9z"/><path color="#763900" d="M96.9 332.7l2.9-1.7-2.9-.2-2.9 1.7z"/><path color="#732f00" d="M102.7 331.2l2.9-1.4-2.9-.2-2.9 1.4z"/><path color="#732800" d="M108.4 330.2l2.9-1.1-2.9-.3-2.9 1.1z"/><path color="#732400" d="M114.2 329.5l2.9-.8-2.9-.5-2.9 .8z"/><path color="#732200" d="M120 329.2l2.9-.5-2.9-.6-2.9 .5z"/><path color="#732400" d="M125.8 329.5l2.9-.2-2.9-.8-2.9 .2z"/><path color="#732a00" d="M131.6 330.2l2.9 .1-2.9-1-2.9-.1z"/><path color="#733300" d="M137.4 331.5l2.9 .4-2.9-1.2-2.9-.4z"/><path color="#733f00" d="M143.2 333.4l2.9 .7-2.9-1.5-2.9-.6z"/><path color="#734f00" d="M148.9 335.7l2.9 .9-2.9-1.7-2.9-.9z"/><path color="#736200" d="M154.7 338.5l2.8 1.1-2.9-1.9-2.9-1.1z"/><path color="#6e7300" d="M160.4 341.8l2.8 1.3-2.9-2.1-2.8-1.3z"/><path color="#557300" d="M166.1 345.4l2.8 1.4-2.8-2.3-2.8-1.4z"/><path color="#3a7300" d="M171.7 349.3l2.8 1.5-2.8-2.5-2.8-1.5z"/><path color="#1d7300" d="M177.3 353.4l2.8 1.5-2.8-2.6-2.8-1.5z"/><path color="#99a100" d="M71.2 343.3l2.8-2.7-2.9-.3-2.8 2.6z"/><path color="#9c8e00" d="M76.9 341l2.8-2.5-2.9-.2-2.8 2.5z"/><path color="#967500" d="M82.6 338.7l2.8-2.4-2.9-.2-2.8 2.3z"/><path color="#8f5e00" d="M88.3 336.6l2.8-2.2-2.9-.2-2.8 2.1z"/><path color="#864a00" d="M94 334.6l2.9-2-2.9-.2-2.9 1.9z"/><path color="#7d3800" d="M99.8 333l2.9-1.7-2.9-.3-2.9 1.7z"/><path color="#732b00" d="M105.5 331.6l2.9-1.4-2.9-.3-2.9 1.4z"/><path color="#732500" d="M111.3 330.6l2.9-1.1-2.9-.5-2.9 1.1z"/><path color="#732200" d="M117.1 330.1l2.9-.8-2.9-.6-2.9 .8z"/><path color="#732200" d="M122.9 330l2.9-.5-2.9-.8-2.9 .5z"/><path color="#732500" d="M128.7 330.4l2.9-.2-2.9-1-2.9 .2z"/><path color="#732c00" d="M134.5 331.4l2.9 .1-2.9-1.2-2.9-.1z"/><path color="#733600" d="M140.3 332.9l2.9 .4-2.9-1.4-2.9-.4z"/><path color="#734400" d="M146.1 335l2.9 .7-2.9-1.7-2.9-.7z"/><path color="#735600" d="M151.8 337.6l2.9 .9-2.9-1.9-2.9-.9z"/><path color="#736a00" d="M157.5 340.6l2.8 1.1-2.9-2.1-2.8-1.1z"/><path color="#647300" d="M163.2 344.1l2.8 1.3-2.9-2.3-2.8-1.3z"/><path color="#4a7300" d="M168.9 347.9l2.8 1.4-2.8-2.5-2.8-1.4z"/><path color="#2e7300" d="M174.5 351.9l2.8 1.4-2.8-2.6-2.8-1.5z"/><path color="#107300" d="M180.1 356.1l2.8 1.4-2.8-2.7-2.8-1.5z"/><path color="#8aa700" d="M68.4 346.2l2.8-2.9-2.9-.4-2.8 2.8z"/><path color="#a0a300" d="M74.1 343.7l2.8-2.8-2.9-.3-2.8 2.7z"/><path color="#9e8b00" d="M79.8 341.3l2.8-2.6-2.9-.3-2.8 2.5z"/><path color="#997200" d="M85.5 339l2.8-2.4-2.9-.2-2.8 2.4z"/><path color="#935c00" d="M91.2 336.9l2.9-2.2-2.9-.3-2.8 2.2z"/><path color="#8c4800" d="M96.9 335l2.9-2-2.9-.3-2.9 2z"/><path color="#843800" d="M102.7 333.3l2.9-1.7-2.9-.4-2.9 1.7z"/><path color="#7b2c00" d="M108.4 332.1l2.9-1.5-2.9-.5-2.9 1.4z"/><path color="#732300" d="M114.2 331.2l2.9-1.2-2.9-.6-2.9 1.1z"/><path color="#732100" d="M120 330.8l2.9-.8-2.9-.8-2.9 .8z"/><path color="#732200" d="M125.8 330.9l2.9-.5-2.9-1-2.9 .5z"/><path color="#732700" d="M131.6 331.6l2.9-.2-2.9-1.2-2.9 .2z"/><path color="#732f00" d="M137.4 332.8l2.9 .1-2.9-1.4-2.9-.1z"/><path color="#733b00" d="M143.2 334.6l2.9 .4-2.9-1.6-2.9-.4z"/><path color="#734b00" d="M148.9 336.9l2.9 .7-2.9-1.9-2.9-.7z"/><path color="#735e00" d="M154.7 339.7l2.8 .9-2.9-2.1-2.9-.9z"/><path color="#727300" d="M160.4 343l2.8 1.1-2.9-2.3-2.8-1.1z"/><path color="#597300" d="M166.1 346.6l2.8 1.3-2.8-2.5-2.8-1.3z"/><path color="#3d7300" d="M171.7 350.6l2.8 1.4-2.8-2.7-2.8-1.4z"/><path color="#207300" d="M177.4 354.8l2.8 1.4-2.8-2.8-2.8-1.4z"/><path color="#037300" d="M182.9 359l2.8 1.4-2.8-2.8-2.8-1.4z"/><path color="#79ac00" d="M65.6 349.2l2.8-3-2.9-.5-2.8 2.9z"/><path color="#91a900" d="M71.3 346.7l2.8-3-2.9-.4-2.8 2.9z"/><path color="#a5a400" d="M76.9 344.1l2.8-2.8-2.9-.3-2.8 2.8z"/><path color="#a28900" d="M82.6 341.7l2.8-2.7-2.9-.3-2.8 2.6z"/><path color="#9d7100" d="M88.3 339.4l2.8-2.5-2.9-.3-2.8 2.4z"/><path color="#985b00" d="M94.1 337.3l2.9-2.3-2.9-.3-2.9 2.2z"/><path color="#934800" d="M99.8 335.4l2.9-2.1-2.9-.4-2.9 2z"/><path color="#8c3900" d="M105.6 333.9l2.9-1.8-2.9-.5-2.9 1.7z"/><path color="#852d00" d="M111.4 332.7l2.9-1.5-2.9-.6-2.9 1.5z"/><path color="#7d2600" d="M117.1 332l2.9-1.2-2.9-.8-2.9 1.2z"/><path color="#742200" d="M122.9 331.8l2.9-.8-2.9-.9-2.9 .8z"/><path color="#732400" d="M128.7 332.1l2.9-.5-2.9-1.2-2.9 .5z"/><path color="#732a00" d="M134.5 333l2.9-.2-2.9-1.4-2.9 .2z"/><path color="#733400" d="M140.3 334.4l2.9 .1-2.9-1.6-2.9-.1z"/><path color="#734200" d="M146.1 336.4l2.9 .4-2.9-1.9-2.9-.4z"/><path color="#735300" d="M151.8 339l2.9 .7-2.9-2.1-2.9-.7z"/><path color="#736700" d="M157.6 342.1l2.8 .9-2.9-2.3-2.8-.9z"/><path color="#677300" d="M163.3 345.5l2.8 1.1-2.8-2.5-2.8-1.1z"/><path color="#4c7300" d="M168.9 349.4l2.8 1.2-2.8-2.7-2.8-1.3z"/><path color="#307300" d="M174.6 353.5l2.8 1.3-2.8-2.8-2.8-1.4z"/><path color="#127300" d="M180.2 357.7l2.8 1.3-2.8-2.9-2.8-1.4z"/><path color="#007109" d="M185.7 362.1l2.8 1.3-2.8-2.9-2.8-1.4z"/><path color="#64b000" d="M62.9 352.4l2.8-3.2-2.9-.6-2.8 3.1z"/><path color="#7eae00" d="M68.5 349.8l2.8-3.1-2.9-.5-2.8 3z"/><path color="#97ab00" d="M74.1 347.2l2.8-3.1-2.9-.4-2.8 3z"/><path color="#a8a200" d="M79.8 344.6l2.8-2.9-2.9-.4-2.8 2.8z"/><path color="#a58800" d="M85.5 342.2l2.8-2.8-2.9-.4-2.8 2.7z"/><path color="#a27000" d="M91.2 339.9l2.8-2.6-2.9-.4-2.8 2.5z"/><path color="#9e5a00" d="M97 337.8l2.9-2.4-2.9-.4-2.9 2.3z"/><path color="#9a4800" d="M102.7 336l2.9-2.1-2.9-.5-2.9 2.1z"/><path color="#953a00" d="M108.5 334.5l2.9-1.8-2.9-.6-2.9 1.8z"/><path color="#8f3000" d="M114.3 333.5l2.9-1.5-2.9-.8-2.9 1.5z"/><path color="#892a00" d="M120 333l2.9-1.2-2.9-1-2.9 1.2z"/><path color="#822800" d="M125.8 333l2.9-.9-2.9-1.2-2.9 .8z"/><path color="#7a2a00" d="M131.6 333.5l2.9-.5-2.9-1.4-2.9 .5z"/><path color="#732f00" d="M137.4 334.6l2.9-.2-2.9-1.6-2.9 .2z"/><path color="#733b00" d="M143.2 336.3l2.9 .1-2.9-1.9-2.9-.1z"/><path color="#734a00" d="M149 338.6l2.9 .4-2.9-2.1-2.9-.4z"/><path color="#735c00" d="M154.7 341.4l2.9 .7-2.9-2.3-2.9-.7z"/><path color="#737200" d="M160.4 344.6l2.8 .9-2.9-2.6-2.8-.9z"/><path color="#5a7300" d="M166.1 348.3l2.8 1.1-2.8-2.7-2.8-1.1z"/><path color="#3f7300" d="M171.7 352.3l2.8 1.2-2.8-2.9-2.8-1.2z"/><path color="#217300" d="M177.4 356.5l2.8 1.2-2.8-3-2.8-1.3z"/><path color="#047300" d="M183 360.9l2.8 1.2-2.8-3-2.8-1.3z"/><path color="#006f14" d="M188.5 365.2l2.8 1.2-2.8-3-2.8-1.3z"/><path color="#4cb300" d="M60.1 355.8l2.8-3.3-2.9-.7-2.8 3.2z"/><path color="#68b200" d="M65.7 353.1l2.8-3.3-2.9-.6-2.8 3.2z"/><path color="#83b000" d="M71.4 350.4l2.8-3.2-2.9-.5-2.8 3.1z"/><path color="#9dae00" d="M77 347.8l2.8-3.2-2.9-.5-2.8 3.1z"/><path color="#aca100" d="M82.7 345.2l2.8-3-2.9-.5-2.8 2.9z"/><path color="#a98700" d="M88.4 342.7l2.8-2.9-2.9-.5-2.8 2.8z"/><path color="#a66f00" d="M94.1 340.4l2.8-2.7-2.9-.5-2.8 2.6z"/><path color="#a35b00" d="M99.8 338.4l2.9-2.4-2.9-.6-2.9 2.4z"/><path color="#a04a00" d="M105.6 336.7l2.9-2.2-2.9-.7-2.9 2.1z"/><path color="#9d3d00" d="M111.4 335.4l2.9-1.9-2.9-.8-2.9 1.8z"/><path color="#983400" d="M117.2 334.5l2.9-1.6-2.9-1-2.9 1.5z"/><path color="#943000" d="M123 334.2l2.9-1.2-2.9-1.2-2.9 1.2z"/><path color="#8e3000" d="M128.7 334.4l2.9-.9-2.9-1.4-2.9 .9z"/><path color="#883400" d="M134.5 335.1l2.9-.5-2.9-1.6-2.9 .5z"/><path color="#813c00" d="M140.3 336.5l2.9-.2-2.9-1.9-2.9 .2z"/><path color="#7a4700" d="M146.1 338.5l2.9 .1-2.9-2.1-2.9-.1z"/><path color="#735300" d="M151.8 341l2.9 .4-2.9-2.4-2.9-.4z"/><path color="#736700" d="M157.6 344l2.8 .7-2.9-2.6-2.9-.7z"/><path color="#667300" d="M163.3 347.5l2.8 .9-2.8-2.8-2.8-.9z"/><path color="#4c7300" d="M168.9 351.3l2.8 1-2.8-2.9-2.8-1.1z"/><path color="#307300" d="M174.6 355.4l2.8 1.1-2.8-3-2.8-1.2z"/><path color="#127300" d="M180.2 359.7l2.8 1.1-2.8-3.1-2.8-1.2z"/><path color="#007109" d="M185.7 364.1l2.8 1.1-2.8-3.1-2.8-1.2z"/><path color="#006d20" d="M191.3 368.4l2.8 1-2.8-3.1-2.8-1.2z"/><path color="#31b600" d="M57.3 359.2l2.7-3.5-2.9-.8-2.7 3.3z"/><path color="#4fb500" d="M63 356.6l2.8-3.4-2.9-.7-2.8 3.3z"/><path color="#6cb400" d="M68.6 353.9l2.8-3.4-2.9-.6-2.8 3.3z"/><path color="#88b200" d="M74.2 351.1l2.8-3.4-2.9-.6-2.8 3.2z"/><path color="#a3b100" d="M79.9 348.4l2.8-3.3-2.9-.6-2.8 3.2z"/><path color="#afa100" d="M85.6 345.8l2.8-3.1-2.9-.6-2.8 3z"/><path color="#ad8700" d="M91.3 343.4l2.8-3-2.9-.6-2.8 2.9z"/><path color="#ab7000" d="M97 341.2l2.8-2.8-2.9-.6-2.8 2.7z"/><path color="#a95c00" d="M102.7 339.2l2.9-2.5-2.9-.7-2.9 2.4z"/><path color="#a74c00" d="M108.5 337.6l2.9-2.2-2.9-.9-2.9 2.2z"/><path color="#a44100" d="M114.3 336.5l2.9-1.9-2.9-1-2.9 1.9z"/><path color="#a13a00" d="M120.1 335.8l2.9-1.6-2.9-1.2-2.9 1.6z"/><path color="#9d3700" d="M125.9 335.6l2.9-1.3-2.9-1.4-2.9 1.2z"/><path color="#993a00" d="M131.7 336.1l2.9-.9-2.9-1.7-2.9 .9z"/><path color="#944100" d="M137.4 337.1l2.9-.6-2.9-1.9-2.9 .5z"/><path color="#8e4c00" d="M143.2 338.7l2.9-.2-2.9-2.1-2.9 .2z"/><path color="#885a00" d="M149 340.9l2.9 .1-2.9-2.4-2.9-.1z"/><path color="#826b00" d="M154.7 343.6l2.9 .4-2.9-2.6-2.9-.4z"/><path color="#7b7c00" d="M160.4 346.9l2.8 .6-2.8-2.8-2.8-.7z"/><path color="#5c7800" d="M166.1 350.5l2.8 .8-2.8-3-2.8-.9z"/><path color="#3e7400" d="M171.7 354.5l2.8 .9-2.8-3.1-2.8-1z"/><path color="#207300" d="M177.4 358.7l2.8 1-2.8-3.2-2.8-1.1z"/><path color="#027300" d="M182.9 363.1l2.8 1-2.8-3.2-2.8-1.1z"/><path color="#006f16" d="M188.5 367.4l2.8 1-2.8-3.2-2.8-1.1z"/><path color="#006d2e" d="M194 371.7l2.8 .9-2.8-3.1-2.8-1z"/><path color="#15b800" d="M54.6 362.8l2.7-3.5-2.9-.9-2.7 3.4z"/><path color="#33b800" d="M60.2 360.1l2.7-3.6-2.9-.8-2.7 3.5z"/><path color="#51b700" d="M65.8 357.4l2.8-3.6-2.9-.7-2.8 3.4z"/><path color="#6fb600" d="M71.4 354.7l2.8-3.5-2.9-.7-2.8 3.4z"/><path color="#8db500" d="M77.1 351.9l2.8-3.5-2.9-.7-2.8 3.4z"/><path color="#a9b400" d="M82.8 349.2l2.8-3.4-2.9-.7-2.8 3.3z"/><path color="#b2a200" d="M88.5 346.6l2.8-3.2-2.9-.7-2.8 3.1z"/><path color="#b18900" d="M94.2 344.2l2.8-3-2.9-.7-2.8 3z"/><path color="#b07200" d="M99.9 342.1l2.9-2.8-2.9-.8-2.8 2.8z"/><path color="#ae5f00" d="M105.6 340.2l2.9-2.6-2.9-.9-2.9 2.5z"/><path color="#ac5100" d="M111.4 338.8l2.9-2.3-2.9-1.1-2.9 2.2z"/><path color="#aa4600" d="M117.2 337.8l2.9-2-2.9-1.2-2.9 1.9z"/><path color="#a84100" d="M123 337.3l2.9-1.6-2.9-1.5-2.9 1.6z"/><path color="#a54100" d="M128.8 337.4l2.9-1.3-2.9-1.7-2.9 1.3z"/><path color="#a14600" d="M134.5 338l2.9-.9-2.9-1.9-2.9 .9z"/><path color="#9d5000" d="M140.3 339.3l2.9-.6-2.9-2.2-2.9 .6z"/><path color="#985f00" d="M146.1 341.1l2.9-.3-2.9-2.4-2.9 .2z"/><path color="#937000" d="M151.8 343.6l2.9 0-2.9-2.7-2.9-.1z"/><path color="#8e8500" d="M157.6 346.5l2.9 .3-2.9-2.9-2.9-.4z"/><path color="#768900" d="M163.3 350l2.8 .5-2.8-3.1-2.8-.6z"/><path color="#548500" d="M168.9 353.8l2.8 .7-2.8-3.2-2.8-.8z"/><path color="#328100" d="M174.6 357.9l2.8 .8-2.8-3.3-2.8-.9z"/><path color="#117f00" d="M180.2 362.2l2.8 .9-2.8-3.3-2.8-1z"/><path color="#007c0d" d="M185.7 366.5l2.8 .9-2.8-3.3-2.8-1z"/><path color="#007726" d="M191.3 370.8l2.8 .9-2.8-3.3-2.8-1z"/><path color="#00733f" d="M196.8 375l2.8 .8-2.7-3.2-2.8-.9z"/><path color="#00b906" d="M51.9 366.4l2.7-3.6-2.9-1-2.7 3.5z"/><path color="#16ba00" d="M57.5 363.8l2.7-3.7-2.9-.9-2.7 3.5z"/><path color="#35b900" d="M63.1 361.1l2.8-3.7-2.9-.9-2.7 3.6z"/><path color="#53b900" d="M68.7 358.3l2.8-3.7-2.9-.8-2.8 3.6z"/><path color="#72b800" d="M74.3 355.5l2.8-3.6-2.9-.8-2.8 3.5z"/><path color="#90b700" d="M80 352.8l2.8-3.6-2.9-.8-2.8 3.5z"/><path color="#adb600" d="M85.6 350.1l2.8-3.5-2.9-.8-2.8 3.4z"/><path color="#b6a500" d="M91.3 347.5l2.8-3.3-2.9-.8-2.8 3.2z"/><path color="#b58c00" d="M97.1 345.2l2.8-3.1-2.9-.9-2.8 3z"/><path color="#b47600" d="M102.8 343.1l2.9-2.9-2.9-1-2.9 2.8z"/><path color="#b36400" d="M108.5 341.4l2.9-2.7-2.9-1.1-2.9 2.6z"/><path color="#b25700" d="M114.3 340.1l2.9-2.4-2.9-1.3-2.9 2.3z"/><path color="#b04f00" d="M120.1 339.3l2.9-2-2.9-1.5-2.9 2z"/><path color="#ae4c00" d="M125.9 339l2.9-1.7-2.9-1.7-2.9 1.6z"/><path color="#ac4e00" d="M131.7 339.4l2.9-1.3-2.9-2-2.9 1.3z"/><path color="#a85600" d="M137.4 340.3l2.9-1-2.9-2.2-2.9 .9z"/><path color="#a56300" d="M143.2 341.8l2.9-.6-2.9-2.5-2.9 .6z"/><path color="#a17400" d="M149 343.9l2.9-.3-2.9-2.7-2.9 .3z"/><path color="#9c8900" d="M154.7 346.5l2.9-0-2.9-2.9-2.9-0z"/><path color="#8e9700" d="M160.4 349.7l2.8 .3-2.8-3.1-2.9-.3z"/><path color="#6a9300" d="M166.1 353.3l2.8 .5-2.8-3.3-2.8-.5z"/><path color="#468f00" d="M171.7 357.3l2.8 .6-2.8-3.4-2.8-.7z"/><path color="#218c00" d="M177.3 361.4l2.8 .7-2.8-3.4-2.8-.8z"/><path color="#008902" d="M182.9 365.7l2.8 .8-2.8-3.5-2.8-.9z"/><path color="#00821d" d="M188.5 370.1l2.8 .8-2.8-3.4-2.8-.9z"/><path color="#007d38" d="M194 374.3l2.8 .7-2.8-3.3-2.8-.9z"/><path color="#007852" d="M199.5 378.3l2.8 .6-2.7-3.2-2.8-.8z"/><path color="#00b61d" d="M49.2 370l2.7-3.6-2.9-1.1-2.7 3.5z"/><path color="#00ba07" d="M54.7 367.5l2.7-3.7-2.9-1-2.7 3.6z"/><path color="#16bb00" d="M60.3 364.9l2.7-3.8-2.9-1-2.7 3.7z"/><path color="#35bb00" d="M65.9 362.1l2.8-3.8-2.9-.9-2.8 3.7z"/><path color="#55ba00" d="M71.5 359.3l2.8-3.8-2.9-.9-2.8 3.7z"/><path color="#74ba00" d="M77.2 356.5l2.8-3.8-2.9-.9-2.8 3.6z"/><path color="#93ba00" d="M82.8 353.8l2.8-3.7-2.9-.9-2.8 3.6z"/><path color="#afb900" d="M88.5 351.1l2.8-3.6-2.9-.9-2.8 3.5z"/><path color="#b9a800" d="M94.2 348.6l2.8-3.4-2.9-1-2.8 3.3z"/><path color="#b89000" d="M99.9 346.4l2.8-3.2-2.9-1.1-2.8 3.1z"/><path color="#b87c00" d="M105.7 344.4l2.9-3-2.9-1.2-2.9 2.9z"/><path color="#b76b00" d="M111.4 342.9l2.9-2.7-2.9-1.4-2.9 2.7z"/><path color="#b66000" d="M117.2 341.7l2.9-2.4-2.9-1.6-2.9 2.4z"/><path color="#b55900" d="M123 341.1l2.9-2.1-2.9-1.8-2.9 2z"/><path color="#b35900" d="M128.8 341.1l2.9-1.7-2.9-2-2.9 1.7z"/><path color="#b15e00" d="M134.6 341.6l2.9-1.4-2.9-2.2-2.9 1.3z"/><path color="#ae6800" d="M140.3 342.8l2.9-1-2.9-2.5-2.9 1z"/><path color="#ab7800" d="M146.1 344.6l2.9-.7-2.9-2.7-2.9 .6z"/><path color="#a78c00" d="M151.8 346.9l2.9-.4-2.9-3-2.9 .3z"/><path color="#a2a300" d="M157.6 349.8l2.9-.1-2.8-3.2-2.9 0z"/><path color="#7e9f00" d="M163.2 353.1l2.8 .2-2.8-3.3-2.8-.3z"/><path color="#599b00" d="M168.9 356.9l2.8 .4-2.8-3.5-2.8-.5z"/><path color="#329700" d="M174.5 360.9l2.8 .5-2.8-3.5-2.8-.6z"/><path color="#0c9400" d="M180.1 365.1l2.8 .6-2.8-3.6-2.8-.7z"/><path color="#008e14" d="M185.7 369.4l2.8 .7-2.8-3.5-2.8-.8z"/><path color="#008730" d="M191.2 373.6l2.8 .6-2.8-3.5-2.8-.8z"/><path color="#00804b" d="M196.8 377.8l2.8 .6-2.7-3.3-2.8-.7z"/><path color="#007b65" d="M202.3 381.6l2.8 .5-2.7-3.2-2.8-.6z"/><path color="#00b235" d="M46.5 373.7l2.7-3.7-2.9-1.2-2.7 3.6z"/><path color="#00b71f" d="M52 371.2l2.7-3.7-2.9-1.1-2.7 3.6z"/><path color="#00bb07" d="M57.6 368.7l2.7-3.8-2.9-1.1-2.7 3.7z"/><path color="#16bd00" d="M63.2 366l2.7-3.9-2.9-1-2.7 3.8z"/><path color="#35bd00" d="M68.8 363.2l2.8-3.9-2.9-1-2.8 3.8z"/><path color="#55bc00" d="M74.4 360.4l2.8-3.9-2.9-1-2.8 3.8z"/><path color="#75bc00" d="M80.1 357.6l2.8-3.9-2.9-1-2.8 3.8z"/><path color="#94bc00" d="M85.7 354.9l2.8-3.8-2.9-1-2.8 3.7z"/><path color="#b0bc00" d="M91.4 352.3l2.8-3.7-2.9-1.1-2.8 3.6z"/><path color="#bcad00" d="M97.1 349.9l2.8-3.5-2.9-1.2-2.8 3.4z"/><path color="#bc9600" d="M102.8 347.7l2.8-3.3-2.9-1.3-2.8 3.2z"/><path color="#bb8300" d="M108.6 345.9l2.9-3.1-2.9-1.4-2.9 3z"/><path color="#bb7500" d="M114.3 344.5l2.9-2.8-2.9-1.6-2.9 2.7z"/><path color="#ba6b00" d="M120.1 343.6l2.9-2.5-2.9-1.8-2.9 2.4z"/><path color="#b96700" d="M125.9 343.2l2.9-2.2-2.9-2-2.9 2.1z"/><path color="#b86900" d="M131.7 343.4l2.9-1.8-2.9-2.3-2.9 1.7z"/><path color="#b67000" d="M137.4 344.2l2.9-1.4-2.9-2.5-2.9 1.4z"/><path color="#b37d00" d="M143.2 345.6l2.9-1.1-2.9-2.8-2.9 1z"/><path color="#b09000" d="M149 347.6l2.9-.7-2.9-3-2.9 .7z"/><path color="#ada700" d="M154.7 350.2l2.9-.4-2.8-3.2-2.9 .4z"/><path color="#90a900" d="M160.4 353.3l2.9-.1-2.8-3.4-2.9 .1z"/><path color="#6aa500" d="M166.1 356.8l2.8 .1-2.8-3.6-2.8-.2z"/><path color="#42a100" d="M171.7 360.6l2.8 .3-2.8-3.6-2.8-.4z"/><path color="#1b9d00" d="M177.3 364.7l2.8 .4-2.8-3.7-2.8-.5z"/><path color="#00980a" d="M182.9 368.9l2.8 .5-2.8-3.7-2.8-.6z"/><path color="#009028" d="M188.5 373.1l2.8 .5-2.8-3.6-2.8-.7z"/><path color="#008944" d="M194 377.3l2.8 .5-2.7-3.5-2.8-.6z"/><path color="#00825f" d="M199.5 381.2l2.8 .4-2.7-3.3-2.8-.6z"/><path color="#007d78" d="M205 384.9l2.8 .3-2.7-3.1-2.8-.5z"/><path color="#00af4c" d="M43.8 377.3l2.7-3.6-2.9-1.3-2.7 3.5z"/><path color="#00b337" d="M49.3 375l2.7-3.7-2.9-1.2-2.7 3.7z"/><path color="#00b820" d="M54.9 372.5l2.7-3.8-2.9-1.2-2.7 3.7z"/><path color="#00bc09" d="M60.5 369.9l2.7-3.9-2.9-1.1-2.7 3.8z"/><path color="#14be00" d="M66 367.2l2.7-4-2.9-1.1-2.7 3.9z"/><path color="#35be00" d="M71.7 364.4l2.8-4-2.9-1.1-2.8 3.9z"/><path color="#55be00" d="M77.3 361.6l2.8-4-2.9-1.1-2.8 3.9z"/><path color="#74be00" d="M82.9 358.9l2.8-4-2.9-1.1-2.8 3.9z"/><path color="#93be00" d="M88.6 356.2l2.8-3.9-2.9-1.2-2.8 3.8z"/><path color="#afbe00" d="M94.3 353.7l2.8-3.8-2.9-1.3-2.8 3.7z"/><path color="#beb400" d="M100 351.4l2.8-3.6-2.9-1.4-2.8 3.5z"/><path color="#be9f00" d="M105.7 349.3l2.8-3.4-2.9-1.5-2.8 3.3z"/><path color="#be8d00" d="M111.5 347.7l2.9-3.2-2.9-1.7-2.9 3.1z"/><path color="#be8000" d="M117.2 346.5l2.9-2.9-2.9-1.9-2.9 2.8z"/><path color="#bd7900" d="M123 345.8l2.9-2.5-2.9-2.1-2.9 2.5z"/><path color="#bc7700" d="M128.8 345.6l2.9-2.2-2.9-2.3-2.9 2.2z"/><path color="#bb7c00" d="M134.6 346.1l2.9-1.8-2.9-2.6-2.9 1.8z"/><path color="#b98600" d="M140.3 347.1l2.9-1.5-2.9-2.8-2.9 1.4z"/><path color="#b79600" d="M146.1 348.8l2.9-1.1-2.9-3.1-2.9 1.1z"/><path color="#b4ab00" d="M151.8 351l2.9-.8-2.9-3.3-2.9 .7z"/><path color="#9db100" d="M157.5 353.7l2.9-.5-2.8-3.5-2.9 .4z"/><path color="#79ae00" d="M163.2 357l2.8-.2-2.8-3.6-2.9 .1z"/><path color="#51aa00" d="M168.9 360.6l2.8 0-2.8-3.7-2.8-.1z"/><path color="#29a600" d="M174.5 364.5l2.8 .2-2.8-3.8-2.8-.3z"/><path color="#00a300" d="M180.1 368.6l2.8 .3-2.8-3.8-2.8-.4z"/><path color="#009a1f" d="M185.7 372.8l2.8 .4-2.8-3.7-2.8-.5z"/><path color="#00923d" d="M191.2 376.9l2.8 .4-2.7-3.6-2.8-.5z"/><path color="#008a59" d="M196.7 380.9l2.8 .3-2.7-3.5-2.8-.5z"/><path color="#008373" d="M202.2 384.6l2.8 .3-2.7-3.3-2.8-.4z"/><path color="#007986" d="M207.7 388.1l2.8 .1-2.7-3-2.8-.3z"/><path color="#00af4f" d="M46.6 378.7l2.7-3.7-2.9-1.3-2.7 3.6z"/><path color="#00b339" d="M52.2 376.4l2.7-3.8-2.9-1.3-2.7 3.7z"/><path color="#00b822" d="M57.7 373.9l2.7-3.9-2.9-1.2-2.7 3.8z"/><path color="#00bd0b" d="M63.3 371.2l2.7-4-2.9-1.2-2.7 3.9z"/><path color="#12c000" d="M68.9 368.5l2.7-4.1-2.9-1.2-2.7 4z"/><path color="#32c000" d="M74.5 365.8l2.8-4.1-2.9-1.2-2.8 4z"/><path color="#53c000" d="M80.2 363l2.8-4.1-2.9-1.2-2.8 4z"/><path color="#72c000" d="M85.8 360.3l2.8-4.1-2.9-1.3-2.8 4z"/><path color="#90c100" d="M91.5 357.7l2.8-4-2.9-1.4-2.8 3.9z"/><path color="#acc100" d="M97.2 355.2l2.8-3.9-2.9-1.5-2.8 3.8z"/><path color="#c1be00" d="M102.9 353l2.8-3.7-2.9-1.6-2.8 3.6z"/><path color="#c1a900" d="M108.6 351.2l2.9-3.5-2.9-1.8-2.8 3.4z"/><path color="#c19a00" d="M114.4 349.7l2.9-3.2-2.9-2-2.9 3.2z"/><path color="#c18f00" d="M120.1 348.7l2.9-2.9-2.9-2.2-2.9 2.9z"/><path color="#c08a00" d="M125.9 348.2l2.9-2.6-2.9-2.4-2.9 2.5z"/><path color="#bf8b00" d="M131.7 348.3l2.9-2.3-2.9-2.6-2.9 2.2z"/><path color="#be9200" d="M137.4 349l2.9-1.9-2.9-2.9-2.9 1.8z"/><path color="#bc9f00" d="M143.2 350.3l2.9-1.5-2.9-3.1-2.9 1.5z"/><path color="#bab100" d="M148.9 352.2l2.9-1.2-2.9-3.3-2.9 1.1z"/><path color="#a6b800" d="M154.7 354.6l2.9-.8-2.8-3.5-2.9 .8z"/><path color="#83b500" d="M160.4 357.5l2.9-.5-2.8-3.7-2.9 .5z"/><path color="#5db100" d="M166 360.9l2.8-.3-2.8-3.8-2.8 .2z"/><path color="#35ae00" d="M171.7 364.6l2.8-.1-2.8-3.9-2.8-0z"/><path color="#0caa00" d="M177.3 368.5l2.8 .1-2.8-3.9-2.8-.2z"/><path color="#00a316" d="M182.9 372.6l2.8 .2-2.8-3.9-2.8-.3z"/><path color="#009a35" d="M188.4 376.7l2.8 .2-2.7-3.8-2.8-.4z"/><path color="#009252" d="M193.9 380.6l2.8 .2-2.7-3.6-2.8-.4z"/><path color="#008a6e" d="M199.5 384.5l2.8 .2-2.7-3.4-2.8-.3z"/><path color="#008387" d="M205 388l2.8 .1-2.7-3.2-2.8-.3z"/><path color="#00af52" d="M49.5 380.2l2.7-3.8-2.9-1.4-2.7 3.7z"/><path color="#00b43c" d="M55 377.8l2.7-3.9-2.9-1.3-2.7 3.8z"/><path color="#00b925" d="M60.6 375.3l2.7-4-2.9-1.3-2.7 3.9z"/><path color="#00be0d" d="M66.2 372.7l2.7-4.1-2.9-1.3-2.7 4z"/><path color="#0fc100" d="M71.8 370l2.7-4.2-2.9-1.3-2.7 4.1z"/><path color="#2fc100" d="M77.4 367.2l2.8-4.2-2.9-1.3-2.8 4.1z"/><path color="#4fc200" d="M83 364.5l2.8-4.2-2.9-1.4-2.8 4.1z"/><path color="#6ec200" d="M88.7 361.8l2.8-4.2-2.9-1.5-2.8 4.1z"/><path color="#8bc300" d="M94.4 359.3l2.8-4.1-2.9-1.6-2.8 4z"/><path color="#a6c300" d="M100.1 357l2.8-4-2.9-1.7-2.8 3.9z"/><path color="#bdc300" d="M105.8 355l2.8-3.8-2.9-1.8-2.8 3.7z"/><path color="#c3b700" d="M111.5 353.3l2.9-3.6-2.9-2-2.9 3.5z"/><path color="#c3a900" d="M117.3 352l2.9-3.3-2.9-2.2-2.9 3.2z"/><path color="#c3a100" d="M123 351.2l2.9-3-2.9-2.5-2.9 2.9z"/><path color="#c29e00" d="M128.8 351l2.9-2.7-2.9-2.7-2.9 2.6z"/><path color="#c1a200" d="M134.6 351.3l2.9-2.3-2.9-2.9-2.9 2.3z"/><path color="#c0ab00" d="M140.3 352.2l2.9-1.9-2.9-3.2-2.9 1.9z"/><path color="#bfbb00" d="M146.1 353.7l2.9-1.6-2.9-3.4-2.9 1.5z"/><path color="#a9bd00" d="M151.8 355.8l2.9-1.2-2.8-3.6-2.9 1.2z"/><path color="#8aba00" d="M157.5 358.4l2.9-.9-2.8-3.8-2.9 .8z"/><path color="#66b700" d="M163.2 361.5l2.9-.6-2.8-3.9-2.9 .5z"/><path color="#3fb400" d="M168.8 364.9l2.8-.4-2.8-4-2.8 .3z"/><path color="#16b100" d="M174.4 368.7l2.8-.2-2.8-4-2.8 .1z"/><path color="#00ab0f" d="M180 372.6l2.8-0-2.8-4-2.8-.1z"/><path color="#00a22e" d="M185.6 376.6l2.8 .1-2.8-3.9-2.8-.2z"/><path color="#00994c" d="M191.2 380.5l2.8 .1-2.7-3.8-2.8-.2z"/><path color="#009168" d="M196.7 384.4l2.8 .1-2.7-3.6-2.8-.2z"/><path color="#008982" d="M202.2 388l2.8 0-2.7-3.4-2.8-.2z"/><path color="#00af55" d="M52.3 381.7l2.7-3.9-2.9-1.4-2.7 3.8z"/><path color="#00b43f" d="M57.9 379.3l2.7-4-2.9-1.4-2.7 3.9z"/><path color="#00b928" d="M63.4 376.8l2.7-4.1-2.9-1.4-2.7 4z"/><path color="#00bf11" d="M69 374.2l2.7-4.2-2.9-1.4-2.7 4.1z"/><path color="#0ac200" d="M74.6 371.5l2.8-4.3-2.9-1.4-2.7 4.2z"/><path color="#2ac300" d="M80.3 368.8l2.8-4.3-2.9-1.5-2.8 4.2z"/><path color="#49c300" d="M85.9 366.1l2.8-4.3-2.9-1.6-2.8 4.2z"/><path color="#67c400" d="M91.6 363.6l2.8-4.3-2.9-1.7-2.8 4.2z"/><path color="#83c400" d="M97.3 361.2l2.8-4.2-2.9-1.8-2.8 4.1z"/><path color="#9dc500" d="M103 359l2.8-4-2.9-1.9-2.8 4z"/><path color="#b2c500" d="M108.7 357.1l2.8-3.8-2.9-2.1-2.8 3.8z"/><path color="#c3c500" d="M114.4 355.6l2.9-3.6-2.9-2.3-2.9 3.6z"/><path color="#c5bb00" d="M120.2 354.6l2.9-3.3-2.9-2.5-2.9 3.3z"/><path color="#c5b500" d="M125.9 354l2.9-3-2.9-2.7-2.9 3z"/><path color="#c4b500" d="M131.7 354l2.9-2.7-2.9-3-2.9 2.7z"/><path color="#c3bb00" d="M137.4 354.6l2.9-2.3-2.9-3.2-2.9 2.3z"/><path color="#bdc200" d="M143.2 355.7l2.9-2-2.9-3.4-2.9 1.9z"/><path color="#a7c100" d="M148.9 357.4l2.9-1.6-2.8-3.7-2.9 1.6z"/><path color="#8cbf00" d="M154.6 359.7l2.9-1.3-2.8-3.8-2.9 1.2z"/><path color="#6bbc00" d="M160.3 362.5l2.9-1-2.8-4-2.9 .9z"/><path color="#46ba00" d="M166 365.6l2.8-.7-2.8-4.1-2.9 .6z"/><path color="#1eb700" d="M171.6 369.1l2.8-.5-2.8-4.1-2.8 .4z"/><path color="#00b208" d="M177.2 372.9l2.8-.3-2.8-4.1-2.8 .2z"/><path color="#00a927" d="M182.8 376.7l2.8-.1-2.8-4-2.8 0z"/><path color="#00a046" d="M188.4 380.6l2.8-.1-2.7-3.9-2.8-.1z"/><path color="#009763" d="M193.9 384.4l2.8-0-2.7-3.7-2.8-.1z"/><path color="#008f7e" d="M199.4 388l2.8-.1-2.7-3.5-2.8-.1z"/><path color="#00b059" d="M55.2 383.3l2.7-4-2.9-1.5-2.7 3.9z"/><path color="#00b543" d="M60.7 380.9l2.7-4.1-2.9-1.5-2.7 4z"/><path color="#00ba2c" d="M66.3 378.4l2.7-4.2-2.9-1.5-2.7 4.1z"/><path color="#00bf15" d="M71.9 375.8l2.7-4.3-2.9-1.5-2.7 4.2z"/><path color="#04c400" d="M77.5 373.2l2.8-4.4-2.9-1.6-2.8 4.3z"/><path color="#23c400" d="M83.1 370.5l2.8-4.4-2.9-1.6-2.8 4.3z"/><path color="#42c500" d="M88.8 367.9l2.8-4.4-2.9-1.7-2.8 4.3z"/><path color="#5fc500" d="M94.5 365.5l2.8-4.3-2.9-1.9-2.8 4.3z"/><path color="#79c600" d="M100.2 363.2l2.8-4.2-2.9-2-2.8 4.2z"/><path color="#91c600" d="M105.9 361.2l2.8-4.1-2.9-2.2-2.8 4z"/><path color="#a5c600" d="M111.6 359.5l2.8-3.9-2.9-2.3-2.8 3.8z"/><path color="#b3c600" d="M117.3 358.2l2.9-3.7-2.9-2.6-2.9 3.6z"/><path color="#bcc600" d="M123.1 357.4l2.9-3.4-2.9-2.8-2.9 3.3z"/><path color="#bfc600" d="M128.8 357.1l2.9-3.1-2.9-3-2.9 3z"/><path color="#bcc600" d="M134.6 357.3l2.9-2.7-2.9-3.3-2.9 2.7z"/><path color="#b1c500" d="M140.3 358.1l2.9-2.4-2.9-3.5-2.9 2.3z"/><path color="#a0c400" d="M146 359.5l2.9-2-2.9-3.7-2.9 2z"/><path color="#88c200" d="M151.7 361.4l2.9-1.7-2.8-3.9-2.9 1.6z"/><path color="#6bc000" d="M157.4 363.8l2.9-1.3-2.8-4-2.9 1.3z"/><path color="#49be00" d="M163.1 366.7l2.9-1-2.8-4.1-2.9 1z"/><path color="#23bb00" d="M168.8 369.9l2.8-.8-2.8-4.2-2.8 .7z"/><path color="#00b803" d="M174.4 373.4l2.8-.5-2.8-4.2-2.8 .5z"/><path color="#00af22" d="M180 377.1l2.8-.4-2.8-4.1-2.8 .3z"/><path color="#00a641" d="M185.5 380.9l2.8-.3-2.7-4-2.8 .1z"/><path color="#009d5e" d="M191.1 384.6l2.8-.2-2.7-3.9-2.8 .1z"/><path color="#00957a" d="M196.6 388.2l2.8-.2-2.7-3.7-2.8 0z"/><path color="#00b05e" d="M58 384.9l2.7-4-2.9-1.6-2.7 4z"/><path color="#00b548" d="M63.6 382.5l2.7-4.2-2.9-1.6-2.7 4.1z"/><path color="#00ba31" d="M69.2 380.1l2.7-4.3-2.9-1.6-2.7 4.2z"/><path color="#00bf1a" d="M74.8 377.5l2.7-4.4-2.9-1.7-2.7 4.3z"/><path color="#00c403" d="M80.4 375l2.8-4.4-2.9-1.7-2.8 4.4z"/><path color="#1bc500" d="M86 372.4l2.8-4.5-2.9-1.8-2.8 4.4z"/><path color="#38c600" d="M91.7 369.9l2.8-4.5-2.9-1.9-2.8 4.4z"/><path color="#54c700" d="M97.3 367.6l2.8-4.4-2.9-2.1-2.8 4.3z"/><path color="#6dc700" d="M103 365.5l2.8-4.3-2.9-2.2-2.8 4.2z"/><path color="#82c700" d="M108.7 363.7l2.8-4.1-2.9-2.4-2.8 4.1z"/><path color="#94c800" d="M114.5 362.2l2.8-3.9-2.9-2.6-2.8 3.9z"/><path color="#a0c800" d="M120.2 361.1l2.9-3.7-2.9-2.8-2.9 3.7z"/><path color="#a7c800" d="M125.9 360.5l2.9-3.4-2.9-3.1-2.9 3.4z"/><path color="#a7c700" d="M131.7 360.4l2.9-3.1-2.9-3.3-2.9 3.1z"/><path color="#a0c700" d="M137.4 360.9l2.9-2.8-2.9-3.5-2.9 2.7z"/><path color="#93c600" d="M143.2 361.9l2.9-2.4-2.9-3.7-2.9 2.4z"/><path color="#80c500" d="M148.9 363.4l2.9-2.1-2.8-3.9-2.9 2z"/><path color="#66c300" d="M154.6 365.5l2.9-1.7-2.8-4.1-2.9 1.7z"/><path color="#48c100" d="M160.3 368l2.9-1.4-2.8-4.2-2.9 1.3z"/><path color="#25bf00" d="M165.9 371l2.9-1.1-2.8-4.3-2.9 1z"/><path color="#00bd00" d="M171.5 374.3l2.8-.8-2.8-4.3-2.8 .8z"/><path color="#00b41e" d="M177.1 377.7l2.8-.6-2.8-4.2-2.8 .5z"/><path color="#00ab3d" d="M182.7 381.3l2.8-.5-2.7-4.1-2.8 .4z"/><path color="#00a25a" d="M188.3 385l2.8-.4-2.7-4-2.8 .3z"/><path color="#009a76" d="M193.8 388.5l2.8-.3-2.7-3.8-2.8 .2z"/><path color="#00af63" d="M60.9 386.6l2.7-4.1-2.9-1.7-2.7 4z"/><path color="#00b44e" d="M66.4 384.3l2.7-4.2-2.9-1.7-2.7 4.2z"/><path color="#00ba37" d="M72 381.9l2.7-4.3-2.9-1.7-2.7 4.3z"/><path color="#00bf21" d="M77.6 379.4l2.7-4.4-2.9-1.8-2.7 4.4z"/><path color="#00c40a" d="M83.3 376.9l2.8-4.5-2.9-1.9-2.8 4.4z"/><path color="#10c700" d="M88.9 374.5l2.8-4.5-2.9-2-2.8 4.5z"/><path color="#2cc700" d="M94.6 372.1l2.8-4.5-2.9-2.1-2.8 4.5z"/><path color="#46c800" d="M100.2 369.9l2.8-4.4-2.9-2.3-2.8 4.4z"/><path color="#5dc800" d="M105.9 368l2.8-4.3-2.9-2.5-2.8 4.3z"/><path color="#71c800" d="M111.6 366.3l2.8-4.2-2.9-2.7-2.8 4.1z"/><path color="#80c900" d="M117.3 365.1l2.8-4-2.9-2.9-2.8 3.9z"/><path color="#89c900" d="M123.1 364.2l2.9-3.7-2.9-3.1-2.9 3.7z"/><path color="#8dc900" d="M128.8 363.8l2.9-3.4-2.9-3.3-2.9 3.4z"/><path color="#8bc800" d="M134.5 364l2.9-3.1-2.9-3.5-2.9 3.1z"/><path color="#82c800" d="M140.3 364.6l2.9-2.8-2.9-3.8-2.9 2.8z"/><path color="#73c700" d="M146 365.8l2.9-2.4-2.8-4-2.9 2.4z"/><path color="#5dc600" d="M151.7 367.6l2.9-2.1-2.8-4.1-2.9 2.1z"/><path color="#42c400" d="M157.4 369.8l2.9-1.7-2.8-4.3-2.9 1.7z"/><path color="#23c200" d="M163.1 372.4l2.9-1.4-2.8-4.3-2.9 1.4z"/><path color="#00c000" d="M168.7 375.4l2.8-1.1-2.8-4.4-2.9 1.1z"/><path color="#00b81d" d="M174.3 378.7l2.8-.9-2.8-4.3-2.8 .8z"/><path color="#00b03a" d="M179.9 382.1l2.8-.7-2.7-4.2-2.8 .6z"/><path color="#00a757" d="M185.5 385.5l2.8-.6-2.7-4.1-2.8 .5z"/><path color="#009f73" d="M191 389l2.8-.5-2.7-3.9-2.8 .4z"/><path color="#00af69" d="M63.7 388.4l2.7-4.1-2.9-1.8-2.7 4.1z"/><path color="#00b454" d="M69.3 386.1l2.7-4.3-2.9-1.8-2.7 4.2z"/><path color="#00b93e" d="M74.9 383.8l2.7-4.4-2.9-1.9-2.7 4.3z"/><path color="#00be28" d="M80.5 381.4l2.8-4.5-2.9-1.9-2.7 4.4z"/><path color="#00c312" d="M86.1 379l2.8-4.5-2.9-2.1-2.8 4.5z"/><path color="#04c700" d="M91.8 376.7l2.8-4.6-2.9-2.2-2.8 4.5z"/><path color="#1ec800" d="M97.4 374.5l2.8-4.5-2.9-2.3-2.8 4.5z"/><path color="#36c900" d="M103.1 372.5l2.8-4.5-2.9-2.5-2.8 4.4z"/><path color="#4bc900" d="M108.8 370.7l2.8-4.4-2.9-2.7-2.8 4.3z"/><path color="#5dc900" d="M114.5 369.2l2.8-4.2-2.9-2.9-2.8 4.2z"/><path color="#69ca00" d="M120.2 368.2l2.9-4-2.9-3.1-2.8 4z"/><path color="#70ca00" d="M125.9 367.5l2.9-3.7-2.9-3.3-2.9 3.7z"/><path color="#71c900" d="M131.7 367.4l2.9-3.4-2.9-3.6-2.9 3.4z"/><path color="#6cc900" d="M137.4 367.7l2.9-3.1-2.9-3.8-2.9 3.1z"/><path color="#61c800" d="M143.1 368.6l2.9-2.8-2.8-4-2.9 2.8z"/><path color="#50c700" d="M148.8 370l2.9-2.4-2.8-4.2-2.9 2.4z"/><path color="#39c600" d="M154.5 371.9l2.9-2.1-2.8-4.3-2.9 2.1z"/><path color="#1dc500" d="M160.2 374.2l2.9-1.8-2.8-4.4-2.9 1.7z"/><path color="#00c202" d="M165.8 376.9l2.9-1.5-2.8-4.4-2.9 1.4z"/><path color="#00bb1d" d="M171.5 379.9l2.8-1.2-2.8-4.4-2.8 1.1z"/><path color="#00b339" d="M177.1 383l2.8-1-2.8-4.3-2.8 .9z"/><path color="#00ab55" d="M182.6 386.3l2.8-.8-2.7-4.2-2.8 .7z"/><path color="#00a371" d="M188.2 389.7l2.8-.7-2.7-4-2.8 .6z"/><path color="#00af6f" d="M66.6 390.3l2.7-4.2-2.9-1.8-2.7 4.1z"/><path color="#00b35b" d="M72.2 388.1l2.7-4.3-2.9-1.9-2.7 4.3z"/><path color="#00b846" d="M77.8 385.8l2.7-4.4-2.9-2-2.7 4.4z"/><path color="#00bd31" d="M83.4 383.5l2.8-4.5-2.9-2.1-2.8 4.5z"/><path color="#00c21c" d="M89 381.3l2.8-4.6-2.9-2.2-2.8 4.5z"/><path color="#00c708" d="M94.6 379.1l2.8-4.6-2.9-2.4-2.8 4.6z"/><path color="#0ec900" d="M100.3 377l2.8-4.6-2.9-2.5-2.8 4.5z"/><path color="#24c900" d="M106 375.2l2.8-4.5-2.9-2.7-2.8 4.5z"/><path color="#37ca00" d="M111.7 373.6l2.8-4.4-2.9-2.9-2.8 4.4z"/><path color="#46ca00" d="M117.4 372.4l2.8-4.2-2.9-3.1-2.8 4.2z"/><path color="#4fca00" d="M123.1 371.5l2.9-4-2.9-3.3-2.9 4z"/><path color="#54ca00" d="M128.8 371.1l2.9-3.7-2.9-3.6-2.9 3.7z"/><path color="#53ca00" d="M134.5 371.2l2.9-3.4-2.9-3.8-2.9 3.4z"/><path color="#4bc900" d="M140.2 371.7l2.9-3.1-2.8-4-2.9 3.1z"/><path color="#3ec900" d="M146 372.8l2.9-2.8-2.8-4.2-2.9 2.8z"/><path color="#2bc800" d="M151.6 374.3l2.9-2.4-2.8-4.3-2.9 2.4z"/><path color="#13c700" d="M157.3 376.3l2.9-2.1-2.8-4.4-2.9 2.1z"/><path color="#00c408" d="M163 378.6l2.9-1.8-2.8-4.5-2.9 1.8z"/><path color="#00bd20" d="M168.6 381.3l2.9-1.5-2.8-4.4-2.9 1.5z"/><path color="#00b63a" d="M174.2 384.3l2.8-1.2-2.8-4.4-2.8 1.2z"/><path color="#00ae55" d="M179.8 387.4l2.8-1-2.7-4.3-2.8 1z"/><path color="#00a670" d="M185.4 390.5l2.8-.9-2.7-4.1-2.8 .8z"/><path color="#00ae77" d="M69.4 392.3l2.7-4.2-2.9-1.9-2.7 4.2z"/><path color="#00b363" d="M75 390.1l2.7-4.3-2.9-2-2.7 4.3z"/><path color="#00b74f" d="M80.6 388l2.7-4.4-2.9-2.1-2.7 4.4z"/><path color="#00bc3b" d="M86.2 385.8l2.8-4.5-2.9-2.2-2.8 4.5z"/><path color="#00c127" d="M91.9 383.6l2.8-4.6-2.9-2.4-2.8 4.6z"/><path color="#00c514" d="M97.5 381.6l2.8-4.6-2.9-2.5-2.8 4.6z"/><path color="#00c903" d="M103.2 379.7l2.8-4.6-2.9-2.7-2.8 4.6z"/><path color="#10ca00" d="M108.9 378.1l2.8-4.5-2.9-2.9-2.8 4.5z"/><path color="#20ca00" d="M114.6 376.7l2.8-4.3-2.9-3.1-2.8 4.4z"/><path color="#2ccb00" d="M120.3 375.7l2.8-4.2-2.9-3.3-2.8 4.2z"/><path color="#34cb00" d="M126 375l2.9-3.9-2.9-3.6-2.9 4z"/><path color="#36cb00" d="M131.7 374.8l2.9-3.7-2.9-3.8-2.9 3.7z"/><path color="#32ca00" d="M137.4 375.1l2.9-3.4-2.8-4-2.9 3.4z"/><path color="#28ca00" d="M143.1 375.8l2.9-3.1-2.8-4.1-2.9 3.1z"/><path color="#19c900" d="M148.8 377l2.9-2.7-2.8-4.3-2.9 2.8z"/><path color="#05c800" d="M154.5 378.7l2.9-2.4-2.8-4.4-2.9 2.4z"/><path color="#00c40f" d="M160.1 380.7l2.9-2.1-2.8-4.5-2.9 2.1z"/><path color="#00be25" d="M165.8 383.1l2.9-1.8-2.8-4.5-2.9 1.8z"/><path color="#00b73e" d="M171.4 385.8l2.8-1.5-2.8-4.4-2.9 1.5z"/><path color="#00b057" d="M177 388.7l2.8-1.3-2.7-4.3-2.8 1.2z"/><path color="#00a970" d="M182.6 391.6l2.8-1.1-2.7-4.2-2.8 1z"/><path color="#00ad7f" d="M72.3 394.3l2.7-4.2-2.9-2.1-2.7 4.2z"/><path color="#00b16c" d="M77.9 392.3l2.7-4.3-2.9-2.1-2.7 4.3z"/><path color="#00b659" d="M83.5 390.2l2.8-4.4-2.9-2.3-2.7 4.4z"/><path color="#00bb46" d="M89.1 388.2l2.8-4.5-2.9-2.4-2.8 4.5z"/><path color="#00bf33" d="M94.7 386.2l2.8-4.6-2.9-2.5-2.8 4.6z"/><path color="#00c322" d="M100.4 384.3l2.8-4.6-2.9-2.7-2.8 4.6z"/><path color="#00c612" d="M106.1 382.6l2.8-4.5-2.9-2.9-2.8 4.6z"/><path color="#00c905" d="M111.7 381.1l2.8-4.4-2.9-3.1-2.8 4.5z"/><path color="#07cb00" d="M117.4 380l2.8-4.3-2.9-3.3-2.8 4.3z"/><path color="#11cb00" d="M123.1 379.2l2.8-4.1-2.9-3.5-2.8 4.2z"/><path color="#16cb00" d="M128.8 378.7l2.9-3.9-2.9-3.7-2.9 3.9z"/><path color="#15cb00" d="M134.5 378.7l2.9-3.6-2.8-3.9-2.9 3.7z"/><path color="#0fca00" d="M140.2 379.2l2.9-3.3-2.8-4.1-2.9 3.4z"/><path color="#04ca00" d="M145.9 380.1l2.9-3-2.8-4.3-2.9 3.1z"/><path color="#00c70a" d="M151.6 381.4l2.9-2.7-2.8-4.4-2.9 2.7z"/><path color="#00c31a" d="M157.2 383.1l2.9-2.4-2.8-4.5-2.9 2.4z"/><path color="#00be2d" d="M162.9 385.2l2.9-2.1-2.8-4.5-2.9 2.1z"/><path color="#00b843" d="M168.5 387.6l2.9-1.8-2.8-4.5-2.9 1.8z"/><path color="#00b25a" d="M174.1 390.2l2.8-1.5-2.8-4.4-2.8 1.5z"/><path color="#00ab73" d="M179.7 393l2.8-1.3-2.7-4.3-2.8 1.3z"/><path color="#00ac87" d="M75.1 396.5l2.7-4.2-2.9-2.2-2.7 4.2z"/><path color="#00b075" d="M80.7 394.5l2.7-4.3-2.9-2.3-2.7 4.3z"/><path color="#00b463" d="M86.3 392.6l2.8-4.4-2.9-2.4-2.8 4.4z"/><path color="#00b952" d="M92 390.7l2.8-4.5-2.9-2.5-2.8 4.5z"/><path color="#00bd41" d="M97.6 388.8l2.8-4.5-2.9-2.7-2.8 4.6z"/><path color="#00c031" d="M103.3 387.1l2.8-4.5-2.9-2.9-2.8 4.6z"/><path color="#00c423" d="M108.9 385.6l2.8-4.5-2.9-3.1-2.8 4.5z"/><path color="#00c618" d="M114.6 384.4l2.8-4.4-2.9-3.3-2.8 4.4z"/><path color="#00c80f" d="M120.3 383.4l2.8-4.2-2.9-3.5-2.8 4.3z"/><path color="#00c909" d="M126 382.8l2.8-4.1-2.9-3.7-2.8 4.1z"/><path color="#00ca08" d="M131.7 382.5l2.9-3.8-2.8-3.9-2.9 3.9z"/><path color="#00c90a" d="M137.4 382.7l2.9-3.6-2.8-4.1-2.9 3.6z"/><path color="#00c710" d="M143 383.3l2.9-3.3-2.8-4.2-2.9 3.3z"/><path color="#00c51a" d="M148.7 384.4l2.9-3-2.8-4.4-2.9 3z"/><path color="#00c127" d="M154.4 385.8l2.9-2.7-2.8-4.4-2.9 2.7z"/><path color="#00bd38" d="M160 387.6l2.9-2.4-2.8-4.5-2.9 2.4z"/><path color="#00b84b" d="M165.7 389.7l2.9-2.1-2.8-4.5-2.9 2.1z"/><path color="#00b260" d="M171.3 392l2.8-1.8-2.8-4.4-2.9 1.8z"/><path color="#00ac76" d="M176.9 394.5l2.8-1.6-2.7-4.3-2.8 1.5z"/><path color="#00aa91" d="M78 398.7l2.7-4.2-2.9-2.2-2.7 4.2z"/><path color="#00ae80" d="M83.6 396.9l2.8-4.3-2.9-2.4-2.7 4.3z"/><path color="#00b36f" d="M89.2 395.1l2.8-4.4-2.9-2.5-2.8 4.4z"/><path color="#00b75f" d="M94.8 393.3l2.8-4.5-2.9-2.7-2.8 4.5z"/><path color="#00ba4f" d="M100.5 391.6l2.8-4.5-2.9-2.8-2.8 4.5z"/><path color="#00be41" d="M106.1 390.1l2.8-4.5-2.9-3-2.8 4.5z"/><path color="#00c035" d="M111.8 388.8l2.8-4.4-2.9-3.2-2.8 4.5z"/><path color="#00c32b" d="M117.5 387.7l2.8-4.3-2.9-3.4-2.8 4.4z"/><path color="#00c425" d="M123.1 386.9l2.8-4.2-2.9-3.6-2.8 4.2z"/><path color="#00c521" d="M128.8 386.5l2.8-4-2.8-3.8-2.8 4.1z"/><path color="#00c521" d="M134.5 386.5l2.9-3.7-2.8-4-2.9 3.8z"/><path color="#00c424" d="M140.2 386.8l2.9-3.5-2.8-4.2-2.9 3.6z"/><path color="#00c22c" d="M145.9 387.6l2.9-3.2-2.8-4.3-2.9 3.3z"/><path color="#00bf36" d="M151.5 388.7l2.9-2.9-2.8-4.4-2.9 3z"/><path color="#00bb44" d="M157.2 390.2l2.9-2.6-2.8-4.4-2.9 2.7z"/><path color="#00b755" d="M162.8 392l2.9-2.3-2.8-4.4-2.9 2.4z"/><path color="#00b268" d="M168.4 394l2.9-2-2.8-4.4-2.9 2.1z"/><path color="#00ac7c" d="M174 396.3l2.8-1.8-2.7-4.3-2.8 1.8z"/><path color="#00a89a" d="M80.8 401l2.7-4.1-2.9-2.3-2.7 4.2z"/><path color="#00ac8b" d="M86.5 399.3l2.8-4.2-2.9-2.5-2.8 4.3z"/><path color="#00b07c" d="M92.1 397.6l2.8-4.3-2.9-2.6-2.8 4.4z"/><path color="#00b46d" d="M97.7 396l2.8-4.4-2.9-2.8-2.8 4.5z"/><path color="#00b75f" d="M103.3 394.5l2.8-4.4-2.9-3-2.8 4.5z"/><path color="#00ba53" d="M109 393.2l2.8-4.4-2.9-3.2-2.8 4.5z"/><path color="#00bd48" d="M114.6 392l2.8-4.3-2.9-3.3-2.8 4.4z"/><path color="#00bf40" d="M120.3 391.2l2.8-4.2-2.9-3.5-2.8 4.3z"/><path color="#00c03b" d="M126 390.6l2.8-4.1-2.8-3.7-2.8 4.2z"/><path color="#00c039" d="M131.6 390.3l2.8-3.9-2.8-3.9-2.8 4z"/><path color="#00c03a" d="M137.3 390.4l2.9-3.6-2.8-4.1-2.9 3.7z"/><path color="#00be3f" d="M143 390.9l2.9-3.4-2.8-4.2-2.9 3.5z"/><path color="#00bc47" d="M148.7 391.8l2.9-3.1-2.8-4.3-2.9 3.2z"/><path color="#00b953" d="M154.3 393l2.9-2.8-2.8-4.4-2.9 2.9z"/><path color="#00b661" d="M160 394.5l2.9-2.5-2.8-4.4-2.9 2.6z"/><path color="#00b171" d="M165.6 396.3l2.9-2.3-2.8-4.4-2.9 2.3z"/><path color="#00ac84" d="M171.2 398.3l2.8-2-2.8-4.3-2.9 2z"/><path color="#00a7a5" d="M83.7 403.3l2.8-4.1-2.9-2.4-2.7 4.1z"/><path color="#00aa97" d="M89.3 401.8l2.8-4.2-2.9-2.6-2.8 4.2z"/><path color="#00ae89" d="M94.9 400.3l2.8-4.3-2.9-2.7-2.8 4.3z"/><path color="#00b17b" d="M100.5 398.8l2.8-4.3-2.9-2.9-2.8 4.4z"/><path color="#00b46f" d="M106.2 397.5l2.8-4.3-2.9-3.1-2.8 4.4z"/><path color="#00b764" d="M111.8 396.3l2.8-4.3-2.9-3.3-2.8 4.4z"/><path color="#00b95c" d="M117.5 395.4l2.8-4.2-2.8-3.4-2.8 4.3z"/><path color="#00ba56" d="M123.1 394.7l2.8-4.1-2.8-3.6-2.8 4.2z"/><path color="#00bb52" d="M128.8 394.3l2.8-3.9-2.8-3.8-2.8 4.1z"/><path color="#00bb52" d="M134.5 394.2l2.8-3.7-2.8-4-2.8 3.9z"/><path color="#00ba54" d="M140.1 394.4l2.9-3.5-2.8-4.1-2.9 3.6z"/><path color="#00b95a" d="M145.8 395l2.9-3.3-2.8-4.2-2.9 3.4z"/><path color="#00b663" d="M151.5 396l2.9-3-2.8-4.3-2.9 3.1z"/><path color="#00b36f" d="M157.1 397.2l2.9-2.7-2.8-4.3-2.9 2.8z"/><path color="#00b07d" d="M162.7 398.7l2.9-2.5-2.8-4.3-2.9 2.5z"/><path color="#00ab8d" d="M168.3 400.5l2.8-2.2-2.8-4.3-2.9 2.3z"/><path color="#00a3ad" d="M86.5 405.8l2.8-4-2.9-2.5-2.8 4.1z"/><path color="#00a8a3" d="M92.1 404.4l2.8-4.1-2.9-2.6-2.8 4.2z"/><path color="#00ab96" d="M97.8 403l2.8-4.2-2.9-2.8-2.8 4.3z"/><path color="#00ae8a" d="M103.4 401.7l2.8-4.2-2.9-3-2.8 4.3z"/><path color="#00b180" d="M109 400.5l2.8-4.2-2.9-3.2-2.8 4.3z"/><path color="#00b377" d="M114.7 399.5l2.8-4.2-2.8-3.3-2.8 4.3z"/><path color="#00b570" d="M120.3 398.8l2.8-4.1-2.8-3.5-2.8 4.2z"/><path color="#00b66b" d="M126 398.2l2.8-4-2.8-3.7-2.8 4.1z"/><path color="#00b669" d="M131.6 398l2.8-3.8-2.8-3.9-2.8 3.9z"/><path color="#00b66a" d="M137.3 398.1l2.8-3.6-2.8-4-2.8 3.7z"/><path color="#00b56e" d="M143 398.4l2.9-3.4-2.8-4.1-2.9 3.5z"/><path color="#00b374" d="M148.6 399.1l2.9-3.1-2.8-4.2-2.9 3.3z"/><path color="#00b17e" d="M154.2 400.1l2.9-2.9-2.8-4.2-2.9 3z"/><path color="#00ad89" d="M159.9 401.4l2.9-2.6-2.8-4.2-2.9 2.7z"/><path color="#00aa97" d="M165.5 402.9l2.8-2.4-2.8-4.2-2.9 2.5z"/><path color="#009aaf" d="M89.4 408.2l2.8-3.9-2.8-2.6-2.8 4z"/><path color="#00a5ae" d="M95 407l2.8-4-2.8-2.7-2.8 4.1z"/><path color="#00a9a4" d="M100.6 405.7l2.8-4-2.8-2.9-2.8 4.2z"/><path color="#00ab9a" d="M106.2 404.6l2.8-4.1-2.8-3-2.8 4.2z"/><path color="#00ae91" d="M111.9 403.6l2.8-4.1-2.8-3.2-2.8 4.2z"/><path color="#00af8a" d="M117.5 402.8l2.8-4-2.8-3.4-2.8 4.2z"/><path color="#00b184" d="M123.2 402.2l2.8-3.9-2.8-3.6-2.8 4.1z"/><path color="#00b181" d="M128.8 401.8l2.8-3.8-2.8-3.7-2.8 4z"/><path color="#00b280" d="M134.5 401.7l2.8-3.7-2.8-3.9-2.8 3.8z"/><path color="#00b182" d="M140.1 401.9l2.8-3.5-2.8-4-2.8 3.6z"/><path color="#00b087" d="M145.8 402.4l2.8-3.2-2.8-4.1-2.9 3.4z"/><path color="#00ae8e" d="M151.4 403.1l2.9-3-2.8-4.1-2.9 3.1z"/><path color="#00ab97" d="M157 404.1l2.9-2.8-2.8-4.1-2.9 2.9z"/><path color="#00a8a3" d="M162.6 405.4l2.8-2.5-2.8-4.1-2.9 2.6z"/><path color="#0091b0" d="M92.2 410.7l2.8-3.8-2.8-2.6-2.8 3.9z"/><path color="#009ab0" d="M97.8 409.6l2.8-3.9-2.8-2.8-2.8 4z"/><path color="#00a3af" d="M103.4 408.5l2.8-3.9-2.8-2.9-2.8 4z"/><path color="#00a8aa" d="M109.1 407.6l2.8-3.9-2.8-3.1-2.8 4.1z"/><path color="#00aaa2" d="M114.7 406.7l2.8-3.9-2.8-3.3-2.8 4.1z"/><path color="#00ab9c" d="M120.3 406.1l2.8-3.9-2.8-3.4-2.8 4z"/><path color="#00ac98" d="M126 405.6l2.8-3.8-2.8-3.6-2.8 3.9z"/><path color="#00ad96" d="M131.6 405.4l2.8-3.7-2.8-3.7-2.8 3.8z"/><path color="#00ad97" d="M137.3 405.4l2.8-3.5-2.8-3.8-2.8 3.7z"/><path color="#00ac9a" d="M142.9 405.7l2.8-3.3-2.8-3.9-2.8 3.5z"/><path color="#00aa9f" d="M148.5 406.2l2.8-3.1-2.8-4-2.8 3.2z"/><path color="#00a8a6" d="M154.2 407l2.8-2.9-2.8-4-2.9 3z"/><path color="#00a4ae" d="M159.8 408l2.8-2.6-2.8-4-2.9 2.8z"/><path color="#0088b2" d="M95.1 413.3l2.8-3.7-2.8-2.6-2.8 3.8z"/><path color="#0090b1" d="M100.7 412.3l2.8-3.7-2.8-2.8-2.8 3.9z"/><path color="#0098b1" d="M106.3 411.3l2.8-3.8-2.8-2.9-2.8 3.9z"/><path color="#009eb0" d="M111.9 410.5l2.8-3.8-2.8-3.1-2.8 3.9z"/><path color="#00a4af" d="M117.5 409.8l2.8-3.8-2.8-3.3-2.8 3.9z"/><path color="#00a7af" d="M123.2 409.3l2.8-3.7-2.8-3.4-2.8 3.9z"/><path color="#00a8ac" d="M128.8 409l2.8-3.6-2.8-3.6-2.8 3.8z"/><path color="#00a8ab" d="M134.4 408.9l2.8-3.5-2.8-3.7-2.8 3.7z"/><path color="#00a8ac" d="M140.1 409l2.8-3.3-2.8-3.8-2.8 3.5z"/><path color="#00a6af" d="M145.7 409.4l2.8-3.1-2.8-3.8-2.8 3.3z"/><path color="#00a1af" d="M151.3 409.9l2.8-2.9-2.8-3.9-2.8 3.1z"/><path color="#009ab0" d="M156.9 410.7l2.8-2.7-2.8-3.9-2.8 2.9z"/><path color="#007eb3" d="M97.9 415.8l2.8-3.5-2.8-2.7-2.8 3.7z"/><path color="#0086b3" d="M103.5 414.9l2.8-3.6-2.8-2.8-2.8 3.7z"/><path color="#008cb2" d="M109.1 414.1l2.8-3.6-2.8-3-2.8 3.8z"/><path color="#0092b2" d="M114.7 413.5l2.8-3.6-2.8-3.1-2.8 3.8z"/><path color="#0096b1" d="M120.3 412.9l2.8-3.6-2.8-3.2-2.8 3.8z"/><path color="#0099b1" d="M126 412.5l2.8-3.5-2.8-3.4-2.8 3.7z"/><path color="#009ab1" d="M131.6 412.3l2.8-3.4-2.8-3.5-2.8 3.6z"/><path color="#009ab1" d="M137.2 412.3l2.8-3.3-2.8-3.6-2.8 3.5z"/><path color="#0098b1" d="M142.9 412.5l2.8-3.1-2.8-3.7-2.8 3.3z"/><path color="#0094b1" d="M148.5 412.9l2.8-3-2.8-3.7-2.8 3.1z"/><path color="#008fb2" d="M154.1 413.5l2.8-2.8-2.8-3.7-2.8 2.9z"/><path color="#0075b4" d="M100.7 418.3l2.8-3.4-2.8-2.7-2.8 3.5z"/><path color="#007bb4" d="M106.3 417.6l2.8-3.4-2.8-2.8-2.8 3.6z"/><path color="#0081b4" d="M111.9 416.9l2.8-3.5-2.8-2.9-2.8 3.6z"/><path color="#0085b4" d="M117.5 416.4l2.8-3.5-2.8-3.1-2.8 3.6z"/><path color="#0088b3" d="M123.2 415.9l2.8-3.4-2.8-3.2-2.8 3.6z"/><path color="#008ab3" d="M128.8 415.7l2.8-3.3-2.8-3.3-2.8 3.5z"/><path color="#008bb3" d="M134.4 415.5l2.8-3.2-2.8-3.4-2.8 3.4z"/><path color="#008ab3" d="M140 415.6l2.8-3.1-2.8-3.5-2.8 3.3z"/><path color="#0088b3" d="M145.7 415.9l2.8-3-2.8-3.6-2.8 3.1z"/><path color="#0084b3" d="M151.3 416.3l2.8-2.8-2.8-3.6-2.8 3z"/><path color="#006cb5" d="M103.5 420.8l2.8-3.2-2.8-2.6-2.8 3.4z"/><path color="#0071b5" d="M109.1 420.2l2.8-3.3-2.8-2.8-2.8 3.4z"/><path color="#0075b5" d="M114.7 419.6l2.8-3.3-2.8-2.9-2.8 3.5z"/><path color="#0079b5" d="M120.4 419.2l2.8-3.3-2.8-3-2.8 3.5z"/><path color="#007bb5" d="M126 418.9l2.8-3.2-2.8-3.1-2.8 3.4z"/><path color="#007db5" d="M131.6 418.7l2.8-3.2-2.8-3.2-2.8 3.3z"/><path color="#007db5" d="M137.2 418.7l2.8-3.1-2.8-3.3-2.8 3.2z"/><path color="#007bb5" d="M142.8 418.8l2.8-2.9-2.8-3.4-2.8 3.1z"/><path color="#0078b5" d="M148.4 419.1l2.8-2.8-2.8-3.4-2.8 3z"/><path color="#0063b6" d="M106.3 423.2l2.8-3.1-2.8-2.6-2.8 3.2z"/><path color="#0067b6" d="M112 422.7l2.8-3.1-2.8-2.7-2.8 3.3z"/><path color="#006bb6" d="M117.6 422.3l2.8-3.1-2.8-2.8-2.8 3.3z"/><path color="#006db6" d="M123.2 422l2.8-3.1-2.8-3-2.8 3.3z"/><path color="#006fb6" d="M128.8 421.7l2.8-3-2.8-3-2.8 3.2z"/><path color="#006fb6" d="M134.4 421.6l2.8-3-2.8-3.1-2.8 3.2z"/><path color="#006fb6" d="M140 421.7l2.8-2.9-2.8-3.2-2.8 3.1z"/><path color="#006db6" d="M145.6 421.9l2.8-2.8-2.8-3.2-2.8 2.9z"/><path color="#005ab7" d="M109.2 425.6l2.8-2.9-2.8-2.6-2.8 3.1z"/><path color="#005db7" d="M114.8 425.2l2.8-2.9-2.8-2.7-2.8 3.1z"/><path color="#0060b7" d="M120.4 424.9l2.8-2.9-2.8-2.8-2.8 3.1z"/><path color="#0062b7" d="M126 424.6l2.8-2.9-2.8-2.9-2.8 3.1z"/><path color="#0063b7" d="M131.6 424.5l2.8-2.9-2.8-2.9-2.8 3z"/><path color="#0063b7" d="M137.2 424.5l2.8-2.8-2.8-3-2.8 3z"/><path color="#0062b7" d="M142.8 424.5l2.8-2.7-2.8-3-2.8 2.9z"/><path color="#0051b7" d="M112 428l2.8-2.7-2.8-2.5-2.8 2.9z"/><path color="#0054b7" d="M117.6 427.7l2.8-2.8-2.8-2.6-2.8 2.9z"/><path color="#0056b7" d="M123.2 427.4l2.8-2.8-2.8-2.7-2.8 2.9z"/><path color="#0058b7" d="M128.8 427.2l2.8-2.7-2.8-2.8-2.8 2.9z"/><path color="#0058b7" d="M134.4 427.1l2.8-2.7-2.8-2.8-2.8 2.9z"/><path color="#0058b7" d="M140 427.1l2.8-2.6-2.8-2.9-2.8 2.8z"/><path color="#004ab7" d="M114.8 430.2l2.8-2.6-2.8-2.4-2.8 2.7z"/><path color="#004cb7" d="M120.4 430l2.8-2.6-2.8-2.5-2.8 2.8z"/><path color="#004db7" d="M126 429.8l2.8-2.6-2.8-2.6-2.8 2.8z"/><path color="#004eb7" d="M131.6 429.7l2.8-2.6-2.8-2.6-2.8 2.7z"/><path color="#004eb7" d="M137.2 429.6l2.8-2.5-2.8-2.7-2.8 2.7z"/><path color="#0042b6" d="M117.6 432.4l2.8-2.4-2.8-2.3-2.8 2.6z"/><path color="#0044b7" d="M123.2 432.2l2.8-2.4-2.8-2.4-2.8 2.6z"/><path color="#0045b7" d="M128.8 432.1l2.8-2.4-2.8-2.5-2.8 2.6z"/><path color="#0045b7" d="M134.4 432l2.8-2.4-2.8-2.5-2.8 2.6z"/><path color="#003bb6" d="M120.4 434.5l2.8-2.3-2.8-2.2-2.8 2.4z"/><path color="#003db6" d="M126 434.4l2.8-2.3-2.8-2.3-2.8 2.4z"/><path color="#003db6" d="M131.6 434.3l2.8-2.3-2.8-2.3-2.8 2.4z"/><path color="#0035b4" d="M123.2 436.5l2.8-2.1-2.8-2.2-2.8 2.3z"/><path color="#0036b5" d="M128.8 436.4l2.8-2.1-2.8-2.2-2.8 2.3z"/><path color="#0030b3" d="M126 438.5l2.8-2-2.8-2.1-2.8 2.1z"/></g><path d="M57.0 355.0 58.0 353.8 59.0 352.5 60.0 351.3 61.0 350.2 62.0 349.0 63.0 347.9 64.0 347.1 65.0 346.1 66.0 345.0 67.0 343.9 68.0 342.9 69.0 341.9 70.0 341.0 71.0 340.0 72.0 339.4 73.0 338.5 74.0 337.6 75.0 336.8 76.0 336.0 77.0 335.4 78.0 334.7 79.0 333.9 80.0 333.2 81.0 332.5 82.0 331.9 83.0 331.5 84.0 330.9 85.0 330.3 86.0 329.7 87.0 329.2 88.0 328.9 89.0 328.4 90.0 327.9 91.0 327.5 92.0 327.2 93.0 326.8 94.0 326.5 95.0 326.1 96.0 325.8 97.0 325.6 98.0 325.3 99.0 325.1 100.0 324.8 101.0 324.7 102.0 324.5 103.0 324.3 104.0 324.1 105.0 323.9 106.0 323.8 107.0 323.7 108.0 323.6 109.0 323.5 110.0 323.4 111.0 323.3 112.0 323.3 113.0 323.2 114.0 323.2 115.0 323.1 116.0 323.1 117.0 323.1 118.0 323.0 119.0 323.0 120.0 323.0 121.0 323.0 122.0 323.0 123.0 323.0 124.0 323.0 125.0 323.0 126.0 323.0 127.0 323.6 128.0 324.1 129.0 324.5 130.0 325.0 131.0 325.5 132.0 326.1 133.0 326.4 134.0 326.9 135.0 327.4 136.0 327.9 137.0 328.2 138.0 328.7 139.0 329.2 140.0 329.7 141.0 330.1 142.0 330.5 143.0 330.9 144.0 331.4 145.0 331.9 146.0 332.2 147.0 332.7 148.0 333.2 149.0 333.7 150.0 334.3 151.0 334.6 152.0 335.1 153.0 335.7 154.0 336.2 155.0 336.6 156.0 337.2 157.0 337.7 158.0 338.3 159.0 339.0 160.0 339.4 161.0 340.0 162.0 340.7 163.0 341.3 164.0 342.0 165.0 342.5 166.0 343.2 167.0 343.9 168.0 344.7 169.0 345.4 170.0 346.0 171.0 346.8 172.0 347.6 173.0 348.4 174.0 349.3" fill="none" stroke="#111" stroke-width="1.50" stroke-linejoin="round" stroke-linecap="round" opacity=".85"/><text x="39.4" y="407.0" font-size="8.00" text-anchor="end">0</text><path d="M42.4 406.0h-1.6" stroke="#222" stroke-width=".6"/><text x="37.1" y="386.2" font-size="8.00" text-anchor="end">5x10<tspan font-size="4.60" dy="-3.20">6</tspan></text><path d="M41.3 384.9h-1.6" stroke="#222" stroke-width=".6"/><text x="36.1" y="365.1" font-size="8.00" text-anchor="end">1x10<tspan font-size="4.60" dy="-3.20">7</tspan></text><path d="M40.3 363.8h-1.6" stroke="#222" stroke-width=".6"/><text x="35.1" y="344.0" font-size="8.00" text-anchor="end">1.5x10<tspan font-size="4.60" dy="-3.20">7</tspan></text><path d="M39.3 342.7h-1.6" stroke="#222" stroke-width=".6"/><text x="34.1" y="322.9" font-size="8.00" text-anchor="end">2x10<tspan font-size="4.60" dy="-3.20">7</tspan></text><path d="M38.3 321.6h-1.6" stroke="#222" stroke-width=".6"/><text x="128.7" y="479.9" font-size="7.90">50</text><text x="144.4" y="472.1" font-size="7.90">100</text><text x="160.9" y="464.2" font-size="7.90">150</text><text x="177.4" y="456.4" font-size="7.90">200</text><text x="193.9" y="448.5" font-size="7.90">250</text><text x="210.4" y="440.7" font-size="7.90">300</text><text x="123.1" y="480.1" font-size="7.90" text-anchor="end">1</text><text x="102.8" y="470.3" font-size="7.90" text-anchor="end">2</text><text x="82.3" y="460.5" font-size="7.90" text-anchor="end">3</text><text x="61.8" y="450.6" font-size="7.90" text-anchor="end">4</text><text x="41.2" y="440.8" font-size="7.90" text-anchor="end">5</text><path class="g" d="M277.5 434.7L271.5 322.1M293.5 400.9L289.5 318.1M310.5 395.4L307.5 314.2M326.5 390L325.5 310.4M343.5 384.7L342.5 306.6M359.5 379.5L359.5 302.9M275.8 406.5L359.2 379.5M274.7 385.4L359.2 360.3M273.7 364.3L359.1 341.2M272.7 343.2L359.1 322M271.7 322.1L359 302.9M441.5 434.8L446.5 322.3M431.5 402.8L434.5 319.5M419.5 398.9L421.5 316.8M407.5 395L409.5 314M395.5 391.1L396.5 311.2M383.5 387.2L384.5 308.4M371.5 383.4L371.5 305.7M359.5 379.5L359.5 302.9M443.1 406.7L359.2 379.5M444 385.6L359.2 360.3M445 364.5L359.1 341.2M445.9 343.4L359.1 322M446.9 322.3L359 302.9"/><path class="fl" d="M359.3 474L441.8 434.8L359.3 405L277.1 434.7Z"/><path d="M424.4 428.5 424.0 428.9 423.1 429.7 422.6 430.1 421.7 430.9 421.2 431.3 420.2 432.0 419.4 432.6 418.7 433.2 417.6 433.9 417.0 434.3 415.9 435.0 414.8 435.7 413.6 436.4 413.0 436.8 411.8 437.4 410.5 438.1 409.3 438.8 408.0 439.4 406.6 440.1 405.3 440.7 403.9 441.3 402.5 441.9 401.0 442.6 399.5 443.1 398.1 443.7 396.5 444.3 395.7 444.6 394.2 445.1 392.6 445.7 391.0 446.2 390.2 446.4 388.5 447.0 386.9 447.5 386.0 447.7 384.3 448.2 383.3 448.5 381.7 448.9 380.2 449.3 379.0 449.5 377.4 449.9 376.2 450.2 374.7 450.5 373.4 450.8 372.2 451.0 370.5 451.4 369.6 451.5 367.6 451.9 366.6 452.1 365.4 452.3 363.6 452.6 362.5 452.7 361.3 452.9 359.4 453.1 358.3 453.3 357.2 453.4 355.6 453.6 353.9 453.8 352.8 453.9 351.7 454.0 350.3 454.1 348.6 454.2 347.0 454.3 345.8 454.4 344.6 454.4 343.4 454.5 342.1 454.5 340.8 454.6 339.3 454.6 337.8 454.6 336.4 454.6 335.0 454.6 333.6 454.6 332.3 454.5 330.9 454.5 329.6 454.4 328.3 454.4 327.1 454.3 325.6 454.2 324.1 454.1 322.4 453.9 321.1 453.8 319.9 453.6 318.8 453.5 317.2 453.3 315.5 453.0 315.3 453.0" fill="none" stroke="#5ee860" stroke-width=".7"/><path d="M286.2 439.0 285.8 438.4 285.6 438.0 285.3 437.5 285.0 436.8 284.8 436.1 284.6 435.4 284.5 434.9 284.4 434.4 284.3 433.8 284.2 433.3 284.2 432.7 284.2 432.1" fill="none" stroke="#5ee860" stroke-width=".7"/><path d="M404.5 421.3 404.4 421.8 404.2 422.3 404.0 422.8 403.7 423.4 403.4 424.1 403.1 424.6 402.8 425.1 402.4 425.6 401.9 426.4 401.6 426.8 401.2 427.3 400.5 428.0 400.1 428.5 399.4 429.1 398.8 429.7 398.2 430.2 397.5 430.8 396.6 431.5 396.0 431.9 395.0 432.7 394.4 433.0 393.3 433.7 392.1 434.4 391.0 435.1 390.3 435.4 389.1 436.0 387.8 436.7 386.4 437.3 385.1 437.9 383.6 438.5 382.2 439.0 380.7 439.6 379.9 439.9 378.4 440.4 376.8 440.9 375.3 441.3 374.3 441.6 372.6 442.1 371.7 442.3 370.0 442.7 368.7 443.0 367.2 443.4 366.0 443.6 364.4 443.9 363.5 444.1 361.5 444.4 360.5 444.6 359.2 444.8 357.4 445.0 356.3 445.2 355.2 445.3 353.4 445.5 351.9 445.6 350.8 445.7 349.6 445.8 348.4 445.9 346.8 445.9 345.3 446.0 343.8 446.0 342.4 446.0 341.0 446.0 339.6 446.0 338.3 445.9 337.0 445.9 335.8 445.8 334.6 445.7 333.2 445.6 331.5 445.4 330.0 445.2 329.0 445.1 327.6 444.8 325.9 444.5 325.0 444.3 323.1 443.9 322.2 443.7 320.5 443.2 319.0 442.6 318.2 442.3 316.8 441.7 315.4 441.1 314.7 440.7 313.6 440.1 312.5 439.3 311.8 438.8 311.1 438.1 310.5 437.6 309.9 436.9 309.5 436.4 309.1 435.8 308.7 435.1 308.4 434.5 308.2 434.1 308.1 433.5 307.9 433.0 307.8 432.4 307.8 431.8 307.7 431.2 307.7 430.7 307.8 430.1 307.9 429.6 308.0 429.1 308.1 428.5 308.3 427.8 308.6 427.2 308.8 426.7 309.0 426.2 309.2 425.8 309.5 425.2 309.9 424.5 310.2 424.0 310.5 423.6 310.9 423.0 311.4 422.3 311.4 422.3" fill="none" stroke="#78e030" stroke-width=".7"/><path d="M368.3 414.9 369.9 415.3 371.3 415.8 372.5 416.4 373.3 416.8 374.2 417.3 375.2 418.0 375.6 418.3 376.2 418.9 376.7 419.5 377.1 419.9 377.4 420.5 377.8 421.1 378.0 421.7 378.1 422.1 378.2 422.6 378.3 423.2 378.3 423.7 378.2 424.3 378.0 424.9 377.8 425.5 377.6 425.9 377.4 426.4 377.0 427.0 376.4 427.7 376.1 428.1 375.4 428.8 374.8 429.3 374.0 429.9 373.3 430.4 372.2 431.0 371.2 431.6 370.4 432.0 369.1 432.6 367.8 433.2 366.3 433.7 365.4 434.0 364.0 434.5 362.3 434.9 361.2 435.2 359.7 435.5 358.5 435.8 356.8 436.1 355.8 436.2 354.3 436.4 352.5 436.5 351.4 436.6 350.1 436.7 348.8 436.7 347.5 436.7 346.0 436.6 344.4 436.5 343.1 436.4 342.0 436.2 340.3 435.9 339.2 435.6 337.6 435.1 336.2 434.6 335.0 433.9 333.9 433.2 333.5 432.8 332.8 432.1 332.4 431.5 332.2 431.1 332.0 430.6 331.9 430.0 331.9 429.5 331.9 428.9 332.0 428.3 332.2 427.7 332.5 427.1 332.8 426.5 333.0 426.1 333.4 425.6 334.0 424.8 334.4 424.4 334.8 424.0 335.5 423.3 336.0 422.9 336.9 422.2 337.4 421.9 338.3 421.2 339.1 420.7 339.9 420.2 341.0 419.6 341.9 419.1 342.8 418.7 344.0 418.1 345.3 417.6 346.6 417.1 348.0 416.6 349.4 416.1 351.0 415.6 352.0 415.4 353.4 415.0 355.2 414.7 356.2 414.5 357.5 414.3 359.3 414.2 360.6 414.1 362.0 414.1 363.4 414.1 364.6 414.2 365.6 414.4 367.5 414.7 368.3 414.9" fill="none" stroke="#f8cc50" stroke-width=".7"/><path d="M375.8 466.2l.9 .6M392.3 458.3l.9 .6M408.8 450.5l.9 .6M425.3 442.6l.9 .6M347.6 468.4l-.9 .6M335.8 462.8l-.9 .6M324.1 457.2l-.9 .6M312.3 451.5l-.9 .6M300.6 445.9l-.9 .6M288.8 440.3l-.9 .6" stroke="#111" stroke-width="1"/><g class="s"><path color="#6e7300" d="M359.1 328.6l2.9-.5-2.9-.2-2.9 .8z"/><path color="#6e7300" d="M356.2 329.2l2.9-.6-2.9 .1-2.9 .8z"/><path color="#727300" d="M362 328.6l2.9-.3-2.9-.3-2.9 .5z"/><path color="#6e7300" d="M353.3 329.8l2.9-.6-2.9 .3-2.9 .9z"/><path color="#737100" d="M359.1 328.9l2.9-.3-2.9-0-2.9 .6z"/><path color="#737000" d="M364.9 328.7l2.9-0-2.9-.4-2.9 .3z"/><path color="#6e7300" d="M350.5 330.5l2.9-.7-2.9 .6-2.9 .9z"/><path color="#736f00" d="M356.2 329.3l2.9-.4-2.9 .2-2.9 .6z"/><path color="#736c00" d="M362 328.8l2.9-.1-2.9-.1-2.9 .3z"/><path color="#736d00" d="M367.8 329l2.9 .2-2.9-.5-2.9 0z"/><path color="#6d7300" d="M347.6 331.3l2.9-.8-2.9 .8-2.9 1z"/><path color="#736e00" d="M353.4 329.8l2.9-.5-2.9 .5-2.9 .7z"/><path color="#736800" d="M359.1 328.9l2.9-.1-2.9 .1-2.9 .4z"/><path color="#736700" d="M364.9 328.9l2.9 .2-2.9-.3-2.9 .1z"/><path color="#736b00" d="M370.6 329.5l2.9 .5-2.9-.7-2.9-.2z"/><path color="#6b7300" d="M344.7 332.2l2.9-.9-2.9 1.1-2.9 1.1z"/><path color="#736d00" d="M350.5 330.3l2.9-.6-2.9 .7-2.9 .8z"/><path color="#736500" d="M356.2 329.2l2.9-.2-2.9 .4-2.9 .5z"/><path color="#736200" d="M362 328.8l2.9 .1-2.9-0-2.9 .1z"/><path color="#736400" d="M367.8 329.1l2.9 .4-2.9-.5-2.9-.2z"/><path color="#736b00" d="M373.5 330.2l2.9 .7-2.9-.9-2.9-.5z"/><path color="#697300" d="M341.9 333.2l2.9-1-2.9 1.3-2.9 1.2z"/><path color="#736d00" d="M347.6 331l2.9-.7-2.9 1-2.9 .9z"/><path color="#736300" d="M353.4 329.5l2.9-.3-2.9 .6-2.9 .6z"/><path color="#735d00" d="M359.1 328.7l2.9 0-2.9 .2-2.9 .2z"/><path color="#735d00" d="M364.9 328.8l2.9 .3-2.9-.2-2.9-.1z"/><path color="#736200" d="M370.7 329.6l2.9 .6-2.9-.7-2.9-.4z"/><path color="#736c00" d="M376.4 331l2.9 .8-2.9-1.1-2.9-.7z"/><path color="#667300" d="M339 334.3l2.9-1.1-2.9 1.5-2.9 1.3z"/><path color="#736e00" d="M344.7 331.8l2.9-.8-2.9 1.2-2.9 1z"/><path color="#736100" d="M350.5 329.9l2.9-.5-2.9 .8-2.9 .7z"/><path color="#735900" d="M356.2 328.9l2.9-.1-2.9 .4-2.9 .3z"/><path color="#735700" d="M362 328.5l2.9 .2-2.9-0-2.9-0z"/><path color="#735a00" d="M367.8 329l2.9 .5-2.9-.5-2.9-.3z"/><path color="#736200" d="M373.6 330.3l2.9 .8-2.9-.9-2.9-.6z"/><path color="#736e00" d="M379.3 332.2l2.9 1-2.9-1.3-2.9-.8z"/><path color="#627300" d="M336.1 335.6l2.9-1.3-2.8 1.7-2.9 1.4z"/><path color="#736f00" d="M341.9 332.7l2.9-.9-2.9 1.4-2.9 1.1z"/><path color="#736000" d="M347.6 330.5l2.9-.6-2.9 1-2.9 .8z"/><path color="#735600" d="M353.4 329.1l2.9-.2-2.9 .6-2.9 .5z"/><path color="#735100" d="M359.1 328.4l2.9 .1-2.9 .2-2.9 .1z"/><path color="#735200" d="M364.9 328.6l2.9 .4-2.9-.3-2.9-.2z"/><path color="#735800" d="M370.7 329.5l2.9 .7-2.9-.7-2.9-.5z"/><path color="#736300" d="M376.5 331.2l2.9 .9-2.9-1.1-2.9-.8z"/><path color="#737300" d="M382.2 333.6l2.8 1.1-2.9-1.5-2.9-1z"/><path color="#5d7300" d="M333.3 337l2.9-1.4-2.8 1.8-2.8 1.6z"/><path color="#737200" d="M339 333.8l2.9-1.1-2.9 1.6-2.9 1.3z"/><path color="#736000" d="M344.7 331.3l2.9-.7-2.9 1.2-2.9 .9z"/><path color="#735400" d="M350.5 329.5l2.9-.4-2.9 .9-2.9 .6z"/><path color="#734d00" d="M356.3 328.5l2.9-0-2.9 .4-2.9 .2z"/><path color="#734b00" d="M362 328.3l2.9 .3-2.9-0-2.9-.1z"/><path color="#734f00" d="M367.8 328.9l2.9 .6-2.9-.5-2.9-.4z"/><path color="#735800" d="M373.6 330.4l2.9 .9-2.9-1-2.9-.7z"/><path color="#736600" d="M379.3 332.5l2.9 1.1-2.9-1.4-2.9-.9z"/><path color="#6d7300" d="M385.1 335.3l2.8 1.2-2.9-1.8-2.8-1.1z"/><path color="#587300" d="M330.4 338.5l2.9-1.5-2.8 2-2.8 1.7z"/><path color="#707300" d="M336.1 335l2.9-1.2-2.8 1.8-2.9 1.4z"/><path color="#736200" d="M341.9 332.2l2.9-.9-2.9 1.4-2.9 1.1z"/><path color="#735300" d="M347.6 330l2.9-.5-2.9 1.1-2.9 .7z"/><path color="#734900" d="M353.4 328.6l2.9-.2-2.9 .6-2.9 .4z"/><path color="#734500" d="M359.2 328.1l2.9 .2-2.9 .2-2.9 0z"/><path color="#734600" d="M364.9 328.4l2.9 .5-2.9-.3-2.9-.3z"/><path color="#734e00" d="M370.7 329.6l2.9 .8-2.9-.8-2.9-.6z"/><path color="#735a00" d="M376.5 331.5l2.9 1-2.9-1.3-2.9-.9z"/><path color="#736b00" d="M382.2 334.1l2.8 1.2-2.9-1.7-2.9-1.1z"/><path color="#657300" d="M387.9 337.2l2.8 1.3-2.9-2-2.8-1.2z"/><path color="#517300" d="M327.6 340.2l2.8-1.7-2.8 2.1-2.8 1.8z"/><path color="#6b7300" d="M333.3 336.4l2.9-1.4-2.8 1.9-2.9 1.5z"/><path color="#736400" d="M339 333.3l2.9-1.1-2.9 1.6-2.9 1.2z"/><path color="#735300" d="M344.7 330.7l2.9-.7-2.9 1.3-2.9 .9z"/><path color="#734600" d="M350.5 329l2.9-.4-2.9 .8-2.9 .5z"/><path color="#734000" d="M356.3 328.1l2.9 0-2.9 .3-2.9 .2z"/><path color="#733f00" d="M362.1 328.1l2.9 .3-2.9-.2-2.9-.2z"/><path color="#734400" d="M367.8 328.9l2.9 .7-2.9-.7-2.9-.5z"/><path color="#734f00" d="M373.6 330.6l2.9 .9-2.9-1.1-2.9-.8z"/><path color="#735e00" d="M379.4 333l2.9 1.1-2.9-1.6-2.9-1z"/><path color="#737200" d="M385.1 336l2.8 1.3-2.9-2-2.8-1.2z"/><path color="#5b7300" d="M390.8 339.5l2.8 1.3-2.9-2.3-2.8-1.3z"/><path color="#497300" d="M324.8 342.1l2.8-1.9-2.8 2.2-2.8 1.9z"/><path color="#667300" d="M330.4 338l2.9-1.6-2.8 2.1-2.8 1.7z"/><path color="#736700" d="M336.1 334.5l2.9-1.3-2.9 1.8-2.9 1.4z"/><path color="#735400" d="M341.8 331.7l2.9-.9-2.9 1.4-2.9 1.1z"/><path color="#734500" d="M347.6 329.6l2.9-.6-2.9 1-2.9 .7z"/><path color="#733c00" d="M353.4 328.3l2.9-.2-2.9 .5-2.9 .4z"/><path color="#733900" d="M359.2 327.9l2.9 .2-2.9 0-2.9-0z"/><path color="#733c00" d="M365 328.4l2.9 .5-2.9-.5-2.9-.3z"/><path color="#734400" d="M370.7 329.8l2.9 .8-2.9-1-2.9-.7z"/><path color="#735200" d="M376.5 331.9l2.9 1-2.9-1.5-2.9-.9z"/><path color="#736500" d="M382.2 334.8l2.9 1.2-2.9-1.9-2.9-1.1z"/><path color="#6a7300" d="M388 338.2l2.8 1.3-2.9-2.3-2.8-1.3z"/><path color="#507300" d="M393.7 342.1l2.8 1.3-2.8-2.6-2.8-1.3z"/><path color="#417300" d="M321.9 344.1l2.8-2-2.8 2.3-2.8 2.1z"/><path color="#5f7300" d="M327.6 339.8l2.8-1.8-2.8 2.2-2.8 1.9z"/><path color="#736c00" d="M333.3 336l2.9-1.5-2.8 1.9-2.9 1.6z"/><path color="#735600" d="M339 332.8l2.9-1.1-2.9 1.6-2.9 1.3z"/><path color="#734500" d="M344.7 330.3l2.9-.8-2.9 1.2-2.9 .9z"/><path color="#733a00" d="M350.5 328.7l2.9-.4-2.9 .7-2.9 .6z"/><path color="#733400" d="M356.3 327.9l2.9-0-2.9 .2-2.9 .2z"/><path color="#733400" d="M362.1 328.1l2.9 .3-2.9-.3-2.9-.2z"/><path color="#733b00" d="M367.9 329.2l2.9 .6-2.9-.9-2.9-.5z"/><path color="#734700" d="M373.6 331.1l2.9 .9-2.9-1.4-2.9-.8z"/><path color="#735800" d="M379.4 333.7l2.9 1.1-2.9-1.8-2.9-1z"/><path color="#736d00" d="M385.1 337l2.8 1.2-2.9-2.2-2.9-1.2z"/><path color="#5f7300" d="M390.8 340.7l2.8 1.3-2.9-2.5-2.8-1.3z"/><path color="#427300" d="M396.5 344.9l2.8 1.3-2.8-2.8-2.8-1.3z"/><path color="#377300" d="M319.1 346.3l2.8-2.2-2.8 2.4-2.8 2.2z"/><path color="#577300" d="M324.7 341.8l2.8-2-2.8 2.3-2.8 2z"/><path color="#737200" d="M330.4 337.7l2.9-1.7-2.8 2-2.8 1.8z"/><path color="#735a00" d="M336.1 334.1l2.9-1.4-2.9 1.7-2.9 1.5z"/><path color="#734700" d="M341.8 331.3l2.9-1-2.9 1.3-2.9 1.1z"/><path color="#733900" d="M347.6 329.3l2.9-.6-2.9 .9-2.9 .8z"/><path color="#733000" d="M353.4 328.2l2.9-.2-2.9 .4-2.9 .4z"/><path color="#732e00" d="M359.2 328l2.9 .1-2.9-.2-2.9 0z"/><path color="#733200" d="M365 328.7l2.9 .5-2.9-.7-2.9-.3z"/><path color="#733d00" d="M370.8 330.3l2.9 .7-2.9-1.3-2.9-.6z"/><path color="#734c00" d="M376.5 332.7l2.9 1-2.9-1.7-2.9-.9z"/><path color="#736000" d="M382.3 335.8l2.9 1.1-2.9-2.2-2.9-1.1z"/><path color="#6d7300" d="M388 339.5l2.8 1.2-2.9-2.5-2.8-1.2z"/><path color="#517300" d="M393.7 343.6l2.8 1.3-2.8-2.8-2.8-1.3z"/><path color="#337300" d="M399.3 348l2.8 1.3-2.8-3-2.8-1.3z"/><path color="#2d7300" d="M316.3 348.6l2.8-2.3-2.8 2.4-2.8 2.3z"/><path color="#4e7300" d="M321.9 343.9l2.8-2.1-2.8 2.3-2.8 2.2z"/><path color="#6c7300" d="M327.5 339.6l2.8-1.9-2.8 2.1-2.8 2z"/><path color="#735f00" d="M333.2 335.7l2.9-1.6-2.8 1.9-2.9 1.7z"/><path color="#734a00" d="M339 332.5l2.9-1.2-2.9 1.5-2.9 1.4z"/><path color="#733900" d="M344.7 330.2l2.9-.9-2.9 1-2.9 1z"/><path color="#732e00" d="M350.5 328.7l2.9-.5-2.9 .5-2.9 .6z"/><path color="#732a00" d="M356.3 328.1l2.9-.1-2.9-0-2.9 .2z"/><path color="#732c00" d="M362.1 328.5l2.9 .2-2.9-.6-2.9-.1z"/><path color="#733300" d="M367.9 329.8l2.9 .6-2.9-1.2-2.9-.5z"/><path color="#734100" d="M373.7 331.9l2.9 .8-2.9-1.7-2.9-.7z"/><path color="#735400" d="M379.4 334.8l2.9 1-2.9-2.1-2.9-1z"/><path color="#736b00" d="M385.1 338.4l2.8 1.1-2.9-2.5-2.9-1.1z"/><path color="#607300" d="M390.8 342.4l2.8 1.2-2.8-2.8-2.8-1.2z"/><path color="#427300" d="M396.5 346.7l2.8 1.2-2.8-3.1-2.8-1.3z"/><path color="#237300" d="M402.1 351.3l2.8 1.2-2.8-3.2-2.8-1.3z"/><path color="#227300" d="M313.5 351.1l2.8-2.5-2.8 2.4-2.8 2.5z"/><path color="#447300" d="M319.1 346.2l2.8-2.3-2.8 2.4-2.8 2.3z"/><path color="#637300" d="M324.7 341.7l2.8-2.1-2.8 2.2-2.8 2.1z"/><path color="#736600" d="M330.4 337.5l2.9-1.8-2.8 2-2.8 1.9z"/><path color="#734e00" d="M336.1 334l2.9-1.5-2.9 1.6-2.9 1.6z"/><path color="#733b00" d="M341.8 331.3l2.9-1.1-2.9 1.2-2.9 1.2z"/><path color="#732e00" d="M347.6 329.4l2.9-.7-2.9 .6-2.9 .9z"/><path color="#732700" d="M353.4 328.4l2.9-.4-2.9 .1-2.9 .5z"/><path color="#732600" d="M359.2 328.4l2.9 0-2.9-.5-2.9 .1z"/><path color="#732c00" d="M365 329.4l2.9 .3-2.9-1.1-2.9-.2z"/><path color="#733700" d="M370.8 331.3l2.9 .6-2.9-1.6-2.9-.6z"/><path color="#734800" d="M376.5 334l2.9 .9-2.9-2.1-2.9-.8z"/><path color="#735e00" d="M382.3 337.3l2.9 1-2.9-2.5-2.9-1z"/><path color="#6e7300" d="M388 341.3l2.8 1.1-2.9-2.9-2.8-1.1z"/><path color="#507300" d="M393.7 345.6l2.8 1.2-2.8-3.1-2.8-1.2z"/><path color="#317300" d="M399.3 350.1l2.8 1.1-2.8-3.3-2.8-1.2z"/><path color="#127700" d="M404.9 354.8l2.8 1.1-2.8-3.4-2.8-1.2z"/><path color="#167300" d="M310.7 353.7l2.8-2.6-2.8 2.4-2.8 2.6z"/><path color="#387300" d="M316.3 348.7l2.8-2.5-2.8 2.4-2.8 2.5z"/><path color="#597300" d="M321.9 344l2.8-2.3-2.8 2.3-2.8 2.3z"/><path color="#736e00" d="M327.5 339.6l2.8-2-2.8 2-2.8 2.1z"/><path color="#735400" d="M333.2 335.8l2.9-1.7-2.9 1.7-2.9 1.8z"/><path color="#733f00" d="M339 332.7l2.9-1.4-2.9 1.3-2.9 1.5z"/><path color="#732f00" d="M344.7 330.4l2.9-1-2.9 .8-2.9 1.1z"/><path color="#732500" d="M350.5 329.1l2.9-.6-2.9 .2-2.9 .7z"/><path color="#732200" d="M356.3 328.7l2.9-.3-2.9-.4-2.9 .4z"/><path color="#732500" d="M362.1 329.3l2.9 .1-2.9-1-2.9-0z"/><path color="#732f00" d="M367.9 330.9l2.9 .4-2.9-1.5-2.9-.3z"/><path color="#733e00" d="M373.7 333.3l2.9 .7-2.9-2.1-2.9-.6z"/><path color="#735300" d="M379.4 336.5l2.9 .9-2.9-2.5-2.9-.9z"/><path color="#736b00" d="M385.1 340.3l2.8 1-2.9-2.9-2.9-1z"/><path color="#5e7300" d="M390.8 344.5l2.8 1.1-2.8-3.2-2.8-1.1z"/><path color="#417700" d="M396.5 349.1l2.8 1.1-2.8-3.4-2.8-1.2z"/><path color="#227e00" d="M402.1 353.8l2.8 1-2.8-3.5-2.8-1.1z"/><path color="#008402" d="M407.7 358.5l2.8 .9-2.8-3.5-2.8-1.1z"/><path color="#097300" d="M307.9 356.4l2.8-2.7-2.8 2.3-2.8 2.7z"/><path color="#2c7300" d="M313.4 351.4l2.8-2.7-2.8 2.4-2.8 2.6z"/><path color="#4e7300" d="M319 346.5l2.8-2.5-2.8 2.3-2.8 2.5z"/><path color="#6e7300" d="M324.7 341.9l2.8-2.3-2.8 2.1-2.8 2.3z"/><path color="#735c00" d="M330.4 337.8l2.9-2-2.8 1.8-2.8 2z"/><path color="#734400" d="M336.1 334.3l2.9-1.7-2.9 1.4-2.9 1.7z"/><path color="#733200" d="M341.8 331.7l2.9-1.3-2.9 .9-2.9 1.4z"/><path color="#732600" d="M347.6 330l2.9-.9-2.9 .3-2.9 1z"/><path color="#732000" d="M353.4 329.2l2.9-.5-2.9-.3-2.9 .6z"/><path color="#732100" d="M359.2 329.5l2.9-.2-2.9-.9-2.9 .3z"/><path color="#732800" d="M365 330.7l2.9 .2-2.9-1.5-2.9-.1z"/><path color="#733500" d="M370.8 332.9l2.9 .4-2.9-2-2.9-.4z"/><path color="#734800" d="M376.6 335.8l2.9 .7-2.9-2.5-2.9-.7z"/><path color="#736000" d="M382.3 339.4l2.9 .8-2.9-2.9-2.9-.9z"/><path color="#717a00" d="M388 343.6l2.8 .9-2.8-3.3-2.8-1z"/><path color="#558100" d="M393.7 348.1l2.8 1-2.8-3.5-2.8-1.1z"/><path color="#338600" d="M399.3 352.8l2.8 1-2.8-3.6-2.8-1.1z"/><path color="#0d8b00" d="M404.9 357.6l2.8 .9-2.8-3.7-2.8-1z"/><path color="#008b15" d="M410.5 362.3l2.8 .8-2.8-3.6-2.8-.9z"/><path color="#007204" d="M305.1 359.3l2.8-2.9-2.8 2.3-2.8 2.8z"/><path color="#1f7300" d="M310.6 354.2l2.8-2.8-2.8 2.3-2.8 2.7z"/><path color="#427300" d="M316.2 349.2l2.8-2.7-2.8 2.3-2.8 2.7z"/><path color="#637300" d="M321.9 344.4l2.8-2.5-2.8 2.1-2.8 2.5z"/><path color="#736500" d="M327.5 340l2.8-2.3-2.8 1.8-2.8 2.3z"/><path color="#734c00" d="M333.2 336.3l2.9-2-2.9 1.4-2.9 2z"/><path color="#733700" d="M339 333.3l2.9-1.6-2.9 1-2.9 1.7z"/><path color="#732800" d="M344.7 331.2l2.9-1.2-2.9 .4-2.9 1.3z"/><path color="#732000" d="M350.5 330.1l2.9-.8-2.9-.2-2.9 .9z"/><path color="#731e00" d="M356.3 330l2.9-.5-2.9-.8-2.9 .5z"/><path color="#732300" d="M362.1 330.8l2.9-.1-2.9-1.4-2.9 .2z"/><path color="#732e00" d="M367.9 332.7l2.9 .2-2.9-2-2.9-.2z"/><path color="#784200" d="M373.7 335.4l2.9 .4-2.9-2.5-2.9-.4z"/><path color="#805f00" d="M379.4 338.8l2.9 .6-2.9-3-2.9-.7z"/><path color="#868100" d="M385.2 342.8l2.8 .8-2.9-3.3-2.9-.8z"/><path color="#6b8a00" d="M390.8 347.2l2.8 .9-2.8-3.6-2.8-.9z"/><path color="#468e00" d="M396.5 351.9l2.8 .9-2.8-3.7-2.8-1z"/><path color="#1e9200" d="M402.1 356.8l2.8 .8-2.8-3.8-2.8-1z"/><path color="#009309" d="M407.7 361.5l2.8 .7-2.8-3.8-2.8-.9z"/><path color="#008f2a" d="M413.3 366.1l2.8 .6-2.8-3.7-2.8-.8z"/><path color="#00700e" d="M302.3 362.3l2.8-3-2.7 2.2-2.8 2.8z"/><path color="#117300" d="M307.9 357.1l2.8-3-2.8 2.3-2.8 2.9z"/><path color="#347300" d="M313.4 352l2.8-2.9-2.8 2.2-2.8 2.8z"/><path color="#567300" d="M319 347.1l2.8-2.7-2.8 2.1-2.8 2.7z"/><path color="#737000" d="M324.7 342.5l2.8-2.5-2.8 1.8-2.8 2.5z"/><path color="#735400" d="M330.4 338.5l2.9-2.2-2.9 1.5-2.8 2.3z"/><path color="#733e00" d="M336.1 335.2l2.9-1.9-2.9 1-2.9 2z"/><path color="#732d00" d="M341.9 332.8l2.9-1.6-2.9 .5-2.9 1.6z"/><path color="#732200" d="M347.6 331.3l2.9-1.2-2.9-.1-2.9 1.2z"/><path color="#731e00" d="M353.4 330.8l2.9-.8-2.9-.7-2.9 .8z"/><path color="#732000" d="M359.2 331.3l2.9-.4-2.9-1.4-2.9 .5z"/><path color="#7f2d00" d="M365 332.8l2.9-.1-2.9-2-2.9 .1z"/><path color="#874200" d="M370.8 335.2l2.9 .2-2.9-2.5-2.9-.2z"/><path color="#8d5e00" d="M376.6 338.4l2.9 .4-2.9-3-2.9-.4z"/><path color="#917f00" d="M382.3 342.2l2.9 .6-2.9-3.4-2.9-.6z"/><path color="#819400" d="M388 346.5l2.8 .7-2.8-3.7-2.8-.8z"/><path color="#5a9700" d="M393.7 351.2l2.8 .7-2.8-3.9-2.8-.9z"/><path color="#2f9900" d="M399.3 356l2.8 .7-2.8-4-2.8-.9z"/><path color="#039b00" d="M404.9 360.9l2.8 .7-2.8-4-2.8-.8z"/><path color="#009620" d="M410.5 365.6l2.8 .6-2.8-3.9-2.8-.7z"/><path color="#009141" d="M416 370.1l2.8 .4-2.8-3.7-2.8-.6z"/><path color="#006e19" d="M299.6 365.3l2.8-3-2.7 2.1-2.8 2.9z"/><path color="#027300" d="M305.1 360.2l2.8-3.1-2.8 2.2-2.8 3z"/><path color="#267300" d="M310.6 355.1l2.8-3-2.8 2.2-2.8 3z"/><path color="#497300" d="M316.2 350l2.8-2.9-2.8 2.1-2.8 2.9z"/><path color="#697300" d="M321.9 345.3l2.8-2.8-2.8 1.8-2.8 2.7z"/><path color="#735f00" d="M327.5 341l2.8-2.5-2.8 1.5-2.8 2.5z"/><path color="#734700" d="M333.2 337.5l2.9-2.2-2.9 1.1-2.9 2.2z"/><path color="#733300" d="M339 334.7l2.9-1.9-2.9 .5-2.9 1.9z"/><path color="#732600" d="M344.7 332.8l2.9-1.5-2.9-0-2.9 1.6z"/><path color="#742000" d="M350.5 331.9l2.9-1.1-2.9-.7-2.9 1.2z"/><path color="#842400" d="M356.3 332l2.9-.8-2.9-1.3-2.9 .8z"/><path color="#8e2f00" d="M362.1 333.2l2.9-.4-2.9-1.9-2.9 .4z"/><path color="#954100" d="M367.9 335.3l2.9-.1-2.9-2.5-2.9 .1z"/><path color="#985c00" d="M373.7 338.2l2.9 .2-2.9-3-2.9-.2z"/><path color="#9b7d00" d="M379.4 341.8l2.9 .4-2.9-3.4-2.9-.4z"/><path color="#969d00" d="M385.1 346l2.9 .5-2.8-3.8-2.9-.6z"/><path color="#6d9e00" d="M390.8 350.6l2.8 .6-2.8-4-2.8-.7z"/><path color="#41a000" d="M396.5 355.4l2.8 .6-2.8-4.1-2.8-.7z"/><path color="#12a100" d="M402.1 360.3l2.8 .6-2.8-4.1-2.8-.7z"/><path color="#009d15" d="M407.7 365.1l2.8 .5-2.8-4-2.8-.7z"/><path color="#009738" d="M413.2 369.7l2.8 .4-2.8-3.9-2.8-.6z"/><path color="#009159" d="M418.8 374l2.8 .3-2.7-3.7-2.8-.4z"/><path color="#006c25" d="M296.8 368.4l2.8-3.1-2.7 1.9-2.7 3z"/><path color="#00710a" d="M302.3 363.4l2.8-3.2-2.8 2.1-2.8 3z"/><path color="#167300" d="M307.9 358.2l2.8-3.2-2.8 2.1-2.8 3.1z"/><path color="#3a7300" d="M313.4 353.2l2.8-3.1-2.8 2-2.8 3z"/><path color="#5b7300" d="M319 348.3l2.8-3-2.8 1.8-2.8 2.9z"/><path color="#736b00" d="M324.7 343.8l2.8-2.8-2.8 1.5-2.8 2.8z"/><path color="#735100" d="M330.4 340l2.9-2.5-2.9 1.1-2.8 2.5z"/><path color="#733c00" d="M336.1 336.9l2.9-2.2-2.9 .6-2.9 2.2z"/><path color="#732c00" d="M341.9 334.6l2.9-1.9-2.9-0-2.9 1.9z"/><path color="#862900" d="M347.7 333.4l2.9-1.5-2.9-.6-2.9 1.5z"/><path color="#932900" d="M353.4 333.1l2.9-1.1-2.9-1.3-2.9 1.1z"/><path color="#9b3100" d="M359.2 333.9l2.9-.7-2.9-1.9-2.9 .8z"/><path color="#a04200" d="M365 335.7l2.9-.4-2.9-2.5-2.9 .4z"/><path color="#a35a00" d="M370.8 338.3l2.9-.1-2.9-3-2.9 .1z"/><path color="#a47a00" d="M376.6 341.7l2.9 .1-2.9-3.5-2.9-.2z"/><path color="#a5a000" d="M382.3 345.8l2.9 .3-2.8-3.8-2.9-.4z"/><path color="#80a600" d="M388 350.2l2.8 .4-2.8-4.1-2.9-.5z"/><path color="#52a600" d="M393.6 355l2.8 .4-2.8-4.2-2.8-.6z"/><path color="#22a600" d="M399.3 359.9l2.8 .4-2.8-4.3-2.8-.6z"/><path color="#00a50b" d="M404.9 364.7l2.8 .4-2.8-4.2-2.8-.6z"/><path color="#009e2f" d="M410.4 369.4l2.8 .3-2.8-4.1-2.8-.5z"/><path color="#009752" d="M416 373.7l2.8 .2-2.7-3.9-2.8-.4z"/><path color="#009071" d="M421.5 377.8l2.8 .1-2.7-3.7-2.8-.3z"/><path color="#006930" d="M294.1 371.6l2.7-3.1-2.7 1.8-2.7 3z"/><path color="#006e16" d="M299.6 366.6l2.8-3.3-2.8 1.9-2.8 3.1z"/><path color="#067300" d="M305.1 361.6l2.8-3.3-2.8 2-2.8 3.2z"/><path color="#2a7300" d="M310.6 356.4l2.8-3.3-2.8 1.9-2.8 3.2z"/><path color="#4c7300" d="M316.2 351.5l2.8-3.2-2.8 1.7-2.8 3.1z"/><path color="#6c7300" d="M321.9 346.9l2.8-3-2.8 1.5-2.8 3z"/><path color="#735e00" d="M327.5 342.8l2.8-2.8-2.9 1.1-2.8 2.8z"/><path color="#734600" d="M333.3 339.4l2.9-2.5-2.9 .6-2.9 2.5z"/><path color="#843c00" d="M339 336.8l2.9-2.2-2.9 0-2.9 2.2z"/><path color="#943500" d="M344.8 335.2l2.9-1.8-2.9-.6-2.9 1.9z"/><path color="#9e3100" d="M350.6 334.6l2.9-1.5-2.9-1.2-2.9 1.5z"/><path color="#a53600" d="M356.4 335l2.9-1.1-2.9-1.9-2.9 1.1z"/><path color="#a94300" d="M362.1 336.4l2.9-.8-2.9-2.5-2.9 .7z"/><path color="#ab5a00" d="M367.9 338.8l2.9-.4-2.9-3.1-2.9 .4z"/><path color="#ac7800" d="M373.7 341.9l2.9-.2-2.9-3.5-2.9 .1z"/><path color="#ac9d00" d="M379.4 345.7l2.9 0-2.9-3.9-2.9-.1z"/><path color="#91ac00" d="M385.1 350.1l2.9 .2-2.8-4.2-2.9-.3z"/><path color="#62ac00" d="M390.8 354.7l2.8 .3-2.8-4.4-2.8-.4z"/><path color="#31ac00" d="M396.4 359.6l2.8 .3-2.8-4.4-2.8-.4z"/><path color="#00ac01" d="M402 364.4l2.8 .3-2.8-4.4-2.8-.4z"/><path color="#00a426" d="M407.6 369.1l2.8 .2-2.8-4.3-2.8-.4z"/><path color="#009d4a" d="M413.2 373.6l2.8 .1-2.7-4.1-2.8-.3z"/><path color="#00966b" d="M418.7 377.8l2.8 0-2.7-3.8-2.8-.2z"/><path color="#008f89" d="M424.2 381.5l2.8-.1-2.7-3.6-2.8-.1z"/><path color="#00673c" d="M291.3 374.7l2.7-3.2-2.7 1.6-2.7 3z"/><path color="#006c22" d="M296.8 369.9l2.7-3.3-2.7 1.8-2.7 3.1z"/><path color="#007108" d="M302.3 365l2.8-3.4-2.8 1.8-2.8 3.3z"/><path color="#197300" d="M307.9 359.9l2.8-3.4-2.8 1.8-2.8 3.3z"/><path color="#3c7300" d="M313.4 354.9l2.8-3.4-2.8 1.7-2.8 3.3z"/><path color="#5c7300" d="M319.1 350.1l2.8-3.3-2.8 1.4-2.8 3.2z"/><path color="#736c00" d="M324.7 345.9l2.8-3.1-2.9 1-2.8 3z"/><path color="#805c00" d="M330.4 342.2l2.8-2.8-2.9 .6-2.8 2.8z"/><path color="#914f00" d="M336.1 339.4l2.9-2.5-2.9 0-2.9 2.5z"/><path color="#9e4300" d="M341.9 337.4l2.9-2.2-2.9-.6-2.9 2.2z"/><path color="#a73d00" d="M347.7 336.4l2.9-1.8-2.9-1.2-2.9 1.8z"/><path color="#ad3d00" d="M353.5 336.5l2.9-1.5-2.9-1.9-2.9 1.5z"/><path color="#b04800" d="M359.3 337.6l2.9-1.1-2.9-2.5-2.9 1.1z"/><path color="#b25b00" d="M365 339.6l2.9-.8-2.9-3.1-2.9 .8z"/><path color="#b37700" d="M370.8 342.4l2.9-.5-2.9-3.6-2.9 .4z"/><path color="#b39b00" d="M376.6 346l2.9-.3-2.9-4-2.9 .2z"/><path color="#a0b200" d="M382.3 350.1l2.9-.1-2.8-4.3-2.9-0z"/><path color="#71b200" d="M388 354.7l2.8 0-2.8-4.5-2.9-.2z"/><path color="#3fb100" d="M393.6 359.4l2.8 .1-2.8-4.6-2.8-.3z"/><path color="#0cb100" d="M399.2 364.3l2.8 .1-2.8-4.6-2.8-.3z"/><path color="#00aa1e" d="M404.8 369l2.8 .1-2.8-4.4-2.8-.3z"/><path color="#00a242" d="M410.4 373.6l2.8 0-2.7-4.3-2.8-.2z"/><path color="#009a65" d="M415.9 377.8l2.8-0-2.7-4-2.8-.1z"/><path color="#009384" d="M421.5 381.7l2.8-.2-2.7-3.7-2.8-0z"/><path color="#008697" d="M427 385.1l2.8-.3-2.7-3.4-2.8 .1z"/><path color="#006547" d="M288.6 377.9l2.7-3.2-2.7 1.4-2.7 3z"/><path color="#006a2f" d="M294.1 373.3l2.7-3.3-2.7 1.6-2.7 3.2z"/><path color="#006f15" d="M299.6 368.4l2.8-3.5-2.8 1.7-2.7 3.3z"/><path color="#087300" d="M305.1 363.4l2.8-3.5-2.8 1.7-2.8 3.4z"/><path color="#2a7300" d="M310.7 358.4l2.8-3.6-2.8 1.6-2.8 3.4z"/><path color="#4b7300" d="M316.3 353.6l2.8-3.5-2.8 1.3-2.8 3.4z"/><path color="#737c00" d="M321.9 349.2l2.8-3.3-2.8 1-2.8 3.3z"/><path color="#8d7700" d="M327.6 345.4l2.8-3.1-2.9 .6-2.8 3.1z"/><path color="#9b6600" d="M333.3 342.2l2.9-2.9-2.9 0-2.8 2.8z"/><path color="#a65600" d="M339 340l2.9-2.6-2.9-.6-2.9 2.5z"/><path color="#ae4b00" d="M344.8 338.7l2.9-2.2-2.9-1.2-2.9 2.2z"/><path color="#b34800" d="M350.6 338.3l2.9-1.8-2.9-1.9-2.9 1.8z"/><path color="#b64f00" d="M356.4 339l2.9-1.5-2.9-2.5-2.9 1.5z"/><path color="#b86000" d="M362.2 340.7l2.9-1.1-2.9-3.1-2.9 1.1z"/><path color="#b87900" d="M367.9 343.3l2.9-.8-2.9-3.6-2.9 .8z"/><path color="#b89b00" d="M373.7 346.6l2.9-.6-2.9-4.1-2.9 .5z"/><path color="#adb800" d="M379.4 350.5l2.9-.4-2.8-4.4-2.9 .3z"/><path color="#7db700" d="M385.1 354.9l2.9-.2-2.8-4.6-2.9 .1z"/><path color="#4bb600" d="M390.8 359.5l2.8-.1-2.8-4.7-2.8-0z"/><path color="#17b500" d="M396.4 364.3l2.8-0-2.8-4.7-2.8-.1z"/><path color="#00b016" d="M402 369.1l2.8-0-2.8-4.6-2.8-.1z"/><path color="#00a73b" d="M407.6 373.6l2.8-.1-2.8-4.4-2.8-.1z"/><path color="#009f5f" d="M413.1 377.9l2.8-.1-2.7-4.2-2.8-0z"/><path color="#00987f" d="M418.7 381.9l2.8-.2-2.7-3.9-2.8 0z"/><path color="#008e99" d="M424.2 385.4l2.8-.3-2.7-3.6-2.8 .2z"/><path color="#00789b" d="M429.7 388.6l2.8-.4-2.7-3.3-2.8 .3z"/><path color="#006353" d="M285.9 381l2.7-3.1-2.7 1.3-2.7 2.9z"/><path color="#00673b" d="M291.3 376.6l2.7-3.3-2.7 1.4-2.7 3.2z"/><path color="#006c22" d="M296.8 371.9l2.7-3.5-2.8 1.5-2.7 3.3z"/><path color="#007108" d="M302.3 367.1l2.8-3.6-2.8 1.5-2.8 3.5z"/><path color="#187300" d="M307.9 362.1l2.8-3.7-2.8 1.4-2.8 3.5z"/><path color="#3d7b00" d="M313.5 357.3l2.8-3.7-2.8 1.2-2.8 3.6z"/><path color="#6a8900" d="M319.1 352.8l2.8-3.6-2.8 .9-2.8 3.5z"/><path color="#979400" d="M324.8 348.8l2.8-3.4-2.9 .5-2.8 3.3z"/><path color="#a37f00" d="M330.4 345.4l2.8-3.2-2.9-0-2.8 3.1z"/><path color="#ac6c00" d="M336.2 342.9l2.9-2.9-2.9-.6-2.9 2.9z"/><path color="#b35e00" d="M341.9 341.2l2.9-2.6-2.9-1.2-2.9 2.6z"/><path color="#b85700" d="M347.7 340.6l2.9-2.2-2.9-1.9-2.9 2.2z"/><path color="#bb5a00" d="M353.5 340.9l2.9-1.9-2.9-2.5-2.9 1.8z"/><path color="#bc6700" d="M359.3 342.2l2.9-1.5-2.9-3.2-2.9 1.5z"/><path color="#bd7e00" d="M365.1 344.5l2.9-1.2-2.9-3.7-2.9 1.1z"/><path color="#bd9d00" d="M370.8 347.5l2.9-.9-2.9-4.1-2.9 .8z"/><path color="#b5bc00" d="M376.5 351.2l2.9-.7-2.9-4.5-2.9 .6z"/><path color="#87bb00" d="M382.2 355.3l2.9-.5-2.8-4.7-2.9 .4z"/><path color="#55ba00" d="M387.9 359.9l2.8-.3-2.8-4.9-2.9 .2z"/><path color="#21b900" d="M393.6 364.6l2.8-.2-2.8-4.9-2.8 .1z"/><path color="#00b50f" d="M399.2 369.3l2.8-.2-2.8-4.8-2.8 0z"/><path color="#00ac35" d="M404.8 373.8l2.8-.2-2.8-4.6-2.8 0z"/><path color="#00a459" d="M410.3 378.2l2.8-.2-2.7-4.4-2.8 .1z"/><path color="#009c7b" d="M415.9 382.2l2.8-.3-2.7-4.1-2.8 .1z"/><path color="#009498" d="M421.4 385.8l2.8-.4-2.7-3.8-2.8 .2z"/><path color="#007e9d" d="M426.9 389l2.8-.5-2.7-3.4-2.8 .3z"/><path color="#006a9e" d="M432.4 391.8l2.8-.6-2.7-3.1-2.8 .4z"/><path color="#00615e" d="M283.2 384.1l2.7-3.1-2.7 1.1-2.7 2.9z"/><path color="#006547" d="M288.6 380l2.7-3.3-2.7 1.2-2.7 3.1z"/><path color="#006a2f" d="M294.1 375.5l2.7-3.5-2.8 1.3-2.7 3.3z"/><path color="#006f16" d="M299.6 370.7l2.7-3.7-2.8 1.4-2.7 3.5z"/><path color="#057c00" d="M305.1 365.9l2.8-3.8-2.8 1.3-2.8 3.6z"/><path color="#2d8700" d="M310.7 361.1l2.8-3.8-2.8 1.1-2.8 3.7z"/><path color="#599300" d="M316.3 356.6l2.8-3.8-2.8 .8-2.8 3.7z"/><path color="#899e00" d="M321.9 352.4l2.8-3.7-2.9 .4-2.8 3.6z"/><path color="#a99c00" d="M327.6 348.9l2.8-3.5-2.9-.1-2.8 3.4z"/><path color="#b18500" d="M333.3 346.1l2.8-3.2-2.9-.6-2.8 3.2z"/><path color="#b77400" d="M339.1 344.1l2.9-2.9-2.9-1.3-2.9 2.9z"/><path color="#bc6a00" d="M344.8 343.1l2.9-2.6-2.9-1.9-2.9 2.6z"/><path color="#be6900" d="M350.6 343.1l2.9-2.2-2.9-2.6-2.9 2.2z"/><path color="#c07300" d="M356.4 344.1l2.9-1.9-2.9-3.2-2.9 1.9z"/><path color="#c18600" d="M362.2 346l2.9-1.6-2.9-3.7-2.9 1.5z"/><path color="#c0a200" d="M367.9 348.7l2.9-1.2-2.9-4.2-2.9 1.2z"/><path color="#bac000" d="M373.7 352.1l2.9-1-2.9-4.6-2.9 .9z"/><path color="#8dbf00" d="M379.4 356.1l2.9-.8-2.8-4.8-2.9 .7z"/><path color="#5cbe00" d="M385.1 360.4l2.9-.6-2.8-5-2.9 .5z"/><path color="#29bd00" d="M390.7 365l2.8-.5-2.8-5-2.8 .3z"/><path color="#00ba09" d="M396.3 369.6l2.8-.4-2.8-4.9-2.8 .2z"/><path color="#00b130" d="M401.9 374.2l2.8-.4-2.8-4.8-2.8 .2z"/><path color="#00a854" d="M407.5 378.5l2.8-.4-2.7-4.5-2.8 .2z"/><path color="#00a077" d="M413.1 382.6l2.8-.4-2.7-4.3-2.8 .2z"/><path color="#009895" d="M418.6 386.3l2.8-.5-2.7-3.9-2.8 .3z"/><path color="#00849e" d="M424.1 389.6l2.8-.5-2.7-3.6-2.8 .4z"/><path color="#006fa0" d="M429.6 392.4l2.8-.6-2.7-3.2-2.8 .5z"/><path color="#005da0" d="M435.2 394.8l2.8-.7-2.7-2.9-2.8 .6z"/><path color="#005f67" d="M280.4 387.1l2.7-3-2.7 .9-2.7 2.8z"/><path color="#006656" d="M285.9 383.3l2.7-3.3-2.7 1-2.7 3.1z"/><path color="#006d40" d="M291.4 379l2.7-3.5-2.8 1.2-2.7 3.3z"/><path color="#007728" d="M296.9 374.5l2.7-3.7-2.8 1.2-2.7 3.5z"/><path color="#00840d" d="M302.4 369.8l2.7-3.9-2.8 1.2-2.7 3.7z"/><path color="#179000" d="M307.9 365l2.8-3.9-2.8 1-2.8 3.8z"/><path color="#449a00" d="M313.5 360.5l2.8-3.9-2.8 .7-2.8 3.8z"/><path color="#72a500" d="M319.1 356.3l2.8-3.9-2.8 .4-2.8 3.8z"/><path color="#a0ae00" d="M324.8 352.6l2.8-3.7-2.9-.1-2.8 3.7z"/><path color="#b5a200" d="M330.5 349.6l2.8-3.5-2.9-.7-2.8 3.5z"/><path color="#bb8e00" d="M336.2 347.4l2.8-3.3-2.9-1.3-2.8 3.2z"/><path color="#bf8000" d="M342 346.1l2.9-2.9-2.9-1.9-2.9 2.9z"/><path color="#c17c00" d="M347.8 345.7l2.9-2.6-2.9-2.6-2.9 2.6z"/><path color="#c38200" d="M353.5 346.4l2.9-2.3-2.9-3.2-2.9 2.2z"/><path color="#c39200" d="M359.3 347.9l2.9-1.9-2.9-3.8-2.9 1.9z"/><path color="#c3ab00" d="M365.1 350.3l2.9-1.6-2.9-4.3-2.9 1.6z"/><path color="#bac300" d="M370.8 353.4l2.9-1.3-2.9-4.7-2.9 1.2z"/><path color="#90c200" d="M376.5 357.2l2.9-1.1-2.8-4.9-2.9 1z"/><path color="#60c100" d="M382.2 361.3l2.9-.9-2.8-5.1-2.9 .8z"/><path color="#2ec000" d="M387.9 365.7l2.8-.7-2.8-5.1-2.9 .6z"/><path color="#00be04" d="M393.5 370.2l2.8-.6-2.8-5.1-2.8 .5z"/><path color="#00b42b" d="M399.1 374.7l2.8-.5-2.8-4.9-2.8 .4z"/><path color="#00ac50" d="M404.7 379.1l2.8-.5-2.7-4.7-2.8 .4z"/><path color="#00a373" d="M410.2 383.1l2.8-.5-2.7-4.4-2.8 .4z"/><path color="#009b92" d="M415.8 386.8l2.8-.6-2.7-4.1-2.8 .4z"/><path color="#008aa0" d="M421.3 390.2l2.8-.6-2.7-3.7-2.8 .5z"/><path color="#0074a2" d="M426.8 393.1l2.8-.7-2.7-3.4-2.8 .5z"/><path color="#0061a2" d="M432.4 395.6l2.8-.7-2.7-3-2.8 .6z"/><path color="#0051a2" d="M437.9 397.6l2.8-.8-2.7-2.7-2.8 .7z"/><path color="#005d71" d="M277.7 390.1l2.7-2.9-2.7 .7-2.7 2.8z"/><path color="#006c6a" d="M283.2 386.5l2.7-3.2-2.7 .8-2.7 3z"/><path color="#007354" d="M288.7 382.5l2.7-3.5-2.8 1-2.7 3.3z"/><path color="#007d3b" d="M294.1 378.2l2.7-3.7-2.8 1-2.7 3.5z"/><path color="#008920" d="M299.6 373.6l2.7-3.9-2.8 1-2.7 3.7z"/><path color="#009702" d="M305.2 369.1l2.8-4-2.8 .9-2.7 3.9z"/><path color="#2aa100" d="M310.8 364.6l2.8-4.1-2.8 .6-2.8 3.9z"/><path color="#58aa00" d="M316.4 360.3l2.8-4-2.8 .3-2.8 3.9z"/><path color="#85b200" d="M322 356.6l2.8-3.9-2.9-.2-2.8 3.9z"/><path color="#afb800" d="M327.7 353.4l2.8-3.8-2.9-.7-2.8 3.7z"/><path color="#bdab00" d="M333.4 350.9l2.8-3.6-2.9-1.3-2.8 3.5z"/><path color="#c19a00" d="M339.1 349.4l2.8-3.3-2.9-1.9-2.8 3.3z"/><path color="#c49300" d="M344.9 348.7l2.9-3-2.9-2.6-2.9 2.9z"/><path color="#c59500" d="M350.7 349l2.9-2.6-2.9-3.2-2.9 2.6z"/><path color="#c6a100" d="M356.4 350.2l2.9-2.3-2.9-3.8-2.9 2.3z"/><path color="#c6b700" d="M362.2 352.3l2.9-2-2.9-4.3-2.9 1.9z"/><path color="#b6c500" d="M367.9 355.1l2.9-1.6-2.9-4.7-2.9 1.6z"/><path color="#8ec500" d="M373.7 358.5l2.9-1.4-2.8-5-2.9 1.3z"/><path color="#61c400" d="M379.3 362.4l2.9-1.1-2.8-5.2-2.9 1.1z"/><path color="#30c300" d="M385 366.7l2.9-1-2.8-5.3-2.9 .9z"/><path color="#00c102" d="M390.7 371.1l2.8-.8-2.8-5.2-2.8 .7z"/><path color="#00b828" d="M396.3 375.5l2.8-.7-2.8-5.1-2.8 .6z"/><path color="#00af4e" d="M401.9 379.7l2.8-.7-2.8-4.9-2.8 .5z"/><path color="#00a670" d="M407.4 383.8l2.8-.7-2.7-4.6-2.8 .5z"/><path color="#009e90" d="M413 387.5l2.8-.7-2.7-4.2-2.8 .5z"/><path color="#008fa2" d="M418.5 390.9l2.8-.7-2.7-3.9-2.8 .6z"/><path color="#0079a3" d="M424 393.8l2.8-.7-2.7-3.5-2.8 .6z"/><path color="#0065a4" d="M429.6 396.4l2.8-.8-2.7-3.2-2.8 .7z"/><path color="#0054a4" d="M435.1 398.5l2.8-.9-2.7-2.8-2.8 .7z"/><path color="#0046a3" d="M440.6 400.2l2.8-.9-2.7-2.5-2.8 .8z"/><path color="#006b77" d="M280.5 389.6l2.7-3.1-2.7 .6-2.7 2.9z"/><path color="#007768" d="M285.9 385.9l2.7-3.4-2.8 .8-2.7 3.2z"/><path color="#008150" d="M291.4 381.8l2.7-3.7-2.8 .8-2.7 3.5z"/><path color="#008c35" d="M296.9 377.5l2.7-3.9-2.8 .8-2.7 3.7z"/><path color="#009917" d="M302.4 373.1l2.7-4.1-2.8 .7-2.7 3.9z"/><path color="#0da600" d="M308 368.7l2.8-4.1-2.8 .5-2.8 4z"/><path color="#3aae00" d="M313.6 364.5l2.8-4.2-2.8 .2-2.8 4.1z"/><path color="#67b500" d="M319.2 360.7l2.8-4.1-2.9-.3-2.8 4z"/><path color="#91bb00" d="M324.9 357.4l2.8-4-2.9-.8-2.8 3.9z"/><path color="#b4bf00" d="M330.6 354.8l2.8-3.8-2.9-1.3-2.8 3.8z"/><path color="#c3b800" d="M336.3 352.9l2.8-3.6-2.9-2-2.8 3.6z"/><path color="#c5ad00" d="M342 352l2.9-3.3-2.9-2.6-2.8 3.3z"/><path color="#c7ac00" d="M347.8 352l2.9-3-2.9-3.2-2.9 3z"/><path color="#c7b400" d="M353.6 352.8l2.9-2.6-2.9-3.8-2.9 2.6z"/><path color="#c8c700" d="M359.3 354.6l2.9-2.3-2.9-4.3-2.9 2.3z"/><path color="#adc700" d="M365.1 357.1l2.9-2-2.9-4.8-2.9 2z"/><path color="#89c700" d="M370.8 360.2l2.9-1.7-2.9-5.1-2.9 1.6z"/><path color="#5ec600" d="M376.5 363.9l2.9-1.4-2.8-5.3-2.9 1.4z"/><path color="#30c500" d="M382.2 367.9l2.9-1.2-2.8-5.4-2.9 1.1z"/><path color="#00c301" d="M387.8 372.1l2.8-1.1-2.8-5.3-2.9 1z"/><path color="#00ba27" d="M393.4 376.4l2.8-.9-2.8-5.2-2.8 .8z"/><path color="#00b24c" d="M399 380.6l2.8-.8-2.8-5-2.8 .7z"/><path color="#00a96f" d="M404.6 384.6l2.8-.8-2.7-4.7-2.8 .7z"/><path color="#00a18f" d="M410.2 388.3l2.8-.8-2.7-4.4-2.8 .7z"/><path color="#0093a3" d="M415.7 391.7l2.8-.8-2.7-4-2.8 .7z"/><path color="#007da5" d="M421.2 394.6l2.8-.8-2.7-3.6-2.8 .7z"/><path color="#0069a6" d="M426.8 397.2l2.8-.9-2.7-3.3-2.8 .7z"/><path color="#0057a6" d="M432.3 399.4l2.8-.9-2.7-2.9-2.8 .8z"/><path color="#0049a5" d="M437.8 401.2l2.8-.9-2.7-2.6-2.8 .9z"/><path color="#00797c" d="M283.2 389.2l2.7-3.3-2.8 .6-2.7 3.1z"/><path color="#008365" d="M288.7 385.5l2.7-3.6-2.8 .6-2.7 3.4z"/><path color="#008d4b" d="M294.2 381.4l2.7-3.9-2.8 .6-2.7 3.7z"/><path color="#009a2e" d="M299.7 377.2l2.7-4.1-2.8 .5-2.7 3.9z"/><path color="#00a70e" d="M305.3 372.9l2.7-4.2-2.8 .3-2.7 4.1z"/><path color="#19b100" d="M310.8 368.8l2.8-4.3-2.8 0-2.8 4.1z"/><path color="#46b700" d="M316.4 365l2.8-4.3-2.9-.3-2.8 4.2z"/><path color="#6fbd00" d="M322.1 361.6l2.8-4.2-2.9-.8-2.8 4.1z"/><path color="#93c100" d="M327.8 358.8l2.8-4.1-2.9-1.4-2.8 4z"/><path color="#b0c400" d="M333.5 356.8l2.8-3.9-2.9-2-2.8 3.8z"/><path color="#c2c700" d="M339.2 355.6l2.8-3.6-2.9-2.6-2.8 3.6z"/><path color="#c8c600" d="M344.9 355.3l2.9-3.3-2.9-3.3-2.9 3.3z"/><path color="#c6c900" d="M350.7 355.8l2.9-3-2.9-3.8-2.9 3z"/><path color="#b8c900" d="M356.4 357.2l2.9-2.6-2.9-4.4-2.9 2.6z"/><path color="#a0c900" d="M362.2 359.4l2.9-2.3-2.9-4.8-2.9 2.3z"/><path color="#7fc800" d="M367.9 362.2l2.9-2-2.9-5.1-2.9 2z"/><path color="#58c800" d="M373.6 365.6l2.9-1.7-2.8-5.4-2.9 1.7z"/><path color="#2cc700" d="M379.3 369.4l2.9-1.5-2.8-5.5-2.9 1.4z"/><path color="#00c503" d="M385 373.4l2.8-1.3-2.8-5.4-2.9 1.2z"/><path color="#00bc27" d="M390.6 377.5l2.8-1.1-2.8-5.3-2.8 1.1z"/><path color="#00b44c" d="M396.2 381.6l2.8-1-2.8-5.1-2.8 .9z"/><path color="#00ab6e" d="M401.8 385.5l2.8-1-2.7-4.8-2.8 .8z"/><path color="#00a38e" d="M407.3 389.2l2.8-.9-2.7-4.5-2.8 .8z"/><path color="#0097a5" d="M412.9 392.5l2.8-.9-2.7-4.1-2.8 .8z"/><path color="#0080a6" d="M418.4 395.5l2.8-.9-2.7-3.8-2.8 .8z"/><path color="#006ca7" d="M424 398.1l2.8-.9-2.7-3.4-2.8 .8z"/><path color="#005aa7" d="M429.5 400.3l2.8-.9-2.7-3-2.8 .9z"/><path color="#004ba6" d="M435 402.2l2.8-1-2.7-2.7-2.8 .9z"/><path color="#00837a" d="M286 389l2.7-3.5-2.8 .5-2.7 3.3z"/><path color="#008d61" d="M291.5 385.2l2.7-3.8-2.8 .5-2.7 3.6z"/><path color="#009946" d="M297 381.2l2.7-4-2.8 .4-2.7 3.9z"/><path color="#00a527" d="M302.5 377.1l2.7-4.2-2.8 .2-2.7 4.1z"/><path color="#00b207" d="M308.1 373.1l2.7-4.3-2.8-.1-2.7 4.2z"/><path color="#22b900" d="M313.7 369.3l2.8-4.4-2.9-.4-2.8 4.3z"/><path color="#4bbe00" d="M319.3 365.9l2.8-4.3-2.9-.9-2.8 4.3z"/><path color="#70c200" d="M325 363.1l2.8-4.2-2.9-1.4-2.8 4.2z"/><path color="#8ec500" d="M330.7 360.9l2.8-4.1-2.9-2-2.8 4.1z"/><path color="#a2c800" d="M336.4 359.5l2.8-3.9-2.9-2.6-2.8 3.9z"/><path color="#adc900" d="M342.1 358.9l2.8-3.6-2.9-3.3-2.8 3.6z"/><path color="#adca00" d="M347.8 359.1l2.9-3.3-2.9-3.8-2.9 3.3z"/><path color="#a3ca00" d="M353.6 360.2l2.9-3-2.9-4.4-2.9 3z"/><path color="#8eca00" d="M359.3 362l2.9-2.6-2.9-4.8-2.9 2.6z"/><path color="#71ca00" d="M365.1 364.6l2.9-2.3-2.9-5.2-2.9 2.3z"/><path color="#4dc900" d="M370.8 367.7l2.9-2-2.8-5.4-2.9 2z"/><path color="#24c800" d="M376.4 371.2l2.9-1.8-2.8-5.5-2.9 1.7z"/><path color="#00c606" d="M382.1 375l2.9-1.6-2.8-5.5-2.9 1.5z"/><path color="#00be2a" d="M387.7 378.9l2.8-1.4-2.8-5.4-2.8 1.3z"/><path color="#00b54d" d="M393.4 382.8l2.8-1.2-2.8-5.2-2.8 1.1z"/><path color="#00ad6f" d="M399 386.7l2.8-1.1-2.8-5-2.8 1z"/><path color="#00a58e" d="M404.5 390.3l2.8-1.1-2.7-4.6-2.8 1z"/><path color="#009aa6" d="M410.1 393.6l2.8-1-2.7-4.3-2.8 .9z"/><path color="#0083a8" d="M415.6 396.5l2.8-1-2.7-3.9-2.8 .9z"/><path color="#006ea9" d="M421.2 399.1l2.8-1-2.7-3.5-2.8 .9z"/><path color="#005ca9" d="M426.7 401.3l2.8-1-2.7-3.1-2.8 .9z"/><path color="#004da8" d="M432.2 403.2l2.8-1-2.7-2.8-2.8 .9z"/><path color="#008d77" d="M288.8 388.9l2.7-3.7-2.8 .3-2.7 3.5z"/><path color="#00975d" d="M294.3 385.1l2.7-4-2.8 .2-2.7 3.8z"/><path color="#00a340" d="M299.8 381.3l2.7-4.2-2.8 0-2.7 4z"/><path color="#00af21" d="M305.3 377.4l2.7-4.3-2.8-.2-2.7 4.2z"/><path color="#00ba02" d="M310.9 373.8l2.8-4.4-2.8-.5-2.7 4.3z"/><path color="#26bf00" d="M316.5 370.4l2.8-4.4-2.9-1-2.8 4.4z"/><path color="#4bc300" d="M322.2 367.5l2.8-4.4-2.9-1.5-2.8 4.3z"/><path color="#69c600" d="M327.9 365.2l2.8-4.3-2.9-2.1-2.8 4.2z"/><path color="#80c800" d="M333.5 363.5l2.8-4.1-2.9-2.7-2.8 4.1z"/><path color="#8dca00" d="M339.3 362.7l2.8-3.8-2.9-3.3-2.8 3.9z"/><path color="#90cb00" d="M345 362.7l2.8-3.6-2.9-3.8-2.8 3.6z"/><path color="#8acb00" d="M350.7 363.4l2.9-3.3-2.9-4.4-2.9 3.3z"/><path color="#79cb00" d="M356.5 365l2.9-2.9-2.9-4.8-2.9 3z"/><path color="#60cb00" d="M362.2 367.2l2.9-2.6-2.9-5.2-2.9 2.6z"/><path color="#40ca00" d="M367.9 370l2.9-2.3-2.8-5.4-2.9 2.3z"/><path color="#19c900" d="M373.6 373.2l2.9-2.1-2.8-5.6-2.9 2z"/><path color="#00c60d" d="M379.3 376.8l2.9-1.8-2.8-5.6-2.9 1.8z"/><path color="#00be2e" d="M384.9 380.5l2.8-1.6-2.8-5.5-2.9 1.6z"/><path color="#00b650" d="M390.5 384.3l2.8-1.4-2.8-5.3-2.8 1.4z"/><path color="#00ae71" d="M396.1 388l2.8-1.3-2.8-5-2.8 1.2z"/><path color="#00a690" d="M401.7 391.5l2.8-1.2-2.7-4.7-2.8 1.1z"/><path color="#009ba8" d="M407.3 394.7l2.8-1.1-2.7-4.4-2.8 1.1z"/><path color="#0084a9" d="M412.8 397.6l2.8-1.1-2.7-4-2.8 1z"/><path color="#0070aa" d="M418.4 400.2l2.8-1.1-2.7-3.6-2.8 1z"/><path color="#005eaa" d="M423.9 402.4l2.8-1.1-2.7-3.2-2.8 1z"/><path color="#004faa" d="M429.4 404.3l2.8-1.1-2.7-2.9-2.8 1z"/><path color="#009574" d="M291.6 389l2.7-3.9-2.8 0-2.7 3.7z"/><path color="#00a059" d="M297.1 385.4l2.7-4.1-2.8-.1-2.7 4z"/><path color="#00ab3c" d="M302.6 381.7l2.7-4.3-2.8-.3-2.7 4.2z"/><path color="#00b61e" d="M308.2 378.2l2.7-4.4-2.8-.6-2.7 4.3z"/><path color="#00c000" d="M313.8 374.9l2.8-4.5-2.9-1.1-2.8 4.4z"/><path color="#24c400" d="M319.4 372l2.8-4.5-2.9-1.5-2.8 4.4z"/><path color="#43c700" d="M325.1 369.6l2.8-4.4-2.9-2.1-2.8 4.4z"/><path color="#5bc900" d="M330.7 367.8l2.8-4.3-2.9-2.7-2.8 4.3z"/><path color="#6aca00" d="M336.4 366.8l2.8-4.1-2.9-3.2-2.8 4.1z"/><path color="#70cb00" d="M342.2 366.5l2.8-3.8-2.9-3.8-2.8 3.8z"/><path color="#6dcc00" d="M347.9 367l2.8-3.5-2.9-4.3-2.8 3.6z"/><path color="#60cc00" d="M353.6 368.2l2.9-3.2-2.9-4.8-2.9 3.3z"/><path color="#4bcc00" d="M359.3 370.1l2.9-2.9-2.9-5.2-2.9 2.9z"/><path color="#2ecb00" d="M365 372.6l2.9-2.6-2.8-5.4-2.9 2.6z"/><path color="#0cca00" d="M370.7 375.5l2.9-2.3-2.8-5.6-2.9 2.3z"/><path color="#00c515" d="M376.4 378.8l2.9-2.1-2.8-5.6-2.9 2.1z"/><path color="#00be35" d="M382.1 382.3l2.8-1.8-2.8-5.5-2.9 1.8z"/><path color="#00b655" d="M387.7 385.9l2.8-1.6-2.8-5.4-2.8 1.6z"/><path color="#00af75" d="M393.3 389.4l2.8-1.5-2.8-5.1-2.8 1.4z"/><path color="#00a793" d="M398.9 392.8l2.8-1.4-2.7-4.8-2.8 1.3z"/><path color="#009ca9" d="M404.4 396l2.8-1.3-2.7-4.4-2.8 1.2z"/><path color="#0085ab" d="M410 398.8l2.8-1.2-2.7-4.1-2.8 1.1z"/><path color="#0071ac" d="M415.5 401.4l2.8-1.2-2.7-3.7-2.8 1.1z"/><path color="#005fac" d="M421.1 403.6l2.8-1.1-2.7-3.3-2.8 1.1z"/><path color="#0050ab" d="M426.6 405.4l2.8-1.1-2.7-2.9-2.8 1.1z"/><path color="#009d72" d="M294.4 389.4l2.7-4-2.8-.2-2.7 3.9z"/><path color="#00a757" d="M299.9 386l2.7-4.2-2.8-.4-2.7 4.1z"/><path color="#00b13b" d="M305.4 382.6l2.7-4.4-2.8-.7-2.7 4.3z"/><path color="#00bb1e" d="M311 379.4l2.7-4.5-2.9-1.1-2.7 4.4z"/><path color="#00c403" d="M316.6 376.5l2.8-4.5-2.9-1.6-2.8 4.5z"/><path color="#1bc700" d="M322.3 374.1l2.8-4.5-2.9-2.1-2.8 4.5z"/><path color="#34c900" d="M327.9 372.2l2.8-4.4-2.9-2.6-2.8 4.4z"/><path color="#45ca00" d="M333.6 371l2.8-4.2-2.9-3.2-2.8 4.3z"/><path color="#4ecb00" d="M339.3 370.5l2.8-4-2.9-3.8-2.8 4.1z"/><path color="#4ecc00" d="M345.1 370.7l2.8-3.7-2.9-4.3-2.8 3.8z"/><path color="#44cc00" d="M350.8 371.6l2.8-3.5-2.9-4.8-2.8 3.5z"/><path color="#33cc00" d="M356.5 373.3l2.8-3.2-2.9-5.1-2.9 3.2z"/><path color="#1acc00" d="M362.2 375.4l2.9-2.8-2.9-5.4-2.9 2.9z"/><path color="#00ca04" d="M367.9 378.1l2.9-2.6-2.8-5.6-2.9 2.6z"/><path color="#00c420" d="M373.6 381.1l2.8-2.3-2.8-5.6-2.9 2.3z"/><path color="#00bd3d" d="M379.2 384.4l2.8-2-2.8-5.5-2.9 2.1z"/><path color="#00b65b" d="M384.8 387.7l2.8-1.8-2.8-5.4-2.8 1.8z"/><path color="#00af7a" d="M390.5 391.1l2.8-1.6-2.8-5.2-2.8 1.6z"/><path color="#00a796" d="M396 394.3l2.8-1.5-2.8-4.9-2.8 1.5z"/><path color="#009caa" d="M401.6 397.3l2.8-1.4-2.7-4.5-2.8 1.4z"/><path color="#0086ac" d="M407.2 400.1l2.8-1.3-2.7-4.1-2.8 1.3z"/><path color="#0072ad" d="M412.7 402.6l2.8-1.2-2.7-3.7-2.8 1.2z"/><path color="#0060ad" d="M418.3 404.8l2.8-1.2-2.7-3.4-2.8 1.2z"/><path color="#0051ac" d="M423.8 406.6l2.8-1.2-2.7-3-2.8 1.1z"/><path color="#00a371" d="M297.2 390.1l2.7-4.1-2.8-.6-2.7 4z"/><path color="#00ac56" d="M302.7 386.9l2.7-4.3-2.8-.8-2.7 4.2z"/><path color="#00b53c" d="M308.3 383.8l2.7-4.5-2.8-1.2-2.7 4.4z"/><path color="#00be22" d="M313.9 381l2.8-4.5-2.9-1.6-2.7 4.5z"/><path color="#00c50a" d="M319.5 378.6l2.8-4.5-2.9-2.1-2.8 4.5z"/><path color="#0cc900" d="M325.2 376.7l2.8-4.5-2.9-2.6-2.8 4.5z"/><path color="#1ecb00" d="M330.8 375.3l2.8-4.3-2.9-3.2-2.8 4.4z"/><path color="#29cc00" d="M336.5 374.6l2.8-4.2-2.9-3.7-2.8 4.2z"/><path color="#2ccc00" d="M342.2 374.6l2.8-3.9-2.9-4.2-2.8 4z"/><path color="#26cc00" d="M347.9 375.3l2.8-3.7-2.9-4.7-2.8 3.7z"/><path color="#18cc00" d="M353.7 376.6l2.8-3.4-2.9-5.1-2.8 3.5z"/><path color="#02cc00" d="M359.4 378.5l2.8-3.1-2.9-5.3-2.8 3.2z"/><path color="#00c813" d="M365 380.9l2.8-2.8-2.8-5.5-2.9 2.8z"/><path color="#00c22c" d="M370.7 383.6l2.8-2.5-2.8-5.6-2.9 2.6z"/><path color="#00bc47" d="M376.4 386.6l2.8-2.2-2.8-5.5-2.8 2.3z"/><path color="#00b564" d="M382 389.7l2.8-2-2.8-5.4-2.8 2z"/><path color="#00ae80" d="M387.6 392.9l2.8-1.8-2.8-5.2-2.8 1.8z"/><path color="#00a79b" d="M393.2 396l2.8-1.7-2.8-4.9-2.8 1.6z"/><path color="#009aac" d="M398.8 398.9l2.8-1.5-2.7-4.5-2.8 1.5z"/><path color="#0085ad" d="M404.4 401.5l2.8-1.4-2.7-4.2-2.8 1.4z"/><path color="#0071ae" d="M409.9 403.9l2.8-1.3-2.7-3.8-2.8 1.3z"/><path color="#0060ae" d="M415.5 406l2.8-1.3-2.7-3.4-2.8 1.2z"/><path color="#0051ae" d="M421 407.8l2.8-1.3-2.7-3-2.8 1.2z"/><path color="#00a771" d="M300 391.1l2.7-4.2-2.8-.9-2.7 4.1z"/><path color="#00b058" d="M305.6 388.2l2.7-4.4-2.8-1.3-2.7 4.3z"/><path color="#00b840" d="M311.1 385.5l2.7-4.5-2.9-1.6-2.7 4.5z"/><path color="#00bf29" d="M316.8 383.1l2.8-4.5-2.9-2.1-2.8 4.5z"/><path color="#00c516" d="M322.4 381.2l2.8-4.5-2.9-2.6-2.8 4.5z"/><path color="#00c907" d="M328.1 379.7l2.8-4.4-2.9-3.1-2.8 4.5z"/><path color="#03cc00" d="M333.7 378.9l2.8-4.3-2.9-3.7-2.8 4.3z"/><path color="#08cc00" d="M339.4 378.7l2.8-4.1-2.9-4.2-2.8 4.2z"/><path color="#05cd00" d="M345.1 379.1l2.8-3.8-2.9-4.6-2.8 3.9z"/><path color="#00cc04" d="M350.8 380.2l2.8-3.6-2.9-5-2.8 3.7z"/><path color="#00c912" d="M356.5 381.8l2.8-3.3-2.9-5.3-2.8 3.4z"/><path color="#00c524" d="M362.2 383.9l2.8-3-2.8-5.4-2.8 3.1z"/><path color="#00c03b" d="M367.9 386.3l2.8-2.7-2.8-5.5-2.8 2.8z"/><path color="#00ba53" d="M373.5 389l2.8-2.4-2.8-5.5-2.8 2.5z"/><path color="#00b46d" d="M379.2 391.9l2.8-2.2-2.8-5.4-2.8 2.2z"/><path color="#00ae88" d="M384.8 394.9l2.8-2-2.8-5.2-2.8 2z"/><path color="#00a7a2" d="M390.4 397.8l2.8-1.8-2.8-4.9-2.8 1.8z"/><path color="#0098ad" d="M396 400.5l2.8-1.6-2.8-4.6-2.8 1.7z"/><path color="#0083af" d="M401.5 403.1l2.8-1.5-2.7-4.2-2.8 1.5z"/><path color="#0070af" d="M407.1 405.4l2.8-1.4-2.7-3.8-2.8 1.4z"/><path color="#005fb0" d="M412.7 407.4l2.8-1.4-2.7-3.4-2.8 1.3z"/><path color="#0051af" d="M418.2 409.2l2.8-1.3-2.7-3.1-2.8 1.3z"/><path color="#00aa74" d="M302.8 392.4l2.7-4.2-2.8-1.3-2.7 4.2z"/><path color="#00b25d" d="M308.4 389.9l2.7-4.4-2.9-1.7-2.7 4.4z"/><path color="#00b948" d="M314 387.6l2.7-4.5-2.9-2.1-2.7 4.5z"/><path color="#00bf35" d="M319.6 385.7l2.8-4.5-2.9-2.6-2.8 4.5z"/><path color="#00c326" d="M325.3 384.2l2.8-4.4-2.9-3.1-2.8 4.5z"/><path color="#00c61b" d="M330.9 383.2l2.8-4.3-2.9-3.6-2.8 4.4z"/><path color="#00c816" d="M336.6 382.9l2.8-4.2-2.9-4.1-2.8 4.3z"/><path color="#00c816" d="M342.3 383.1l2.8-3.9-2.9-4.5-2.8 4.1z"/><path color="#00c71c" d="M348 383.9l2.8-3.7-2.9-4.9-2.8 3.8z"/><path color="#00c527" d="M353.7 385.2l2.8-3.4-2.9-5.2-2.8 3.6z"/><path color="#00c237" d="M359.4 387l2.8-3.1-2.8-5.3-2.8 3.3z"/><path color="#00bd4b" d="M365 389.2l2.8-2.9-2.8-5.4-2.8 3z"/><path color="#00b861" d="M370.7 391.6l2.8-2.6-2.8-5.4-2.8 2.7z"/><path color="#00b279" d="M376.3 394.3l2.8-2.3-2.8-5.3-2.8 2.4z"/><path color="#00ac91" d="M381.9 397l2.8-2.1-2.8-5.1-2.8 2.2z"/><path color="#00a6a9" d="M387.5 399.7l2.8-1.9-2.8-4.9-2.8 2z"/><path color="#0094ae" d="M393.1 402.3l2.8-1.8-2.8-4.5-2.8 1.8z"/><path color="#0081b0" d="M398.7 404.7l2.8-1.6-2.7-4.2-2.8 1.6z"/><path color="#006fb1" d="M404.3 406.9l2.8-1.5-2.7-3.8-2.8 1.5z"/><path color="#005eb1" d="M409.9 408.8l2.8-1.4-2.7-3.5-2.8 1.4z"/><path color="#0050b0" d="M415.4 410.5l2.8-1.4-2.7-3.1-2.8 1.4z"/><path color="#00ac79" d="M305.7 394.1l2.7-4.3-2.9-1.7-2.7 4.2z"/><path color="#00b365" d="M311.3 392l2.7-4.4-2.9-2.1-2.7 4.4z"/><path color="#00b853" d="M316.9 390.1l2.8-4.4-2.9-2.5-2.7 4.5z"/><path color="#00bd44" d="M322.5 388.6l2.8-4.4-2.9-3-2.8 4.5z"/><path color="#00c039" d="M328.2 387.6l2.8-4.3-2.9-3.5-2.8 4.4z"/><path color="#00c232" d="M333.8 387l2.8-4.2-2.9-3.9-2.8 4.3z"/><path color="#00c331" d="M339.5 387.1l2.8-4-2.9-4.4-2.8 4.2z"/><path color="#00c235" d="M345.2 387.6l2.8-3.8-2.9-4.7-2.8 3.9z"/><path color="#00c13e" d="M350.9 388.7l2.8-3.5-2.9-5-2.8 3.7z"/><path color="#00be4b" d="M356.5 390.3l2.8-3.3-2.8-5.2-2.8 3.4z"/><path color="#00ba5c" d="M362.2 392.2l2.8-3-2.8-5.3-2.8 3.1z"/><path color="#00b56f" d="M367.8 394.4l2.8-2.7-2.8-5.3-2.8 2.9z"/><path color="#00b085" d="M373.5 396.8l2.8-2.5-2.8-5.2-2.8 2.6z"/><path color="#00ab9b" d="M379.1 399.2l2.8-2.3-2.8-5.1-2.8 2.3z"/><path color="#00a3ae" d="M384.7 401.7l2.8-2-2.8-4.8-2.8 2.1z"/><path color="#008fb0" d="M390.3 404.1l2.8-1.9-2.8-4.5-2.8 1.9z"/><path color="#007db1" d="M395.9 406.4l2.8-1.7-2.8-4.2-2.8 1.8z"/><path color="#006cb2" d="M401.5 408.5l2.8-1.6-2.7-3.8-2.8 1.6z"/><path color="#005db2" d="M407 410.3l2.8-1.5-2.7-3.5-2.8 1.5z"/><path color="#004fb1" d="M412.6 411.9l2.8-1.4-2.7-3.1-2.8 1.4z"/><path color="#00ad81" d="M308.5 396.2l2.7-4.2-2.9-2.1-2.7 4.3z"/><path color="#00b270" d="M314.1 394.4l2.7-4.3-2.9-2.5-2.7 4.4z"/><path color="#00b761" d="M319.7 392.9l2.8-4.3-2.9-2.9-2.8 4.4z"/><path color="#00ba56" d="M325.4 391.8l2.8-4.3-2.9-3.4-2.8 4.4z"/><path color="#00bc4f" d="M331 391.2l2.8-4.2-2.9-3.8-2.8 4.3z"/><path color="#00bd4c" d="M336.7 391.1l2.8-4-2.9-4.2-2.8 4.2z"/><path color="#00bd4e" d="M342.4 391.5l2.8-3.8-2.9-4.6-2.8 4z"/><path color="#00bc55" d="M348 392.3l2.8-3.6-2.9-4.9-2.8 3.8z"/><path color="#00ba60" d="M353.7 393.6l2.8-3.4-2.8-5.1-2.8 3.5z"/><path color="#00b66e" d="M359.4 395.3l2.8-3.1-2.8-5.2-2.8 3.3z"/><path color="#00b27f" d="M365 397.2l2.8-2.8-2.8-5.2-2.8 3z"/><path color="#00ae92" d="M370.7 399.3l2.8-2.6-2.8-5.1-2.8 2.7z"/><path color="#00a9a7" d="M376.3 401.6l2.8-2.4-2.8-5-2.8 2.5z"/><path color="#009cb0" d="M381.9 403.9l2.8-2.2-2.8-4.7-2.8 2.3z"/><path color="#008ab1" d="M387.5 406.1l2.8-2-2.8-4.5-2.8 2z"/><path color="#0079b2" d="M393.1 408.2l2.8-1.8-2.8-4.1-2.8 1.9z"/><path color="#0069b3" d="M398.7 410.2l2.8-1.7-2.8-3.8-2.8 1.7z"/><path color="#005ab3" d="M404.2 411.9l2.8-1.6-2.7-3.4-2.8 1.6z"/><path color="#004db2" d="M409.8 413.4l2.8-1.5-2.7-3.1-2.8 1.5z"/><path color="#00ac8b" d="M311.4 398.6l2.7-4.2-2.9-2.4-2.7 4.2z"/><path color="#00b07d" d="M317 397.1l2.8-4.2-2.9-2.8-2.7 4.3z"/><path color="#00b472" d="M322.6 396l2.8-4.2-2.9-3.3-2.8 4.3z"/><path color="#00b66a" d="M328.3 395.4l2.8-4.1-2.9-3.7-2.8 4.3z"/><path color="#00b867" d="M333.9 395.1l2.8-4-2.9-4.1-2.8 4.2z"/><path color="#00b867" d="M339.6 395.3l2.8-3.8-2.9-4.4-2.8 4z"/><path color="#00b76c" d="M345.2 396l2.8-3.6-2.9-4.7-2.8 3.8z"/><path color="#00b575" d="M350.9 397l2.8-3.4-2.9-4.9-2.8 3.6z"/><path color="#00b381" d="M356.5 398.4l2.8-3.2-2.8-5-2.8 3.4z"/><path color="#00af90" d="M362.2 400.1l2.8-2.9-2.8-5-2.8 3.1z"/><path color="#00aba1" d="M367.8 402l2.8-2.7-2.8-5-2.8 2.8z"/><path color="#00a4b0" d="M373.5 404l2.8-2.4-2.8-4.8-2.8 2.6z"/><path color="#0094b1" d="M379.1 406.1l2.8-2.2-2.8-4.6-2.8 2.4z"/><path color="#0084b3" d="M384.7 408.2l2.8-2-2.8-4.4-2.8 2.2z"/><path color="#0074b3" d="M390.3 410.1l2.8-1.9-2.8-4.1-2.8 2z"/><path color="#0065b4" d="M395.8 411.9l2.8-1.7-2.8-3.8-2.8 1.8z"/><path color="#0058b3" d="M401.4 413.5l2.8-1.6-2.8-3.4-2.8 1.7z"/><path color="#004bb2" d="M407 415l2.8-1.5-2.8-3.1-2.8 1.6z"/><path color="#00aa98" d="M314.2 401.2l2.7-4.1-2.9-2.7-2.7 4.2z"/><path color="#00ae8d" d="M319.9 400.1l2.8-4.1-2.9-3.1-2.8 4.2z"/><path color="#00b185" d="M325.5 399.4l2.8-4-2.9-3.5-2.8 4.2z"/><path color="#00b281" d="M331.1 399.1l2.8-4-2.9-3.9-2.8 4.1z"/><path color="#00b380" d="M336.8 399.2l2.8-3.8-2.9-4.2-2.8 4z"/><path color="#00b283" d="M342.4 399.6l2.8-3.6-2.9-4.5-2.8 3.8z"/><path color="#00b18a" d="M348.1 400.5l2.8-3.4-2.9-4.7-2.8 3.6z"/><path color="#00af94" d="M353.7 401.7l2.8-3.2-2.8-4.8-2.8 3.4z"/><path color="#00aca1" d="M359.4 403.1l2.8-3-2.8-4.9-2.8 3.2z"/><path color="#00a8af" d="M365 404.8l2.8-2.7-2.8-4.8-2.8 2.9z"/><path color="#009bb1" d="M370.6 406.6l2.8-2.5-2.8-4.7-2.8 2.7z"/><path color="#008cb3" d="M376.2 408.4l2.8-2.3-2.8-4.5-2.8 2.4z"/><path color="#007db4" d="M381.8 410.3l2.8-2.1-2.8-4.3-2.8 2.2z"/><path color="#006fb4" d="M387.4 412l2.8-1.9-2.8-4-2.8 2z"/><path color="#0061b5" d="M393 413.7l2.8-1.8-2.8-3.7-2.8 1.9z"/><path color="#0054b4" d="M398.6 415.2l2.8-1.7-2.8-3.4-2.8 1.7z"/><path color="#0049b3" d="M404.2 416.5l2.8-1.6-2.8-3-2.8 1.6z"/><path color="#00a8a6" d="M317.1 404.1l2.8-3.9-2.9-3-2.7 4.1z"/><path color="#00ab9f" d="M322.7 403.3l2.8-3.9-2.9-3.4-2.8 4.1z"/><path color="#00ad9a" d="M328.3 402.9l2.8-3.9-2.9-3.7-2.8 4z"/><path color="#00ad98" d="M334 402.9l2.8-3.7-2.9-4-2.8 4z"/><path color="#00ad9a" d="M339.6 403.2l2.8-3.6-2.9-4.3-2.8 3.8z"/><path color="#00ac9f" d="M345.3 403.9l2.8-3.4-2.8-4.5-2.8 3.6z"/><path color="#00aaa7" d="M350.9 404.9l2.8-3.2-2.8-4.6-2.8 3.4z"/><path color="#00a7b0" d="M356.6 406.1l2.8-3-2.8-4.7-2.8 3.2z"/><path color="#009cb2" d="M362.2 407.5l2.8-2.8-2.8-4.6-2.8 3z"/><path color="#0090b3" d="M367.8 409.1l2.8-2.6-2.8-4.5-2.8 2.7z"/><path color="#0083b4" d="M373.4 410.8l2.8-2.3-2.8-4.4-2.8 2.5z"/><path color="#0076b5" d="M379 412.4l2.8-2.2-2.8-4.1-2.8 2.3z"/><path color="#0069b5" d="M384.6 414l2.8-2-2.8-3.9-2.8 2.1z"/><path color="#005cb5" d="M390.2 415.5l2.8-1.8-2.8-3.6-2.8 1.9z"/><path color="#0051b5" d="M395.8 416.9l2.8-1.7-2.8-3.3-2.8 1.8z"/><path color="#0046b4" d="M401.4 418.1l2.8-1.6-2.8-3-2.8 1.7z"/><path color="#00a1b0" d="M320 407.1l2.8-3.8-2.9-3.2-2.8 3.9z"/><path color="#00a6b0" d="M325.6 406.7l2.8-3.7-2.9-3.5-2.8 3.9z"/><path color="#00a8af" d="M331.2 406.5l2.8-3.6-2.9-3.8-2.8 3.9z"/><path color="#00a8b0" d="M336.8 406.7l2.8-3.5-2.9-4.1-2.8 3.7z"/><path color="#00a6b1" d="M342.5 407.3l2.8-3.4-2.8-4.3-2.8 3.6z"/><path color="#00a1b2" d="M348.1 408l2.8-3.2-2.8-4.4-2.8 3.4z"/><path color="#0099b2" d="M353.7 409.1l2.8-3-2.8-4.4-2.8 3.2z"/><path color="#0090b4" d="M359.4 410.3l2.8-2.8-2.8-4.4-2.8 3z"/><path color="#0086b5" d="M365 411.7l2.8-2.6-2.8-4.4-2.8 2.8z"/><path color="#007ab5" d="M370.6 413.1l2.8-2.4-2.8-4.2-2.8 2.6z"/><path color="#006fb6" d="M376.2 414.6l2.8-2.2-2.8-4-2.8 2.3z"/><path color="#0063b6" d="M381.8 416l2.8-2-2.8-3.8-2.8 2.2z"/><path color="#0058b6" d="M387.4 417.4l2.8-1.9-2.8-3.5-2.8 2z"/><path color="#004db5" d="M393 418.7l2.8-1.7-2.8-3.2-2.8 1.8z"/><path color="#0043b4" d="M398.5 419.8l2.8-1.6-2.8-2.9-2.8 1.7z"/><path color="#0093b2" d="M322.8 410.2l2.8-3.6-2.9-3.3-2.8 3.8z"/><path color="#0096b2" d="M328.4 410l2.8-3.5-2.9-3.6-2.8 3.7z"/><path color="#0097b3" d="M334.1 410.2l2.8-3.4-2.9-3.8-2.8 3.6z"/><path color="#0095b3" d="M339.7 410.5l2.8-3.3-2.8-4-2.8 3.5z"/><path color="#0092b4" d="M345.3 411.2l2.8-3.1-2.8-4.2-2.8 3.4z"/><path color="#008cb4" d="M350.9 412l2.8-2.9-2.8-4.2-2.8 3.2z"/><path color="#0084b5" d="M356.6 413.1l2.8-2.8-2.8-4.2-2.8 3z"/><path color="#007bb6" d="M362.2 414.3l2.8-2.6-2.8-4.1-2.8 2.8z"/><path color="#0071b7" d="M367.8 415.5l2.8-2.4-2.8-4-2.8 2.6z"/><path color="#0067b7" d="M373.4 416.8l2.8-2.2-2.8-3.8-2.8 2.4z"/><path color="#005cb7" d="M379 418.1l2.8-2-2.8-3.6-2.8 2.2z"/><path color="#0052b7" d="M384.6 419.3l2.8-1.9-2.8-3.4-2.8 2z"/><path color="#0049b6" d="M390.2 420.4l2.8-1.8-2.8-3.1-2.8 1.9z"/><path color="#0040b4" d="M395.7 421.4l2.8-1.7-2.8-2.9-2.8 1.7z"/><path color="#0085b4" d="M325.7 413.4l2.8-3.3-2.9-3.4-2.8 3.6z"/><path color="#0087b5" d="M331.3 413.4l2.8-3.3-2.8-3.6-2.8 3.5z"/><path color="#0086b5" d="M336.9 413.7l2.8-3.2-2.8-3.8-2.8 3.4z"/><path color="#0083b5" d="M342.5 414.2l2.8-3-2.8-3.9-2.8 3.3z"/><path color="#007eb6" d="M348.1 414.9l2.8-2.9-2.8-4-2.8 3.1z"/><path color="#0078b7" d="M353.8 415.8l2.8-2.7-2.8-4-2.8 2.9z"/><path color="#0071b7" d="M359.4 416.8l2.8-2.5-2.8-3.9-2.8 2.8z"/><path color="#0068b7" d="M365 417.9l2.8-2.4-2.8-3.8-2.8 2.6z"/><path color="#005fb8" d="M370.6 419l2.8-2.2-2.8-3.7-2.8 2.4z"/><path color="#0056b7" d="M376.2 420.1l2.8-2-2.8-3.5-2.8 2.2z"/><path color="#004db7" d="M381.8 421.2l2.8-1.9-2.8-3.3-2.8 2z"/><path color="#0044b6" d="M387.4 422.2l2.8-1.8-2.8-3-2.8 1.9z"/><path color="#003cb4" d="M392.9 423.1l2.8-1.7-2.8-2.8-2.8 1.8z"/><path color="#0077b6" d="M328.5 416.6l2.8-3.1-2.8-3.4-2.8 3.3z"/><path color="#0077b6" d="M334.1 416.7l2.8-3-2.8-3.6-2.8 3.3z"/><path color="#0075b7" d="M339.7 417.1l2.8-2.9-2.8-3.7-2.8 3.2z"/><path color="#0072b7" d="M345.3 417.7l2.8-2.8-2.8-3.7-2.8 3z"/><path color="#006db8" d="M351 418.4l2.8-2.6-2.8-3.8-2.8 2.9z"/><path color="#0066b8" d="M356.6 419.3l2.8-2.5-2.8-3.7-2.8 2.7z"/><path color="#005fb8" d="M362.2 420.2l2.8-2.3-2.8-3.6-2.8 2.5z"/><path color="#0057b8" d="M367.8 421.2l2.8-2.2-2.8-3.5-2.8 2.4z"/><path color="#004fb8" d="M373.4 422.2l2.8-2-2.8-3.3-2.8 2.2z"/><path color="#0048b7" d="M379 423.1l2.8-1.9-2.8-3.1-2.8 2z"/><path color="#0040b6" d="M384.5 424l2.8-1.8-2.8-2.9-2.8 1.9z"/><path color="#0039b4" d="M390.1 424.8l2.8-1.7-2.8-2.7-2.8 1.8z"/><path color="#0069b8" d="M331.3 419.6l2.8-2.9-2.8-3.3-2.8 3.1z"/><path color="#0068b8" d="M336.9 419.9l2.8-2.8-2.8-3.4-2.8 3z"/><path color="#0066b8" d="M342.6 420.4l2.8-2.7-2.8-3.5-2.8 2.9z"/><path color="#0062b8" d="M348.2 421l2.8-2.6-2.8-3.5-2.8 2.8z"/><path color="#005cb9" d="M353.8 421.7l2.8-2.4-2.8-3.5-2.8 2.6z"/><path color="#0056b9" d="M359.4 422.5l2.8-2.3-2.8-3.4-2.8 2.5z"/><path color="#0050b8" d="M365 423.3l2.8-2.1-2.8-3.3-2.8 2.3z"/><path color="#0049b8" d="M370.6 424.2l2.8-2-2.8-3.1-2.8 2.2z"/><path color="#0042b7" d="M376.2 425l2.8-1.9-2.8-3-2.8 2z"/><path color="#003cb5" d="M381.7 425.7l2.8-1.8-2.8-2.8-2.8 1.9z"/><path color="#0035b4" d="M387.3 426.4l2.8-1.7-2.8-2.6-2.8 1.8z"/><path color="#005cb8" d="M334.2 422.6l2.8-2.7-2.8-3.2-2.8 2.9z"/><path color="#005ab9" d="M339.8 423l2.8-2.6-2.8-3.3-2.8 2.8z"/><path color="#0057b9" d="M345.4 423.5l2.8-2.5-2.8-3.3-2.8 2.7z"/><path color="#0053b9" d="M351 424.1l2.8-2.3-2.8-3.3-2.8 2.6z"/><path color="#004eb9" d="M356.6 424.7l2.8-2.2-2.8-3.2-2.8 2.4z"/><path color="#0049b8" d="M362.2 425.4l2.8-2.1-2.8-3.1-2.8 2.3z"/><path color="#0043b7" d="M367.8 426.1l2.8-2-2.8-3-2.8 2.1z"/><path color="#003db6" d="M373.3 426.8l2.8-1.9-2.8-2.8-2.8 2z"/><path color="#0037b5" d="M378.9 427.5l2.8-1.8-2.8-2.6-2.8 1.9z"/><path color="#0032b3" d="M384.5 428.1l2.8-1.7-2.8-2.5-2.8 1.8z"/><path color="#0050b9" d="M337 425.4l2.8-2.4-2.8-3-2.8 2.7z"/><path color="#004eb9" d="M342.6 425.8l2.8-2.4-2.8-3.1-2.8 2.6z"/><path color="#004ab9" d="M348.2 426.3l2.8-2.3-2.8-3.1-2.8 2.5z"/><path color="#0046b8" d="M353.8 426.9l2.8-2.1-2.8-3-2.8 2.3z"/><path color="#0042b8" d="M359.4 427.5l2.8-2-2.8-2.9-2.8 2.2z"/><path color="#003db7" d="M365 428.1l2.8-1.9-2.8-2.8-2.8 2.1z"/><path color="#0038b6" d="M370.5 428.7l2.8-1.8-2.8-2.7-2.8 2z"/><path color="#0033b4" d="M376.1 429.2l2.8-1.7-2.8-2.5-2.8 1.9z"/><path color="#002eb2" d="M381.7 429.7l2.8-1.6-2.8-2.4-2.8 1.8z"/><path color="#0045b8" d="M339.8 428.1l2.8-2.2-2.8-2.8-2.8 2.4z"/><path color="#0042b8" d="M345.4 428.5l2.8-2.2-2.8-2.8-2.8 2.4z"/><path color="#003fb8" d="M351 428.9l2.8-2.1-2.8-2.8-2.8 2.3z"/><path color="#003cb7" d="M356.6 429.4l2.8-2-2.8-2.7-2.8 2.1z"/><path color="#0037b6" d="M362.2 429.9l2.8-1.9-2.8-2.6-2.8 2z"/><path color="#0033b5" d="M367.7 430.4l2.8-1.8-2.8-2.5-2.8 1.9z"/><path color="#002fb3" d="M373.3 430.9l2.8-1.7-2.8-2.4-2.8 1.8z"/><path color="#002bb1" d="M378.9 431.4l2.8-1.6-2.8-2.2-2.8 1.7z"/><path color="#003bb7" d="M342.6 430.5l2.8-2.1-2.8-2.6-2.8 2.2z"/><path color="#0039b7" d="M348.2 430.9l2.8-2-2.8-2.6-2.8 2.2z"/><path color="#0036b6" d="M353.8 431.3l2.8-1.9-2.8-2.6-2.8 2.1z"/><path color="#0032b5" d="M359.4 431.7l2.8-1.8-2.8-2.5-2.8 2z"/><path color="#002fb3" d="M365 432.2l2.8-1.7-2.8-2.4-2.8 1.9z"/><path color="#002bb2" d="M370.5 432.6l2.8-1.7-2.8-2.3-2.8 1.8z"/><path color="#0028b0" d="M376.1 432.9l2.8-1.6-2.8-2.1-2.8 1.7z"/><path color="#0033b5" d="M345.4 432.8l2.8-1.9-2.8-2.4-2.8 2.1z"/><path color="#0030b4" d="M351 433.1l2.8-1.8-2.8-2.4-2.8 2z"/><path color="#002eb3" d="M356.6 433.5l2.8-1.8-2.8-2.3-2.8 1.9z"/><path color="#002bb2" d="M362.2 433.9l2.8-1.7-2.8-2.2-2.8 1.8z"/><path color="#0028b0" d="M367.7 434.2l2.8-1.6-2.8-2.1-2.8 1.7z"/><path color="#0025ae" d="M373.3 434.5l2.8-1.6-2.8-2-2.8 1.7z"/><path color="#002cb3" d="M348.2 434.9l2.8-1.7-2.8-2.2-2.8 1.9z"/><path color="#0029b2" d="M353.8 435.2l2.8-1.7-2.8-2.2-2.8 1.8z"/><path color="#0027b0" d="M359.4 435.5l2.8-1.6-2.8-2.1-2.8 1.8z"/><path color="#0025ae" d="M364.9 435.8l2.8-1.6-2.8-2-2.8 1.7z"/><path color="#0022ac" d="M370.5 436l2.8-1.5-2.8-1.9-2.8 1.6z"/><path color="#0026af" d="M351 436.8l2.8-1.6-2.8-2-2.8 1.7z"/><path color="#0024ae" d="M356.6 437.1l2.8-1.6-2.8-2-2.8 1.7z"/><path color="#0022ac" d="M362.1 437.3l2.8-1.5-2.8-1.9-2.8 1.6z"/><path color="#0020ab" d="M367.7 437.5l2.8-1.5-2.8-1.8-2.8 1.6z"/><path color="#0021ac" d="M353.8 438.6l2.8-1.5-2.8-1.9-2.8 1.6z"/><path color="#001faa" d="M359.4 438.8l2.8-1.5-2.8-1.8-2.8 1.6z"/><path color="#001ea9" d="M364.9 439l2.8-1.5-2.8-1.7-2.8 1.5z"/><path color="#001da8" d="M356.6 440.2l2.8-1.4-2.8-1.7-2.8 1.5z"/><path color="#001ca7" d="M362.1 440.4l2.8-1.4-2.8-1.7-2.8 1.5z"/><path color="#001aa5" d="M359.4 441.8l2.8-1.4-2.8-1.6-2.8 1.4z"/></g><path d="M314.0 350.3 315.0 349.5 316.0 348.6 317.0 347.7 318.0 346.8 319.0 345.9 320.0 345.0 321.0 344.5 322.0 343.6 323.0 342.8 324.0 341.9 325.0 341.1 326.0 340.3 327.0 339.8 328.0 339.0 329.0 338.3 330.0 337.5 331.0 336.8 332.0 336.4 333.0 335.7 334.0 335.0 335.0 334.4 336.0 333.8 337.0 333.4 338.0 332.9 339.0 332.4 340.0 331.9 341.0 331.4 342.0 331.1 343.0 330.7 344.0 330.3 345.0 329.9 346.0 329.7 347.0 329.4 348.0 329.1 349.0 328.8 350.0 328.6 351.0 328.5 352.0 328.3 353.0 328.2 354.0 328.1 355.0 328.0 356.0 327.9 357.0 327.9 358.0 327.9 359.0 327.9 360.0 327.9 361.0 328.0 362.0 328.0 363.0 328.1 364.0 328.2 365.0 328.4 366.0 328.4 367.0 328.6 368.0 328.7 369.0 328.9 370.0 329.0 371.0 329.3 372.0 329.5 373.0 329.8 374.0 329.9 375.0 330.2 376.0 330.6 377.0 330.9 378.0 331.3 379.0 331.6 380.0 332.0 381.0 332.5 382.0 333.0 383.0 333.4 384.0 333.9 385.0 334.5 386.0 335.1 387.0 335.8 388.0 336.3 389.0 337.0 390.0 337.8 391.0 338.6 392.0 339.4 393.0 340.0 394.0 340.9 395.0 341.8 396.0 342.7 397.0 343.7 398.0 344.4 399.0 345.5 400.0 346.6 401.0 347.7" fill="none" stroke="#111" stroke-width="1.50" stroke-linejoin="round" stroke-linecap="round" opacity=".85"/><text x="272.8" y="407.5" font-size="8.00" text-anchor="end">0</text><path d="M275.8 406.5h-1.6" stroke="#222" stroke-width=".6"/><text x="270.5" y="386.7" font-size="8.00" text-anchor="end">5x10<tspan font-size="4.60" dy="-3.20">6</tspan></text><path d="M274.7 385.4h-1.6" stroke="#222" stroke-width=".6"/><text x="269.5" y="365.6" font-size="8.00" text-anchor="end">1x10<tspan font-size="4.60" dy="-3.20">7</tspan></text><path d="M273.7 364.3h-1.6" stroke="#222" stroke-width=".6"/><text x="268.5" y="344.5" font-size="8.00" text-anchor="end">1.5x10<tspan font-size="4.60" dy="-3.20">7</tspan></text><path d="M272.7 343.2h-1.6" stroke="#222" stroke-width=".6"/><text x="267.5" y="323.4" font-size="8.00" text-anchor="end">2x10<tspan font-size="4.60" dy="-3.20">7</tspan></text><path d="M271.7 322.1h-1.6" stroke="#222" stroke-width=".6"/><text x="362.1" y="480.4" font-size="7.90">50</text><text x="377.8" y="472.6" font-size="7.90">100</text><text x="394.3" y="464.7" font-size="7.90">150</text><text x="410.8" y="456.9" font-size="7.90">200</text><text x="427.3" y="449.0" font-size="7.90">250</text><text x="443.8" y="441.2" font-size="7.90">300</text><text x="356.5" y="480.6" font-size="7.90" text-anchor="end">1</text><text x="345.1" y="475.0" font-size="7.90" text-anchor="end">3</text><text x="333.3" y="469.4" font-size="7.90" text-anchor="end">5</text><text x="321.6" y="463.8" font-size="7.90" text-anchor="end">7</text><text x="309.8" y="458.1" font-size="7.90" text-anchor="end">9</text><text x="298.1" y="452.5" font-size="7.90" text-anchor="end">11</text><text x="286.3" y="446.9" font-size="7.90" text-anchor="end">13</text><text x="274.6" y="441.3" font-size="7.90" text-anchor="end">15</text><path class="g" d="M502.5 435.8L496.5 323.2M522.5 400.7L519.5 318.2M543.5 393.8L541.5 313.4M564.5 387.1L563.5 308.6M584.5 380.6L584.5 304M500.9 407.6L584.3 380.6M499.8 386.5L584.3 361.4M498.8 365.4L584.2 342.3M497.8 344.3L584.2 323.1M496.8 323.2L584.1 304M666.5 435.9L672.5 323.4M656.5 403.9L659.5 320.6M644.5 400L646.5 317.9M632.5 396.1L634.5 315.1M620.5 392.2L621.5 312.3M608.5 388.3L609.5 309.5M596.5 384.5L596.5 306.8M584.5 380.6L584.5 304M668.2 407.8L584.3 380.6M669.1 386.7L584.3 361.4M670.1 365.6L584.2 342.3M671 344.5L584.2 323.1M672 323.4L584.1 304"/><path class="fl" d="M584.4 475.1L666.9 435.9L584.4 406.1L502.2 435.8Z"/><path d="M652.7 430.8 651.2 431.4 649.8 432.0 649.0 432.2 647.5 432.8 646.1 433.4 644.6 434.0 643.2 434.6 641.7 435.2 640.3 435.8 638.9 436.4 637.5 437.0 636.0 437.6 634.6 438.2 633.9 438.5 632.5 439.1 631.0 439.8 629.6 440.4 628.2 441.0 626.7 441.6 625.3 442.2 623.9 442.7 622.4 443.3 620.9 443.9 619.6 444.5 618.7 444.8 617.3 445.4 615.8 446.0 614.3 446.5 612.7 447.1 611.5 447.6 610.4 447.9 608.9 448.5 607.3 449.0 605.8 449.5 605.0 449.8 603.4 450.3 601.7 450.8 600.9 451.1 599.3 451.6 597.6 452.1 596.7 452.3 595.0 452.8 593.7 453.2 592.4 453.5 590.7 453.9 589.8 454.1 588.0 454.6 587.0 454.8 585.2 455.2 584.2 455.4 582.6 455.7 581.3 455.9 580.3 456.1 578.4 456.4 577.4 456.6 576.0 456.7 574.2 457.0 573.2 457.1 572.1 457.2 570.3 457.4 568.7 457.5 567.6 457.6 566.4 457.7 565.2 457.8 563.7 457.8 562.2 457.9 560.7 457.9 559.3 457.9 557.9 457.9 556.6 457.8 555.2 457.8 554.0 457.7 552.7 457.6 551.5 457.5 549.8 457.3 548.1 457.1 547.0 457.0 546.2 456.8" fill="none" stroke="#5ee860" stroke-width=".7"/><path d="M521.7 445.1 521.1 444.5 520.8 444.0 520.3 443.3 519.9 442.6 519.6 442.1 519.4 441.6 519.0 440.9 518.7 440.2 518.5 439.6 518.3 439.1 518.2 438.6 518.1 438.0 517.9 437.5 517.8 436.9 517.7 436.2 517.7 435.6 517.7 435.1 517.6 434.5 517.6 433.9 517.7 433.4 517.7 432.8 517.8 432.3 517.8 431.7 517.9 431.2 518.0 430.6 518.2 430.0" fill="none" stroke="#5ee860" stroke-width=".7"/><path d="M637.4 425.2 636.4 425.6 635.3 426.1 633.9 426.7 632.5 427.3 631.2 427.9 630.5 428.2 629.1 428.8 627.8 429.4 626.5 430.0 625.2 430.7 623.9 431.3 622.5 431.9 621.2 432.5 619.9 433.1 618.6 433.8 617.3 434.4 615.9 435.0 614.6 435.6 613.2 436.2 611.9 436.8 610.5 437.4 609.1 438.0 607.7 438.6 606.3 439.2 604.9 439.7 603.4 440.3 602.0 440.9 600.5 441.4 599.0 442.0 598.2 442.2 596.6 442.7 595.1 443.3 593.5 443.8 592.7 444.0 591.0 444.5 589.3 444.9 588.5 445.2 586.8 445.6 585.7 445.9 584.1 446.2 582.9 446.5 581.3 446.8 580.3 447.0 578.4 447.3 577.4 447.5 576.0 447.7 574.3 447.9 573.2 448.0 572.1 448.1 570.4 448.3 568.8 448.4 567.4 448.4 566.1 448.4 564.8 448.5 563.5 448.4 562.0 448.4 560.5 448.3 559.2 448.2 558.1 448.1 556.9 447.9 555.2 447.7 553.9 447.4 552.9 447.2 551.1 446.8 549.7 446.3 548.7 446.0 547.2 445.4 545.8 444.8 544.5 444.1 543.6 443.5 542.8 443.0 541.8 442.3 541.4 441.9 540.5 441.0 540.1 440.6 539.6 440.0 539.1 439.2 538.8 438.8 538.6 438.3 538.3 437.6 538.0 436.9 537.8 436.3 537.7 435.8 537.6 435.2 537.6 434.7 537.5 434.1 537.5 433.6 537.6 433.0 537.6 432.4 537.7 431.8 537.9 431.2 538.0 430.7 538.2 430.2 538.3 429.7 538.5 429.3 538.8 428.6 539.1 427.9 539.4 427.4 539.6 427.0 539.9 426.5 540.3 425.8 540.7 425.3 541.0 424.8 541.4 424.3 542.0 423.6 542.3 423.2 542.6 422.8 543.3 422.0 543.7 421.6 544.1 421.2 544.8 420.5 544.9 420.4" fill="none" stroke="#78e030" stroke-width=".7"/><path d="M620.2 419.0 618.9 419.6 617.6 420.2 616.4 420.8 615.1 421.4 614.0 422.1 613.4 422.4 612.2 423.0 611.1 423.7 610.4 424.1 609.4 424.7 608.3 425.3 607.2 426.0 606.6 426.3 605.4 427.0 604.3 427.7 603.7 428.0 602.5 428.6 601.3 429.3 600.1 429.9 599.2 430.4 598.3 430.8 597.0 431.4 595.7 432.0 594.4 432.6 593.0 433.2 591.6 433.8 590.2 434.3 588.7 434.8 587.8 435.1 586.3 435.6 584.7 436.0 583.5 436.3 582.1 436.7 580.6 437.0 579.3 437.2 578.2 437.4 576.2 437.6 575.1 437.7 573.9 437.8 572.7 437.8 571.3 437.8 569.8 437.7 568.0 437.5 567.0 437.4 565.3 436.9 564.5 436.7 563.1 436.1 562.5 435.7 561.5 435.0 561.1 434.6 560.5 433.7 560.2 433.3 560.0 432.8 559.9 432.3 559.9 431.7 559.9 431.2 560.0 430.6 560.1 429.9 560.4 429.3 560.6 428.8 560.9 428.3 561.1 427.9 561.7 427.1 562.1 426.6 562.4 426.2 563.1 425.5 563.6 425.1 564.1 424.6 564.8 423.9 565.3 423.6 566.2 422.9 566.6 422.5 567.6 421.8 568.3 421.3 569.1 420.8 570.1 420.2 570.6 419.9 571.7 419.2 572.6 418.7 573.3 418.3 574.4 417.6 575.2 417.1 576.0 416.7 577.1 416.1 578.0 415.6 578.7 415.1 579.8 414.5 580.5 414.1 581.4 413.6 582.4 412.9 582.9 412.6 583.9 412.0 584.4 411.6 585.3 410.9 585.7 410.6 586.5 409.9 586.9 409.5 587.4 409.0 587.9 408.4 588.2 408.0 588.5 407.6" fill="none" stroke="#f8cc50" stroke-width=".7"/><path d="M605.0 465.3l.9 .6M625.7 455.5l.9 .6M646.3 445.7l.9 .6M572.7 469.5l-.9 .6M560.9 463.9l-.9 .6M549.2 458.3l-.9 .6M537.4 452.6l-.9 .6M525.7 447.0l-.9 .6M513.9 441.4l-.9 .6" stroke="#111" stroke-width="1"/><g class="s"><path color="#736200" d="M584.2 326.6l2.9-1.8-2.9 1.2-2.9 2z"/><path color="#736a00" d="M581.3 328.3l2.9-1.7-2.9 1.3-2.9 1.9z"/><path color="#735400" d="M587.1 325.4l2.9-1.7-2.9 1-2.9 1.8z"/><path color="#737100" d="M578.4 329.9l2.9-1.6-2.9 1.5-2.9 1.8z"/><path color="#735b00" d="M584.2 326.9l2.9-1.6-2.9 1.2-2.9 1.7z"/><path color="#734800" d="M590 324.4l2.9-1.5-2.9 .9-2.9 1.7z"/><path color="#6e7300" d="M575.6 331.5l2.9-1.6-2.9 1.6-2.9 1.7z"/><path color="#736100" d="M581.3 328.4l2.9-1.5-2.9 1.3-2.9 1.6z"/><path color="#734e00" d="M587.1 325.8l2.9-1.4-2.9 1-2.9 1.6z"/><path color="#733e00" d="M592.9 323.6l2.9-1.4-2.9 .6-2.9 1.5z"/><path color="#687300" d="M572.7 333l2.9-1.6-2.9 1.8-2.9 1.7z"/><path color="#736700" d="M578.4 329.8l2.9-1.4-2.9 1.5-2.9 1.6z"/><path color="#735300" d="M584.2 327.1l2.9-1.3-2.9 1.2-2.9 1.5z"/><path color="#734200" d="M590 324.8l2.9-1.3-2.9 .8-2.9 1.4z"/><path color="#733500" d="M595.8 323.1l2.9-1.2-2.9 .4-2.9 1.4z"/><path color="#617300" d="M569.9 334.6l2.9-1.6-2.9 1.9-2.9 1.7z"/><path color="#736c00" d="M575.6 331.2l2.9-1.4-2.9 1.6-2.9 1.6z"/><path color="#735700" d="M581.3 328.4l2.9-1.3-2.9 1.3-2.9 1.4z"/><path color="#734600" d="M587.1 326l2.9-1.2-2.9 .9-2.9 1.3z"/><path color="#733800" d="M592.9 324.2l2.9-1.1-2.9 .5-2.9 1.3z"/><path color="#732e00" d="M598.7 322.9l2.9-1.1-2.9 .1-2.9 1.2z"/><path color="#5b7300" d="M567 336.2l2.9-1.6-2.8 2-2.8 1.7z"/><path color="#737100" d="M572.7 332.7l2.9-1.4-2.9 1.8-2.9 1.6z"/><path color="#735c00" d="M578.5 329.6l2.9-1.3-2.9 1.5-2.9 1.4z"/><path color="#734a00" d="M584.2 327.2l2.9-1.1-2.9 1.1-2.9 1.3z"/><path color="#733b00" d="M590 325.2l2.9-1-2.9 .6-2.9 1.2z"/><path color="#733100" d="M595.8 323.9l2.9-1-2.9 .2-2.9 1.1z"/><path color="#732a00" d="M601.6 323.1l2.9-1-2.9-.3-2.9 1.1z"/><path color="#547300" d="M564.1 337.8l2.9-1.6-2.8 2.2-2.8 1.8z"/><path color="#6f7300" d="M569.8 334.1l2.9-1.4-2.9 1.9-2.9 1.6z"/><path color="#736000" d="M575.6 330.9l2.9-1.3-2.9 1.6-2.9 1.4z"/><path color="#734d00" d="M581.3 328.3l2.9-1.1-2.9 1.2-2.9 1.3z"/><path color="#733e00" d="M587.1 326.2l2.9-1-2.9 .8-2.9 1.1z"/><path color="#733300" d="M592.9 324.8l2.9-.9-2.9 .3-2.9 1z"/><path color="#732b00" d="M598.7 323.9l2.9-.9-2.9-.2-2.9 1z"/><path color="#732800" d="M604.5 323.6l2.9-.9-2.9-.7-2.9 1z"/><path color="#4d7300" d="M561.3 339.5l2.9-1.7-2.8 2.3-2.8 1.8z"/><path color="#697300" d="M567 335.6l2.9-1.5-2.9 2.1-2.9 1.6z"/><path color="#736400" d="M572.7 332.2l2.9-1.3-2.9 1.8-2.9 1.4z"/><path color="#735000" d="M578.5 329.4l2.9-1.1-2.9 1.4-2.9 1.3z"/><path color="#734000" d="M584.2 327.2l2.9-1-2.9 .9-2.9 1.1z"/><path color="#733400" d="M590 325.6l2.9-.8-2.9 .4-2.9 1z"/><path color="#732c00" d="M595.8 324.7l2.9-.8-2.9-.1-2.9 .9z"/><path color="#732900" d="M601.6 324.4l2.9-.8-2.9-.6-2.9 .9z"/><path color="#7a2b00" d="M607.4 324.6l2.9-.8-2.9-1.1-2.9 .9z"/><path color="#467300" d="M558.4 341.3l2.8-1.8-2.8 2.4-2.8 1.9z"/><path color="#637300" d="M564.1 337.2l2.9-1.6-2.8 2.2-2.9 1.7z"/><path color="#736900" d="M569.8 333.5l2.9-1.4-2.9 1.9-2.9 1.5z"/><path color="#735300" d="M575.6 330.5l2.9-1.1-2.9 1.5-2.9 1.3z"/><path color="#734200" d="M581.4 328.2l2.9-1-2.9 1.1-2.9 1.1z"/><path color="#733500" d="M587.1 326.5l2.9-.8-2.9 .6-2.9 1z"/><path color="#732d00" d="M592.9 325.5l2.9-.7-2.9 .1-2.9 .8z"/><path color="#732900" d="M598.7 325.1l2.9-.7-2.9-.5-2.9 .8z"/><path color="#732900" d="M604.5 325.3l2.9-.7-2.9-1-2.9 .8z"/><path color="#8c3600" d="M610.3 326l2.9-.7-2.9-1.5-2.9 .8z"/><path color="#3e7300" d="M555.6 343.2l2.8-1.9-2.8 2.5-2.8 2z"/><path color="#5d7300" d="M561.3 338.8l2.9-1.7-2.8 2.3-2.8 1.8z"/><path color="#736d00" d="M567 335l2.9-1.4-2.9 2-2.9 1.6z"/><path color="#735700" d="M572.7 331.7l2.9-1.2-2.9 1.7-2.9 1.4z"/><path color="#734400" d="M578.5 329.2l2.9-1-2.9 1.2-2.9 1.1z"/><path color="#733600" d="M584.2 327.3l2.9-.8-2.9 .7-2.9 1z"/><path color="#732d00" d="M590 326.2l2.9-.7-2.9 .2-2.9 .8z"/><path color="#732900" d="M595.8 325.7l2.9-.6-2.9-.4-2.9 .7z"/><path color="#732800" d="M601.6 325.9l2.9-.6-2.9-.9-2.9 .7z"/><path color="#833200" d="M607.4 326.7l2.9-.6-2.9-1.4-2.9 .7z"/><path color="#9a4500" d="M613.2 327.9l2.9-.7-2.9-1.9-2.9 .7z"/><path color="#357300" d="M552.8 345.2l2.8-2-2.8 2.6-2.8 2.1z"/><path color="#567300" d="M558.4 340.6l2.8-1.8-2.8 2.4-2.8 1.9z"/><path color="#737300" d="M564.1 336.5l2.9-1.5-2.8 2.2-2.9 1.7z"/><path color="#735b00" d="M569.8 333l2.9-1.3-2.9 1.8-2.9 1.4z"/><path color="#734700" d="M575.6 330.2l2.9-1.1-2.9 1.4-2.9 1.2z"/><path color="#733700" d="M581.4 328.2l2.9-.9-2.9 .9-2.9 1z"/><path color="#732d00" d="M587.2 326.8l2.9-.7-2.9 .3-2.9 .8z"/><path color="#732800" d="M592.9 326.3l2.9-.6-2.9-.2-2.9 .7z"/><path color="#732700" d="M598.7 326.4l2.9-.5-2.9-.8-2.9 .6z"/><path color="#7a2e00" d="M604.5 327.2l2.9-.5-2.9-1.4-2.9 .6z"/><path color="#944100" d="M610.3 328.5l2.9-.6-2.9-1.9-2.9 .6z"/><path color="#a45700" d="M616.1 330.3l2.9-.7-2.9-2.4-2.9 .7z"/><path color="#2c7300" d="M549.9 347.3l2.8-2.1-2.8 2.7-2.8 2.2z"/><path color="#4e7300" d="M555.6 342.5l2.8-1.9-2.8 2.6-2.8 2z"/><path color="#6c7300" d="M561.3 338.2l2.9-1.7-2.8 2.3-2.8 1.8z"/><path color="#735f00" d="M567 334.4l2.9-1.4-2.9 2-2.9 1.5z"/><path color="#734a00" d="M572.7 331.4l2.9-1.2-2.9 1.5-2.9 1.3z"/><path color="#733900" d="M578.5 329.1l2.9-.9-2.9 1-2.9 1.1z"/><path color="#732e00" d="M584.3 327.6l2.9-.7-2.9 .4-2.9 .9z"/><path color="#732700" d="M590.1 326.9l2.9-.6-2.9-.1-2.9 .7z"/><path color="#732600" d="M595.9 326.9l2.9-.5-2.9-.7-2.9 .6z"/><path color="#732900" d="M601.6 327.7l2.9-.5-2.9-1.3-2.9 .5z"/><path color="#8e3d00" d="M607.4 329l2.9-.5-2.9-1.8-2.9 .5z"/><path color="#a05300" d="M613.2 330.8l2.9-.6-2.9-2.3-2.9 .6z"/><path color="#ac6e00" d="M618.9 333l2.9-.7-2.9-2.8-2.9 .7z"/><path color="#227300" d="M547.1 349.6l2.8-2.3-2.8 2.7-2.8 2.3z"/><path color="#457300" d="M552.7 344.6l2.8-2.1-2.8 2.6-2.8 2.1z"/><path color="#657300" d="M558.4 340l2.9-1.8-2.8 2.4-2.8 1.9z"/><path color="#736500" d="M564.1 336l2.9-1.5-2.9 2.1-2.9 1.7z"/><path color="#734d00" d="M569.8 332.6l2.9-1.3-2.9 1.7-2.9 1.4z"/><path color="#733b00" d="M575.6 330.1l2.9-1-2.9 1.1-2.9 1.2z"/><path color="#732e00" d="M581.4 328.4l2.9-.8-2.9 .6-2.9 .9z"/><path color="#732700" d="M587.2 327.5l2.9-.6-2.9-0-2.9 .7z"/><path color="#732500" d="M593 327.4l2.9-.5-2.9-.6-2.9 .6z"/><path color="#732700" d="M598.8 328.1l2.9-.4-2.9-1.2-2.9 .5z"/><path color="#893800" d="M604.5 329.4l2.9-.4-2.9-1.8-2.9 .5z"/><path color="#9d4f00" d="M610.3 331.3l2.9-.5-2.9-2.3-2.9 .5z"/><path color="#a96a00" d="M616.1 333.6l2.9-.6-2.9-2.8-2.9 .6z"/><path color="#b28900" d="M621.8 336.2l2.9-.7-2.8-3.2-2.9 .7z"/><path color="#177300" d="M544.3 352l2.8-2.4-2.8 2.8-2.8 2.4z"/><path color="#3b7300" d="M549.9 346.8l2.8-2.2-2.8 2.7-2.8 2.3z"/><path color="#5d7300" d="M555.6 342l2.8-2-2.8 2.5-2.8 2.1z"/><path color="#736b00" d="M561.2 337.7l2.9-1.7-2.8 2.2-2.9 1.8z"/><path color="#735200" d="M567 334.1l2.9-1.4-2.9 1.8-2.9 1.5z"/><path color="#733e00" d="M572.7 331.2l2.9-1.1-2.9 1.3-2.9 1.3z"/><path color="#732f00" d="M578.5 329.3l2.9-.9-2.9 .7-2.9 1z"/><path color="#732600" d="M584.3 328.2l2.9-.7-2.9 .1-2.9 .8z"/><path color="#732300" d="M590.1 327.9l2.9-.5-2.9-.5-2.9 .6z"/><path color="#732500" d="M595.9 328.5l2.9-.4-2.9-1.2-2.9 .5z"/><path color="#853300" d="M601.7 329.8l2.9-.4-2.9-1.7-2.9 .4z"/><path color="#9a4a00" d="M607.4 331.7l2.9-.4-2.9-2.3-2.9 .4z"/><path color="#a76600" d="M613.2 334.1l2.9-.5-2.9-2.8-2.9 .5z"/><path color="#b08500" d="M618.9 336.8l2.9-.6-2.8-3.2-2.9 .6z"/><path color="#b6a900" d="M624.6 339.8l2.9-.7-2.8-3.6-2.9 .7z"/><path color="#0b7300" d="M541.5 354.6l2.8-2.6-2.8 2.8-2.8 2.6z"/><path color="#307300" d="M547.1 349.3l2.8-2.4-2.8 2.8-2.8 2.4z"/><path color="#537300" d="M552.7 344.2l2.8-2.2-2.8 2.6-2.8 2.2z"/><path color="#737200" d="M558.4 339.6l2.9-1.9-2.8 2.3-2.8 2z"/><path color="#735700" d="M564.1 335.7l2.9-1.6-2.9 1.9-2.9 1.7z"/><path color="#734100" d="M569.8 332.5l2.9-1.3-2.9 1.4-2.9 1.4z"/><path color="#733100" d="M575.6 330.3l2.9-1-2.9 .8-2.9 1.1z"/><path color="#732700" d="M581.4 328.9l2.9-.8-2.9 .2-2.9 .9z"/><path color="#732200" d="M587.2 328.5l2.9-.6-2.9-.4-2.9 .7z"/><path color="#732300" d="M593 328.9l2.9-.4-2.9-1.1-2.9 .5z"/><path color="#822f00" d="M598.8 330.1l2.9-.4-2.9-1.7-2.9 .4z"/><path color="#974600" d="M604.5 332l2.9-.3-2.9-2.3-2.9 .4z"/><path color="#a56100" d="M610.3 334.5l2.9-.4-2.9-2.8-2.9 .4z"/><path color="#ae8100" d="M616 337.3l2.9-.5-2.9-3.2-2.9 .5z"/><path color="#b5a500" d="M621.7 340.5l2.9-.6-2.8-3.6-2.9 .6z"/><path color="#a6ba00" d="M627.4 343.8l2.9-.8-2.8-3.9-2.9 .7z"/><path color="#007202" d="M538.7 357.4l2.8-2.7-2.8 2.8-2.8 2.7z"/><path color="#247300" d="M544.3 351.8l2.8-2.6-2.8 2.8-2.8 2.6z"/><path color="#497300" d="M549.9 346.5l2.8-2.4-2.8 2.7-2.8 2.4z"/><path color="#6b7300" d="M555.5 341.7l2.8-2.1-2.8 2.4-2.8 2.2z"/><path color="#735e00" d="M561.2 337.4l2.9-1.8-2.9 2-2.9 1.9z"/><path color="#734600" d="M567 334l2.9-1.5-2.9 1.5-2.9 1.6z"/><path color="#733400" d="M572.7 331.4l2.9-1.2-2.9 1-2.9 1.3z"/><path color="#732800" d="M578.5 329.8l2.9-.9-2.9 .3-2.9 1z"/><path color="#732200" d="M584.3 329.2l2.9-.7-2.9-.3-2.9 .8z"/><path color="#732200" d="M590.1 329.4l2.9-.5-2.9-1-2.9 .6z"/><path color="#812c00" d="M595.9 330.5l2.9-.4-2.9-1.6-2.9 .4z"/><path color="#964100" d="M601.7 332.4l2.9-.3-2.9-2.2-2.9 .4z"/><path color="#a45c00" d="M607.4 334.8l2.9-.3-2.9-2.8-2.9 .3z"/><path color="#ad7d00" d="M613.2 337.7l2.9-.4-2.9-3.2-2.9 .4z"/><path color="#b4a100" d="M618.9 341l2.9-.5-2.8-3.6-2.9 .5z"/><path color="#a7b900" d="M624.6 344.4l2.9-.7-2.8-3.9-2.9 .6z"/><path color="#83bc00" d="M630.2 348l2.9-.8-2.8-4.2-2.9 .8z"/><path color="#00700c" d="M535.9 360.2l2.8-2.9-2.7 2.7-2.8 2.8z"/><path color="#177300" d="M541.5 354.6l2.8-2.7-2.8 2.8-2.8 2.7z"/><path color="#3d7300" d="M547.1 349.1l2.8-2.6-2.8 2.7-2.8 2.6z"/><path color="#607300" d="M552.7 344l2.8-2.3-2.8 2.5-2.8 2.4z"/><path color="#736600" d="M558.4 339.4l2.9-2-2.8 2.1-2.8 2.1z"/><path color="#734c00" d="M564.1 335.7l2.9-1.7-2.9 1.7-2.9 1.8z"/><path color="#733800" d="M569.8 332.8l2.9-1.4-2.9 1.1-2.9 1.5z"/><path color="#732a00" d="M575.6 330.9l2.9-1.1-2.9 .4-2.9 1.2z"/><path color="#732200" d="M581.4 329.9l2.9-.8-2.9-.2-2.9 .9z"/><path color="#732100" d="M587.2 330l2.9-.6-2.9-.9-2.9 .7z"/><path color="#812a00" d="M593 331l2.9-.4-2.9-1.6-2.9 .5z"/><path color="#963e00" d="M598.8 332.7l2.9-.4-2.9-2.2-2.9 .4z"/><path color="#a35800" d="M604.5 335.1l2.9-.3-2.9-2.8-2.9 .3z"/><path color="#ac7800" d="M610.3 338.1l2.9-.4-2.9-3.3-2.9 .3z"/><path color="#b39d00" d="M616 341.4l2.9-.5-2.8-3.7-2.9 .4z"/><path color="#a9b800" d="M621.7 345l2.9-.6-2.8-4-2.9 .5z"/><path color="#84bb00" d="M627.4 348.7l2.9-.7-2.8-4.2-2.9 .7z"/><path color="#5dbe00" d="M633 352.4l2.9-.9-2.8-4.4-2.9 .8z"/><path color="#006e17" d="M533.2 363.2l2.8-3-2.7 2.7-2.8 2.9z"/><path color="#097300" d="M538.7 357.5l2.8-2.9-2.8 2.8-2.8 2.9z"/><path color="#307300" d="M544.3 351.8l2.8-2.8-2.8 2.7-2.8 2.7z"/><path color="#557300" d="M549.9 346.5l2.8-2.5-2.8 2.6-2.8 2.6z"/><path color="#736f00" d="M555.5 341.7l2.8-2.2-2.8 2.2-2.8 2.3z"/><path color="#735300" d="M561.2 337.6l2.9-1.9-2.9 1.8-2.9 2z"/><path color="#733d00" d="M567 334.3l2.9-1.6-2.9 1.2-2.9 1.7z"/><path color="#732d00" d="M572.7 332.1l2.9-1.2-2.9 .6-2.9 1.4z"/><path color="#732300" d="M578.5 330.9l2.9-.9-2.9-.1-2.9 1.1z"/><path color="#732000" d="M584.3 330.7l2.9-.7-2.9-.8-2.9 .8z"/><path color="#832800" d="M590.1 331.5l2.9-.5-2.9-1.5-2.9 .6z"/><path color="#973b00" d="M595.9 333.1l2.9-.4-2.9-2.2-2.9 .4z"/><path color="#a45400" d="M601.7 335.5l2.9-.3-2.9-2.8-2.9 .4z"/><path color="#ac7300" d="M607.4 338.5l2.9-.4-2.9-3.3-2.9 .3z"/><path color="#b39900" d="M613.1 341.9l2.9-.4-2.8-3.7-2.9 .4z"/><path color="#acb700" d="M618.8 345.5l2.9-.5-2.8-4-2.9 .5z"/><path color="#86bb00" d="M624.5 349.4l2.9-.7-2.8-4.3-2.9 .6z"/><path color="#5dbe00" d="M630.2 353.2l2.9-.8-2.8-4.4-2.9 .7z"/><path color="#33c000" d="M635.8 357l2.9-1-2.8-4.5-2.9 .9z"/><path color="#006c22" d="M530.4 366.3l2.8-3.1-2.7 2.6-2.8 3z"/><path color="#007204" d="M535.9 360.6l2.8-3.1-2.8 2.7-2.8 3z"/><path color="#227300" d="M541.4 354.8l2.8-2.9-2.8 2.7-2.8 2.9z"/><path color="#487300" d="M547 349.2l2.8-2.7-2.8 2.6-2.8 2.8z"/><path color="#6c7300" d="M552.7 344.1l2.8-2.5-2.8 2.3-2.8 2.5z"/><path color="#735c00" d="M558.4 339.7l2.9-2.1-2.9 1.9-2.8 2.2z"/><path color="#734300" d="M564.1 336.1l2.9-1.8-2.9 1.3-2.9 1.9z"/><path color="#733100" d="M569.8 333.6l2.9-1.5-2.9 .7-2.9 1.6z"/><path color="#732500" d="M575.6 332l2.9-1.1-2.9-0-2.9 1.2z"/><path color="#732100" d="M581.4 331.6l2.9-.9-2.9-.8-2.9 .9z"/><path color="#862800" d="M587.2 332.1l2.9-.6-2.9-1.5-2.9 .7z"/><path color="#993900" d="M593 333.6l2.9-.5-2.9-2.2-2.9 .5z"/><path color="#a55000" d="M598.8 335.9l2.9-.4-2.9-2.8-2.9 .4z"/><path color="#ad6f00" d="M604.5 338.8l2.9-.4-2.9-3.3-2.9 .3z"/><path color="#b39400" d="M610.3 342.3l2.9-.4-2.9-3.8-2.9 .4z"/><path color="#b0b700" d="M616 346l2.9-.5-2.8-4.1-2.9 .4z"/><path color="#89bb00" d="M621.7 350l2.9-.6-2.8-4.4-2.9 .5z"/><path color="#5fbd00" d="M627.3 354l2.9-.7-2.8-4.5-2.9 .7z"/><path color="#33bf00" d="M632.9 357.9l2.9-.9-2.8-4.6-2.9 .8z"/><path color="#07c100" d="M638.5 361.7l2.8-1.1-2.7-4.6-2.9 1z"/><path color="#006a2e" d="M527.6 369.5l2.8-3.2-2.7 2.5-2.7 3z"/><path color="#007010" d="M533.1 363.8l2.8-3.2-2.7 2.7-2.8 3.1z"/><path color="#137300" d="M538.7 357.9l2.8-3.1-2.8 2.7-2.8 3.1z"/><path color="#3a7300" d="M544.2 352.2l2.8-3-2.8 2.6-2.8 2.9z"/><path color="#5f7300" d="M549.9 346.8l2.8-2.7-2.8 2.4-2.8 2.7z"/><path color="#736600" d="M555.5 342.1l2.8-2.4-2.8 2-2.8 2.5z"/><path color="#734b00" d="M561.2 338.2l2.9-2.1-2.9 1.4-2.9 2.1z"/><path color="#733700" d="M567 335.3l2.9-1.7-2.9 .8-2.9 1.8z"/><path color="#732900" d="M572.7 333.4l2.9-1.4-2.9 .1-2.9 1.5z"/><path color="#732200" d="M578.5 332.6l2.9-1.1-2.9-.7-2.9 1.1z"/><path color="#8b2a00" d="M584.3 332.9l2.9-.8-2.9-1.4-2.9 .9z"/><path color="#9c3800" d="M590.1 334.2l2.9-.6-2.9-2.1-2.9 .6z"/><path color="#a74e00" d="M595.9 336.4l2.9-.5-2.9-2.8-2.9 .5z"/><path color="#ae6c00" d="M601.7 339.2l2.9-.4-2.9-3.3-2.9 .4z"/><path color="#b49000" d="M607.4 342.7l2.9-.4-2.9-3.8-2.9 .4z"/><path color="#b5b800" d="M613.1 346.5l2.9-.5-2.8-4.2-2.9 .4z"/><path color="#8dbb00" d="M618.8 350.5l2.9-.6-2.8-4.4-2.9 .5z"/><path color="#61bd00" d="M624.4 354.7l2.9-.7-2.8-4.6-2.9 .6z"/><path color="#34bf00" d="M630.1 358.8l2.8-.8-2.8-4.7-2.9 .7z"/><path color="#07c000" d="M635.7 362.7l2.8-1-2.8-4.7-2.9 .9z"/><path color="#00bc1c" d="M641.3 366.5l2.8-1.1-2.7-4.6-2.8 1.1z"/><path color="#00673a" d="M524.9 372.8l2.7-3.3-2.7 2.3-2.7 3.1z"/><path color="#006d1c" d="M530.4 367.1l2.8-3.3-2.7 2.6-2.8 3.2z"/><path color="#037300" d="M535.9 361.2l2.8-3.3-2.8 2.7-2.8 3.2z"/><path color="#2b7300" d="M541.4 355.3l2.8-3.2-2.8 2.6-2.8 3.1z"/><path color="#517300" d="M547 349.8l2.8-3-2.8 2.4-2.8 3z"/><path color="#737200" d="M552.7 344.8l2.8-2.7-2.8 2-2.8 2.7z"/><path color="#735500" d="M558.4 340.5l2.9-2.3-2.9 1.5-2.8 2.4z"/><path color="#733e00" d="M564.1 337.2l2.9-2-2.9 .9-2.9 2.1z"/><path color="#732e00" d="M569.9 335l2.9-1.6-2.9 .2-2.9 1.7z"/><path color="#772700" d="M575.6 333.9l2.9-1.3-2.9-.6-2.9 1.4z"/><path color="#912d00" d="M581.4 333.9l2.9-1-2.9-1.3-2.9 1.1z"/><path color="#a03800" d="M587.2 334.9l2.9-.7-2.9-2.1-2.9 .8z"/><path color="#a94d00" d="M593 336.9l2.9-.6-2.9-2.8-2.9 .6z"/><path color="#b06900" d="M598.8 339.7l2.9-.5-2.9-3.3-2.9 .5z"/><path color="#b58d00" d="M604.5 343.1l2.9-.5-2.9-3.8-2.9 .4z"/><path color="#b8b600" d="M610.2 347l2.9-.5-2.8-4.2-2.9 .4z"/><path color="#91bb00" d="M615.9 351.1l2.9-.5-2.8-4.5-2.9 .5z"/><path color="#64bd00" d="M621.6 355.3l2.9-.6-2.8-4.7-2.9 .6z"/><path color="#36bf00" d="M627.2 359.5l2.8-.8-2.8-4.8-2.9 .7z"/><path color="#07c000" d="M632.8 363.6l2.8-.9-2.8-4.8-2.8 .8z"/><path color="#00bb1d" d="M638.4 367.5l2.8-1.1-2.7-4.7-2.8 1z"/><path color="#00b63e" d="M644 371.1l2.8-1.2-2.7-4.6-2.8 1.1z"/><path color="#006546" d="M522.2 376l2.7-3.3-2.7 2.2-2.7 3.1z"/><path color="#006b29" d="M527.6 370.5l2.8-3.4-2.7 2.4-2.7 3.3z"/><path color="#00710b" d="M533.1 364.6l2.8-3.4-2.8 2.6-2.8 3.3z"/><path color="#1b7300" d="M538.6 358.7l2.8-3.4-2.8 2.6-2.8 3.3z"/><path color="#427300" d="M544.2 353l2.8-3.2-2.8 2.4-2.8 3.2z"/><path color="#667300" d="M549.8 347.7l2.8-2.9-2.8 2.1-2.8 3z"/><path color="#736000" d="M555.5 343.1l2.8-2.6-2.9 1.6-2.8 2.7z"/><path color="#734700" d="M561.2 339.5l2.9-2.3-2.9 1-2.9 2.3z"/><path color="#733500" d="M567 336.9l2.9-1.9-2.9 .3-2.9 2z"/><path color="#812e00" d="M572.8 335.4l2.9-1.5-2.9-.5-2.9 1.6z"/><path color="#963100" d="M578.5 335.1l2.9-1.2-2.9-1.3-2.9 1.3z"/><path color="#a43b00" d="M584.3 335.9l2.9-.9-2.9-2-2.9 1z"/><path color="#ac4d00" d="M590.1 337.7l2.9-.7-2.9-2.7-2.9 .7z"/><path color="#b26700" d="M595.9 340.3l2.9-.6-2.9-3.4-2.9 .6z"/><path color="#b68a00" d="M601.7 343.6l2.9-.5-2.9-3.9-2.9 .5z"/><path color="#b9b300" d="M607.4 347.5l2.9-.5-2.8-4.3-2.9 .5z"/><path color="#96bc00" d="M613.1 351.6l2.9-.5-2.8-4.6-2.9 .5z"/><path color="#68bd00" d="M618.7 355.9l2.9-.6-2.8-4.8-2.9 .5z"/><path color="#38bf00" d="M624.4 360.3l2.8-.7-2.8-4.9-2.9 .6z"/><path color="#08c000" d="M630 364.5l2.8-.9-2.8-4.9-2.8 .8z"/><path color="#00bb1d" d="M635.6 368.5l2.8-1-2.7-4.8-2.8 .9z"/><path color="#00b53f" d="M641.2 372.3l2.8-1.1-2.7-4.7-2.8 1.1z"/><path color="#00af5f" d="M646.7 375.7l2.8-1.3-2.7-4.5-2.8 1.2z"/><path color="#006353" d="M519.4 379.3l2.7-3.3-2.7 2-2.7 3.1z"/><path color="#006836" d="M524.9 374l2.7-3.5-2.7 2.3-2.7 3.3z"/><path color="#006e18" d="M530.4 368.2l2.8-3.6-2.7 2.4-2.8 3.4z"/><path color="#097300" d="M535.9 362.2l2.8-3.5-2.8 2.5-2.8 3.4z"/><path color="#317300" d="M541.4 356.4l2.8-3.4-2.8 2.4-2.8 3.4z"/><path color="#577300" d="M547 350.9l2.8-3.2-2.8 2.1-2.8 3.2z"/><path color="#736d00" d="M552.7 346l2.8-2.9-2.8 1.6-2.8 2.9z"/><path color="#735200" d="M558.4 342l2.9-2.5-2.9 1-2.8 2.6z"/><path color="#733d00" d="M564.1 339.1l2.9-2.2-2.9 .4-2.9 2.3z"/><path color="#893900" d="M569.9 337.2l2.9-1.8-2.9-.4-2.9 1.9z"/><path color="#9c3900" d="M575.7 336.5l2.9-1.4-2.9-1.2-2.9 1.5z"/><path color="#a83f00" d="M581.5 337l2.9-1.1-2.9-2-2.9 1.2z"/><path color="#af4e00" d="M587.2 338.6l2.9-.9-2.9-2.7-2.9 .9z"/><path color="#b46700" d="M593 341l2.9-.7-2.9-3.4-2.9 .7z"/><path color="#b88800" d="M598.8 344.3l2.9-.6-2.9-3.9-2.9 .6z"/><path color="#bab100" d="M604.5 348l2.9-.6-2.9-4.4-2.9 .5z"/><path color="#9abc00" d="M610.2 352.2l2.9-.6-2.8-4.7-2.9 .5z"/><path color="#6bbe00" d="M615.9 356.6l2.9-.6-2.8-4.9-2.9 .5z"/><path color="#3bbf00" d="M621.5 361l2.8-.7-2.8-5-2.9 .6z"/><path color="#0ac000" d="M627.1 365.3l2.8-.8-2.8-5-2.8 .7z"/><path color="#00bb1d" d="M632.7 369.5l2.8-1-2.7-4.9-2.8 .9z"/><path color="#00b540" d="M638.3 373.4l2.8-1.1-2.7-4.8-2.8 1z"/><path color="#00af60" d="M643.9 376.9l2.8-1.2-2.7-4.6-2.8 1.1z"/><path color="#00a97e" d="M649.4 380.1l2.8-1.3-2.7-4.4-2.8 1.3z"/><path color="#00605f" d="M516.7 382.6l2.7-3.3-2.7 1.8-2.7 3.1z"/><path color="#006643" d="M522.1 377.5l2.7-3.5-2.7 2.1-2.7 3.3z"/><path color="#006b26" d="M527.6 371.8l2.7-3.6-2.7 2.3-2.7 3.5z"/><path color="#007107" d="M533.1 365.9l2.8-3.7-2.8 2.4-2.8 3.6z"/><path color="#1f7300" d="M538.6 360l2.8-3.6-2.8 2.3-2.8 3.5z"/><path color="#467300" d="M544.2 354.3l2.8-3.4-2.8 2.1-2.8 3.4z"/><path color="#697300" d="M549.9 349.2l2.8-3.2-2.8 1.7-2.8 3.2z"/><path color="#735f00" d="M555.5 344.9l2.8-2.8-2.9 1.1-2.8 2.9z"/><path color="#774a00" d="M561.3 341.5l2.9-2.5-2.9 .4-2.9 2.5z"/><path color="#914600" d="M567 339.3l2.9-2.1-2.9-.3-2.9 2.2z"/><path color="#a24200" d="M572.8 338.3l2.9-1.7-2.9-1.1-2.9 1.8z"/><path color="#ac4500" d="M578.6 338.4l2.9-1.4-2.9-1.9-2.9 1.4z"/><path color="#b35200" d="M584.4 339.7l2.9-1.1-2.9-2.7-2.9 1.1z"/><path color="#b76900" d="M590.1 341.9l2.9-.9-2.9-3.4-2.9 .9z"/><path color="#ba8800" d="M595.9 345l2.9-.7-2.9-3.9-2.9 .7z"/><path color="#bcaf00" d="M601.6 348.7l2.9-.7-2.9-4.4-2.9 .6z"/><path color="#9ebd00" d="M607.4 352.9l2.9-.6-2.8-4.7-2.9 .6z"/><path color="#6fbf00" d="M613 357.3l2.9-.7-2.8-5-2.9 .6z"/><path color="#3ec000" d="M618.7 361.7l2.8-.7-2.8-5.1-2.9 .6z"/><path color="#0cc100" d="M624.3 366.2l2.8-.8-2.8-5.1-2.8 .7z"/><path color="#00bc1c" d="M629.9 370.4l2.8-.9-2.8-5-2.8 .8z"/><path color="#00b540" d="M635.5 374.4l2.8-1-2.7-4.8-2.8 1z"/><path color="#00ae62" d="M641 378.1l2.8-1.2-2.7-4.6-2.8 1.1z"/><path color="#00a880" d="M646.6 381.4l2.8-1.3-2.7-4.4-2.8 1.2z"/><path color="#00a29b" d="M652.1 384.3l2.8-1.4-2.7-4.1-2.8 1.3z"/><path color="#005a65" d="M514 385.9l2.7-3.2-2.7 1.5-2.7 3z"/><path color="#006350" d="M519.4 381l2.7-3.5-2.7 1.9-2.7 3.3z"/><path color="#006934" d="M524.9 375.5l2.7-3.7-2.7 2.1-2.7 3.5z"/><path color="#006f15" d="M530.4 369.7l2.8-3.8-2.8 2.3-2.7 3.6z"/><path color="#0c7300" d="M535.9 363.8l2.8-3.8-2.8 2.2-2.8 3.7z"/><path color="#347300" d="M541.4 358l2.8-3.7-2.8 2-2.8 3.6z"/><path color="#597300" d="M547 352.7l2.8-3.4-2.8 1.7-2.8 3.4z"/><path color="#736d00" d="M552.7 348l2.8-3.1-2.9 1.2-2.8 3.2z"/><path color="#825f00" d="M558.4 344.3l2.9-2.8-2.9 .5-2.8 2.8z"/><path color="#985600" d="M564.1 341.7l2.9-2.4-2.9-.3-2.9 2.5z"/><path color="#a74f00" d="M569.9 340.3l2.9-2-2.9-1.1-2.9 2.1z"/><path color="#b04f00" d="M575.7 340.1l2.9-1.7-2.9-1.9-2.9 1.7z"/><path color="#b65800" d="M581.5 341l2.9-1.3-2.9-2.7-2.9 1.4z"/><path color="#b96c00" d="M587.3 343l2.9-1.1-2.9-3.4-2.9 1.1z"/><path color="#bc8a00" d="M593 345.9l2.9-.9-2.9-4-2.9 .9z"/><path color="#bdaf00" d="M598.8 349.5l2.9-.8-2.9-4.5-2.9 .7z"/><path color="#a2bf00" d="M604.5 353.6l2.9-.7-2.8-4.8-2.9 .7z"/><path color="#72c000" d="M610.2 358l2.9-.7-2.8-5-2.9 .6z"/><path color="#40c000" d="M615.8 362.5l2.8-.8-2.8-5.2-2.9 .7z"/><path color="#0ec100" d="M621.5 367l2.8-.8-2.8-5.2-2.8 .7z"/><path color="#00bc1c" d="M627.1 371.3l2.8-.9-2.8-5.1-2.8 .8z"/><path color="#00b540" d="M632.6 375.4l2.8-1-2.7-4.9-2.8 .9z"/><path color="#00ae62" d="M638.2 379.2l2.8-1.1-2.7-4.7-2.8 1z"/><path color="#00a881" d="M643.8 382.6l2.8-1.2-2.7-4.5-2.8 1.2z"/><path color="#00a29d" d="M649.3 385.6l2.8-1.3-2.7-4.2-2.8 1.3z"/><path color="#0094a9" d="M654.9 388.2l2.8-1.4-2.7-3.9-2.8 1.4z"/><path color="#005267" d="M511.3 389l2.7-3.2-2.7 1.3-2.7 2.9z"/><path color="#00615d" d="M516.7 384.4l2.7-3.5-2.7 1.7-2.7 3.2z"/><path color="#006642" d="M522.2 379.2l2.7-3.7-2.7 2-2.7 3.5z"/><path color="#006c24" d="M527.6 373.6l2.7-3.9-2.7 2.1-2.7 3.7z"/><path color="#007206" d="M533.1 367.7l2.8-3.9-2.8 2.1-2.8 3.8z"/><path color="#217300" d="M538.7 361.9l2.8-3.9-2.8 2-2.8 3.8z"/><path color="#467300" d="M544.2 356.4l2.8-3.7-2.8 1.7-2.8 3.7z"/><path color="#697400" d="M549.9 351.5l2.8-3.4-2.8 1.2-2.8 3.4z"/><path color="#8b7600" d="M555.6 347.4l2.8-3.1-2.9 .6-2.8 3.1z"/><path color="#9e6a00" d="M561.3 344.4l2.9-2.7-2.9-.2-2.9 2.8z"/><path color="#ab5f00" d="M567 342.6l2.9-2.3-2.9-1-2.9 2.4z"/><path color="#b45b00" d="M572.8 342l2.9-2-2.9-1.8-2.9 2z"/><path color="#b96100" d="M578.6 342.6l2.9-1.6-2.9-2.6-2.9 1.7z"/><path color="#bc7200" d="M584.4 344.3l2.9-1.3-2.9-3.3-2.9 1.3z"/><path color="#be8d00" d="M590.1 347l2.9-1.1-2.9-4-2.9 1.1z"/><path color="#bfb100" d="M595.9 350.4l2.9-.9-2.9-4.5-2.9 .9z"/><path color="#a4c000" d="M601.6 354.4l2.9-.8-2.8-4.9-2.9 .8z"/><path color="#75c100" d="M607.3 358.8l2.9-.8-2.8-5.1-2.9 .7z"/><path color="#43c100" d="M613 363.3l2.9-.8-2.8-5.2-2.9 .7z"/><path color="#0fc200" d="M618.6 367.9l2.8-.9-2.8-5.3-2.8 .8z"/><path color="#00bd1b" d="M624.2 372.3l2.8-.9-2.8-5.2-2.8 .8z"/><path color="#00b540" d="M629.8 376.4l2.8-1-2.7-5-2.8 .9z"/><path color="#00ae63" d="M635.4 380.3l2.8-1.1-2.7-4.8-2.8 1z"/><path color="#00a883" d="M640.9 383.8l2.8-1.2-2.7-4.5-2.8 1.1z"/><path color="#00a19f" d="M646.5 386.9l2.8-1.3-2.7-4.2-2.8 1.2z"/><path color="#0092a9" d="M652 389.6l2.8-1.3-2.7-3.9-2.8 1.3z"/><path color="#007fab" d="M657.6 391.9l2.8-1.4-2.7-3.6-2.8 1.4z"/><path color="#004968" d="M508.6 392.1l2.7-3.1-2.7 1.1-2.7 2.8z"/><path color="#005b65" d="M514 387.8l2.7-3.4-2.7 1.4-2.7 3.2z"/><path color="#006350" d="M519.4 382.9l2.7-3.7-2.7 1.7-2.7 3.5z"/><path color="#006933" d="M524.9 377.5l2.7-3.9-2.7 1.9-2.7 3.7z"/><path color="#006f15" d="M530.4 371.7l2.7-4-2.8 2-2.7 3.9z"/><path color="#0c7300" d="M535.9 365.9l2.8-4-2.8 1.9-2.8 3.9z"/><path color="#337300" d="M541.5 360.3l2.8-3.9-2.8 1.6-2.8 3.9z"/><path color="#5f7f00" d="M547.1 355.2l2.8-3.7-2.8 1.2-2.8 3.7z"/><path color="#929100" d="M552.7 350.8l2.8-3.4-2.9 .6-2.8 3.4z"/><path color="#a38000" d="M558.4 347.5l2.8-3.1-2.9-.1-2.8 3.1z"/><path color="#af7200" d="M564.2 345.3l2.9-2.7-2.9-.9-2.9 2.7z"/><path color="#b76a00" d="M569.9 344.3l2.9-2.3-2.9-1.7-2.9 2.3z"/><path color="#bb6d00" d="M575.7 344.5l2.9-1.9-2.9-2.6-2.9 2z"/><path color="#be7a00" d="M581.5 345.9l2.9-1.6-2.9-3.3-2.9 1.6z"/><path color="#c09300" d="M587.3 348.3l2.9-1.3-2.9-4-2.9 1.3z"/><path color="#c1b400" d="M593 351.5l2.9-1.1-2.9-4.5-2.9 1.1z"/><path color="#a5c200" d="M598.8 355.4l2.9-1-2.9-4.9-2.9 .9z"/><path color="#76c200" d="M604.5 359.7l2.9-.9-2.8-5.2-2.9 .8z"/><path color="#44c200" d="M610.1 364.2l2.9-.9-2.8-5.3-2.9 .8z"/><path color="#11c200" d="M615.8 368.8l2.8-.9-2.8-5.4-2.9 .8z"/><path color="#00bd1a" d="M621.4 373.2l2.8-.9-2.8-5.3-2.8 .9z"/><path color="#00b640" d="M627 377.5l2.8-1-2.7-5.1-2.8 .9z"/><path color="#00ae63" d="M632.6 381.4l2.8-1.1-2.7-4.9-2.8 1z"/><path color="#00a884" d="M638.1 385l2.8-1.2-2.7-4.6-2.8 1.1z"/><path color="#00a1a1" d="M643.7 388.1l2.8-1.2-2.7-4.3-2.8 1.2z"/><path color="#0090a9" d="M649.2 390.9l2.8-1.3-2.7-4-2.8 1.3z"/><path color="#007dac" d="M654.7 393.3l2.8-1.4-2.7-3.7-2.8 1.3z"/><path color="#006dad" d="M660.3 395.3l2.8-1.4-2.7-3.4-2.8 1.4z"/><path color="#00416a" d="M505.8 395l2.7-2.9-2.7 .8-2.7 2.7z"/><path color="#005267" d="M511.3 391.1l2.7-3.3-2.7 1.2-2.7 3.1z"/><path color="#00615d" d="M516.7 386.5l2.7-3.6-2.7 1.5-2.7 3.4z"/><path color="#006642" d="M522.2 381.3l2.7-3.9-2.7 1.8-2.7 3.7z"/><path color="#006c25" d="M527.6 375.8l2.7-4.1-2.8 1.9-2.7 3.9z"/><path color="#007107" d="M533.1 370l2.8-4.1-2.8 1.8-2.7 4z"/><path color="#1f7700" d="M538.7 364.4l2.8-4.1-2.8 1.6-2.8 4z"/><path color="#4e8800" d="M544.3 359.1l2.8-4-2.8 1.2-2.8 3.9z"/><path color="#829800" d="M549.9 354.5l2.8-3.7-2.9 .6-2.8 3.7z"/><path color="#a79a00" d="M555.6 350.9l2.8-3.4-2.9-.1-2.8 3.4z"/><path color="#b28800" d="M561.3 348.3l2.9-3-2.9-.8-2.8 3.1z"/><path color="#b97d00" d="M567.1 346.9l2.9-2.6-2.9-1.7-2.9 2.7z"/><path color="#be7b00" d="M572.8 346.7l2.9-2.2-2.9-2.5-2.9 2.3z"/><path color="#c08500" d="M578.6 347.8l2.9-1.9-2.9-3.3-2.9 1.9z"/><path color="#c29b00" d="M584.4 349.8l2.9-1.5-2.9-4-2.9 1.6z"/><path color="#c3ba00" d="M590.2 352.8l2.9-1.3-2.9-4.5-2.9 1.3z"/><path color="#a4c300" d="M595.9 356.5l2.9-1.1-2.9-5-2.9 1.1z"/><path color="#77c300" d="M601.6 360.7l2.9-1-2.8-5.3-2.9 1z"/><path color="#45c300" d="M607.3 365.2l2.9-1-2.8-5.4-2.9 .9z"/><path color="#11c300" d="M612.9 369.7l2.8-1-2.8-5.4-2.9 .9z"/><path color="#00be1a" d="M618.5 374.2l2.8-1-2.8-5.4-2.8 .9z"/><path color="#00b640" d="M624.1 378.5l2.8-1-2.8-5.2-2.8 .9z"/><path color="#00af64" d="M629.7 382.5l2.8-1.1-2.7-4.9-2.8 1z"/><path color="#00a885" d="M635.3 386.1l2.8-1.2-2.7-4.7-2.8 1.1z"/><path color="#00a1a2" d="M640.8 389.4l2.8-1.2-2.7-4.3-2.8 1.2z"/><path color="#008faa" d="M646.4 392.2l2.8-1.3-2.7-4-2.8 1.2z"/><path color="#007cac" d="M651.9 394.6l2.8-1.3-2.7-3.7-2.8 1.3z"/><path color="#006bad" d="M657.5 396.7l2.8-1.4-2.7-3.4-2.8 1.4z"/><path color="#005dae" d="M663 398.4l2.8-1.4-2.7-3.1-2.8 1.4z"/><path color="#003e73" d="M503.1 397.8l2.7-2.8-2.7 .6-2.7 2.6z"/><path color="#004b6b" d="M508.6 394.3l2.7-3.2-2.7 1-2.7 2.9z"/><path color="#005a65" d="M514 390l2.7-3.5-2.7 1.3-2.7 3.3z"/><path color="#006351" d="M519.5 385.2l2.7-3.8-2.7 1.5-2.7 3.6z"/><path color="#006935" d="M524.9 379.9l2.7-4.1-2.8 1.7-2.7 3.9z"/><path color="#007218" d="M530.4 374.3l2.7-4.2-2.8 1.7-2.7 4.1z"/><path color="#098100" d="M535.9 368.6l2.8-4.3-2.8 1.5-2.8 4.1z"/><path color="#388f00" d="M541.5 363.3l2.8-4.2-2.8 1.2-2.8 4.1z"/><path color="#6b9e00" d="M547.1 358.5l2.8-4-2.8 .6-2.8 4z"/><path color="#9daa00" d="M552.8 354.5l2.8-3.7-2.9-0-2.8 3.7z"/><path color="#b5a200" d="M558.5 351.6l2.8-3.3-2.9-.8-2.8 3.4z"/><path color="#bb9300" d="M564.2 349.8l2.9-2.9-2.9-1.6-2.9 3z"/><path color="#c08e00" d="M570 349.3l2.9-2.5-2.9-2.4-2.9 2.6z"/><path color="#c29400" d="M575.8 349.9l2.9-2.1-2.9-3.2-2.9 2.2z"/><path color="#c4a500" d="M581.5 351.7l2.9-1.8-2.9-3.9-2.9 1.9z"/><path color="#c4c100" d="M587.3 354.4l2.9-1.5-2.9-4.5-2.9 1.5z"/><path color="#a2c400" d="M593 357.8l2.9-1.3-2.9-5-2.9 1.3z"/><path color="#75c400" d="M598.7 361.9l2.9-1.2-2.8-5.3-2.9 1.1z"/><path color="#44c400" d="M604.4 366.2l2.9-1.1-2.8-5.5-2.9 1z"/><path color="#11c400" d="M610.1 370.8l2.8-1-2.8-5.5-2.9 1z"/><path color="#00bf1a" d="M615.7 375.2l2.8-1-2.8-5.4-2.8 1z"/><path color="#00b740" d="M621.3 379.6l2.8-1.1-2.8-5.3-2.8 1z"/><path color="#00af65" d="M626.9 383.6l2.8-1.1-2.7-5-2.8 1z"/><path color="#00a886" d="M632.5 387.3l2.8-1.2-2.7-4.7-2.8 1.1z"/><path color="#00a1a3" d="M638 390.6l2.8-1.2-2.7-4.4-2.8 1.2z"/><path color="#008eaa" d="M643.6 393.5l2.8-1.3-2.7-4.1-2.8 1.2z"/><path color="#007aac" d="M649.1 396l2.8-1.3-2.7-3.7-2.8 1.3z"/><path color="#0069ad" d="M654.6 398l2.8-1.4-2.7-3.4-2.8 1.3z"/><path color="#005bae" d="M660.2 399.8l2.8-1.4-2.7-3.1-2.8 1.4z"/><path color="#004fae" d="M665.7 401.2l2.8-1.4-2.7-2.8-2.8 1.4z"/><path color="#004774" d="M505.9 397.3l2.7-3-2.7 .7-2.7 2.8z"/><path color="#00576e" d="M511.3 393.5l2.7-3.4-2.7 1.1-2.7 3.2z"/><path color="#006665" d="M516.7 389l2.7-3.8-2.7 1.3-2.7 3.5z"/><path color="#006d49" d="M522.2 383.9l2.7-4.1-2.7 1.5-2.7 3.8z"/><path color="#00782d" d="M527.7 378.5l2.7-4.3-2.8 1.5-2.7 4.1z"/><path color="#00870d" d="M533.2 373l2.7-4.4-2.8 1.4-2.7 4.2z"/><path color="#1d9500" d="M538.7 367.6l2.8-4.3-2.8 1.1-2.8 4.3z"/><path color="#50a200" d="M544.3 362.7l2.8-4.2-2.8 .6-2.8 4.2z"/><path color="#82ad00" d="M550 358.5l2.8-3.9-2.9 0-2.8 4z"/><path color="#aeb700" d="M555.7 355.2l2.8-3.6-2.9-.7-2.8 3.7z"/><path color="#bdac00" d="M561.4 353l2.8-3.2-2.9-1.5-2.8 3.3z"/><path color="#c1a300" d="M567.1 352.1l2.9-2.8-2.9-2.4-2.9 2.9z"/><path color="#c4a500" d="M572.9 352.4l2.9-2.5-2.9-3.2-2.9 2.5z"/><path color="#c5b300" d="M578.7 353.8l2.9-2.1-2.9-3.9-2.9 2.1z"/><path color="#bfc600" d="M584.4 356.2l2.9-1.8-2.9-4.5-2.9 1.8z"/><path color="#9dc600" d="M590.2 359.4l2.9-1.5-2.9-5-2.9 1.5z"/><path color="#72c600" d="M595.9 363.2l2.9-1.3-2.8-5.4-2.9 1.3z"/><path color="#42c500" d="M601.6 367.5l2.9-1.2-2.8-5.5-2.9 1.2z"/><path color="#10c500" d="M607.2 371.9l2.8-1.1-2.8-5.6-2.9 1.1z"/><path color="#00bf1b" d="M612.9 376.4l2.8-1.1-2.8-5.5-2.8 1z"/><path color="#00b741" d="M618.5 380.7l2.8-1.1-2.8-5.4-2.8 1z"/><path color="#00af65" d="M624.1 384.7l2.8-1.1-2.7-5.1-2.8 1.1z"/><path color="#00a887" d="M629.6 388.5l2.8-1.2-2.7-4.8-2.8 1.1z"/><path color="#00a1a5" d="M635.2 391.8l2.8-1.2-2.7-4.5-2.8 1.2z"/><path color="#008daa" d="M640.7 394.7l2.8-1.3-2.7-4.1-2.8 1.2z"/><path color="#0079ac" d="M646.3 397.3l2.8-1.3-2.7-3.8-2.8 1.3z"/><path color="#0068ae" d="M651.8 399.4l2.8-1.3-2.7-3.4-2.8 1.3z"/><path color="#0059ae" d="M657.4 401.1l2.8-1.4-2.7-3.1-2.8 1.4z"/><path color="#004dae" d="M662.9 402.6l2.8-1.4-2.7-2.8-2.8 1.4z"/><path color="#005277" d="M508.6 396.7l2.7-3.3-2.7 .8-2.7 3z"/><path color="#006573" d="M514 392.6l2.7-3.6-2.7 1.1-2.7 3.4z"/><path color="#007160" d="M519.5 387.9l2.7-4-2.7 1.3-2.7 3.8z"/><path color="#007c43" d="M525 382.8l2.7-4.2-2.8 1.3-2.7 4.1z"/><path color="#008a23" d="M530.5 377.4l2.7-4.4-2.8 1.3-2.7 4.3z"/><path color="#009a00" d="M536 372.1l2.8-4.4-2.8 1-2.7 4.4z"/><path color="#31a500" d="M541.6 367.1l2.8-4.4-2.8 .6-2.8 4.3z"/><path color="#63b000" d="M547.2 362.6l2.8-4.2-2.9 0-2.8 4.2z"/><path color="#91b800" d="M552.8 359.1l2.8-3.9-2.9-.7-2.8 3.9z"/><path color="#b4bf00" d="M558.5 356.6l2.8-3.5-2.9-1.5-2.8 3.6z"/><path color="#c3bc00" d="M564.3 355.3l2.8-3.2-2.9-2.3-2.8 3.2z"/><path color="#c5ba00" d="M570 355.1l2.9-2.8-2.9-3.1-2.9 2.8z"/><path color="#c6c400" d="M575.8 356.1l2.9-2.4-2.9-3.8-2.9 2.5z"/><path color="#b4c700" d="M581.5 358.2l2.9-2-2.9-4.5-2.9 2.1z"/><path color="#95c700" d="M587.3 361.1l2.9-1.8-2.9-5-2.9 1.8z"/><path color="#6dc700" d="M593 364.7l2.9-1.5-2.9-5.4-2.9 1.5z"/><path color="#3fc600" d="M598.7 368.8l2.9-1.4-2.8-5.6-2.9 1.3z"/><path color="#0dc600" d="M604.4 373.2l2.8-1.3-2.8-5.7-2.9 1.2z"/><path color="#00c01c" d="M610 377.6l2.8-1.2-2.8-5.6-2.8 1.1z"/><path color="#00b842" d="M615.6 381.8l2.8-1.2-2.8-5.4-2.8 1.1z"/><path color="#00b067" d="M621.2 385.9l2.8-1.2-2.8-5.2-2.8 1.1z"/><path color="#00a888" d="M626.8 389.7l2.8-1.2-2.7-4.9-2.8 1.1z"/><path color="#00a1a6" d="M632.4 393l2.8-1.2-2.7-4.5-2.8 1.2z"/><path color="#008cab" d="M637.9 396l2.8-1.3-2.7-4.2-2.8 1.2z"/><path color="#0078ad" d="M643.5 398.6l2.8-1.3-2.7-3.8-2.8 1.3z"/><path color="#0067ae" d="M649 400.7l2.8-1.3-2.7-3.4-2.8 1.3z"/><path color="#0058ae" d="M654.6 402.5l2.8-1.4-2.7-3.1-2.8 1.3z"/><path color="#004bae" d="M660.1 403.9l2.8-1.4-2.7-2.8-2.8 1.4z"/><path color="#005e7b" d="M511.3 396.1l2.7-3.5-2.7 .9-2.7 3.3z"/><path color="#007477" d="M516.8 391.8l2.7-3.9-2.7 1.1-2.7 3.6z"/><path color="#007e5b" d="M522.2 386.9l2.7-4.2-2.8 1.2-2.7 4z"/><path color="#008a3b" d="M527.7 381.8l2.7-4.4-2.8 1.1-2.7 4.2z"/><path color="#009a19" d="M533.2 376.6l2.7-4.5-2.8 .9-2.7 4.4z"/><path color="#10a800" d="M538.8 371.6l2.8-4.5-2.8 .6-2.8 4.4z"/><path color="#42b200" d="M544.4 367l2.8-4.4-2.8 0-2.8 4.4z"/><path color="#70ba00" d="M550 363.3l2.8-4.1-2.9-.6-2.8 4.2z"/><path color="#95c000" d="M555.7 360.4l2.8-3.8-2.9-1.4-2.8 3.9z"/><path color="#afc400" d="M561.4 358.7l2.8-3.5-2.9-2.2-2.8 3.5z"/><path color="#bac600" d="M567.2 358.2l2.8-3.1-2.9-3-2.8 3.2z"/><path color="#b7c700" d="M572.9 358.8l2.9-2.7-2.9-3.8-2.9 2.8z"/><path color="#a6c800" d="M578.7 360.5l2.9-2.3-2.9-4.4-2.9 2.4z"/><path color="#8ac800" d="M584.4 363.1l2.9-2-2.9-5-2.9 2z"/><path color="#65c800" d="M590.2 366.5l2.9-1.7-2.9-5.4-2.9 1.8z"/><path color="#39c700" d="M595.9 370.4l2.9-1.5-2.8-5.6-2.9 1.5z"/><path color="#09c700" d="M601.5 374.6l2.8-1.4-2.8-5.7-2.9 1.4z"/><path color="#00c01f" d="M607.2 378.9l2.8-1.3-2.8-5.7-2.8 1.3z"/><path color="#00b844" d="M612.8 383.1l2.8-1.3-2.8-5.5-2.8 1.2z"/><path color="#00b068" d="M618.4 387.2l2.8-1.2-2.8-5.2-2.8 1.2z"/><path color="#00a88a" d="M624 390.9l2.8-1.2-2.7-4.9-2.8 1.2z"/><path color="#00a1a8" d="M629.6 394.3l2.8-1.3-2.7-4.6-2.8 1.2z"/><path color="#008bab" d="M635.1 397.3l2.8-1.3-2.7-4.2-2.8 1.2z"/><path color="#0077ad" d="M640.7 399.9l2.8-1.3-2.7-3.8-2.8 1.3z"/><path color="#0065ae" d="M646.2 402.1l2.8-1.3-2.7-3.5-2.8 1.3z"/><path color="#0057ae" d="M651.7 403.9l2.8-1.3-2.7-3.1-2.8 1.3z"/><path color="#004aae" d="M657.3 405.3l2.8-1.4-2.7-2.8-2.8 1.4z"/><path color="#006d80" d="M514.1 395.5l2.7-3.7-2.7 .8-2.7 3.5z"/><path color="#007f72" d="M519.5 391l2.7-4.1-2.8 1-2.7 3.9z"/><path color="#008a54" d="M525 386.1l2.7-4.4-2.8 1-2.7 4.2z"/><path color="#009833" d="M530.5 381.1l2.7-4.5-2.8 .8-2.7 4.4z"/><path color="#00a80e" d="M536.1 376.2l2.7-4.6-2.8 .5-2.7 4.5z"/><path color="#1eb300" d="M541.6 371.6l2.8-4.5-2.8 0-2.8 4.5z"/><path color="#4cbb00" d="M547.3 367.6l2.8-4.4-2.9-.6-2.8 4.4z"/><path color="#74c100" d="M552.9 364.5l2.8-4.1-2.9-1.3-2.8 4.1z"/><path color="#90c400" d="M558.6 362.5l2.8-3.7-2.9-2.1-2.8 3.8z"/><path color="#9fc700" d="M564.3 361.6l2.8-3.4-2.9-2.9-2.8 3.5z"/><path color="#a1c800" d="M570.1 361.8l2.8-3-2.9-3.7-2.8 3.1z"/><path color="#94c900" d="M575.8 363.1l2.9-2.6-2.9-4.4-2.9 2.7z"/><path color="#7cc900" d="M581.6 365.4l2.9-2.3-2.9-4.9-2.9 2.3z"/><path color="#5ac900" d="M587.3 368.5l2.9-2-2.9-5.4-2.9 2z"/><path color="#31c800" d="M593 372.1l2.9-1.7-2.8-5.6-2.9 1.7z"/><path color="#04c800" d="M598.7 376.1l2.8-1.5-2.8-5.7-2.9 1.5z"/><path color="#00c022" d="M604.3 380.3l2.8-1.4-2.8-5.7-2.8 1.4z"/><path color="#00b847" d="M610 384.4l2.8-1.3-2.8-5.5-2.8 1.3z"/><path color="#00b06a" d="M615.6 388.4l2.8-1.3-2.8-5.3-2.8 1.3z"/><path color="#00a88c" d="M621.2 392.2l2.8-1.3-2.8-5-2.8 1.2z"/><path color="#00a1a9" d="M626.7 395.6l2.8-1.3-2.7-4.6-2.8 1.2z"/><path color="#008aac" d="M632.3 398.6l2.8-1.3-2.7-4.2-2.8 1.3z"/><path color="#0076ad" d="M637.8 401.2l2.8-1.3-2.7-3.9-2.8 1.3z"/><path color="#0064af" d="M643.4 403.4l2.8-1.3-2.7-3.5-2.8 1.3z"/><path color="#0055af" d="M648.9 405.2l2.8-1.3-2.7-3.1-2.8 1.3z"/><path color="#0049ae" d="M654.5 406.7l2.8-1.4-2.7-2.8-2.8 1.3z"/><path color="#007c86" d="M516.8 394.9l2.7-3.9-2.8 .8-2.7 3.7z"/><path color="#00896d" d="M522.3 390.4l2.7-4.3-2.8 .8-2.7 4.1z"/><path color="#00964d" d="M527.8 385.6l2.7-4.5-2.8 .7-2.7 4.4z"/><path color="#00a52a" d="M533.3 380.8l2.7-4.6-2.8 .4-2.7 4.5z"/><path color="#00b406" d="M538.9 376.2l2.8-4.6-2.8-0-2.7 4.6z"/><path color="#27bc00" d="M544.5 372.1l2.8-4.5-2.9-.6-2.8 4.5z"/><path color="#4fc100" d="M550.1 368.8l2.8-4.3-2.9-1.3-2.8 4.4z"/><path color="#6fc500" d="M555.8 366.5l2.8-4-2.9-2-2.8 4.1z"/><path color="#82c700" d="M561.5 365.2l2.8-3.6-2.9-2.8-2.8 3.7z"/><path color="#87c900" d="M567.2 365l2.8-3.3-2.9-3.6-2.8 3.4z"/><path color="#7fca00" d="M573 366l2.8-2.9-2.9-4.3-2.8 3z"/><path color="#6bca00" d="M578.7 367.9l2.9-2.5-2.9-4.9-2.9 2.6z"/><path color="#4dca00" d="M584.4 370.6l2.9-2.2-2.9-5.3-2.9 2.3z"/><path color="#27c900" d="M590.1 374l2.9-1.9-2.8-5.6-2.9 2z"/><path color="#00c803" d="M595.8 377.8l2.8-1.7-2.8-5.7-2.9 1.7z"/><path color="#00c027" d="M601.5 381.8l2.8-1.6-2.8-5.7-2.8 1.5z"/><path color="#00b84a" d="M607.1 385.9l2.8-1.4-2.8-5.6-2.8 1.4z"/><path color="#00b06d" d="M612.7 389.8l2.8-1.4-2.8-5.3-2.8 1.3z"/><path color="#00a98e" d="M618.3 393.5l2.8-1.3-2.8-5-2.8 1.3z"/><path color="#00a0aa" d="M623.9 396.9l2.8-1.3-2.7-4.7-2.8 1.3z"/><path color="#0089ac" d="M629.5 399.9l2.8-1.3-2.7-4.3-2.8 1.3z"/><path color="#0075ae" d="M635 402.5l2.8-1.3-2.7-3.9-2.8 1.3z"/><path color="#0063af" d="M640.6 404.7l2.8-1.3-2.7-3.5-2.8 1.3z"/><path color="#0054af" d="M646.1 406.5l2.8-1.3-2.7-3.1-2.8 1.3z"/><path color="#0048ae" d="M651.7 408l2.8-1.3-2.7-2.8-2.8 1.3z"/><path color="#008785" d="M519.6 394.5l2.7-4.1-2.8 .6-2.7 3.9z"/><path color="#009367" d="M525.1 390l2.7-4.4-2.8 .5-2.7 4.3z"/><path color="#00a146" d="M530.6 385.4l2.7-4.6-2.8 .3-2.7 4.5z"/><path color="#00af23" d="M536.1 380.9l2.7-4.7-2.8-0-2.7 4.6z"/><path color="#00bc00" d="M541.7 376.8l2.8-4.6-2.8-.6-2.8 4.6z"/><path color="#29c100" d="M547.3 373.3l2.8-4.5-2.9-1.2-2.8 4.5z"/><path color="#4ac500" d="M553 370.7l2.8-4.2-2.9-2-2.8 4.3z"/><path color="#61c800" d="M558.7 369.1l2.8-3.9-2.9-2.7-2.8 4z"/><path color="#6ac900" d="M564.4 368.6l2.8-3.5-2.9-3.5-2.8 3.6z"/><path color="#67ca00" d="M570.1 369.1l2.8-3.1-2.9-4.2-2.8 3.3z"/><path color="#57ca00" d="M575.9 370.7l2.8-2.8-2.9-4.8-2.8 2.9z"/><path color="#3dca00" d="M581.6 373.1l2.9-2.4-2.9-5.3-2.9 2.5z"/><path color="#1bca00" d="M587.3 376.1l2.8-2.1-2.9-5.6-2.9 2.2z"/><path color="#00c70b" d="M593 379.7l2.8-1.9-2.8-5.7-2.9 1.9z"/><path color="#00c02c" d="M598.7 383.5l2.8-1.7-2.8-5.7-2.8 1.7z"/><path color="#00b84f" d="M604.3 387.4l2.8-1.6-2.8-5.6-2.8 1.6z"/><path color="#00b071" d="M609.9 391.3l2.8-1.5-2.8-5.4-2.8 1.4z"/><path color="#00a991" d="M615.5 394.9l2.8-1.4-2.8-5.1-2.8 1.4z"/><path color="#009faa" d="M621.1 398.2l2.8-1.4-2.7-4.7-2.8 1.3z"/><path color="#0088ad" d="M626.7 401.2l2.8-1.3-2.7-4.3-2.8 1.3z"/><path color="#0074af" d="M632.2 403.8l2.8-1.3-2.7-3.9-2.8 1.3z"/><path color="#0062af" d="M637.8 406l2.8-1.3-2.7-3.5-2.8 1.3z"/><path color="#0053af" d="M643.3 407.9l2.8-1.3-2.7-3.2-2.8 1.3z"/><path color="#0047af" d="M648.9 409.4l2.8-1.3-2.7-2.8-2.8 1.3z"/><path color="#009081" d="M522.4 394.3l2.7-4.3-2.8 .4-2.7 4.1z"/><path color="#009d62" d="M527.9 389.9l2.7-4.5-2.8 .2-2.7 4.4z"/><path color="#00aa40" d="M533.4 385.5l2.7-4.7-2.8-.1-2.7 4.6z"/><path color="#00b61f" d="M539 381.5l2.8-4.7-2.8-.6-2.7 4.7z"/><path color="#01c100" d="M544.6 377.9l2.8-4.6-2.9-1.2-2.8 4.6z"/><path color="#24c500" d="M550.2 375.1l2.8-4.4-2.9-1.9-2.8 4.5z"/><path color="#3dc800" d="M555.9 373.2l2.8-4.1-2.9-2.6-2.8 4.2z"/><path color="#4bca00" d="M561.6 372.3l2.8-3.8-2.9-3.4-2.8 3.9z"/><path color="#4ccb00" d="M567.3 372.5l2.8-3.4-2.9-4.1-2.8 3.5z"/><path color="#40cb00" d="M573 373.7l2.8-3-2.9-4.7-2.8 3.1z"/><path color="#2bcb00" d="M578.7 375.7l2.8-2.7-2.9-5.2-2.8 2.8z"/><path color="#0cca00" d="M584.5 378.5l2.8-2.3-2.9-5.5-2.9 2.4z"/><path color="#00c614" d="M590.1 381.8l2.8-2.1-2.8-5.7-2.8 2.1z"/><path color="#00bf33" d="M595.8 385.4l2.8-1.8-2.8-5.7-2.8 1.9z"/><path color="#00b754" d="M601.5 389.1l2.8-1.7-2.8-5.6-2.8 1.7z"/><path color="#00b075" d="M607.1 392.8l2.8-1.6-2.8-5.4-2.8 1.6z"/><path color="#00a894" d="M612.7 396.4l2.8-1.5-2.8-5.1-2.8 1.5z"/><path color="#009dab" d="M618.3 399.7l2.8-1.4-2.8-4.7-2.8 1.4z"/><path color="#0087ae" d="M623.8 402.6l2.8-1.4-2.7-4.3-2.8 1.4z"/><path color="#0073af" d="M629.4 405.2l2.8-1.4-2.7-3.9-2.8 1.3z"/><path color="#0061b0" d="M635 407.4l2.8-1.3-2.7-3.5-2.8 1.3z"/><path color="#0052b0" d="M640.5 409.2l2.8-1.3-2.7-3.2-2.8 1.3z"/><path color="#0045af" d="M646.1 410.7l2.8-1.3-2.7-2.8-2.8 1.3z"/><path color="#00987c" d="M525.2 394.3l2.7-4.4-2.8 .1-2.7 4.3z"/><path color="#00a45d" d="M530.7 390.1l2.7-4.6-2.8-.2-2.7 4.5z"/><path color="#00b13d" d="M536.2 386.1l2.7-4.7-2.8-.6-2.7 4.7z"/><path color="#00bc1e" d="M541.8 382.5l2.8-4.7-2.9-1.1-2.8 4.7z"/><path color="#00c503" d="M547.4 379.6l2.8-4.5-2.9-1.8-2.8 4.6z"/><path color="#18c800" d="M553.1 377.5l2.8-4.3-2.9-2.5-2.8 4.4z"/><path color="#29ca00" d="M558.8 376.3l2.8-4-2.9-3.2-2.8 4.1z"/><path color="#2ecb00" d="M564.5 376.1l2.8-3.6-2.9-3.9-2.8 3.8z"/><path color="#27cb00" d="M570.2 376.9l2.8-3.2-2.9-4.6-2.8 3.4z"/><path color="#15cb00" d="M575.9 378.6l2.8-2.9-2.9-5.1-2.8 3z"/><path color="#00ca04" d="M581.6 381l2.8-2.5-2.9-5.4-2.8 2.7z"/><path color="#00c41e" d="M587.3 384l2.8-2.2-2.8-5.6-2.8 2.3z"/><path color="#00be3c" d="M593 387.4l2.8-2-2.8-5.7-2.8 2.1z"/><path color="#00b75b" d="M598.6 390.9l2.8-1.8-2.8-5.6-2.8 1.8z"/><path color="#00af7b" d="M604.2 394.5l2.8-1.7-2.8-5.4-2.8 1.7z"/><path color="#00a899" d="M609.9 397.9l2.8-1.5-2.8-5.1-2.8 1.6z"/><path color="#009bac" d="M615.4 401.1l2.8-1.5-2.8-4.7-2.8 1.5z"/><path color="#0085ae" d="M621 404l2.8-1.4-2.8-4.4-2.8 1.4z"/><path color="#0071b0" d="M626.6 406.6l2.8-1.4-2.7-4-2.8 1.4z"/><path color="#0060b0" d="M632.1 408.7l2.8-1.4-2.7-3.6-2.8 1.4z"/><path color="#0051b0" d="M637.7 410.6l2.8-1.4-2.7-3.2-2.8 1.3z"/><path color="#0044af" d="M643.3 412l2.8-1.3-2.7-2.8-2.8 1.3z"/><path color="#009f79" d="M528 394.6l2.7-4.5-2.8-.2-2.7 4.4z"/><path color="#00ab5b" d="M533.5 390.8l2.7-4.6-2.8-.6-2.7 4.6z"/><path color="#00b53d" d="M539.1 387.2l2.7-4.7-2.8-1.1-2.7 4.7z"/><path color="#00be21" d="M544.7 384.2l2.8-4.6-2.9-1.7-2.8 4.7z"/><path color="#00c60b" d="M550.3 381.9l2.8-4.4-2.9-2.4-2.8 4.5z"/><path color="#05ca00" d="M556 380.4l2.8-4.1-2.9-3.1-2.8 4.3z"/><path color="#0dcb00" d="M561.7 379.9l2.8-3.8-2.9-3.8-2.8 4z"/><path color="#0bcb00" d="M567.4 380.4l2.8-3.4-2.9-4.4-2.8 3.6z"/><path color="#00cb02" d="M573.1 381.7l2.8-3.1-2.9-4.9-2.8 3.2z"/><path color="#00c714" d="M578.8 383.8l2.8-2.7-2.9-5.3-2.8 2.9z"/><path color="#00c22b" d="M584.5 386.4l2.8-2.4-2.8-5.5-2.8 2.5z"/><path color="#00bc46" d="M590.1 389.5l2.8-2.2-2.8-5.6-2.8 2.2z"/><path color="#00b663" d="M595.8 392.9l2.8-1.9-2.8-5.5-2.8 2z"/><path color="#00af81" d="M601.4 396.2l2.8-1.8-2.8-5.4-2.8 1.8z"/><path color="#00a79e" d="M607 399.5l2.8-1.6-2.8-5.1-2.8 1.7z"/><path color="#0099ad" d="M612.6 402.7l2.8-1.5-2.8-4.7-2.8 1.5z"/><path color="#0083af" d="M618.2 405.5l2.8-1.5-2.8-4.4-2.8 1.5z"/><path color="#0070b0" d="M623.8 408l2.8-1.4-2.7-4-2.8 1.4z"/><path color="#005eb1" d="M629.3 410.1l2.8-1.4-2.7-3.6-2.8 1.4z"/><path color="#0050b1" d="M634.9 411.9l2.8-1.4-2.7-3.2-2.8 1.4z"/><path color="#0043af" d="M640.5 413.4l2.8-1.3-2.7-2.8-2.8 1.4z"/><path color="#00a578" d="M530.8 395.3l2.7-4.5-2.8-.6-2.7 4.5z"/><path color="#00af5b" d="M536.3 391.8l2.7-4.6-2.8-1.1-2.7 4.6z"/><path color="#00b840" d="M541.9 388.8l2.8-4.6-2.9-1.6-2.7 4.7z"/><path color="#00bf2a" d="M547.5 386.3l2.8-4.5-2.9-2.3-2.8 4.6z"/><path color="#00c519" d="M553.2 384.7l2.8-4.2-2.9-2.9-2.8 4.4z"/><path color="#00c810" d="M558.9 383.9l2.8-4-2.9-3.6-2.8 4.1z"/><path color="#00c80f" d="M564.6 384l2.8-3.6-2.9-4.2-2.8 3.8z"/><path color="#00c716" d="M570.2 384.9l2.8-3.3-2.9-4.8-2.8 3.4z"/><path color="#00c424" d="M575.9 386.7l2.8-2.9-2.9-5.2-2.8 3.1z"/><path color="#00c038" d="M581.6 389l2.8-2.6-2.9-5.4-2.8 2.7z"/><path color="#00bb51" d="M587.3 391.8l2.8-2.3-2.8-5.5-2.8 2.4z"/><path color="#00b46c" d="M593 394.9l2.8-2.1-2.8-5.5-2.8 2.2z"/><path color="#00ae88" d="M598.6 398.1l2.8-1.9-2.8-5.3-2.8 1.9z"/><path color="#00a7a3" d="M604.2 401.3l2.8-1.7-2.8-5.1-2.8 1.8z"/><path color="#0096ae" d="M609.8 404.2l2.8-1.6-2.8-4.7-2.8 1.6z"/><path color="#0081b0" d="M615.4 407l2.8-1.5-2.8-4.4-2.8 1.5z"/><path color="#006eb1" d="M621 409.4l2.8-1.4-2.8-4-2.8 1.5z"/><path color="#005db1" d="M626.5 411.5l2.8-1.4-2.8-3.6-2.8 1.4z"/><path color="#004eb1" d="M632.1 413.3l2.8-1.4-2.7-3.2-2.8 1.4z"/><path color="#0042b0" d="M637.7 414.7l2.8-1.4-2.8-2.8-2.8 1.4z"/><path color="#00a978" d="M533.6 396.3l2.7-4.5-2.8-1.1-2.7 4.5z"/><path color="#00b25e" d="M539.2 393.3l2.7-4.5-2.9-1.6-2.7 4.6z"/><path color="#00b948" d="M544.8 390.8l2.8-4.5-2.9-2.2-2.8 4.6z"/><path color="#00bf36" d="M550.4 389l2.8-4.3-2.9-2.8-2.8 4.5z"/><path color="#00c22b" d="M556.1 387.9l2.8-4.1-2.9-3.4-2.8 4.2z"/><path color="#00c427" d="M561.7 387.7l2.8-3.8-2.9-4.1-2.8 4z"/><path color="#00c32b" d="M567.4 388.4l2.8-3.4-2.9-4.6-2.8 3.6z"/><path color="#00c137" d="M573.1 389.8l2.8-3.1-2.9-5-2.8 3.3z"/><path color="#00bd48" d="M578.8 391.8l2.8-2.8-2.9-5.3-2.8 2.9z"/><path color="#00b85d" d="M584.5 394.3l2.8-2.5-2.8-5.4-2.8 2.6z"/><path color="#00b376" d="M590.1 397.1l2.8-2.2-2.8-5.4-2.8 2.3z"/><path color="#00ac90" d="M595.8 400.1l2.8-2-2.8-5.3-2.8 2.1z"/><path color="#00a6aa" d="M601.4 403.1l2.8-1.8-2.8-5-2.8 1.9z"/><path color="#0092af" d="M607 405.9l2.8-1.7-2.8-4.7-2.8 1.7z"/><path color="#007eb1" d="M612.6 408.5l2.8-1.6-2.8-4.3-2.8 1.6z"/><path color="#006cb2" d="M618.1 410.9l2.8-1.5-2.8-3.9-2.8 1.5z"/><path color="#005bb2" d="M623.7 413l2.8-1.4-2.8-3.6-2.8 1.4z"/><path color="#004db1" d="M629.3 414.7l2.8-1.4-2.8-3.2-2.8 1.4z"/><path color="#0041b0" d="M634.8 416.1l2.8-1.4-2.8-2.8-2.8 1.4z"/><path color="#00ab7b" d="M536.4 397.8l2.7-4.4-2.8-1.5-2.7 4.5z"/><path color="#00b365" d="M542 395.3l2.8-4.4-2.9-2-2.7 4.5z"/><path color="#00b853" d="M547.6 393.3l2.8-4.3-2.9-2.6-2.8 4.5z"/><path color="#00bc46" d="M553.3 392.1l2.8-4.1-2.9-3.3-2.8 4.3z"/><path color="#00be41" d="M558.9 391.6l2.8-3.9-2.9-3.9-2.8 4.1z"/><path color="#00bf42" d="M564.6 391.9l2.8-3.6-2.9-4.4-2.8 3.8z"/><path color="#00bd4a" d="M570.3 393l2.8-3.2-2.9-4.8-2.8 3.4z"/><path color="#00ba58" d="M576 394.7l2.8-2.9-2.9-5.1-2.8 3.1z"/><path color="#00b66b" d="M581.6 396.9l2.8-2.6-2.8-5.3-2.8 2.8z"/><path color="#00b181" d="M587.3 399.4l2.8-2.3-2.8-5.3-2.8 2.5z"/><path color="#00ab99" d="M592.9 402.2l2.8-2.1-2.8-5.2-2.8 2.2z"/><path color="#00a3ae" d="M598.6 404.9l2.8-1.9-2.8-4.9-2.8 2z"/><path color="#008eb0" d="M604.2 407.6l2.8-1.7-2.8-4.7-2.8 1.8z"/><path color="#007bb1" d="M609.8 410.2l2.8-1.6-2.8-4.3-2.8 1.7z"/><path color="#0069b2" d="M615.3 412.4l2.8-1.5-2.8-3.9-2.8 1.6z"/><path color="#0059b2" d="M620.9 414.4l2.8-1.5-2.8-3.5-2.8 1.5z"/><path color="#004bb2" d="M626.5 416.1l2.8-1.4-2.8-3.2-2.8 1.4z"/><path color="#0040b0" d="M632 417.5l2.8-1.4-2.8-2.8-2.8 1.4z"/><path color="#00ac82" d="M539.3 399.6l2.7-4.4-2.9-1.9-2.7 4.4z"/><path color="#00b270" d="M544.9 397.6l2.8-4.3-2.9-2.5-2.8 4.4z"/><path color="#00b662" d="M550.5 396.2l2.8-4.1-2.9-3.1-2.8 4.3z"/><path color="#00b95a" d="M556.2 395.5l2.8-3.9-2.9-3.7-2.8 4.1z"/><path color="#00ba59" d="M561.8 395.6l2.8-3.6-2.9-4.2-2.8 3.9z"/><path color="#00b95f" d="M567.5 396.3l2.8-3.3-2.9-4.6-2.8 3.6z"/><path color="#00b76a" d="M573.2 397.7l2.8-3-2.9-4.9-2.8 3.2z"/><path color="#00b37a" d="M578.8 399.6l2.8-2.7-2.8-5.1-2.8 2.9z"/><path color="#00ae8d" d="M584.5 401.8l2.8-2.4-2.8-5.1-2.8 2.6z"/><path color="#00a9a2" d="M590.1 404.3l2.8-2.2-2.8-5.1-2.8 2.3z"/><path color="#009daf" d="M595.7 406.9l2.8-2-2.8-4.9-2.8 2.1z"/><path color="#008ab1" d="M601.3 409.4l2.8-1.8-2.8-4.6-2.8 1.9z"/><path color="#0077b2" d="M606.9 411.8l2.8-1.7-2.8-4.3-2.8 1.7z"/><path color="#0066b3" d="M612.5 414l2.8-1.6-2.8-3.9-2.8 1.6z"/><path color="#0057b3" d="M618.1 415.9l2.8-1.5-2.8-3.5-2.8 1.5z"/><path color="#004ab2" d="M623.7 417.5l2.8-1.4-2.8-3.1-2.8 1.5z"/><path color="#003eb1" d="M629.2 418.9l2.8-1.4-2.8-2.8-2.8 1.4z"/><path color="#00ac8b" d="M542.1 401.8l2.8-4.2-2.9-2.4-2.7 4.4z"/><path color="#00b07d" d="M547.7 400.3l2.8-4.1-2.9-2.9-2.8 4.3z"/><path color="#00b474" d="M553.4 399.5l2.8-3.9-2.9-3.5-2.8 4.1z"/><path color="#00b571" d="M559 399.2l2.8-3.7-2.9-4-2.8 3.9z"/><path color="#00b574" d="M564.7 399.7l2.8-3.4-2.9-4.4-2.8 3.6z"/><path color="#00b37c" d="M570.3 400.8l2.8-3.1-2.9-4.7-2.8 3.3z"/><path color="#00b089" d="M576 402.4l2.8-2.8-2.8-4.9-2.8 3z"/><path color="#00ac9a" d="M581.7 404.4l2.8-2.5-2.8-5-2.8 2.7z"/><path color="#00a7ad" d="M587.3 406.6l2.8-2.3-2.8-4.9-2.8 2.4z"/><path color="#0096b0" d="M592.9 409l2.8-2-2.8-4.8-2.8 2.2z"/><path color="#0085b2" d="M598.5 411.3l2.8-1.9-2.8-4.5-2.8 2z"/><path color="#0073b3" d="M604.1 413.5l2.8-1.7-2.8-4.2-2.8 1.8z"/><path color="#0063b4" d="M609.7 415.6l2.8-1.6-2.8-3.8-2.8 1.7z"/><path color="#0055b3" d="M615.3 417.4l2.8-1.5-2.8-3.5-2.8 1.6z"/><path color="#0048b3" d="M620.9 419l2.8-1.5-2.8-3.1-2.8 1.5z"/><path color="#003db1" d="M626.4 420.3l2.8-1.4-2.8-2.8-2.8 1.4z"/><path color="#00aa97" d="M545 404.4l2.8-4-2.9-2.7-2.8 4.2z"/><path color="#00ae8d" d="M550.6 403.4l2.8-3.9-2.9-3.2-2.8 4.1z"/><path color="#00b088" d="M556.2 403l2.8-3.7-2.9-3.7-2.8 3.9z"/><path color="#00b089" d="M561.9 403.2l2.8-3.5-2.9-4.2-2.8 3.7z"/><path color="#00af8f" d="M567.5 404l2.8-3.2-2.9-4.5-2.8 3.4z"/><path color="#00ad99" d="M573.2 405.3l2.8-2.9-2.8-4.7-2.8 3.1z"/><path color="#00a9a7" d="M578.8 407l2.8-2.6-2.8-4.8-2.8 2.8z"/><path color="#009fb0" d="M584.5 408.9l2.8-2.3-2.8-4.8-2.8 2.5z"/><path color="#008fb2" d="M590.1 411.1l2.8-2.1-2.8-4.6-2.8 2.3z"/><path color="#007fb3" d="M595.7 413.2l2.8-1.9-2.8-4.4-2.8 2z"/><path color="#006fb4" d="M601.3 415.3l2.8-1.8-2.8-4.1-2.8 1.9z"/><path color="#0060b4" d="M606.9 417.2l2.8-1.6-2.8-3.8-2.8 1.7z"/><path color="#0052b4" d="M612.5 419l2.8-1.5-2.8-3.4-2.8 1.6z"/><path color="#0046b3" d="M618.1 420.5l2.8-1.5-2.8-3.1-2.8 1.5z"/><path color="#003bb1" d="M623.6 421.7l2.8-1.4-2.8-2.7-2.8 1.5z"/><path color="#00a8a5" d="M547.8 407.2l2.8-3.8-2.9-3-2.8 4z"/><path color="#00aa9f" d="M553.5 406.6l2.8-3.7-2.9-3.5-2.8 3.9z"/><path color="#00ab9e" d="M559.1 406.6l2.8-3.5-2.9-3.9-2.8 3.7z"/><path color="#00aba2" d="M564.7 407.2l2.8-3.2-2.9-4.2-2.8 3.5z"/><path color="#00a9aa" d="M570.4 408.2l2.8-2.9-2.8-4.5-2.8 3.2z"/><path color="#00a2b0" d="M576 409.6l2.8-2.7-2.8-4.6-2.8 2.9z"/><path color="#0096b1" d="M581.7 411.4l2.8-2.4-2.8-4.6-2.8 2.6z"/><path color="#0088b3" d="M587.3 413.3l2.8-2.2-2.8-4.5-2.8 2.3z"/><path color="#0079b4" d="M592.9 415.2l2.8-2-2.8-4.3-2.8 2.1z"/><path color="#006ab5" d="M598.5 417.1l2.8-1.8-2.8-4-2.8 1.9z"/><path color="#005cb5" d="M604.1 418.9l2.8-1.7-2.8-3.7-2.8 1.8z"/><path color="#004fb4" d="M609.7 420.5l2.8-1.6-2.8-3.4-2.8 1.6z"/><path color="#0044b3" d="M615.3 422l2.8-1.5-2.8-3-2.8 1.5z"/><path color="#003ab1" d="M620.8 423.1l2.8-1.4-2.8-2.7-2.8 1.5z"/><path color="#00a1af" d="M550.7 410.2l2.8-3.6-2.9-3.3-2.8 3.8z"/><path color="#00a5b0" d="M556.3 410l2.8-3.4-2.9-3.7-2.8 3.7z"/><path color="#00a4b0" d="M561.9 410.4l2.8-3.2-2.9-4-2.8 3.5z"/><path color="#009fb1" d="M567.6 411.2l2.8-3-2.8-4.2-2.8 3.2z"/><path color="#0097b2" d="M573.2 412.3l2.8-2.7-2.8-4.4-2.8 2.9z"/><path color="#008cb3" d="M578.9 413.8l2.8-2.5-2.8-4.4-2.8 2.7z"/><path color="#0080b4" d="M584.5 415.5l2.8-2.2-2.8-4.3-2.8 2.4z"/><path color="#0073b5" d="M590.1 417.2l2.8-2-2.8-4.1-2.8 2.2z"/><path color="#0065b5" d="M595.7 419l2.8-1.9-2.8-3.9-2.8 2z"/><path color="#0058b5" d="M601.3 420.6l2.8-1.7-2.8-3.6-2.8 1.8z"/><path color="#004cb5" d="M606.9 422.1l2.8-1.6-2.8-3.3-2.8 1.7z"/><path color="#0041b3" d="M612.4 423.5l2.8-1.5-2.8-3-2.8 1.6z"/><path color="#0038b1" d="M618 424.6l2.8-1.4-2.8-2.7-2.8 1.5z"/><path color="#0094b2" d="M553.5 413.4l2.8-3.4-2.9-3.4-2.8 3.6z"/><path color="#0094b2" d="M559.2 413.5l2.8-3.2-2.9-3.7-2.8 3.4z"/><path color="#0091b3" d="M564.8 414.1l2.8-3-2.8-4-2.8 3.2z"/><path color="#008bb3" d="M570.4 415l2.8-2.7-2.8-4.1-2.8 3z"/><path color="#0082b4" d="M576 416.3l2.8-2.5-2.8-4.2-2.8 2.7z"/><path color="#0078b5" d="M581.7 417.7l2.8-2.3-2.8-4.1-2.8 2.5z"/><path color="#006cb6" d="M587.3 419.3l2.8-2.1-2.8-4-2.8 2.2z"/><path color="#0060b6" d="M592.9 420.9l2.8-1.9-2.8-3.8-2.8 2z"/><path color="#0054b6" d="M598.5 422.4l2.8-1.7-2.8-3.5-2.8 1.9z"/><path color="#0049b5" d="M604.1 423.8l2.8-1.6-2.8-3.2-2.8 1.7z"/><path color="#003fb3" d="M609.6 425l2.8-1.5-2.8-2.9-2.8 1.6z"/><path color="#0036b1" d="M615.2 426l2.8-1.5-2.8-2.6-2.8 1.5z"/><path color="#0085b4" d="M556.4 416.7l2.8-3.1-2.8-3.5-2.8 3.4z"/><path color="#0084b4" d="M562 417l2.8-2.9-2.8-3.7-2.8 3.2z"/><path color="#007fb5" d="M567.6 417.8l2.8-2.7-2.8-3.9-2.8 3z"/><path color="#0078b5" d="M573.2 418.8l2.8-2.5-2.8-4-2.8 2.7z"/><path color="#006fb6" d="M578.9 420l2.8-2.3-2.8-3.9-2.8 2.5z"/><path color="#0065b6" d="M584.5 421.4l2.8-2.1-2.8-3.8-2.8 2.3z"/><path color="#005bb6" d="M590.1 422.8l2.8-1.9-2.8-3.6-2.8 2.1z"/><path color="#0050b6" d="M595.7 424.1l2.8-1.8-2.8-3.4-2.8 1.9z"/><path color="#0046b5" d="M601.3 425.4l2.8-1.6-2.8-3.1-2.8 1.7z"/><path color="#003cb3" d="M606.8 426.5l2.8-1.5-2.8-2.8-2.8 1.6z"/><path color="#0034b1" d="M612.4 427.5l2.8-1.5-2.8-2.6-2.8 1.5z"/><path color="#0077b6" d="M559.2 419.9l2.8-2.9-2.8-3.5-2.8 3.1z"/><path color="#0074b6" d="M564.8 420.4l2.8-2.7-2.8-3.7-2.8 2.9z"/><path color="#006eb6" d="M570.4 421.3l2.8-2.5-2.8-3.7-2.8 2.7z"/><path color="#0067b7" d="M576.1 422.3l2.8-2.3-2.8-3.7-2.8 2.5z"/><path color="#005eb7" d="M581.7 423.5l2.8-2.1-2.8-3.6-2.8 2.3z"/><path color="#0055b7" d="M587.3 424.7l2.8-1.9-2.8-3.5-2.8 2.1z"/><path color="#004bb6" d="M592.9 425.9l2.8-1.8-2.8-3.3-2.8 1.9z"/><path color="#0042b5" d="M598.5 427.1l2.8-1.7-2.8-3-2.8 1.8z"/><path color="#003ab3" d="M604 428.1l2.8-1.6-2.8-2.8-2.8 1.6z"/><path color="#0032b1" d="M609.6 429l2.8-1.5-2.8-2.5-2.8 1.5z"/><path color="#0068b7" d="M562 423.1l2.8-2.6-2.8-3.4-2.8 2.9z"/><path color="#0064b7" d="M567.7 423.7l2.8-2.4-2.8-3.5-2.8 2.7z"/><path color="#005eb7" d="M573.3 424.6l2.8-2.3-2.8-3.5-2.8 2.5z"/><path color="#0057b7" d="M578.9 425.6l2.8-2.1-2.8-3.5-2.8 2.3z"/><path color="#004fb7" d="M584.5 426.6l2.8-1.9-2.8-3.3-2.8 2.1z"/><path color="#0047b6" d="M590.1 427.7l2.8-1.8-2.8-3.1-2.8 1.9z"/><path color="#003fb5" d="M595.7 428.7l2.8-1.7-2.8-2.9-2.8 1.8z"/><path color="#0037b3" d="M601.2 429.7l2.8-1.6-2.8-2.7-2.8 1.7z"/><path color="#0030b1" d="M606.8 430.5l2.8-1.5-2.8-2.4-2.8 1.6z"/><path color="#005bb8" d="M564.9 426.1l2.8-2.4-2.8-3.3-2.8 2.6z"/><path color="#0056b8" d="M570.5 426.8l2.8-2.2-2.8-3.3-2.8 2.4z"/><path color="#0050b8" d="M576.1 427.6l2.8-2.1-2.8-3.3-2.8 2.3z"/><path color="#0049b7" d="M581.7 428.5l2.8-1.9-2.8-3.2-2.8 2.1z"/><path color="#0042b6" d="M587.3 429.5l2.8-1.8-2.8-3-2.8 1.9z"/><path color="#003bb5" d="M592.9 430.4l2.8-1.7-2.8-2.8-2.8 1.8z"/><path color="#0034b3" d="M598.4 431.2l2.8-1.6-2.8-2.6-2.8 1.7z"/><path color="#002eb0" d="M604 432l2.8-1.5-2.8-2.4-2.8 1.6z"/><path color="#004eb8" d="M567.7 429l2.8-2.2-2.8-3.1-2.8 2.4z"/><path color="#0049b7" d="M573.3 429.7l2.8-2-2.8-3.1-2.8 2.2z"/><path color="#0044b7" d="M578.9 430.4l2.8-1.9-2.8-3-2.8 2.1z"/><path color="#003eb6" d="M584.5 431.3l2.8-1.8-2.8-2.9-2.8 1.9z"/><path color="#0037b4" d="M590.1 432l2.8-1.7-2.8-2.7-2.8 1.8z"/><path color="#0031b2" d="M595.6 432.8l2.8-1.6-2.8-2.5-2.8 1.7z"/><path color="#002cb0" d="M601.2 433.4l2.8-1.5-2.8-2.3-2.8 1.6z"/><path color="#0043b7" d="M570.5 431.7l2.8-2-2.8-2.9-2.8 2.2z"/><path color="#003eb6" d="M576.1 432.3l2.8-1.9-2.8-2.8-2.8 2z"/><path color="#0039b5" d="M581.7 433l2.8-1.8-2.8-2.7-2.8 1.9z"/><path color="#0034b4" d="M587.3 433.7l2.8-1.7-2.8-2.6-2.8 1.8z"/><path color="#002eb2" d="M592.8 434.3l2.8-1.6-2.8-2.4-2.8 1.7z"/><path color="#0029af" d="M598.4 434.9l2.8-1.5-2.8-2.2-2.8 1.6z"/><path color="#0039b6" d="M573.3 434.2l2.8-1.8-2.8-2.7-2.8 2z"/><path color="#0035b4" d="M578.9 434.7l2.8-1.7-2.8-2.6-2.8 1.9z"/><path color="#0030b3" d="M584.5 435.3l2.8-1.6-2.8-2.4-2.8 1.8z"/><path color="#002cb1" d="M590 435.9l2.8-1.6-2.8-2.3-2.8 1.7z"/><path color="#0027ae" d="M595.6 436.4l2.8-1.5-2.8-2.1-2.8 1.6z"/><path color="#0031b3" d="M576.1 436.5l2.8-1.7-2.8-2.4-2.8 1.8z"/><path color="#002db2" d="M581.7 437l2.8-1.6-2.8-2.3-2.8 1.7z"/><path color="#0029b0" d="M587.3 437.4l2.8-1.5-2.8-2.2-2.8 1.6z"/><path color="#0025ad" d="M592.8 437.9l2.8-1.5-2.8-2.1-2.8 1.6z"/><path color="#002ab1" d="M578.9 438.5l2.8-1.6-2.8-2.2-2.8 1.7z"/><path color="#0026af" d="M584.5 439l2.8-1.5-2.8-2.1-2.8 1.6z"/><path color="#0023ac" d="M590 439.3l2.8-1.5-2.8-2-2.8 1.5z"/><path color="#0024ad" d="M581.7 440.5l2.8-1.5-2.8-2-2.8 1.6z"/><path color="#0021ab" d="M587.2 440.8l2.8-1.4-2.8-1.9-2.8 1.5z"/><path color="#001fa9" d="M584.5 442.2l2.8-1.4-2.8-1.8-2.8 1.5z"/></g><path d="M543.5 352.1 544.5 351.1 545.5 350.1 546.5 349.4 547.5 348.4 548.5 347.4 549.5 346.5 550.5 345.5 551.5 344.6 552.5 344.0 553.5 343.1 554.5 342.2 555.5 341.3 556.5 340.5 557.5 340.0 558.5 339.2 559.5 338.4 560.5 337.7 561.5 337.0 562.5 336.5 563.5 335.8 564.5 335.2 565.5 334.6 566.5 334.0 567.5 333.6 568.5 333.0 569.5 332.5 570.5 332.0 571.5 331.5 572.5 331.2 573.5 330.8 574.5 330.4 575.5 330.0 576.5 329.7 577.5 329.3 578.5 329.0 579.5 328.6 580.5 328.1 581.5 327.7 582.5 326.9 583.5 326.2 584.5 325.6 585.5 325.2 586.5 324.9 587.5 324.5 588.5 324.1 589.5 323.7 590.5 323.5 591.5 323.1 592.5 322.8 593.5 322.6 594.5 322.4 595.5 322.2 596.5 322.0 597.5 321.9 598.5 321.8 599.5 321.8 600.5 321.8 601.5 321.8 602.5 321.8 603.5 321.9 604.5 322.0 605.5 322.2 606.5 322.4 607.5 322.6 608.5 323.0 609.5 323.4 610.5 323.8 611.5 324.1 612.5 324.7 613.5 325.3 614.5 326.0 615.5 326.7 616.5 327.2 617.5 328.1 618.5 329.0 619.5 329.9 620.5 330.6 621.5 331.6 622.5 332.7 623.5 333.9 624.5 335.1 625.5 336.0 626.5 337.3 627.5 338.6 628.5 340.0 629.5 341.5 630.5 343.0 631.5 344.5 632.5 345.6 633.5 347.1 634.5 348.8 635.5 350.4 636.5 352.1" fill="none" stroke="#111" stroke-width="1.50" stroke-linejoin="round" stroke-linecap="round" opacity=".85"/><text x="497.9" y="408.6" font-size="8.00" text-anchor="end">0</text><path d="M500.9 407.6h-1.6" stroke="#222" stroke-width=".6"/><text x="495.6" y="387.8" font-size="8.00" text-anchor="end">5x10<tspan font-size="4.60" dy="-3.20">6</tspan></text><path d="M499.8 386.5h-1.6" stroke="#222" stroke-width=".6"/><text x="494.6" y="366.7" font-size="8.00" text-anchor="end">1x10<tspan font-size="4.60" dy="-3.20">7</tspan></text><path d="M498.8 365.4h-1.6" stroke="#222" stroke-width=".6"/><text x="493.6" y="345.6" font-size="8.00" text-anchor="end">1.5x10<tspan font-size="4.60" dy="-3.20">7</tspan></text><path d="M497.8 344.3h-1.6" stroke="#222" stroke-width=".6"/><text x="492.6" y="324.5" font-size="8.00" text-anchor="end">2x10<tspan font-size="4.60" dy="-3.20">7</tspan></text><path d="M496.8 323.2h-1.6" stroke="#222" stroke-width=".6"/><text x="587.2" y="481.5" font-size="7.90">1</text><text x="607.0" y="471.7" font-size="7.90">2</text><text x="627.7" y="461.9" font-size="7.90">3</text><text x="648.3" y="452.1" font-size="7.90">4</text><text x="668.9" y="442.3" font-size="7.90">5</text><text x="581.6" y="481.7" font-size="7.90" text-anchor="end">1</text><text x="570.2" y="476.1" font-size="7.90" text-anchor="end">3</text><text x="558.4" y="470.5" font-size="7.90" text-anchor="end">5</text><text x="546.7" y="464.9" font-size="7.90" text-anchor="end">7</text><text x="534.9" y="459.2" font-size="7.90" text-anchor="end">9</text><text x="523.2" y="453.6" font-size="7.90" text-anchor="end">11</text><text x="511.4" y="448.0" font-size="7.90" text-anchor="end">13</text><text x="499.7" y="442.4" font-size="7.90" text-anchor="end">15</text><path d="M156.6 17.1V70.1" stroke="#333" stroke-width=".7"/><rect x="136.3" y="6.3" width="25.3" height="10.8" fill="#fff" stroke="#888" stroke-width=".7"/><text x="137.9" y="14.7" font-size="7.00">1.7x10<tspan font-size="4.20" dy="-2.60">7</tspan></text><path d="M387.5 14.6V69.9" stroke="#333" stroke-width=".7"/><rect x="369.9" y="3.8" width="24.6" height="10.8" fill="#fff" stroke="#888" stroke-width=".7"/><text x="371.5" y="12.2" font-size="7.00">1.7x10<tspan font-size="4.20" dy="-2.60">7</tspan></text><path d="M609.7 16.1V69.1" stroke="#333" stroke-width=".7"/><rect x="589.2" y="5.7" width="24.6" height="10.4" fill="#fff" stroke="#888" stroke-width=".7"/><text x="590.8" y="13.7" font-size="7.00">1.7x10<tspan font-size="4.20" dy="-2.60">7</tspan></text><path d="M123.7 307.0V323.0" stroke="#333" stroke-width=".7"/><rect x="103.3" y="296.3" width="25.4" height="10.7" fill="#fff" stroke="#888" stroke-width=".7"/><text x="104.9" y="304.6" font-size="7.00">1.7x10<tspan font-size="4.20" dy="-2.60">7</tspan></text><path d="M353.7 307.4V328.1" stroke="#333" stroke-width=".7"/><rect x="338.5" y="297.3" width="25.1" height="10.1" fill="#fff" stroke="#888" stroke-width=".7"/><text x="340.1" y="305.0" font-size="7.00">1.7x10<tspan font-size="4.20" dy="-2.60">7</tspan></text><path d="M581.8 307.4V327.4" stroke="#333" stroke-width=".7"/><rect x="565.4" y="297.9" width="25.2" height="9.5" fill="#fff" stroke="#888" stroke-width=".7"/><text x="567.0" y="305.0" font-size="7.00">1.7x10<tspan font-size="4.20" dy="-2.60">7</tspan></text><circle cx="41.00" cy="14.70" r="13.9" fill="none" stroke="#888" stroke-width=".7"/><text x="41.00" y="21.90" font-size="21" text-anchor="middle" fill="#000">A</text><circle cx="282.50" cy="14.50" r="13.9" fill="none" stroke="#888" stroke-width=".7"/><text x="282.50" y="21.70" font-size="21" text-anchor="middle" fill="#000">B</text><circle cx="504.25" cy="14.60" r="13.9" fill="none" stroke="#888" stroke-width=".7"/><text x="504.25" y="21.80" font-size="21" text-anchor="middle" fill="#000">C</text><circle cx="40.90" cy="292.40" r="13.9" fill="none" stroke="#888" stroke-width=".7"/><text x="40.90" y="299.60" font-size="21" text-anchor="middle" fill="#000">D</text><circle cx="282.25" cy="292.40" r="13.9" fill="none" stroke="#888" stroke-width=".7"/><text x="282.25" y="299.60" font-size="21" text-anchor="middle" fill="#000">E</text><circle cx="504.35" cy="292.05" r="13.9" fill="none" stroke="#888" stroke-width=".7"/><text x="504.35" y="299.25" font-size="21" text-anchor="middle" fill="#000">F</text><text transform="translate(13.9 129.4) rotate(-90)" font-size="10.3">Biomass (cells/mL)</text><text transform="translate(245.5 128.4) rotate(-90)" font-size="10.3">Biomass (cells/mL)</text><text transform="translate(470.5 128.4) rotate(-90)" font-size="10.3">Biomass (cells/mL)</text><text transform="translate(13.6 431.5) rotate(-90)" font-size="10.3">Biomass (cells/mL)</text><text transform="translate(246.0 432.4) rotate(-90)" font-size="10.3">Biomass (cells/mL)</text><text transform="translate(470.9 432.8) rotate(-90)" font-size="10.3">Biomass (cells/mL)</text><text x="34.5" y="182.7" font-size="10.20" textLength="18.1" lengthAdjust="spacingAndGlyphs">B:LI</text><text x="19.9" y="195.0" font-size="10.20" textLength="52.5" lengthAdjust="spacingAndGlyphs">(µmol/m<tspan font-size="6" dy="-3.5">2</tspan><tspan dy="3.5">/s)</tspan></text><text x="175.5" y="189.6" font-size="10.20" textLength="38.7" lengthAdjust="spacingAndGlyphs">A:IR (%)</text><text x="248.0" y="188.2" font-size="10.20" textLength="50.0" lengthAdjust="spacingAndGlyphs">C: CO<tspan font-size="6.5" dy="1.5">2</tspan><tspan dy="-1.5"> (%)</tspan></text><text x="403.7" y="188.3" font-size="10.20" textLength="42.5" lengthAdjust="spacingAndGlyphs">A: IR (%)</text><text x="486.5" y="188.4" font-size="10.20" textLength="58.4" lengthAdjust="spacingAndGlyphs">D: HT (days)</text><text x="629.0" y="188.3" font-size="10.20" textLength="42.5" lengthAdjust="spacingAndGlyphs">A: IR (%)</text><text x="14.9" y="473.7" font-size="10.20" textLength="49.9" lengthAdjust="spacingAndGlyphs">C: CO<tspan font-size="6.5" dy="1.5">2</tspan><tspan dy="-1.5"> (%)</tspan></text><text x="189.7" y="469.7" font-size="10.20" textLength="18.4" lengthAdjust="spacingAndGlyphs">B:LI</text><text x="173.9" y="482.8" font-size="10.20" textLength="52.1" lengthAdjust="spacingAndGlyphs">(µmol/m<tspan font-size="6" dy="-3.5">2</tspan><tspan dy="3.5">/s)</tspan></text><text x="261.5" y="474.9" font-size="10.20" textLength="59.2" lengthAdjust="spacingAndGlyphs">D: HT (days)</text><text x="421.5" y="470.2" font-size="10.20" textLength="18.4" lengthAdjust="spacingAndGlyphs">B:LI</text><text x="409.2" y="482.8" font-size="10.20" textLength="50.8" lengthAdjust="spacingAndGlyphs">(µmol/m<tspan font-size="6" dy="-3.5">2</tspan><tspan dy="3.5">/s)</tspan></text><text x="486.5" y="474.9" font-size="10.20" textLength="59.2" lengthAdjust="spacingAndGlyphs">D: HT (days)</text><text x="634.7" y="472.7" font-size="10.20" textLength="49.8" lengthAdjust="spacingAndGlyphs">C: CO<tspan font-size="6.5" dy="1.5">2</tspan><tspan dy="-1.5"> (%)</tspan></text><text x="25.1" y="224.0" font-size="9.15">Factors coding: Actual</text><text x="25.1" y="234.8" font-size="9.15">Biomass (cells/mL)</text><rect x="26.1" y="239.9" width="5.9" height="27.0" fill="url(#cb)" stroke="#666" stroke-width=".4"/><text x="34.6" y="246.5" font-size="8.40" fill="#f03434">1.9 x10<tspan font-size="4.80" dy="-3.30">7</tspan></text><text x="34.6" y="264.0" font-size="8.40" fill="#3c3cff">2.1 x10<tspan font-size="4.80" dy="-3.30">5</tspan></text><text x="255.4" y="223.8" font-size="9.15">Factors coding: Actual</text><text x="255.4" y="234.6" font-size="9.15">Biomass (cells/mL)</text><rect x="256.7" y="239.7" width="6.4" height="27.0" fill="url(#cb)" stroke="#666" stroke-width=".4"/><text x="265.0" y="246.7" font-size="8.40" fill="#f03434">1.9 x10<tspan font-size="4.80" dy="-3.30">7</tspan></text><text x="265.0" y="264.4" font-size="8.40" fill="#3c3cff">2.1 x10<tspan font-size="4.80" dy="-3.30">5</tspan></text><text x="491.3" y="223.8" font-size="9.15">Factors coding: Actual</text><text x="491.3" y="234.8" font-size="9.15">Biomass (cells/mL)</text><rect x="492.6" y="239.5" width="6.3" height="26.7" fill="url(#cb)" stroke="#666" stroke-width=".4"/><text x="501.4" y="246.4" font-size="8.40" fill="#f03434">1.9 x10<tspan font-size="4.80" dy="-3.30">7</tspan></text><text x="501.4" y="264.0" font-size="8.40" fill="#3c3cff">2.1 x10<tspan font-size="4.80" dy="-3.30">5</tspan></text><text x="24.0" y="506.6" font-size="9.15">Factors coding: Actual</text><text x="24.0" y="517.3" font-size="9.15">Biomass (cells/mL)</text><rect x="24.7" y="522.5" width="6.0" height="26.8" fill="url(#cb)" stroke="#666" stroke-width=".4"/><text x="32.9" y="529.0" font-size="8.40" fill="#f03434">1.9 x10<tspan font-size="4.80" dy="-3.30">7</tspan></text><text x="32.9" y="547.1" font-size="8.40" fill="#3c3cff">2.1 x10<tspan font-size="4.80" dy="-3.30">5</tspan></text><text x="265.7" y="506.7" font-size="9.15">Factors coding: Actual</text><text x="265.7" y="518.3" font-size="9.15">Biomass (cells/mL)</text><rect x="267.3" y="522.8" width="6.4" height="27.2" fill="url(#cb)" stroke="#666" stroke-width=".4"/><text x="275.3" y="529.2" font-size="8.40" fill="#f03434">1.9 x10<tspan font-size="4.80" dy="-3.30">7</tspan></text><text x="275.3" y="546.8" font-size="8.40" fill="#3c3cff">2.1 x10<tspan font-size="4.80" dy="-3.30">5</tspan></text><text x="477.8" y="506.7" font-size="9.15">Factors coding: Actual</text><text x="477.8" y="518.1" font-size="9.15">Biomass (cells/mL)</text><rect x="479.5" y="522.8" width="5.7" height="27.2" fill="url(#cb)" stroke="#666" stroke-width=".4"/><text x="487.5" y="529.2" font-size="8.40" fill="#f03434">1.9 x10<tspan font-size="4.80" dy="-3.30">7</tspan></text><text x="487.5" y="546.8" font-size="8.40" fill="#3c3cff">2.1 x10<tspan font-size="4.80" dy="-3.30">5</tspan></text><text x="137.1" y="224.5" font-size="9.15" textLength="58.6" lengthAdjust="spacingAndGlyphs">Actual Factors</text><text x="137.1" y="235.6" font-size="9.15" textLength="59.2" lengthAdjust="spacingAndGlyphs">C:CO<tspan font-size="5.6" dy="2.6">2</tspan><tspan dy="-2.6"> = 3.6 %</tspan></text><text x="137.1" y="246.5" font-size="9.15" textLength="62.7" lengthAdjust="spacingAndGlyphs">D: Harvest time</text><text x="147.3" y="257.2" font-size="9.15" textLength="47.5" lengthAdjust="spacingAndGlyphs">= 10.6 days</text><text x="368.2" y="224.7" font-size="9.15" textLength="58.5" lengthAdjust="spacingAndGlyphs">Actual Factors</text><text x="368.2" y="235.8" font-size="9.15" textLength="64.8" lengthAdjust="spacingAndGlyphs">B:Light intensity</text><text x="377.9" y="246.5" font-size="9.15" textLength="83.1" lengthAdjust="spacingAndGlyphs">=&#160; 2015.8 µmol/m<tspan font-size="5.5" dy="-3.3">2</tspan><tspan dy="3.3">/s</tspan></text><text x="368.2" y="257.4" font-size="9.15" textLength="62.5" lengthAdjust="spacingAndGlyphs">D: Harvest time</text><text x="377.9" y="268.6" font-size="9.15" textLength="47.6" lengthAdjust="spacingAndGlyphs">= 10.6 days</text><text x="587.8" y="223.4" font-size="9.15" textLength="58.5" lengthAdjust="spacingAndGlyphs">Actual Factors</text><text x="587.8" y="234.5" font-size="9.15" textLength="64.9" lengthAdjust="spacingAndGlyphs">B:Light intensity</text><text x="587.8" y="245.3" font-size="9.15" textLength="78.3" lengthAdjust="spacingAndGlyphs">=&#160; 205.8 µmol/m<tspan font-size="5.5" dy="-3.3">2</tspan><tspan dy="3.3">/s</tspan></text><text x="587.8" y="256.5" font-size="9.15" textLength="64.4" lengthAdjust="spacingAndGlyphs">D: CO2 = 3.6 %</text><text x="136.7" y="506.9" font-size="9.15" textLength="58.5" lengthAdjust="spacingAndGlyphs">Actual Factors</text><text x="136.7" y="518.1" font-size="9.15" textLength="60.6" lengthAdjust="spacingAndGlyphs">B:IR = 100 (%)</text><text x="136.7" y="529.2" font-size="9.15" textLength="62.5" lengthAdjust="spacingAndGlyphs">D: Harvest time</text><text x="146.7" y="539.7" font-size="9.15" textLength="47.3" lengthAdjust="spacingAndGlyphs">= 10.6 days</text><text x="371.0" y="506.9" font-size="9.15" textLength="58.8" lengthAdjust="spacingAndGlyphs">Actual Factors</text><text x="371.0" y="518.1" font-size="9.15" textLength="60.3" lengthAdjust="spacingAndGlyphs">B:IR = 100 (%)</text><text x="371.0" y="529.0" font-size="9.15" textLength="34.5" lengthAdjust="spacingAndGlyphs">D: 3.6 %</text><text x="590.4" y="506.9" font-size="9.15" textLength="58.4" lengthAdjust="spacingAndGlyphs">Actual Factors</text><text x="590.4" y="518.1" font-size="9.15" textLength="60.8" lengthAdjust="spacingAndGlyphs">B:IR = 100 (%)</text><text x="590.4" y="529.0" font-size="9.15" textLength="68.2" lengthAdjust="spacingAndGlyphs">D: Light intensity</text><text x="590.4" y="539.7" font-size="9.15" textLength="75.2" lengthAdjust="spacingAndGlyphs">= 205.8 µmol/m<tspan font-size="5.5" dy="-3.3">2</tspan><tspan dy="3.3">/s</tspan></text></svg></body></html>
